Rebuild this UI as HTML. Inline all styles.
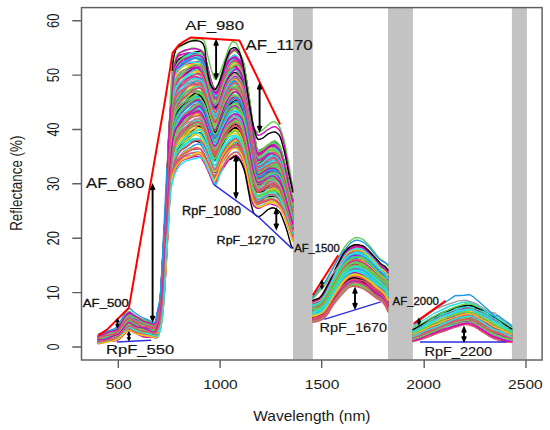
<!DOCTYPE html>
<html><head><meta charset="utf-8"><title>Reflectance spectra</title>
<style>html,body{margin:0;padding:0;background:#fff;width:550px;height:430px;overflow:hidden}svg{display:block}</style>
</head><body><svg width="550" height="430" viewBox="0 0 550 430">
<rect x="0" y="0" width="550" height="430" fill="#fff"/>
<rect x="293.0" y="7.5" width="19.8" height="352" fill="#c3c3c3"/>
<rect x="388.0" y="7.5" width="24.9" height="352" fill="#c3c3c3"/>
<rect x="511.9" y="7.5" width="15.0" height="352" fill="#c3c3c3"/>
<g fill="none" stroke-width="1.4" stroke-linejoin="round" stroke-linecap="round">
<path stroke="#DF536B" d="M98.4 335.6l3.5 -.2l2.5 -.5l6 -2.5l4.5 -1.5l1.5 -.9l1 -1.1l2 -3l6 -9.9l1.5 -1.3l1.5 -.7l.5 -.1l1 .3l3 2.6l2 1l8.5 3.6l5.5 1.7l4 2l1 .2l1 -.4l.5 -.4l.5 -1.2l1 -5.5l2.5 -10.6l1 -7.9l.5 -6.5l5 -86.5l3 -68.3l1 -16.6l2.5 -33.5l1.5 -12.3l1 -5.2l1 -4.1l1 -2.5l1.5 -2.4l1.5 -1.7l1.5 -1.2l2.5 -1.2l4.5 -1.3l4.5 -1.8l2 -.5l1.5 0l1.5 .5l1.5 1l1.5 1.3l2.5 3.9l1.5 4.1l1.5 5.1l4.5 19.3l2 6.4l1 2.3l.5 .7l1 .9l.5 .1l.5 -.3l1 -1.5l1 -2.4l6.5 -21l2 -4.4l2 -3.5l1 -1.2l2.5 -2.1l1.5 -1l1 -.4l1 -.1l1 .3l2 1.1l1 1l1.5 2.3l1.5 3.4l1.5 5.7l4.5 26.7l5 34.9l2.5 13.2l1 3.5l.5 .8l1 .1l1.5 -.4l1.5 -.7l1.5 -1.3l4.5 -5.1l3 -2.3l2 -.9l1.5 -.1l1.5 .6l2 1.6l1.5 1.6l1 2l1 2.9l3 10.8l4.5 21.8l3.9 15.1"/>
<path stroke="#28E2E5" d="M312.8 303.2l6 -2.6l1.5 -1.2l1.5 -1.7l2 -3.2l12 -23.4l8 -14.4l2 -2.6l2.5 -2.4l1.5 -1.1l4.5 -2.2l2.5 -.6l2.5 .1l3 .8l2.5 1.6l6 4.6l3 2.8l2.5 2.8l4.5 6l4.5 3.8l2.7 3.9"/>
<path stroke="#61D04F" d="M413 331l8.5 -6.1l5 -2.6l3 -1.8l1.5 -1.2l4.5 -2.6l4.5 -1.6l.5 .2l.5 -.4l2 -1l1 -.2l.5 -.4l.5 -.1l3 -1.7l.5 -.1l2.5 -1.2l.5 0l.5 -.3l1 -.3l.5 .1l1 -.6l1 .3l.5 -.2l.5 -.4l1.5 -.3l1 -.6l.5 .1l.5 -.2l.5 -.4l2.5 -.5l1.5 -.6l1.5 .4l.5 -.3l.5 .1l.5 .3l1.5 .2l.5 -.1l.5 .4l.5 -.2l1 .4l1 -.3l1 .6l1 0l1.5 .5l.5 -.2l.5 .3l1.5 .3l.5 .4l.5 .1l.5 .9l.5 -.2l1 .5l.5 .7l.5 -.3l2 1.4l.5 .6l.5 -.3l1 1.3l.5 -.2l.5 .3l1 0l1 1.4l1 -.1l.5 .7l1 .8l1 .3l.5 .5l.5 -.2l.5 1.1l.5 .1l1 1l.5 0l.5 .4l1 .3l.5 .9l.5 .4l.5 .1l.5 .8l1 .6l1 0l.5 1l.5 .2l1 .3l1.5 .8l.5 -.1l.5 1l.5 -.3l1.5 1.5l.5 -.2l.5 1.2l.5 .2l1 1l.5 -.2l.3 -.5"/>
<path stroke="#61D04F" d="M98.4 336.7l2.5 -.7l5 -.4l2.5 -.5l2.5 -.9l5.5 -2.6l1.5 -1.5l2 -2.6l6 -9.6l2 -1.8l1 -.5l.5 -.1l1 .6l2.5 2.6l2.5 2l1.5 .9l2 .9l8 2l2 .8l2.5 1.3l1.5 .5l1.5 -.1l1 -.6l.5 -.9l1.5 -6.5l2 -7.5l1 -7.1l.5 -5.8l5 -79.7l3.5 -72l2 -26.1l1.5 -15.4l1.5 -8.9l1 -4.1l1 -3l2 -3l2.5 -2.8l3 -2.9l3.5 -2.5l8 -4.7l2 -1l1.5 -.3l1 0l1 .4l1 1l1 1.3l1 1.9l2 5.6l4.5 17.1l2 6.2l1.5 3.2l.5 .6l1 .5l.5 -.1l.5 -.5l1.5 -2.7l7 -21.3l2.5 -5.5l2 -3.4l1 -1.1l1.5 -1l1.5 -.7l1 0l1 .2l1 .7l3 3l1.5 2.2l1.5 3.2l1 2.8l1 4.3l4 23.5l5.5 35.8l2 9.4l1 3.7l.5 1l.5 .5l2 -.1l2.5 -.6l2.5 -1.4l6 -4.5l1.5 -.8l1 -.3l1 -.1l1.5 .7l1.5 1.1l1.5 1.6l1 1.6l1 2.3l3.5 11.1l4.5 19.7l3.9 14.7"/>
<path stroke="#CD0BBC" d="M312.8 303.7l6 -1.7l1.5 -1.1l2 -2.2l1.5 -2.3l5 -9.1l8.5 -17.2l3.5 -6.4l2 -3.2l2 -2.4l3 -2.5l2 -1.2l4 -1.8l2.5 -.5l2.5 .2l4 .8l2.5 1.5l3 2.3l2 1.8l9.5 10.4l1.5 1.2l3.5 2.2l1.5 1.8l1.7 2.7"/>
<path stroke="#CD0BBC" d="M413 332.4l6.5 -4.5l8 -4.2l3.5 -2.2l3 -1.6l3 -1.1l1 -.5l1.5 -.2l1.5 -.7l.5 -.4l1.5 -.5l1 -1l.5 .2l.5 -.5l.5 -.1l2.5 -1.5l.5 .1l2 -1l.5 .2l2.5 -1l1.5 -.1l1 -.6l.5 0l1 -.2l1 -.6l.5 .1l.5 -.4l.5 0l.5 -.4l.5 .2l.5 -.4l1 .2l1 -.6l1 -.1l.5 .2l1 -.1l1.5 .2l.5 .3l.5 -.2l.5 .1l.5 -.3l1 .4l.5 0l1 .5l.5 -.3l2 .3l3 1.1l.5 .5l.5 -.1l.5 .5l2 .8l.5 .4l1 .5l.5 .6l.5 .1l.5 .5l.5 .1l.5 .4l.5 0l1 1.2l.5 -.1l1 .4l.5 .4l.5 -.2l1.5 1.2l.5 0l1.5 1l1 .4l.5 .6l.5 -.1l1 1l.5 .2l.5 .7l1 .5l.5 .1l1 1l1 .4l.5 .5l1 .4l.5 .7l.5 -.3l1 .7l1 .1l.5 .8l2 1l.5 .1l.5 .7l.5 -.3l.5 .9l.5 -.1l1 1.4l1 .3l.3 .5"/>
<path stroke="#F5C710" d="M98.4 336.4l2.5 -.6l5.5 -2.3l7 -1.2l1.5 -.6l1 -.7l1.5 -1.7l8 -12.6l2 -1.7l1.5 -.8l1 -.1l.5 .1l2.5 1.6l4 2.1l4 2.7l1.5 .6l2 .4l4 .2l1.5 .7l3 1.8l1 .3l1 -.4l.5 -.4l.5 -1.4l1 -5.9l2.5 -10.9l1 -8.1l.5 -6.7l5 -88l3 -68.8l1 -16.4l2.5 -33.5l1.5 -11.9l1.5 -7.1l1 -3.2l.5 -1l1 -1.6l1.5 -1.5l2 -.8l5.5 -.9l5 -2.1l2.5 -.5l1.5 .2l2 .8l2.5 1.4l1.5 1.3l1 1.2l1 1.8l2 5.8l5 21.1l2 6.5l1 2.4l.5 .8l1 .9l.5 .1l1 -1.2l1 -1.9l5 -16.3l2 -5.9l2 -4.1l2 -3.4l1 -1.3l3 -3.1l1 -.8l1 -.5l1 .1l1 .4l2.5 2.3l1.5 2.3l2 4.3l1.5 5.4l4.5 26.5l5 34.7l2.5 13.4l1 3.6l.5 .7l1 -.1l1 -.5l2.5 -1.9l3.5 -3.9l1.5 -1.3l3 -1.7l2 -.9l1.5 -.4l1.5 .1l1.5 .7l2 1.8l1 1.8l1 2.7l3 11.2l1.5 6.7l3.5 17.8l3.9 15.5"/>
<path stroke="#DF536B" d="M312.8 303.3l4 -1.2l2 -.9l1.5 -1.2l2 -2.3l1.5 -2.3l6 -10.5l7.5 -15.4l5.5 -10.1l2 -2.7l3 -3.1l2 -1.5l3 -1.4l2.5 -.6l2 .2l5.5 1.5l2.5 1.5l4.5 3.8l10 10.8l1.5 1.3l3.5 2.4l1.5 1.8l1.7 2.5"/>
<path stroke="#61D04F" d="M413 331l3 -2.3l2.5 -1.6l6 -2.9l5.5 -3.4l2.5 -1.4l.5 0l.5 -.4l1 -.5l1 -.3l1.5 -.8l.5 -.1l1 -.8l.5 -.1l6 -3.7l1 -.1l.5 -.4l1 -.4l4.5 -.9l.5 .1l1.5 -.8l.5 .1l1 -.7l1 -.1l.5 -.4l.5 .1l1 -.7l1 .1l.5 -.5l.5 -.2l1 .1l1 -.4l2 0l.5 -.4l.5 .2l.5 -.3l.5 .1l.5 -.3l1 .2l.5 -.2l.5 .3l.5 -.2l1.5 .1l1 .4l.5 .4l.5 -.6l.5 .4l1 .1l.5 .4l.5 .1l1 .9l.5 -.3l.5 .7l.5 .4l.5 0l.5 .6l1 .5l.5 .6l.5 -.2l.5 .7l1 .2l1.5 1.1l.5 -.3l.5 .5l.5 .1l.5 .7l.5 -.4l.5 .7l.5 -.4l.5 .7l1 .5l1 0l.5 .4l.5 .9l1 .1l.5 .7l.5 -.1l1 .5l1 1.4l.5 -.4l1.5 1.6l.5 -.8l.5 .9l.5 .4l.5 -.3l.5 .8l1 .7l.5 0l.5 .5l.5 .1l.5 .7l1.5 .5l.5 1.2l1 .6l.5 0l.5 .5l.5 .9l1 .1l1 1.1l1 .4l.5 1l1 .3l.3 -.3"/>
<path stroke="#9E9E9E" d="M98.4 337.5l3 -.9l5.5 -.7l2 -.5l2 -.9l5.5 -3l1.5 -1.4l2.5 -2.9l5.5 -7.8l2 -1.9l1.5 -.8l1 .3l4 3.2l3 1.7l2.5 .9l4.5 .8l2 .5l2 1l3 2.1l1.5 .7l1 .1l1 -.6l.5 -.5l.5 -1.2l1 -4.7l2.5 -9.6l1 -7.1l.5 -5.8l5 -79.6l3.5 -71.7l2 -25.9l1.5 -15.1l1.5 -8.5l1 -3.8l1 -2.7l1 -1.3l1.5 -1.5l9 -6.8l2 -1.1l1.5 -.6l3.5 -.8l2 -.2l1.5 .1l1.5 .4l1 .6l1 1.2l1 1.5l1 2.1l2 5.8l4.5 17.3l1.5 4.9l1.5 3.8l.5 .9l1 .7l.5 0l.5 -.2l.5 -.5l1.5 -2.5l2.5 -7.4l4 -10.6l3 -6.1l2 -3.2l1 -1.1l2 -1.6l1 -.6l1 -.3l1 .1l1 .4l2 1.5l1.5 1.5l1.5 2.3l1.5 3.2l1.5 5.4l4 22.1l5 30.6l1 4.9l2.5 9.9l.5 1.1l.5 .5l2 -.8l3.5 -2.1l7.5 -5.8l1.5 -.9l1 -.3l1 0l1.5 .7l1 .8l1.5 1.7l1.5 2.3l1 2.3l3.5 11l4.5 19.4l3.9 14.6"/>
<path stroke="#2297E6" d="M312.8 304.3l4.5 -1.3l2 -.9l1.5 -1.2l2 -2.3l5.5 -9.7l8.5 -17.2l6.5 -12l2 -2.8l2.5 -2.7l2 -1.5l2.5 -1.2l2.5 -.5l2 .1l5 1.7l2 1.1l9 7.6l3.5 3.3l4.5 4.7l4 3.1l1.5 1.8l1.7 2.7"/>
<path stroke="#F5C710" d="M413 331.7l3 -1.9l7 -3.8l5.5 -3.5l10 -4.6l.5 0l3 -1.9l1.5 -.3l.5 -.6l.5 .2l1.5 -.7l2 -.5l2 -.8l1 -.2l1 -.8l1 0l1.5 -.7l.5 -.5l.5 -.1l.5 -.5l1 .1l1 -.7l2 .1l1.5 -.9l1 .3l.5 -.5l3 -.2l.5 -.2l1 .2l.5 -.5l.5 0l1 .5l.5 -.2l.5 .2l.5 -.1l.5 .3l.5 -.2l2 1l1 .1l.5 .5l.5 -.2l1 1.4l.5 -.1l1.5 .9l.5 .1l.5 .5l.5 0l1.5 .8l.5 -.1l.5 1l1 -.3l.5 .8l.5 0l1 .7l1 -.2l.5 .9l1 .9l.5 -.1l1 .9l.5 .2l1 .8l.5 0l.5 .9l.5 -.3l.5 .5l1 .3l1.5 1.3l1 0l.5 .6l.5 -.4l.5 .7l1 .6l.5 -.1l.5 .2l.5 1.1l.5 -.2l.5 0l1.5 1.8l.5 0l.5 .7l.5 .1l1 1l.5 -.1l.5 .6l1 .4l.5 .7l.5 -.2l.5 .6l.5 .1l.5 .4l.5 .2l.5 .7l.3 -.1"/>
<path stroke="#2297E6" d="M98.4 340.2l6 -2.8l7 -1.7l3.5 -1.3l2 -.9l4 -3.5l5 -5.9l2.5 -2.3l1 -.6l1 0l1 .5l9 5.8l2 .8l5 1.5l5 2.6l1 .2l1 -.2l1 -.6l.5 -.9l2.5 -6.9l1 -3.5l1 -5.6l1 -9.6l2.5 -32.9l2 -30.4l4 -74.5l1.5 -16.2l1.5 -11.8l1 -4.9l1 -3.7l1 -2.9l1 -2l2.5 -3.8l8.5 -11.6l2 -2.3l2 -1.7l2 -1.1l2 -.8l2 -.5l2 -.2l.5 0l1 .4l1.5 1.5l1.5 2.4l1.5 3.5l4.5 14.3l2 5.4l1.5 2.8l.5 .4l.5 .1l.5 -.2l1 -1.1l1.5 -2.7l2.5 -7.2l3 -7.1l2 -3.9l3.5 -5.6l3 -3.1l2 -1.3l1 -.2l.5 .1l1 .6l1 .9l2 2.7l1.5 2.6l2 5l1 3.4l1.5 6.9l8 44.6l1 3.9l2.5 7.6l.5 .9l.5 .4l.5 -.1l1.5 -.8l4.5 -3.1l2.5 -1.4l3.5 -1.4l2 -.6l2 0l1.5 .4l1.5 .9l1.5 1.3l1.5 2.1l1 2.1l3 7.9l4.5 16.4l3.9 13.1"/>
<path stroke="#F5C710" d="M312.8 310l6 -1.6l2 -1.3l2 -1.8l2 -2.6l3.5 -5.5l9 -16.2l3.5 -6l2 -3l2 -2.5l3 -2.8l2 -1.3l3 -1.1l2.5 -.2l2.5 .5l5 1.7l3.5 2.1l4.5 3.4l7 6.6l6.5 4.8l1.5 1.8l2.2 3.8"/>
<path stroke="#61D04F" d="M413 334.6l2.5 -1.2l8 -4.7l7.5 -3.6l4.5 -2.4l.5 0l.5 -.5l7 -2.5l.5 -.4l2 -.7l2.5 -1.4l3.5 -1.3l.5 -.4l.5 .2l1.5 -.4l.5 -.4l.5 .4l1.5 -.8l.5 .2l1 -.3l1 0l1 -.5l.5 .2l1 -.5l.5 .2l1 -.6l2.5 -.5l4 .3l1 .4l.5 -.4l1 1l.5 -.8l.5 .8l.5 -.5l1 .9l.5 .1l.5 -.2l1 .3l.5 .6l.5 0l2.5 1.5l.5 -.1l.5 .9l.5 -.5l.5 1.1l.5 -.1l2 1.5l1 .5l.5 .8l.5 0l.5 .7l1 .2l1 1l.5 -.2l1 1.1l.5 -.3l1 .8l1 -.1l1 1.1l.5 .3l1 .5l.5 -.2l1 1.1l.5 -.2l.5 .7l.5 -.1l1 .8l.5 -.3l.5 1.1l.5 -.4l1.5 1.1l1 .3l.5 .7l1 -.1l.5 -.5l.5 1l1.5 .6l1.5 1.6l.5 .1l.5 -.3l.5 .6l.5 -.2l.3 .8"/>
<path stroke="#F5C710" d="M98.4 338.5l3 -.4l1.5 -.4l5.5 -2.8l1.5 -.6l2 -.3l3.5 0l1.5 -.6l1.5 -1.5l1.5 -2l5.5 -8.8l2 -1.9l1.5 -.7l1 .1l3.5 2.4l5.5 2.4l5 3.2l2 .9l1.5 .4l5.5 .5l1.5 -.2l1 -.4l.5 -.5l3.5 -12.6l1 -6.7l.5 -5.3l5 -76l3.5 -70l1 -14l2 -21.8l1.5 -9.7l1 -4l1 -3.1l2 -3.8l2.5 -4l2 -2.5l2 -1.7l5 -2.2l5 -2.8l1.5 -.7l1 -.2l1.5 .2l1.5 .6l1 .8l2 2.7l1.5 2.8l2 5.4l4 14.1l2 5.7l1.5 3.2l1 1l.5 .2l.5 -.1l.5 -.4l1.5 -2.6l6.5 -19.6l2.5 -5.7l2 -3.5l1 -1.2l2.5 -2.3l1.5 -1.1l1 -.5l1 -.2l1 .2l2 1.4l1.5 2l1.5 3.2l1.5 4.3l1 4.1l4 22.4l5 30.9l2 9.1l1.5 5.2l.5 1l.5 .4l1.5 .2l1.5 -.3l2 -1l5 -3.9l2 -.9l1.5 -.2l1.5 .2l2 .9l2 1.2l2.5 2l1 1.4l1 2.3l3 9l4.5 18.9l3.9 14.2"/>
<path stroke="#DF536B" d="M312.8 306.9l3 -.8l3 -1.3l1.5 -1.1l2 -2l2 -2.8l3 -4.9l9 -16.2l7 -11.2l3 -3.9l2.5 -2.7l2.5 -1.7l2 -.9l2 -.3l2.5 .3l4 1.4l2 1.2l14 13.1l6.5 5.1l1.5 1.7l2.2 3.4"/>
<path stroke="#28E2E5" d="M413 333.5l3.5 -1.9l6 -2.6l7.5 -4.2l6 -2.7l5 -2.9l1.5 -.7l1.5 -.4l.5 -.4l1 -.1l1.5 -.8l1 -.1l.5 -.2l.5 .1l1.5 -.8l3.5 -1.1l.5 -.5l1.5 -.2l.5 -.4l1 -.4l3 -.4l.5 -.4l.5 .2l.5 -.2l.5 .2l1.5 -.6l.5 .4l.5 -.3l1 -.3l1 .2l1 -.3l.5 .4l1 -.3l.5 .4l.5 -.1l.5 .3l.5 -.2l.5 .3l.5 -.2l.5 .5l.5 -.2l.5 .6l.5 -.3l1 1.1l1 .6l.5 -.1l.5 .8l.5 .3l.5 -.3l2 1.3l.5 -.4l.5 .9l1 0l.5 .7l.5 -.1l.5 .5l1 .2l.5 .5l1.5 .2l1 1.1l.5 .1l.5 .8l.5 0l2.5 1.4l.5 -.1l.5 .5l.5 .9l.5 0l.5 .3l.5 0l1 1.1l1 .2l.5 .7l.5 -.1l.5 .2l.5 .7l.5 -.5l.5 .8l.5 -.1l3 2.1l1 1l.5 0l.5 .3l1 .1l.5 .7l.5 .1l.5 .5l.5 -.5l.5 1.5l.5 -.9l1 1l.5 -.5l.5 .5l.3 -.3"/>
<path stroke="#61D04F" d="M98.4 342.6l3.5 -.8l5 -.3l2 -.3l9.5 -3.4l3 -1.8l5.5 -5.1l1.5 -1.2l1 -.4l1.5 .4l4.5 2.9l2 .8l2.5 .5l4 .3l2 .3l2 .6l4 1.6l1.5 .3l2 -.3l2.5 -2.7l1.5 -4.2l1 -4.2l.5 -2.9l1.5 -12l1 -10.9l2.5 -35.7l4 -73.1l1 -10.6l1 -7.2l1 -4.4l1 -3.1l1 -2.6l1.5 -2.7l2 -2.1l3 -2.6l3 -2.2l3 -1.9l3 -1.2l6 -1.3l3.5 -.1l1 .4l1.5 2l2.5 4.6l5.5 13.1l2.5 5.5l1 1.4l.5 .2l.5 -.3l.5 -.6l1 -1.9l1.5 -3.3l2.5 -6.6l1 -2l4.5 -7.5l2.5 -3.7l2 -2l1.5 -1l1.5 -.7l2 -.2l1.5 .7l2 2.1l2 2.7l1.5 3l1.5 4.2l1.5 5.4l5 24l2 7.4l1.5 4l2.5 3.1l1 .6l.5 .1l2 -.6l9.5 -5.4l2 -.9l1.5 -.2l1.5 .1l1.5 .6l1.5 1.1l2 2.2l1.5 2.2l1.5 2.8l2 4.5l1.5 4.2l6.9 22"/>
<path stroke="#CD0BBC" d="M312.8 318.2l6.5 -1.5l2 -1l2 -1.6l2.5 -2.9l8 -12.8l6 -8.4l2.5 -3.2l2.5 -2.5l3 -2.4l2 -1.1l3.5 -1.2l2 -.2l2 .1l4.5 1.4l3 1.6l5 3.4l2 1.6l5 4.8l4.5 2.9l2.5 2.2l2 2.9l2.2 4.7"/>
<path stroke="#2297E6" d="M413 338.8l6 -1.3l2 -.7l1.5 -.6l3.5 -1.9l4.5 -1.9l3.5 -1.3l1.5 -.6l.5 -.4l.5 0l3 -1.4l2 -.5l1 -.5l1 -.2l.5 .1l1 -.7l2 -.4l1.5 -.6l.5 0l.5 -.3l.5 0l1 -.7l1.5 -.5l.5 -.6l1 -.1l.5 -.4l1.5 -.8l.5 .1l2 -.6l.5 -.5l.5 .2l2 -.6l.5 .2l1 -.3l1.5 -.2l.5 -.5l2 .6l.5 -.4l.5 .5l.5 -.2l1.5 .2l.5 .4l.5 -.1l.5 .2l1 .6l.5 -.3l2 1.9l.5 -.2l1.5 1.3l.5 .1l.5 .6l1 -.1l1.5 1.6l.5 -.4l1 1l.5 -.5l.5 1.1l.5 .3l.5 -.5l.5 1l.5 .1l.5 .7l1 .3l1 .9l1 .5l.5 0l.5 .8l.5 .2l.5 .8l.5 -.2l1 .4l.5 .6l1 .1l.5 .7l.5 .2l.5 -.3l.5 0l.5 .7l.5 -.4l.5 1.1l.5 -.6l.5 .4l.5 -.4l1 .9l1 -.1l.5 .9l.5 -.2l1 -.1l.5 .3l.5 .6l.5 -.4l.5 .3l.5 -.1l.5 .7l.5 -.2l.5 .4l.5 0l.5 -.3l.5 .5l.5 .1l.5 -.5l1 1.5l.5 -1l.5 .3l.5 -.5l.3 .6"/>
<path stroke="#CD0BBC" d="M98.4 337.7l2.5 -.6l2 -.7l7.5 -3.8l2 -.7l3 -.6l1.5 -.8l3 -3.6l5.5 -8.6l2 -1.9l1.5 -.9l1 0l.5 .2l2.5 1.8l5 2.4l6.5 3.9l7.5 3.3l1.5 .3l1 -.3l1 -.8l.5 -1.1l1.5 -6.9l2 -7.6l1 -7.3l.5 -5.9l5 -81.1l3.5 -73.2l3 -38.3l1.5 -10.9l1 -4.5l1 -3.5l1 -2.1l2.5 -3.7l2.5 -2.8l2.5 -2.2l3 -1.7l3 -1.5l2.5 -.7l2 -.4l1.5 .1l2 .7l2 1.1l1 1l1.5 2.1l1 1.8l2 5.4l4.5 17.1l2 6l1.5 3.2l1 .9l.5 .1l.5 -.1l.5 -.3l1.5 -2.4l6.5 -19.8l2.5 -5.7l2 -3.6l1 -1.3l2.5 -2.6l1.5 -1.2l1 -.5l1 -.1l1 .3l1.5 1l1 1.1l1.5 2.3l1.5 3.5l1 3.1l1 4.5l4 23.7l5.5 36.4l2.5 11.9l1 3.2l.5 .6l.5 .1l2 -.5l2.5 -1.4l5 -4l2.5 -1l1.5 -.3l1.5 .1l2 .8l2 1.4l2 1.9l1 1.6l1 2.4l3 9.2l4.5 19.2l3.9 14"/>
<path stroke="#28E2E5" d="M312.8 306.8l3 -.9l3 -1.2l2 -1.7l2 -2.2l6.5 -10.6l8 -15.6l4 -7.4l2 -3.4l2 -2.6l2.5 -2.6l2 -1.4l2.5 -1.1l2 -.3l2.5 .2l6 1.8l2.5 1.5l5 4.3l9 9.8l5.5 4.5l1.5 1.9l1.7 2.7"/>
<path stroke="#F5C710" d="M413 333l4.5 -2.8l6.5 -2.8l2.5 -1.5l4.5 -3.2l2.5 -1.3l1 -.2l.5 -.4l1 -.4l1.5 -.4l1 -.5l2 -.7l1 -.6l1 -.3l.5 -.5l.5 .1l.5 -.3l.5 -.4l.5 .1l.5 -.4l1 -.1l1 -.6l4.5 -.8l1 -.5l.5 .1l.5 -.5l.5 0l.5 -.4l2 -.7l.5 -.6l.5 .3l1.5 -1.3l.5 .3l1 -.6l1 -.1l1 -.5l1 .1l1 -.4l.5 .3l.5 -.5l1 .6l1.5 -.1l.5 .2l1 -.4l.5 .4l.5 -.6l.5 .3l.5 .7l1 -.3l1.5 .7l.5 -.1l.5 .2l2 1.1l.5 .6l.5 -.1l.5 .5l1 .4l.5 .8l1 .1l.5 .4l.5 0l.5 .6l1 .5l.5 -.2l1 1.1l.5 -.3l1 .8l.5 -.4l.5 .9l1 .4l.5 .5l1 .3l.5 .4l.5 .2l.5 .5l.5 -.2l.5 1.3l.5 -.2l.5 .6l2 1.3l.5 -.1l1 1.3l.5 -.3l.5 .3l.5 1.1l.5 0l.5 .4l.5 -.2l1.5 1l1 0l.5 .5l.5 0l.5 1.2l.5 -.3l2 1.6l1 0l.5 1.3l.5 -.4l1.5 .9l1 1l.3 -.4"/>
<path stroke="#61D04F" d="M98.4 340.8l4.5 -1.4l8 -.8l2.5 -.8l2.5 -1.2l1.5 -1l2.5 -2.3l6.5 -7.6l2 -1.7l1 -.4l1 .3l5.5 3.9l3.5 1.9l2.5 .6l6 .7l5.5 2l1.5 0l.5 -.2l.5 -.4l2 -4.4l1.5 -4.7l1 -5.2l2 -19.6l2 -26.4l1.5 -23l4 -73.2l1 -10.9l1.5 -12.1l1 -5l1 -3.7l1.5 -4.2l1 -1.9l2.5 -3.2l3.5 -3.6l6 -4.9l3 -2l4 -2l2.5 -.6l2 .1l1.5 1.4l1.5 2.4l2 4.4l5 14.9l2.5 6.7l1 1.8l.5 .4l.5 .1l1 -.8l2 -4l2.5 -7.2l3.5 -7.6l3 -5.5l2 -3l1 -1.2l1.5 -1.2l1.5 -1.1l1 -.4l1 -.1l1 .2l1.5 1.2l2 2.4l1.5 2.3l1.5 3.2l1.5 4.1l1.5 6.1l5 26.4l2.5 11.7l1 3.7l2.5 6l1 1.4l.5 .2l1.5 -.1l10.5 -4.2l1.5 -.4l1.5 -.1l1.5 .1l1.5 .5l1 .6l1.5 1.4l1 1.2l1.5 2.5l3.5 8.7l8.4 28.2"/>
<path stroke="#CD0BBC" d="M312.8 315.1l7 -2.5l2.5 -1.7l1.5 -1.4l1.5 -1.9l2.5 -3.7l6.5 -10.8l9 -13.9l2.5 -2.8l2.5 -2.2l1.5 -.8l3 -1l2 -.3l2 .1l2 .4l3 .9l2.5 1.2l5.5 3.7l2.5 2l5.5 5.4l4 3.2l2.5 2.3l1.5 2.1l2.2 4.2"/>
<path stroke="#CD0BBC" d="M413 338.6l7 -3.4l7.5 -2.7l4.5 -2.2l2 -.6l2 -1l.5 0l2 -.7l.5 0l.5 -.4l3.5 -1.3l5 -2.6l1.5 -.3l.5 -.5l.5 .1l2 -.6l1.5 -.1l1 -.5l1.5 0l.5 -.4l3 -.8l1.5 -.7l1 -.3l1 .1l.5 -.2l.5 .1l.5 -.3l1 -.2l.5 .3l.5 -.1l1 .3l1 -.1l2 .7l1 0l.5 .4l1.5 -.2l1.5 .9l.5 .5l.5 -.2l2.5 1.3l.5 .8l.5 .1l.5 .6l.5 0l1 1l.5 -.2l1 1.2l.5 .2l.5 -.1l1.5 1.3l.5 .7l.5 -.1l.5 .8l.5 -.2l.5 .2l.5 .8l.5 .1l1 .7l1 .4l.5 -.5l1 1.1l1 .6l.5 -.1l1 1.2l.5 -.1l1.5 .9l1 .1l1 .5l.5 -.2l.5 .6l1 .3l.5 0l1 .5l.5 -.2l1 .6l.5 .1l.5 -.4l.5 .1l.5 .5l.5 -.2l.5 1.1l.5 -.7l.5 .2l.5 .5l1 -.4l.5 .8l.5 -.1l.5 .3l.3 -.2"/>
<path stroke="#9E9E9E" d="M98.4 340.3l6 -1l7 -2.6l4.5 -.6l1 -.3l2 -1.6l1.5 -1.6l5.5 -7.8l1.5 -1.3l1.5 -.9l.5 -.1l1 .5l3 2.3l2.5 1.4l4 1.5l6 2.7l5 1.2l3 .1l2 -.5l2 -4.5l1.5 -4.5l1 -5.3l2 -19.9l2 -26.4l1.5 -22.8l4 -72.9l2 -19.3l1 -6.1l1 -4.1l1 -2.9l1 -2.2l6 -8.1l2 -2l1.5 -1l6 -2.9l5.5 -3.1l1.5 -.4l1 0l1 .3l.5 .4l1 1.2l1.5 2.3l2 4l1.5 3.6l3.5 9.8l2.5 5.7l1 1.5l.5 .4l.5 0l1 -.7l.5 -.7l1.5 -3l2.5 -7.5l3 -7.5l3 -6.5l2.5 -4.4l1 -1.2l1.5 -1.3l1.5 -1l1.5 -.8l1 -.2l1 .1l1 .5l1 .9l1.5 1.6l1.5 2.6l1.5 3.8l1 3.2l1.5 6.3l5 27l2.5 12.4l1 3.9l2.5 6.5l1 1.4l.5 .2l2.5 0l2.5 -.8l6.5 -3.5l1.5 -.4l1 0l1.5 .4l2.5 1.4l3.5 2.8l1 1.3l1 1.8l3 7.3l8.4 28.8"/>
<path stroke="#2297E6" d="M312.8 315.2l4.5 -1l2 -.7l2 -1.2l2 -1.7l1.5 -1.6l2 -2.8l9 -14l5 -7.3l2.5 -3.3l3 -3.3l2.5 -2.4l3.5 -2.2l2 -.7l2.5 0l2.5 .7l3.5 1.5l3.5 2.4l4.5 3.6l6 5.8l4.5 2.7l2.5 2.1l2 2.6l2.2 4.3"/>
<path stroke="#DF536B" d="M413 337.2l5 -2.2l8.5 -2.6l5.5 -2.7l.5 -.5l.5 -.1l1.5 -.9l1.5 -.4l.5 -.5l4.5 -1.8l2.5 -1.4l.5 .1l1.5 -.8l.5 0l2 -.8l.5 .2l2.5 -1l1.5 -.2l.5 -.2l.5 .1l1 -.4l.5 -.4l1 -.1l1 -.6l.5 .3l1 -.6l.5 .1l1.5 -.8l1 -.1l1 -.6l.5 0l.5 -.6l.5 .3l1.5 -.2l3 .1l.5 .4l.5 -.4l1 .6l.5 -.2l1 .7l1.5 -.3l.5 .8l1 .6l.5 .6l.5 -.1l1 .5l1.5 1.3l1.5 .9l.5 .7l.5 -.2l1 1.1l1 .3l.5 .5l1.5 .5l.5 .6l.5 .1l.5 .5l.5 -.2l1.5 1l.5 0l.5 .6l.5 .2l1 -.3l.5 .6l.5 1l.5 -.1l1 .5l.5 .4l.5 -.3l1 .6l1 1.1l1 .3l.5 -.1l.5 .8l.5 -.1l1 .5l2 .4l.5 .6l.5 0l.5 .5l.5 -.6l.5 1l.5 -.2l2 .2l.5 .9l.5 -.2l1 .6l.5 -.2l1 .3l.5 .5l.8 0"/>
<path stroke="#2297E6" d="M98.4 341.9l3 -1.4l2 -.6l2 -.3l4 -.2l2 -.3l2.5 -.7l3 -1.1l2 -1.1l2 -1.5l5.5 -5.5l2 -1.7l1 -.5l.5 0l1 .4l2 1.3l3 2.3l2.5 1.6l1.5 .7l2 .6l5.5 .7l5 1.5l1.5 .2l1.5 -.3l.5 -.3l2 -2.7l1.5 -4.1l1 -4.4l1.5 -11l1 -10.1l1.5 -18.8l1.5 -23.3l4 -73.6l1 -10.8l1 -7.7l1 -5l1 -3.7l1.5 -4.1l1.5 -2.9l2.5 -3.3l3 -3.2l2.5 -2.2l3.5 -2.4l3 -1.2l5 -.8l3.5 .1l.5 .1l1 .8l1.5 2.2l2 3.9l7.5 19.7l1 2.1l.5 .7l.5 .3l.5 0l1 -1.2l2 -4l2 -5.4l1.5 -3.2l2.5 -4.3l5 -7.7l2.5 -2.5l1.5 -1.1l1 -.5l1.5 -.1l1.5 .9l2 2.4l2 3.1l1.5 3.3l1.5 4.1l1.5 5.5l5.5 26.7l2 7.5l.5 1.5l1 2l2 2.8l1 .7l.5 .1l2 -.9l4.5 -2.6l5.5 -2.5l2 -.7l2 -.4l2 .1l1.5 .6l1.5 1.1l1.5 1.7l1 1.5l3 6.3l8.4 26.2"/>
<path stroke="#DF536B" d="M312.8 316.5l5 -1.5l2 -.8l2.5 -1.5l1.5 -1.3l1.5 -1.8l2.5 -3.7l4 -6.8l3.5 -5.5l7.5 -10.5l3 -3.3l2.5 -2.2l1.5 -.9l3 -1l2.5 -.2l3 .6l3.5 1.2l2.5 1.5l6.5 5.3l5.5 4.8l4.5 2.9l2.5 2.1l1.5 1.7l1 1.5l2.2 4.3"/>
<path stroke="#CD0BBC" d="M413 339.3l4 -1.1l7 -3.2l6.5 -2l2 -1l2 -.8l1 -.7l.5 0l2.5 -1l2.5 -.5l3 -1l.5 .1l1.5 -.8l1 -.1l1.5 -1.1l1.5 -.5l1 -.7l1 -.4l.5 0l3.5 -1.3l.5 .4l1.5 -.4l.5 .1l.5 -.5l.5 .2l.5 -.4l2.5 -.7l1 -.6l1 .1l1 -.4l.5 .1l.5 -.4l1 .5l1 -.1l.5 .4l.5 0l.5 .3l.5 -.2l1 .6l2 .5l1 .6l.5 -.2l2 1.4l.5 -.2l.5 .6l.5 -.2l3.5 2.3l.5 0l2 2.1l.5 .8l.5 -.2l.5 .2l1 1.1l1 .3l1 .9l.5 -.1l.5 .3l.5 .8l.5 -.5l.5 .8l.5 0l.5 .6l1 -.2l.5 .7l.5 -.3l.5 .8l.5 .1l.5 -.2l.5 .4l1 0l.5 .7l.5 0l1.5 .9l1 0l1 .4l1 .1l.5 .7l.5 -.3l.5 .4l.5 -.6l.5 .2l2.5 .2l.5 .7l1 -.6l.5 .2l.5 .5l.5 .1l.5 -.2l.3 .5"/>
<path stroke="#000000" d="M98.4 342.8l2 -.5l4 -1.7l1.5 -.4l2 -.2l4.5 .2l2.5 -.7l3 -1.9l8 -7l2.5 -1.6l1 -.4l1 0l3 1.1l7 4l2.5 .8l6 -.2l1.5 .4l3.5 1.5l1 .3l.5 -.1l.5 -.4l2 -2.4l1 -2.6l1 -3.8l1 -5.4l1.5 -12.4l1 -11.1l2.5 -35.9l4 -73.4l1 -10.7l1 -7.5l1 -4.8l1.5 -4.9l2 -4.7l2 -3.3l1.5 -1.8l1.5 -1.3l5 -3.1l4 -3.2l2 -1.4l2.5 -.9l2 0l3.5 .9l1.5 1.5l2.5 4l1.5 3.2l4.5 12.3l3 7.6l1 1.3l.5 0l1 -1.1l.5 -1.1l1.5 -3.4l2.5 -7l1 -2.1l2.5 -4.3l3 -4.3l2.5 -2.8l4.5 -3.6l1 -.5l1 0l1.5 1l1.5 1.9l2 3.2l1.5 3.4l2 5.4l1.5 5.9l4.5 22l2 7.7l1.5 4.3l1.5 2.4l1.5 1.9l1 .8l.5 0l1 -.3l1 -.5l4.5 -3.4l2 -.9l2 -.5l2.5 -.2l4.5 .4l1.5 .5l1.5 1.1l1.5 2l1 1.9l3 6.9l8.4 26.2"/>
<path stroke="#000000" d="M312.8 320.2l3 -.7l3 -1.2l3.5 -2l2 -1.5l1.5 -1.7l2.5 -3.4l3.5 -5.7l3 -4.3l8 -10.2l4 -4.5l2 -2l2 -1.2l2 -.7l1.5 -.1l1.5 .1l6.5 1.8l2.5 1.2l3 2.1l3 2.3l5.5 4.7l4 2.5l2 1.7l1.5 1.9l1.5 2.3l2.7 5.7"/>
<path stroke="#000000" d="M413 337.1l5.5 -2.9l7 -2.4l8 -3.8l5.5 -2.1l1 -.6l1.5 -.5l.5 -.4l1 -.3l1 -.5l1 -.3l.5 -.3l1 -.1l1 -.6l.5 .3l1.5 -.4l.5 -.3l.5 .2l2.5 -.7l.5 .1l1.5 -.7l.5 0l1.5 -.4l2.5 -1l1.5 -.8l1 0l.5 -.5l.5 .1l1 -.7l1 .3l.5 -.3l.5 0l.5 .2l.5 -.3l1.5 .3l1 0l1 .2l1.5 0l.5 .4l.5 0l.5 .7l1 -.2l3 2l1 1.2l.5 -.1l1.5 1.4l1 .7l1 .3l1.5 1.3l.5 .2l.5 -.4l.5 .8l1 -.1l.5 .8l1.5 .5l1 .8l.5 0l.5 .6l1.5 1l1 .2l.5 .3l1 1.1l1 .2l.5 .4l.5 -.2l1.5 1.2l1 .4l.5 0l1 .8l.5 -.3l1 .8l.5 .7l.5 -.1l.5 .5l.5 .1l.5 -.3l.5 .3l.5 -.2l.5 .9l2.5 .6l1 .5l.5 -.4l.5 .1l1 .8l.3 -.2"/>
<path stroke="#CD0BBC" d="M98.4 339.6l7 -3.4l2 -.4l5 -.6l2 -.6l1.5 -.8l1.5 -1.3l2 -2.3l6 -7.9l2.5 -2.3l1.5 -1l.5 -.1l1 .3l3 1.6l6 4.2l2.5 1.2l6 .8l5 2.5l.5 .1l1 -.3l.5 -.4l.5 -1l3.5 -12.6l1 -6.4l.5 -5.2l1.5 -20.3l3.5 -53.8l3 -59.8l1 -16.2l2 -22.2l1 -8l1.5 -7.4l1.5 -4.8l1 -2l1.5 -2l1.5 -1.6l6 -4.8l3.5 -3.2l2 -1.6l2 -1l2 -.6l4.5 -.2l1.5 .5l2 1.9l1 1.7l1.5 3.4l4.5 14.6l2 5.4l1.5 2.8l.5 .4l.5 .1l.5 -.2l.5 -.4l2 -4.2l2.5 -8.6l4 -12.1l2.5 -5.8l2.5 -4.9l3.5 -5.1l1 -1.1l1 -.6l1 -.1l1 .4l2 1.8l1.5 2.1l1.5 2.9l1.5 3.8l1 3.9l4 22.5l5.5 34.4l2.5 11l1 3l.5 .6l1 -.2l7.5 -4.4l1.5 -.5l4 -.6l2.5 .1l1.5 .5l1.5 1l1.5 1.6l1 1.6l1 2.3l3.5 11.1l4.5 19l3.9 14.1"/>
<path stroke="#28E2E5" d="M312.8 309.7l6.5 -2.6l2 -1.3l2 -2l2 -2.7l3 -4.8l8 -14.5l7 -11.7l2 -2.6l2.5 -2.6l1.5 -1l2 -.8l2.5 -.5l3 .2l5 1.2l2.5 1.2l7 5.3l8 7.4l5 4.2l1.5 1.7l2.2 3.6"/>
<path stroke="#61D04F" d="M413 335.2l11.5 -5.5l8.5 -3.3l3.5 -1.7l1 -.7l1.5 -.6l.5 -.5l3 -1.3l1 -.1l2.5 -1.2l.5 .1l5 -2.1l.5 0l1 -.6l.5 .2l2.5 -1.1l2 -.2l.5 -.3l.5 .1l.5 -.4l.5 .1l1 -.4l1 -.1l.5 -.2l.5 0l.5 -.3l.5 .1l1 -.5l.5 .2l.5 -.5l.5 .2l1 0l.5 -.3l2.5 .6l1.5 .1l1.5 1l.5 -.1l.5 .5l.5 -.2l.5 .7l.5 -.1l.5 .5l1 .3l1 1l.5 -.1l.5 .5l2 1.1l.5 -.1l.5 .5l1 .4l.5 .5l.5 0l.5 .6l.5 0l1.5 1.4l.5 -.1l.5 .3l.5 .7l.5 -.6l.5 1.3l.5 .2l.5 -.2l.5 .8l1 .3l.5 -.4l.5 .7l2 .9l.5 -.4l.5 .9l1.5 .6l1 .7l.5 .6l.5 -.3l.5 .9l.5 -.3l1 .3l.5 .9l.5 -.4l.5 .9l1.5 .3l.5 .5l1 .5l1 .1l.5 .5l.5 -.3l.5 .7l1 -.2l1 .6l.5 -.2l.5 1.1l.3 0"/>
<path stroke="#61D04F" d="M98.4 341.4l6.5 -3l2 -.4l5.5 -.8l2 -.7l2 -1l1.5 -1.1l2.5 -2.3l5 -5.6l1.5 -1.4l2 -1.7l1 -.3l1 .2l2.5 1.3l6 3.9l2.5 1.2l6.5 1.2l5 2.2l1.5 -.2l.5 -.3l.5 -.7l2.5 -6.3l1.5 -5.7l1 -7.3l1 -10.4l2 -26.1l2 -30.1l4 -73.8l1 -11.1l1.5 -12.7l1 -5.4l1 -3.9l1.5 -4.3l1 -2l2.5 -3.5l2.5 -2.9l7 -7.1l2.5 -2l1.5 -.8l2 -.6l3.5 -.4l2 .2l1 .6l1 1l2 3l1.5 3.4l4.5 13.5l2.5 6.3l1 1.6l.5 .4l.5 0l1 -.9l1.5 -3l1 -2.5l2 -6.3l3 -7.6l2 -4.3l3.5 -6.4l3.5 -4.5l2 -1.8l.5 -.2l1 0l1 .5l1 .9l1.5 1.8l1.5 2.4l1.5 3.2l1.5 4.4l1.5 6.5l8 43.6l1 3.8l2.5 7.4l.5 .9l.5 .5l.5 -.1l1.5 -.5l4 -2.3l2 -.9l2 -.5l3.5 -.3l2.5 .2l2 .7l1.5 1l1.5 1.5l1 1.4l1.5 3.1l3 8.1l4.5 16.1l3.9 13"/>
<path stroke="#DF536B" d="M312.8 314.9l7 -1.8l2 -1.2l2 -1.7l1.5 -1.8l3 -4.5l12.5 -20.5l3 -4.3l2.5 -2.8l2 -1.8l1.5 -.9l3.5 -1.3l1.5 -.1l1.5 .1l1.5 .4l2 .7l3.5 1.9l7 4.9l7 6.1l4.5 3l2.5 2.1l1.5 2l2.2 4.2"/>
<path stroke="#CD0BBC" d="M413 336.5l4.5 -2l5.5 -3.4l2.5 -1.4l4 -1.4l4.5 -1.8l3.5 -2.1l1 -.3l1 -.6l5 -1.6l1 -.1l2 -.8l.5 0l.5 -.6l1 -.1l1.5 -1.1l.5 .1l1.5 -.7l2.5 -.4l.5 -.3l.5 .1l.5 -.4l.5 .3l.5 .1l.5 -.2l.5 .3l.5 -.6l2 -.4l.5 -.3l.5 -.1l.5 .3l.5 -.6l.5 0l.5 -.5l1 0l1 -.5l2 .2l.5 -.4l.5 -.1l.5 .4l1.5 .6l.5 -.2l.5 .6l1 -.3l.5 .6l1 .3l.5 -.1l3 1.9l1 .2l.5 .6l.5 0l.5 .4l1.5 .1l.5 .8l.5 .2l1 1l.5 -.1l.5 .3l.5 .8l1.5 1l.5 .1l.5 .7l.5 .1l1 1l.5 0l2 1.4l.5 -.1l1 .4l.5 -.1l2.5 1.8l.5 -.6l.5 .5l.5 -.2l.5 .6l.5 .1l.5 1l.5 .2l.5 -.2l1.5 1.7l1 .1l1.5 .8l1 0l.5 .8l.5 -.3l1 .8l.5 0l.5 .5l.5 -.5l.5 .8l.5 -.4l.5 .1l.8 .8"/>
<path stroke="#F5C710" d="M98.4 341.6l2 -.9l1.5 -.4l5 -.2l2 -.3l9.5 -3.2l1.5 -.9l1.5 -1.3l1.5 -1.7l4 -5.1l1.5 -1.5l1 -.6l.5 0l1 .6l4.5 3.6l2 1.1l2.5 .7l5 .8l7 2.4l2 0l2 -.9l.5 -.6l1.5 -3.1l1.5 -4.2l1 -4.8l1 -7.8l1.5 -15.8l1.5 -19.5l1.5 -23.1l4 -73.3l1 -10.8l1 -8.3l1 -5.6l1 -4.1l1 -3.1l1.5 -3.4l8 -10.8l2.5 -2.7l2.5 -1.8l4.5 -2l3.5 -1.9l1.5 -.6l1.5 -.2l1 .7l2 2.9l2 4.3l5 14.3l2.5 6.1l1 1.6l.5 .3l.5 0l.5 -.3l1 -1.3l1.5 -2.7l2.5 -6.5l2 -4.2l5 -9.1l2 -3.1l1 -1l1.5 -1.2l2 -.9l1 0l1 .3l1.5 1.2l2 2.2l1.5 2l1.5 3.1l1.5 4.2l1.5 5.9l5 25.6l2.5 11.2l1 3.4l2 4.5l1 1.6l.5 .3l.5 0l8 -2.8l5 -2.3l1.5 -.3l1.5 .1l1 .4l1.5 1l1 .9l2 2.4l1.5 2.4l1.5 3.2l2 5.1l8.4 28.7"/>
<path stroke="#F5C710" d="M312.8 313.4l7 -2l2.5 -1.6l1.5 -1.4l1.5 -1.9l2.5 -3.9l8 -14.2l5 -8l2.5 -3.7l2.5 -2.9l2.5 -2.1l1.5 -.9l3.5 -1.2l3 -.4l3 .2l3 .8l2 1.2l6.5 5.4l6.5 6l7 5.3l2 2.6l1.7 3.2"/>
<path stroke="#F5C710" d="M413 339.2l2.5 -1l7 -3.2l5 -1.6l.5 -.4l2 -.7l3.5 -1.7l4.5 -1.5l3.5 -.8l1 -.5l.5 0l2.5 -1.2l2.5 -1.6l1 -.3l1 -.6l.5 -.2l.5 .2l.5 -.4l.5 .2l.5 -.4l.5 0l.5 -.3l2 -.1l1 -.6l.5 .1l1 -.3l1 0l.5 -.4l1 0l.5 -.5l.5 .3l1 -.5l.5 .1l.5 -.3l.5 .1l1 -.4l.5 .2l1.5 -.1l1 .2l.5 .5l.5 -.4l.5 .5l1 0l.5 .4l.5 -.1l.5 .4l.5 -.2l1 .2l1 .5l.5 0l1 .8l.5 -.2l.5 .7l.5 -.2l1 .3l.5 .5l.5 .2l1 1.1l1.5 .7l1.5 .9l.5 1l1 .1l1 1.2l.5 -.1l.5 .4l1 .2l1 1.7l.5 -.7l.5 .1l.5 1l1 .2l.5 .5l.5 -.2l1 .8l.5 0l1.5 .9l.5 .2l.5 -.3l.5 .7l.5 -.1l.5 .3l.5 0l.5 .9l.5 -.1l.5 .1l.5 .6l1 -.1l.5 -.4l.5 .8l1 -.1l.5 .4l.5 -.4l1 .6l1 -.3l.5 .7l.5 0l.5 .4l.5 -.5l1 .6l2.3 .3"/>
<path stroke="#61D04F" d="M98.4 339.9l2 -.3l1.5 -.4l5 -2.8l2 -.8l2 -.4l4 .2l1.5 -.4l1.5 -1.1l1.5 -1.6l6 -7.9l1.5 -1.3l2 -1l1.5 .1l2.5 1.4l4.5 1.6l5.5 3.5l2.5 1.2l8.5 .9l1.5 -.4l.5 -.6l2.5 -7.3l1 -3.7l1 -6l1 -10.3l2.5 -34.4l2 -30.7l4 -74.8l1 -11.3l1.5 -13.9l1.5 -8l2 -5.7l4 -5.8l2 -2.1l1.5 -1.1l4.5 -1.9l5 -2.4l2 -.8l1.5 -.1l1 .1l1.5 .6l1.5 .8l1 1l2 2.9l1.5 2.7l1.5 3.6l4 12.2l2 5l1.5 2.9l1 .7l.5 -.1l.5 -.3l1.5 -2.6l1 -2.5l2 -6.4l3.5 -9.2l2 -4.3l2.5 -4.2l1.5 -1.8l2.5 -2.3l2.5 -1.9l1 -.3l.5 .1l1 .5l1 .8l1.5 2l1.5 2.9l1.5 4l1 3.4l1.5 6.5l8 43.4l2 6.9l1.5 3.9l.5 .9l.5 .4l1 -.1l1 -.3l2.5 -1.7l5 -4.7l1.5 -.9l1.5 -.4l2 -.1l3.5 .9l1.5 .5l2 1.3l1 1.2l1 2l3 8.1l4.5 17.5l3.9 13.6"/>
<path stroke="#CD0BBC" d="M312.8 311l4.5 -1.1l2 -.7l2.5 -1.6l2 -1.9l2 -2.7l2.5 -3.8l8.5 -15.2l4 -6.7l2.5 -3.7l2.5 -2.9l2.5 -2.4l1.5 -1l3 -1.2l2 -.2l2.5 .4l4.5 1.6l2 1.1l4.5 3.7l8 7.5l8 5.6l1.5 1.7l2.2 3.7"/>
<path stroke="#DF536B" d="M413 336.4l5.5 -3l2.5 -1.1l3.5 -1.2l2.5 -1.1l5 -3l3 -1.5l.5 .1l.5 -.4l5.5 -2.1l2.5 -1.2l.5 -.4l1 -.2l2.5 -1l2.5 -.7l3 -.4l2.5 -.9l.5 .1l1 -.7l.5 -.2l.5 .1l.5 -.4l1.5 -.3l.5 -.4l2 -.2l1 -.4l.5 .1l.5 -.3l.5 .2l.5 -.1l1.5 0l.5 .5l1 .1l.5 .3l1.5 -.1l.5 .4l1 .2l.5 -.2l.5 .2l.5 -.1l.5 .7l1.5 .4l1 .5l.5 .5l.5 0l.5 .6l1.5 .5l1 .8l.5 .1l1 1l.5 .1l.5 -.2l.5 .1l.5 .9l.5 .3l.5 -.2l.5 .5l1 .1l.5 .6l.5 -.1l1 1l.5 -.2l.5 .7l.5 -.4l.5 .8l.5 .1l.5 .9l.5 -.3l.5 .1l.5 .9l.5 -.4l.5 .8l.5 0l.5 .9l.5 -.1l.5 .6l1.5 .2l.5 1.3l1 -.2l1 1l.5 -.4l.5 1.3l.5 -.5l.5 .2l.5 .7l1 -.3l.5 .8l.5 .1l.5 .3l.5 -.3l.5 .1l.5 .7l1 -.3l1 1.2l.5 -.1l.5 .7l.5 -.3l.5 .3l.5 -.2l.3 .3"/>
<path stroke="#DF536B" d="M98.4 337.1l7 -2.6l2 -.4l4.5 -.3l2 -.6l1.5 -.8l1 -.8l1 -1.2l5 -7.5l3 -4.1l2 -1.6l1.5 -.8l1 0l.5 .1l9.5 6.2l2 1l2 .3l3 -.2l1.5 .1l1.5 .6l3 1.9l1 .3l1 -.2l.5 -.4l.5 -1.2l1 -5.1l2.5 -10l1 -7.5l.5 -6.1l5 -82.6l3.5 -73.8l3 -38.6l1.5 -11l2 -8.5l.5 -1.4l1 -1.9l1 -1.4l1.5 -1.4l1.5 -.8l5 -2.1l5 -3.8l1.5 -.9l1.5 -.6l2 -.2l2 .2l2 .5l1.5 .9l1 1l1 1.6l2 5.3l5 19.4l2 6.1l1 2.2l.5 .7l1 .6l.5 -.1l.5 -.6l1.5 -3l2.5 -8.3l3.5 -10.6l1.5 -3.6l2 -3.6l1.5 -2.2l1 -1.1l3.5 -2.6l1.5 -.3l1 .4l1 .9l2 2.6l2 3.7l2 5l1 3.4l1 4.8l3 18l6 39.2l2.5 11.6l1 3.2l.5 .7l.5 0l1.5 -.6l2.5 -1.8l5 -4.6l6 -3.4l1.5 -.4l1.5 .2l1 .4l1.5 1.2l1 1.5l1 2.5l3.5 11.9l4.5 20.6l3.9 14.7"/>
<path stroke="#2297E6" d="M312.8 303.5l4 -1.2l2 -.9l1.5 -1.2l2 -2.3l1.5 -2.3l6 -10.6l7.5 -14.7l4 -7.5l2 -3.3l2 -2.7l3 -2.9l1.5 -1l3 -1.5l2.5 -.5l2.5 .2l5 1.4l3 1.7l5 3.8l5 4.9l4.5 5l1.5 1.3l3 2.1l1.5 1.7l1.7 2.6"/>
<path stroke="#CD0BBC" d="M413 333.4l2.5 -1.7l2.5 -1.5l6.5 -2.6l6 -3.6l1 -.3l1.5 -.9l3 -1.1l.5 -.4l1 -.4l1 -.6l.5 0l1 -.7l1.5 -.5l.5 -.6l3 -1.5l3.5 -1l1 -.1l.5 .2l1 -.6l1.5 -.1l.5 -.5l1 0l1.5 -.5l.5 -.4l.5 0l1 -.6l.5 0l.5 -.3l1 -.2l.5 -.4l1 .2l.5 -.5l1 0l.5 -.4l.5 -.1l.5 .1l.5 -.3l.5 .3l2 .1l.5 -.2l.5 .3l1.5 -.2l.5 .2l.5 -.2l1 .4l.5 -.3l.5 .1l1.5 .6l1 .7l2 .5l.5 .7l2 1.2l.5 -.1l.5 .8l.5 .4l1 .3l1.5 1.3l2 .2l.5 .4l.5 0l1 1l1.5 .5l.5 .5l1 -.2l.5 .8l.5 .3l.5 -.2l.5 .6l.5 -.1l1 1.5l.5 -.2l.5 .8l1.5 0l.5 .9l.5 .2l.5 -.3l1 1.2l.5 -.3l.5 .5l.5 -.3l1 1.1l.5 -.2l1 .4l.5 .6l.5 0l1.5 1.7l.5 -.2l.5 .9l1 .2l1 1.1l.5 .4l1 .1l.5 .6l1.3 .4"/>
<path stroke="#28E2E5" d="M98.4 340.9l2.5 -.8l7 -2.9l2.5 -.5l4.5 -.4l2 -.7l3 -2.9l6 -7.7l2 -1.8l1.5 -.8l.5 0l1 .4l6.5 3.4l4.5 2.7l3 1.1l4 .6l3.5 .7l1.5 0l1.5 -.5l.5 -.6l.5 -1.3l2.5 -7.6l1 -4.5l1.5 -13.6l2.5 -34.5l2 -31.2l4 -75.9l2.5 -26.2l1.5 -8.7l1.5 -5.4l1 -2.6l2.5 -4.2l2 -2.8l2 -2.2l2 -1.4l5.5 -2.8l1.5 -.4l2.5 -.4l2 .2l1.5 .6l2 1.2l1 .9l2 3.2l1.5 3.1l2 5.7l4 13.9l2 5.7l1.5 3.4l1 .8l.5 -.1l.5 -.3l2 -3.3l2.5 -7.3l3.5 -8.7l3 -6.2l2.5 -4.3l3.5 -4.2l2 -1.7l1 -.3l1 .2l2 1.4l1.5 1.9l1.5 2.9l1.5 3.9l1 3.5l1.5 7l7.5 40.8l2 7.2l1.5 4.2l.5 .8l.5 .4l1.5 -.1l2.5 -1.1l5 -2.8l2 -.6l2 -.1l2 .4l3 1.3l1.5 1l2 1.9l1 1.5l1 2.1l3 8.2l4.5 16.9l3.9 13.4"/>
<path stroke="#28E2E5" d="M312.8 311.5l4.5 -1.5l2 -.9l2 -1.5l1.5 -1.5l1.5 -2l2.5 -4l9 -16l7.5 -11.8l2.5 -3l2.5 -2.5l1.5 -1l3.5 -1.5l2.5 -.4l2.5 .2l3.5 1.1l2.5 1.4l7 6l7 6.8l5.5 5l2 2.5l2.2 4.1"/>
<path stroke="#9E9E9E" d="M413 335l6.5 -3l6 -3.3l4.5 -1.9l4 -1.4l7 -3.2l1 -.2l2 -.7l2.5 -.7l1.5 -.6l.5 .2l.5 -.6l.5 0l.5 -.5l1 -.2l.5 -.5l1.5 -.6l2.5 -.8l1 -.2l1 -.6l1 .1l1 -.4l.5 -.1l.5 .2l2 -.9l.5 .5l.5 -.6l1 -.3l.5 .1l1 -.7l1.5 .5l.5 -.4l.5 -.1l1.5 .2l1 .3l.5 0l.5 .4l.5 -.1l1 .2l1.5 .9l.5 -.1l.5 .5l.5 0l1.5 1.2l.5 -.2l.5 .1l1 .9l.5 0l.5 .7l.5 -.6l.5 .9l1 .4l.5 -.1l.5 .7l1 .6l.5 0l.5 .3l.5 .7l1.5 .7l.5 .6l.5 0l.5 .8l.5 .3l.5 -.1l1 1.3l1 0l1 1.1l.5 -.3l1 1.1l.5 -.1l.5 .1l1 1.1l1 -.3l.5 .2l.5 .6l.5 -.1l1 1.2l.5 -.7l.5 1l.5 .4l.5 0l1.5 1.2l.5 .7l.5 -.5l.5 -.1l1 .3l.5 .7l1.5 .4l.5 .6l1 .1l.5 -.3l.5 .2l.5 -.1l.3 .3"/>
<path stroke="#CD0BBC" d="M98.4 343.1l2 -1.1l2 -.6l1.5 -.2l4 0l1.5 -.3l5.5 -2.1l4.5 -1.4l1.5 -.8l1.5 -1.1l5.5 -6l1.5 -1.2l1 .1l1 .6l1.5 1l3 2.4l2 1.1l2 .6l5.5 .6l2 .7l3.5 1.6l1.5 .4l1.5 0l2 -.8l1.5 -1.5l1 -1.8l1.5 -4.6l1 -5.1l1.5 -11.6l1 -10.6l1 -12.6l1.5 -23.2l4 -73.6l1 -10.6l1 -7.3l1 -4.4l1 -3.2l1 -2.6l1.5 -2.9l2 -2.4l5.5 -5.6l2.5 -2.3l1.5 -1l1 -.4l1.5 -.3l4.5 0l4.5 -.3l1 .1l1 .8l1.5 2.3l2 4l5.5 14.1l2 4.7l1 1.9l.5 .6l.5 .2l.5 -.2l.5 -.6l1 -1.8l1.5 -2.9l2.5 -6.2l1 -1.8l8 -12.4l2 -2l2 -1.4l1 -.3l1 0l1.5 .7l1.5 1.6l2.5 3.1l1.5 3l1.5 4.1l2 7.4l4.5 21.6l2 7.4l1.5 3.9l2 2.6l1 .9l.5 .1l1.5 -.4l4 -1.9l3.5 -.9l4 -1.5l1.5 -.4l1.5 0l1 .2l1.5 .7l1.5 1.2l3.5 4.3l1.5 2.6l2 4.2l5 14.5l3.4 10.7"/>
<path stroke="#9E9E9E" d="M312.8 318.5l7 -2.1l2.5 -1.4l2 -1.5l1.5 -1.8l2.5 -3.4l6.5 -10.3l5.5 -7.8l2.5 -3.2l3 -3.1l2.5 -2.1l1.5 -.8l3 -1.1l1.5 -.1l2 .1l5.5 1.5l2.5 1.1l3.5 2.3l3.5 2.8l5.5 5.3l4 2.4l2.5 2.2l2 2.5l2.7 5.3"/>
<path stroke="#F5C710" d="M413 338.7l2.5 -.9l6 -2.6l7 -2.3l8.5 -4.2l1 -.2l1 -.6l3.5 -1.2l1.5 -.8l.5 -.4l2 -.6l1 -.8l1.5 -.5l1 -.6l1 -.2l.5 -.4l1.5 0l1 -.4l1.5 -.1l1 -.6l.5 .5l1 -.6l.5 .2l.5 -.6l1.5 -.2l1.5 -.6l.5 .1l1 -.7l.5 .1l.5 -.3l1 .1l.5 .3l1 -.5l.5 .3l.5 -.1l.5 .6l.5 -.1l.5 .3l1 -.2l.5 .4l.5 -.2l1.5 .7l1 0l.5 .8l.5 -.1l1 .7l1 .3l.5 .3l.5 .8l1 .4l.5 .6l.5 -.4l.5 .7l.5 .3l.5 -.1l.5 .8l.5 .4l.5 .3l.5 -.2l.5 .7l2.5 1.9l.5 0l.5 .8l.5 -.3l1 .6l1 .2l.5 .6l.5 -.6l.5 .2l.5 1.1l.5 -.1l1.5 .4l.5 -.1l.5 .3l.5 .1l.5 .7l1.5 .5l1 0l.5 1l1 -.1l1 .8l1.5 .5l.5 -.2l.5 .6l1 .2l.5 -.5l.5 .7l1 .3l.5 -.8l.5 .4l.5 .8l.5 -.2l.5 .6l.5 0l.5 .5l.5 -.3l.5 .1l.5 .6l.3 -.1"/>
<path stroke="#61D04F" d="M98.4 339.2l3 -1.3l2 -.6l5.5 -.4l1.5 -.3l2 -.8l2 -1.2l2 -1.3l1.5 -1.3l3.5 -3.7l4.5 -5.5l2.5 -2.4l1 -.5l.5 -.1l1 .4l6 4.3l2.5 1.3l2 .6l4 .1l2 .4l1.5 .8l3 2.1l1.5 .7l.5 0l1 -.4l.5 -.4l.5 -1.1l3.5 -12.2l1 -6.3l.5 -5l1.5 -19.8l3.5 -53.3l3 -59.5l1 -16.4l2 -22l1 -8l1 -5.4l1 -4.1l1 -3.2l1 -2.1l2 -2.5l5 -4.9l5 -5.6l2.5 -2.2l2 -1.1l2 -.7l2 -.5l2 -.2l1.5 .2l1 .9l1 1.2l1.5 2.9l1.5 4l5 17.6l1.5 4.3l1.5 3.2l.5 .4l.5 .2l.5 -.1l.5 -.4l2 -3.5l2.5 -7.4l3.5 -8.6l3 -5.7l2.5 -3.8l3 -2.9l1 -.7l1 -.3l1 .2l1 .5l2 2.1l2 2.6l1.5 2.8l1.5 3.7l1 3.7l1.5 7.5l7.5 42.6l1 4.3l2.5 8.6l.5 1l.5 .4l.5 -.1l8.5 -5.3l4.5 -2.3l2 -.8l1 -.1l1.5 .5l1 .7l1.5 1.5l1 1.5l1.5 3.2l3.5 10.5l4.5 18.2l3.9 13.9"/>
<path stroke="#DF536B" d="M312.8 317.3l3 -.6l3.5 -1.2l3 -1.8l2 -1.8l1.5 -1.9l2.5 -3.7l3.5 -6.1l3.5 -5.6l7.5 -10.8l2.5 -2.9l2.5 -2.3l1.5 -1l2 -.6l1.5 -.1l2 .3l7.5 2.5l3 1.6l6 3.8l5.5 4.1l3.5 2.1l2.5 2.2l1.5 1.7l1 1.4l2.7 5.3"/>
<path stroke="#2297E6" d="M413 337.3l4 -1.8l5 -1.8l5.5 -2.5l8.5 -3.2l7 -3.6l3 -1l.5 -.4l.5 .1l.5 -.4l.5 0l1.5 -.7l1 -.1l.5 -.3l.5 .2l1 -.7l.5 .2l.5 -.5l.5 .1l.5 -.8l.5 .5l.5 -.4l1 -.3l.5 -.4l.5 .2l2 -.9l1 .1l1.5 -.6l1 .1l1 -.6l.5 .5l.5 -.8l.5 .2l.5 -.1l.5 .2l1 -.6l1 .2l2.5 -.1l1.5 .4l.5 -.1l.5 .7l.5 -.4l.5 .7l1 .7l.5 .3l.5 -.3l.5 .7l1 .8l1 .4l.5 .7l.5 0l1 .7l1 .4l1 1.3l.5 -.2l1 .4l.5 .5l.5 -.1l.5 .7l2 1.2l.5 .5l1.5 .8l.5 .5l.5 .1l.5 .7l.5 -.1l.5 .6l1.5 .2l.5 .6l1.5 .6l1.5 .2l.5 .6l.5 .1l1 .9l.5 -.2l2 .4l.5 -.3l.5 1.1l1 .3l1.5 .9l1 .1l1 .7l.5 .6l.5 -.7l.5 .6l.5 -.3l.5 .3l.5 1l.5 -.7l.8 .2"/>
<path stroke="#F5C710" d="M98.4 337.6l2.5 -.2l2 -.4l1.5 -.7l4 -2.3l2 -.8l2 -.3l2.5 -.1l1.5 -.5l1 -.8l2 -2.5l6 -9.5l2 -1.6l1.5 -.6l1.5 .5l3 2l5 1.8l5.5 3.3l2 .9l7.5 1.5l1 -.1l1 -.6l.5 -.8l3.5 -14.1l1 -7.2l.5 -5.7l5 -80.1l3.5 -72.4l1 -14.2l2 -23.4l1.5 -10.6l1 -4.3l1 -3.3l1 -2.1l2.5 -3.9l2 -2.4l2 -1.8l5.5 -2.6l5 -3.2l1.5 -.7l1 -.3l1.5 .1l1.5 .6l1.5 1l2 2.4l1 1.6l2 5l4.5 16.2l2.5 7l1 2l.5 .6l1 .6l.5 0l1 -1.2l1 -1.8l5 -16.2l2 -5.8l2 -4.3l1.5 -2.5l1 -1.3l1 -.9l3 -2.2l1.5 -.6l1 -.1l1 .4l2 1.5l1.5 2.3l1.5 3.3l1.5 4.5l1 4.4l4 23.5l5.5 35.8l2 9.4l1 3.8l.5 1.2l.5 .6l1 .2l1 -.2l1.5 -.6l2 -1.5l4.5 -4.7l2 -1.2l1.5 -.5l1.5 0l2 .5l2 1.1l2.5 1.9l1 1.6l1 2.4l3 9.7l4.5 20.1l3.9 14.6"/>
<path stroke="#61D04F" d="M312.8 305l6.5 -2l1.5 -1.1l1.5 -1.5l2 -3l4 -7.1l13 -25.2l2.5 -4.3l2 -2.4l2.5 -2.3l1.5 -.8l3.5 -1.5l2.5 -.7l2 .1l3.5 1l2.5 1.2l8 6.2l9 9.4l3.5 2.2l1 .8l1.5 1.9l1.2 1.9"/>
<path stroke="#F5C710" d="M413 331.8l3 -1.9l7 -3.3l9 -5.8l4.5 -1.9l.5 -.4l1 -.2l1 -.5l3 -1.4l.5 -.5l1 -.5l3 -.9l.5 -.3l1 -.2l1.5 -.7l.5 .1l1.5 -.8l1 -.1l1 -.7l1.5 -.3l1 -.6l2 -.8l.5 -.3l1.5 -.2l1 -.4l1 .2l.5 -.4l1 .2l.5 -.2l.5 .2l.5 -.4l1.5 .5l.5 -.1l.5 -.4l2.5 .7l1 -.2l1 .1l.5 .4l.5 -.3l1.5 .9l.5 -.2l.5 .5l.5 -.1l.5 .6l.5 0l1 .4l1.5 .8l.5 .7l.5 -.3l1 .9l1 -.3l.5 .8l.5 -.3l1.5 1l1 .2l.5 .7l.5 0l.5 .7l.5 -.4l1.5 1.3l1 .5l.5 .9l.5 -.2l.5 .5l1 .5l.5 .7l.5 -.3l.5 1l.5 -.3l1 1l1 .4l1 1.3l1.5 0l.5 .3l.5 .8l2 1.1l.5 -.2l1 .5l.5 .6l1 .7l.5 -.1l1 1.3l.5 .1l.5 -.5l.5 1.1l.5 .2l.5 .7l.5 0l.5 .6l.5 -.1l.8 .9"/>
<path stroke="#61D04F" d="M98.4 340.9l3.5 -.3l6 -1.7l2 -.2l4 .1l2 -.6l1.5 -1.1l1.5 -1.6l6.5 -7.8l1.5 -1.1l2 -.8l1 .1l3.5 2l4.5 1.9l4 2l2.5 .7l5.5 -.3l5.5 1.4l.5 -.2l2 -3.6l1 -2.7l1.5 -7.1l1 -8.1l1 -10.5l2 -25.8l1.5 -23.2l4 -73.6l1 -11l1.5 -12l1.5 -6.9l1.5 -4.7l1.5 -3.5l3 -5.1l1.5 -1.9l1.5 -1.4l5 -3l5.5 -4.9l1.5 -1l1 -.5l1 -.1l1 .1l1.5 .6l1.5 1.1l1.5 2.4l2 4l1.5 3.8l7 21.8l1 2.3l.5 .7l.5 .4l.5 0l.5 -.4l.5 -.8l1.5 -2.9l2 -5.7l2 -4.4l3.5 -6.5l2.5 -3.5l2 -1.8l4 -2.5l1.5 -.6l1 0l.5 .2l2 1.7l1.5 1.9l1.5 2.8l1.5 3.6l1.5 4.5l5.5 26.4l2 8.6l1.5 5.2l2 4.1l1 1.5l1 .8l1 .1l1 -.2l2 -1l5.5 -4.4l2 -1l1.5 -.3l2 .2l3.5 .8l1.5 .8l1.5 1.2l1 1.5l1 2.1l3 7.9l5 17.9l3.4 11.3"/>
<path stroke="#2297E6" d="M312.8 315.3l3 -1.1l4 -1.7l2.5 -1.6l1.5 -1.4l1.5 -1.7l2 -2.9l7.5 -12.3l8.5 -12.3l2.5 -2.8l2 -1.9l1.5 -1l2.5 -.9l2.5 -.2l3.5 .7l5 1.6l3 1.7l5.5 3.9l11 8.9l2 2.1l1 1.3l2.7 4.9"/>
<path stroke="#DF536B" d="M413 339.6l8.5 -2.6l5.5 -2.8l2 -.7l3 -.6l.5 -.4l1 0l2 -.9l2 -.7l3 -1.6l.5 0l.5 -.6l1.5 -.4l.5 -.4l3.5 -.8l.5 -.5l.5 .2l1.5 -.7l.5 .1l.5 -.6l.5 .1l.5 -.4l1 -.2l.5 -.4l1 -.2l.5 -.5l.5 .1l1 -.6l1 -.3l1.5 -.1l2 -.5l1 .1l1.5 -.5l.5 .2l1 -.5l.5 .4l2.5 -.6l1 .3l1.5 -.1l1 .4l.5 -.4l.5 .3l1 .1l1 .9l.5 -.2l.5 .7l1 .6l.5 .5l.5 0l.5 .8l.5 0l.5 .5l.5 -.1l.5 .8l1.5 .5l1 .9l1 .2l1 .3l.5 .5l.5 0l1 1.2l.5 .1l1 .6l1.5 1.5l.5 -.1l.5 .2l1 .6l.5 .6l1 .3l1 .9l.5 .2l.5 -.2l1.5 .8l1 -.2l.5 .5l.5 -.2l1 .5l.5 .4l.5 -.2l.5 .3l1 .2l.5 .5l.5 -.1l.5 .4l.5 .1l.5 -.4l.5 .3l.5 -.3l.5 1.1l1 .1l2.5 .7l.5 -.2l.5 .8l.5 -.1l.5 -.4l.5 .8l.3 .1"/>
<path stroke="#F5C710" d="M98.4 340.8l2.5 -.8l5 -2.3l2 -.7l2.5 -.3l4.5 -.1l1 -.2l1 -.4l3 -2.7l6 -7.5l2 -1.8l1.5 -.8l1.5 .4l6 3l5 3l3 1.1l9 .9l1.5 -.5l.5 -.5l.5 -1.2l2.5 -7.3l1 -4.3l1.5 -13.2l2.5 -33.4l2 -30.5l4 -74.3l1 -11.1l1.5 -13.4l1.5 -7.7l2 -5.7l1.5 -2.4l2.5 -3.3l2 -2.1l1.5 -1.1l7.5 -3.4l4 -1.3l1.5 -.1l1.5 .1l2 .5l1 .6l2.5 3.1l1.5 2.7l1.5 3.7l4 11.9l2 5.1l1.5 2.8l.5 .5l.5 .1l1 -.6l1.5 -2.6l1 -2.5l2 -6.3l3 -7.6l2 -4.3l3 -5.4l2 -2.5l3.5 -3.3l1 -.5l1 0l1.5 .8l1.5 1.7l2 3.3l1.5 3.6l1.5 4.7l1.5 6.3l7.5 40.2l1 4.3l2.5 7.2l1 1.6l.5 .3l1 -.2l2 -.9l6.5 -4.5l2 -.7l1.5 -.3l2 .1l3 .7l1.5 .7l2 1.5l1 1.3l1 2l3 8.1l4.5 17l3.9 13.6"/>
<path stroke="#CD0BBC" d="M312.8 312.8l5 -1.6l2 -.9l2.5 -1.7l1.5 -1.5l3.5 -5l7 -11.7l10 -15.3l2.5 -3.1l2 -1.9l2 -1.2l2 -.7l2.5 -.1l2.5 .5l4 1.6l2 1.2l20 16.3l2 2.4l2.2 3.8"/>
<path stroke="#28E2E5" d="M413 338.3l3 -1.1l5.5 -2.9l3 -1.3l3 -.7l2 -.7l6.5 -3.2l2 -.6l1 -.5l.5 .1l5 -1.8l1 -.4l.5 -.5l2 -.8l.5 0l1.5 -1.1l.5 .2l1.5 -.8l1 -.2l.5 .1l.5 -.4l2.5 -.2l2 -.4l3 -1.3l.5 .2l1.5 -.6l.5 0l.5 -.6l.5 .4l.5 -.6l.5 .3l2 .3l.5 -.1l1.5 .5l1 0l.5 .6l.5 -.2l1.5 .5l.5 .4l1 0l.5 .4l1 .2l.5 .8l.5 .3l.5 -.3l.5 .9l.5 .4l.5 -.4l.5 .7l.5 .2l.5 .5l.5 -.4l.5 1l.5 .2l1 .9l.5 -.3l.5 .9l1.5 1.3l.5 .2l.5 0l.5 .7l.5 -.1l.5 .6l.5 .1l1 .5l.5 -.2l.5 .6l.5 -.1l.5 .7l.5 .3l.5 -.5l.5 0l.5 .8l1 .2l.5 1l.5 -.5l.5 .1l1.5 1.5l1 -.3l.5 .5l.5 .8l.5 -.7l1 1.2l1.5 -.1l1 .7l.5 0l.5 .3l.5 -.1l.5 .4l.5 -.2l.5 .3l.5 -.2l.5 .7l1 0l.5 -.4l.5 .5l.5 -.7l.5 .9l.5 .4l.3 -.2"/>
<path stroke="#DF536B" d="M98.4 340.1l3 -.4l7 -3l6 -1.2l2 -.8l1 -.8l2 -2.2l6 -7.2l1.5 -1l2 -.9l1.5 .1l2.5 1.4l4.5 1.9l4.5 2.6l2 .9l5 1.1l5 1.8l1.5 -.3l.5 -.7l2.5 -6.4l1 -3.8l1 -5.6l1 -9.5l1.5 -18.7l2.5 -36.4l4.5 -83.1l1.5 -16.4l1.5 -12l1 -5.1l1.5 -5.4l1 -2.6l3 -5.5l2 -3l2 -2.4l3.5 -3.5l4.5 -4.9l3 -2.4l1 -.5l1.5 -.2l1 .1l1.5 .6l1.5 1l2.5 3.5l1.5 3l1.5 4l4 13.4l2 5.7l1.5 3.3l.5 .6l.5 .2l.5 0l.5 -.4l1.5 -2.5l1 -2.3l2 -6.1l3 -7.3l2 -4l2.5 -3.8l2 -2.1l3 -2.3l1.5 -.8l1 -.3l1 .2l1 .6l1 1l1.5 2l1.5 2.9l1.5 3.9l1 3.3l1.5 6.7l5 28l3 15.6l1 3.8l2.5 7.2l1 1.6l1 .1l1 -.2l2 -1.2l5.5 -4.4l2 -.9l1.5 -.3l2 .1l3 .8l2 1.1l1.5 1.2l1 1.5l1 2l3 7.8l4.5 16.4l3.9 12.7"/>
<path stroke="#2297E6" d="M312.8 316l7 -2.1l2.5 -1.4l1.5 -1.4l1.5 -1.9l2 -3.1l4.5 -8.3l3 -5l7.5 -10.9l2.5 -2.9l2.5 -2.3l2 -1.2l2.5 -.7l3.5 -.4l3.5 .2l3.5 .9l2.5 1.4l7 4.9l11 9.1l1.5 1.5l1 1.4l2.7 5.2"/>
<path stroke="#F5C710" d="M413 337.8l3 -1.3l6 -3.4l9 -3.1l5.5 -2.8l2 -.6l1 -.5l1 -.1l2.5 -1l1.5 -.3l1.5 -1l1 -.3l.5 -.4l1 -.4l.5 0l1 -.7l1 -.2l.5 -.3l.5 .2l.5 -.4l.5 .1l1 -.4l2 -.1l1 -.5l.5 .2l.5 -.3l2 -.2l1 -.6l.5 .1l1 -.7l2 -.8l.5 .3l.5 -.2l.5 -.6l1 .3l1 -.3l.5 .6l.5 -.2l.5 .4l1 .4l.5 -.3l.5 .6l.5 -.5l.5 .6l1.5 0l.5 .7l1.5 -.2l1.5 1.4l1.5 .6l.5 .7l1.5 .2l.5 1l1 .2l1.5 1.6l.5 -.3l1 1.4l1.5 1.3l.5 -.4l1.5 1.5l1.5 0l.5 .7l.5 .1l.5 -.1l1 .4l.5 .6l.5 0l1 .8l.5 0l1.5 1.1l.5 -.2l1 1.1l1 0l1 1.2l.5 -.4l.5 .1l.5 .7l1 -.3l.5 .2l.5 .6l.5 -.1l.5 .8l.5 -.5l.5 -.1l.5 .3l.5 .1l.5 .8l.5 -.4l.5 .8l.5 -.1l.5 .6l.5 -.5l.5 .5l.5 -.7l.5 .7l.3 0"/>
<path stroke="#61D04F" d="M98.4 339.1l2.5 -.6l6 -2.8l6.5 -1.1l2.5 -1.1l2 -1.8l7.5 -9.4l2 -1.4l1.5 -.8l1 -.1l1 .3l5.5 2.7l4.5 2.8l2 1l1.5 .3l4.5 .6l4 2.1l1 .2l1 -.2l.5 -.3l.5 -1l1 -4l1.5 -4.5l1 -4.1l1 -6.5l.5 -5.2l1.5 -20.4l3.5 -54.5l3 -60.6l1 -16.5l2 -23l1 -8.5l1 -5.7l1.5 -5.9l1 -2.8l1.5 -2.6l1.5 -2.1l2 -2l5 -3.8l5 -4.3l1.5 -.8l1.5 -.5l1 -.1l1.5 .2l1.5 .6l2 1.1l1 1l1.5 2l1.5 2.8l1.5 4l4.5 16.1l2 6l1.5 3.4l1 .8l.5 .1l.5 -.3l2 -3.7l2.5 -7.7l3.5 -9.4l1.5 -3.3l3 -5.1l1.5 -1.9l3 -3.1l2 -1.4l1 -.1l1 .3l2 1.8l1.5 2.1l1.5 3l1.5 3.9l1 3.8l3.5 18.8l5.5 32.1l2.5 10.3l1.5 4.6l.5 .6l.5 .1l1.5 -.7l2 -1.6l5 -4.6l1.5 -.9l2.5 -.9l2.5 -.4l2.5 .2l2 1.1l1.5 1.4l1 1.7l1 2.5l3 9.2l4.5 18.5l3.9 13.7"/>
<path stroke="#DF536B" d="M312.8 309.7l6 -2l1.5 -1l2 -1.9l2 -2.7l2 -3.3l10.5 -18.6l6 -9.7l2 -2.5l3 -2.8l2 -1.4l3.5 -1.6l2 -.4l1.5 0l2 .3l3.5 .9l2.5 1.3l4 2.6l3 2.5l7 7.2l5.5 4.8l1.5 1.9l2.2 4"/>
<path stroke="#61D04F" d="M413 335l4 -2.2l12 -5.7l6 -2l2 -1l.5 0l2.5 -1.5l.5 -.1l1.5 -1.1l.5 .1l1.5 -1l.5 0l3.5 -1.5l1.5 -.2l3.5 -1.4l1 -.2l1 -.6l1.5 -.3l1.5 -.8l.5 .3l.5 -.1l3.5 -1l.5 .2l2 -.5l1 0l.5 -.3l1 0l.5 .3l.5 -.4l1.5 .4l.5 -.1l.5 .5l.5 -.1l.5 -.4l.5 .6l.5 .2l.5 -.1l2.5 1.7l1.5 .7l.5 .7l.5 .1l1 1.2l.5 .3l.5 -.1l1.5 1l.5 -.1l1 .7l.5 .1l.5 .6l1.5 .5l1 .8l1 .3l.5 .7l.5 -.1l.5 .1l.5 .3l.5 .7l.5 -.2l.5 .3l.5 .6l1 .6l.5 -.4l.5 .6l.5 -.1l.5 .5l.5 -.3l1 1l.5 0l.5 -.5l.5 1.1l1 0l1 .5l.5 .6l1 -.2l.5 .4l.5 1l1 .3l.5 -.1l1 1.1l.5 0l1.5 1.1l1 .4l.5 -.2l1.5 1.5l.5 -.3l.5 .5l.8 -.3"/>
<path stroke="#DF536B" d="M98.4 338.9l5.5 -2.5l7.5 -1.4l2.5 -.9l2.5 -1.3l1.5 -1.3l2.5 -2.8l5.5 -7.2l2.5 -2.4l1 -.6l.5 -.1l1 .4l7.5 4.8l2 1.1l2 .6l3.5 .5l2 .4l5 2.6l1 .1l1 -.6l.5 -.5l.5 -1.1l1 -4.4l2.5 -9.2l1 -6.9l.5 -5.5l5 -77.9l3.5 -70.7l2 -25.6l1.5 -14.5l1 -6l1 -4.2l1 -3.3l1 -2l1.5 -1.9l1.5 -1.5l9.5 -7.6l1.5 -.8l2 -.6l2.5 -.4l2.5 .1l2 .3l1 .4l1 .8l1 1.2l1.5 2.8l1.5 4.1l4.5 16.4l1.5 4.7l1.5 3.7l.5 .8l1 .7l.5 0l.5 -.3l.5 -.6l1.5 -2.7l2.5 -7.7l4 -10.7l3 -6.1l2 -3.4l3 -3.4l1 -.9l1 -.5l1 0l1 .4l2.5 2.4l2 2.9l1.5 3.2l1 2.6l1 4l4 22.2l5 30.6l1 5l2.5 9.8l.5 1.2l.5 .4l.5 -.1l1.5 -.8l7 -5.1l4.5 -2.1l2 -.6l1.5 0l1 .4l1.5 1.1l1.5 1.6l1 1.6l1 2.3l3.5 11.2l4.5 19.4l3.9 14.6"/>
<path stroke="#CD0BBC" d="M312.8 308.4l7 -3.1l2 -1.6l1.5 -1.7l2 -3l3 -5l8 -15.1l6.5 -11.2l1.5 -2.2l2 -2.2l2 -1.6l1.5 -.7l3.5 -.9l4 -.2l5 .6l2.5 1.2l4.5 3.3l3 2.7l8 8.8l5 4.5l2.7 4"/>
<path stroke="#2297E6" d="M413 332.7l3 -1.5l6.5 -3.9l5.5 -2.5l4 -2.4l2 -1.4l1 -.5l.5 -.6l.5 -.1l2 -1.1l2.5 -.7l.5 .1l.5 -.4l1 -.3l1 0l1.5 -.7l.5 0l1 -.3l2 -1.1l.5 .1l.5 -.5l1.5 -.2l1.5 -.9l1.5 -.2l.5 -.4l1 .2l.5 -.6l.5 -.2l1.5 0l1 -.4l.5 -.4l3 -1.1l1 -.8l.5 .4l1 -.5l.5 .3l1.5 -.6l1.5 .3l.5 .5l1.5 .1l.5 .2l.5 .5l1 0l2.5 1l1 .1l1 .6l.5 -.1l.5 .4l1.5 .1l2 1.7l.5 0l1.5 .7l.5 .8l.5 -.2l.5 .2l1 1.1l.5 -.1l.5 .3l1 1l.5 -.1l.5 .5l.5 -.1l.5 .8l.5 -.4l.5 .5l1 .3l1 .9l.5 -.1l.5 .9l.5 -.1l.5 .3l.5 .1l1 1l.5 -.1l1.5 1l.5 .9l.5 0l.5 1l.5 -.4l1 1.1l1 0l1 1.2l.5 0l.5 .6l.5 -.4l1 1.5l.5 -.1l.5 .3l.5 -.2l.5 .2l.5 .7l.5 -.2l.5 .6l.5 -.2l.5 .7l.5 .2l.5 -.4l.3 .8"/>
<path stroke="#28E2E5" d="M98.4 338l4.5 -.5l2 -.4l2 -.8l5 -2.9l1.5 -.5l3 -.4l1 -.5l1.5 -1.2l1.5 -1.7l5.5 -8.2l2 -1.8l1 -.6l.5 0l1 .3l2.5 2l2 1.1l7 2l6 3.2l3.5 1.5l1.5 .2l1 -.3l1.5 -1.1l.5 -.9l3.5 -13.6l1 -6.9l.5 -5.6l5 -78.3l3.5 -71l2 -25.7l1.5 -14.8l1.5 -8.3l1 -3.5l1 -2.3l6.5 -8.3l1.5 -1.5l2 -1.6l3 -1.6l7 -3l1.5 -.2l1 .1l1 .4l1 .7l1 1.2l1.5 2.3l1.5 3.4l2 5.9l3.5 12.7l2 5.5l1.5 2.8l1 .6l.5 .1l1 -.5l1.5 -2.3l7 -20.3l2.5 -5.4l2 -3.3l1 -1.1l2 -1.7l1.5 -.9l1 -.3l1 -.1l1.5 .4l1.5 .8l1 .9l1 1.3l1.5 3l1 2.9l1 4.3l4 22.3l5.5 34l2 9.1l1 3.6l.5 1.1l.5 .4l1.5 -.4l2.5 -1.2l2 -1.5l3.5 -3.7l2 -1.7l1.5 -1l1.5 -.5l1.5 .2l1.5 .9l1.5 1.5l2.5 2.9l1 1.7l1 2.5l3 9.8l4.5 20.2l3.9 15.2"/>
<path stroke="#2297E6" d="M312.8 304.6l6.5 -2.3l1.5 -1.1l2 -2.1l1.5 -2.2l3.5 -6l9 -18.1l6 -10.4l2 -2.6l3 -2.9l1.5 -1l3 -1.3l3 -.7l2.5 0l3 .6l1.5 .6l1 .6l1.5 1.2l8.5 8.4l5.5 5l2.5 2l3 1.7l1 .9l1.5 1.8l1.2 1.8"/>
<path stroke="#9E9E9E" d="M413 333.7l6 -3.2l7.5 -5.1l4.5 -2l1.5 -.4l6 -3.2l.5 -.5l3 -1.1l1 -.6l1 -.1l.5 -.4l1 -.2l1.5 -.9l.5 .1l1 -.7l1 -.4l.5 -.4l.5 0l1 -.5l1.5 -.9l1 -.3l.5 .1l.5 -.3l1 -.2l.5 -.3l.5 .2l1 -.4l1 .3l1.5 -.4l1 .2l1.5 -.3l.5 -.7l.5 .4l1 -.2l.5 -.4l1 .2l1 -.1l.5 -.2l1 .5l.5 -.2l.5 .3l1 .1l.5 -.1l1 .2l.5 .5l.5 .2l.5 -.3l.5 .2l1 .8l.5 0l3 1.2l.5 .1l.5 .5l.5 -.4l1 .5l.5 .5l.5 .3l.5 -.2l.5 .4l1 .3l1.5 1.3l.5 .1l1.5 1.5l1.5 .4l.5 .7l2 1.1l1 .9l.5 -.1l.5 .9l.5 .1l.5 -.1l1 .9l.5 -.3l1.5 .8l.5 .7l.5 .1l1.5 1l.5 .8l.5 -.1l1 .4l1 1.1l1 .7l.5 .1l1 .8l.5 -.2l.5 .7l1 .3l.5 .7l1 -.1l1 1.3l.5 -.6l.8 1"/>
<path stroke="#2297E6" d="M98.4 343.1l3 0l2 -.2l2 -.6l5.5 -2.3l2 -.3l3.5 -.2l2 -.6l1.5 -.9l1.5 -1.3l5 -5.5l2.5 -1.6l.5 0l1 .2l4.5 1.9l5.5 1l6 2.5l3 .6l3 .3l3 -.1l.5 -.2l.5 -.4l1.5 -2l1.5 -4.1l1 -4.2l.5 -3l1.5 -12.1l1 -10.8l2.5 -35.6l4 -72.9l1 -10.6l1 -7.2l1.5 -6.2l1.5 -3.7l1 -1.8l5.5 -7.3l2 -2.2l1.5 -1.1l6 -3.2l4 -2.5l2 -.8l1.5 -.2l2 .5l1 1.1l3.5 5.8l2 4.2l3.5 8.6l2.5 5.5l1 1.5l.5 .3l.5 0l.5 -.4l1 -1.4l1.5 -2.8l2.5 -6.6l1.5 -3l4 -6.9l2.5 -3.6l1.5 -1.4l3.5 -2.1l2 -1l1.5 0l1 .4l1 .8l1.5 1.6l1.5 2.7l1 2.4l1.5 4.7l1.5 5.8l4.5 21.4l2 7.7l1.5 4.4l2.5 3.8l1 .8l.5 .2l1.5 -.2l1.5 -.5l1.5 -.9l5.5 -3.9l1.5 -.7l1 -.2l1.5 .2l1.5 .8l3 2.4l1.5 1.5l2 2.3l1 1.6l1.5 3l2 5l8.4 27.9"/>
<path stroke="#DF536B" d="M312.8 321.4l8 -1.9l2.5 -1.1l1.5 -1.1l1.5 -1.7l2 -2.7l3.5 -6l3 -4.5l8 -10.6l3 -3.1l2 -1.8l1.5 -.9l2.5 -.7l1.5 -.1l2.5 .5l5.5 1.6l2 .8l2.5 1.5l5 3.4l5.5 4.3l4.5 2.2l2 1.8l2 2.4l1.5 2.7l1.7 3.7"/>
<path stroke="#61D04F" d="M413 339.6l3.5 -1.3l7 -1.8l5 -2l.5 -.3l.5 0l.5 -.3l.5 0l2 -.7l2 -1l3.5 -1.4l2.5 -1.6l2.5 -1.2l.5 .2l1 -.7l1 -.2l.5 -.3l.5 .2l.5 -.3l.5 .1l1 -.4l.5 .4l.5 -.5l.5 -.2l1 -.2l.5 .1l1 -.6l.5 .2l1 -.7l.5 .1l1 -.6l2 -.5l1 -.6l1.5 -.1l.5 -.4l.5 .1l.5 -.3l1.5 -.2l.5 -.3l.5 -.1l.5 .3l1 -.6l.5 .3l.5 -.2l.5 .2l.5 -.5l.5 .2l1.5 0l.5 .6l.5 -.3l1 0l.5 .6l1.5 .2l.5 .6l1 .3l.5 1.1l1 .3l1.5 1.7l1.5 .9l.5 .8l.5 -.1l1 .7l.5 .1l1 .9l.5 -.6l1 1.2l.5 .2l.5 -.1l.5 .4l1.5 .5l.5 .6l1 .7l.5 0l.5 .2l1 1.3l.5 -.6l.5 .3l.5 .7l.5 -.5l.5 -.1l.5 1.1l.5 .3l1.5 .5l.5 -.3l.5 .6l.5 -.4l.5 .1l.5 .5l.5 -.1l2 1l.5 -.1l2.5 1.5l.5 .1l1 .5l1 .2l.5 -.2l1 .8l.5 -.4l.5 .7l.5 -.5l.5 .5l.5 .2l1 -.6l.3 .3"/>
<path stroke="#F5C710" d="M98.4 338.8l4 -.7l5 -1.5l5.5 -1.4l2.5 -1l1 -.7l1.5 -1.5l7.5 -9.7l2 -1.4l1.5 -.6l1.5 .3l2.5 1.8l1.5 .8l7.5 3.5l2 .5l4.5 .7l5.5 2.6l1 -.1l.5 -.2l.5 -.9l1 -3.5l1.5 -4.1l1.5 -6.6l1.5 -14.2l4.5 -66.1l3 -59l1 -16.5l2 -21.9l1 -7.8l1 -5.4l1.5 -5.7l1 -2.7l1.5 -2.6l1.5 -2.2l2 -2.4l5 -4.8l5.5 -6.6l2 -2.1l1.5 -1.2l2 -1l1 -.1l1.5 0l1.5 .8l2 2.3l1.5 2.9l1.5 3.8l4 13.4l2 5.6l1.5 3.1l1 .7l.5 0l.5 -.4l1.5 -2.8l1 -2.6l2 -6.7l3.5 -9.7l1.5 -3.5l2.5 -4.2l2 -2.2l2.5 -1.5l1.5 -.6l1 -.1l1 .3l1 .7l1.5 1.7l1.5 2.2l1.5 3.1l1.5 3.9l1 3.6l2 10.2l7.5 44.9l1 4.5l2.5 8.7l1 1.8l1 .3l1.5 -.3l2 -1.1l5.5 -4.3l2.5 -1.2l2 -.6l2 -.1l1.5 .4l1.5 .9l1.5 1.3l1 1.4l1 2l3.5 10.1l4.5 17.7l3.9 13.4"/>
<path stroke="#CD0BBC" d="M312.8 301.6l6 -2.3l1.5 -1.1l1.5 -1.8l2 -3.2l7.5 -14.1l9.5 -19.2l2.5 -4.6l2 -2.6l2.5 -2.3l2 -1.3l4 -2l2.5 -.6l2 .2l4 1.2l2 1.2l5 3.9l2 1.7l4 4.4l5 6l1.5 1.3l2.5 1.2l1 .8l1 1.1l1.7 2.4"/>
<path stroke="#28E2E5" d="M413 335.1l7 -4.3l8 -2.7l7 -4.4l.5 0l.5 -.4l1.5 -.5l1 -.6l2 -.3l1.5 -.8l.5 .1l.5 -.5l5.5 -2.3l.5 -.1l.5 .2l.5 -.4l.5 .1l2 -.7l1.5 .2l2 -.8l1 0l3.5 -1.7l1.5 -1.1l.5 .2l1 -.5l.5 .2l2 -.6l1.5 .4l.5 -.3l.5 .3l.5 -.2l2 1.2l1.5 -.3l1 .7l.5 -.4l1.5 .6l.5 .5l.5 -.1l1.5 .9l.5 .5l.5 -.2l.5 .2l2 1.8l1 .5l.5 -.1l1 1.1l.5 -.1l1.5 1.1l1 0l1.5 1.2l.5 -.1l1.5 .7l.5 .8l.5 -.9l.5 1l.5 0l.5 .5l.5 -.1l.5 .7l.5 .1l1 1.2l.5 -.3l.5 .3l.5 1.1l.5 .5l1 -.3l1.5 2l1 -.3l.5 1l.5 -.5l1.5 .9l.5 .5l.5 -.2l1 1l1 .5l1 -.5l.5 .8l1 .5l.5 .1l.5 .5l.5 -.2l1 1.3l.3 -.3"/>
<path stroke="#28E2E5" d="M98.4 336l3 -1.3l7.5 -2l6 -2.2l1.5 -.7l1 -.9l2.5 -3.5l6 -10.4l2 -2.1l1.5 -.8l1 .4l4 3.7l4.5 3.2l3 1.4l6.5 2.3l3.5 1.8l1 .3l1 -.1l1.5 -1.2l.5 -1l1.5 -7.8l2 -7.9l1 -7.8l.5 -6.4l5 -85.2l3.5 -75.7l2.5 -34.2l1 -10.5l1.5 -9.7l1 -4.3l1 -3.1l1.5 -2.5l1.5 -1.9l2.5 -2.4l2.5 -2l2 -1.2l2.5 -1.2l8.5 -2.7l3 -.2l1 .4l1 .8l1 1.2l.5 1l2 5.5l4.5 18l2 6.2l1.5 3.2l1 1l1 .4l1 -1l1 -1.8l7 -22.5l2.5 -5.8l2 -3.6l1 -1.3l1.5 -1.3l1.5 -.9l1 -.1l1 .3l1 .7l2.5 2.7l2 3.3l1.5 3.6l1 3l1 4.7l4.5 28.4l5 36.1l2 11l1 4.3l.5 1.3l.5 .5l1.5 -.2l3 -.9l1.5 -.8l3.5 -2.4l4 -2.5l1.5 -.6l1 -.2l1 .2l1.5 .7l1.5 1.3l1.5 1.6l1 1.9l1 2.7l3 10.1l4.5 20.9l3.9 15"/>
<path stroke="#28E2E5" d="M312.8 302.6l6 -2l1.5 -1l2 -2.1l2 -3.1l4.5 -8l3 -6l5.5 -11.7l3.5 -6.7l2 -3.5l2 -2.6l3 -2.8l2 -1.4l4 -2l2.5 -.6l2.5 0l3.5 .8l2 1.1l5 4.6l10 11l2 1.7l3 1.5l1 .8l1.5 1.8l1.2 1.8"/>
<path stroke="#9E9E9E" d="M413 331.5l4 -3l8 -4.3l3 -1.8l1 -.8l2.5 -1.3l3.5 -1.4l.5 0l2 -1.1l.5 -.1l.5 -.5l2.5 -1.3l3.5 -2.2l2.5 -.8l.5 -.5l.5 -.2l1 0l2 -.7l.5 .1l1.5 -.8l.5 .1l2 -.9l.5 .1l.5 -.4l2 -1.1l1 0l1 -.4l.5 .2l.5 -.3l.5 .2l.5 -.3l1.5 -.2l1.5 0l1 -.4l1 .4l.5 -.3l1 0l1 .3l.5 -.4l1 .5l1.5 -.3l1 .8l1 .3l.5 -.1l1 .5l.5 .5l1 .4l2 1.5l.5 .7l1 -.1l.5 .6l.5 -.1l.5 .2l.5 .6l.5 0l1.5 .8l.5 -.1l.5 .8l.5 .4l.5 -.1l.5 .6l1.5 1l.5 -.3l.5 .9l.5 .1l.5 .6l.5 .1l.5 .9l.5 .2l.5 0l2 1.5l.5 -.1l.5 .1l.5 1l2 .4l.5 .6l.5 -.1l.5 .8l.5 .3l.5 0l.5 .8l3 1.2l1 1.5l.5 -.2l.5 .9l.5 .2l1.5 1.4l.5 -.1l.5 .8l.5 -.1l.5 -.3l.5 1.6l.3 -.4"/>
<path stroke="#CD0BBC" d="M98.4 337.1l6.5 -3.2l8 -2.2l2 -.8l1.5 -.9l1 -1l2.5 -3.4l5.5 -8.7l2.5 -2.7l1.5 -.9l.5 -.1l1 .4l10 7l2 .8l5.5 1.6l4 2.6l1 .2l1 -.3l1 -.9l.5 -1.3l1.5 -7.8l2 -8.1l1 -7.7l.5 -6.3l5 -84.8l3.5 -75.5l2.5 -34.1l1 -10.5l1.5 -9.8l1.5 -6.2l1 -2.5l1.5 -2.5l2 -2.4l7.5 -7.2l2.5 -2l1.5 -.9l2 -.7l2 -.4l2 -.1l3 .2l1.5 .8l1 1l1.5 3.3l1.5 4.7l4 16.9l2 6.6l1.5 3.5l1 1.2l1 .4l.5 -.3l1 -1.3l1 -2.1l4.5 -13.9l2 -5.3l2 -3.7l2 -3.2l1 -1.1l2 -1.7l1.5 -.9l1 -.2l1 .3l1 .9l2.5 3.2l2 3.8l1.5 3.8l1 3.1l1 4.6l4.5 28.1l5 35.1l2.5 13l1 3.4l.5 .7l1.5 -.5l3.5 -2.1l4 -2.9l4 -1.8l2 -.6l1.5 -.1l1.5 .5l1.5 1.1l2 2.2l1 1.9l1 2.8l3 10.2l4.5 20.5l3.9 14.6"/>
<path stroke="#61D04F" d="M312.8 303.3l6 -2l1.5 -1.1l2 -2.3l1.5 -2.4l6.5 -12l10 -19.9l3 -5.4l2 -2.7l3 -2.9l3.5 -2.2l2.5 -1.2l2 -.5l2.5 .2l3.5 1l2.5 1.5l4 3.2l2.5 2.5l9 10.4l1 .9l3 1.8l1 .9l2.7 3.8"/>
<path stroke="#61D04F" d="M413 332.1l7 -3.9l5 -3.2l2 -1.1l4.5 -2l4.5 -2.5l.5 -.6l.5 -.1l2.5 -1.6l4.5 -1.6l1 0l2 -.9l2 -.5l2.5 -1.3l.5 .1l.5 -.3l1 -.2l2.5 -1.2l.5 .2l1 -.3l1.5 -.1l1 -.5l.5 .3l1 -.3l1 -.6l.5 .2l1 -.6l1.5 0l1.5 -.7l1.5 -.1l.5 .3l1.5 0l1.5 .6l.5 0l.5 .4l.5 .1l.5 .6l.5 -.3l1 1.1l.5 -.3l.5 .6l.5 .1l.5 -.3l1 .9l1.5 .4l.5 .4l1 -.1l1 .5l.5 .1l2.5 1.3l.5 .6l.5 .2l.5 .4l.5 -.2l.5 .7l1 .2l.5 1.2l.5 -.4l.5 .8l1 .6l1 -.3l.5 1l.5 .1l.5 .4l.5 .1l.5 .6l1 .1l.5 1l.5 -.4l.5 -.1l.5 .9l.5 .5l2 1.1l1 1.2l.5 .1l.5 .8l.5 .1l1 .7l.5 .8l1 .1l1 1.2l1 -.1l1 .5l.5 .9l.5 0l1 .6l.5 -.1l.5 .7l.3 -.2"/>
<path stroke="#2297E6" d="M98.4 338.9l3.5 -1.3l13 -3.2l2 -.8l2 -1.8l1.5 -1.8l5.5 -8.3l2 -2l1.5 -.9l1 .3l3.5 2.8l2.5 1.6l3 1.6l2.5 1l10.5 3.3l1 0l1 -.3l1 -.5l.5 -.7l3.5 -12l1 -6.4l.5 -5l1.5 -20.1l3.5 -53.5l3.5 -68.3l1 -13.7l2 -20.4l1.5 -8.8l1.5 -5.3l1 -2.4l2.5 -3.4l3.5 -4l2 -1.8l2.5 -1.7l3 -1.7l7.5 -2.9l2.5 -.1l.5 .1l1 .7l2 2.7l2 4.5l1.5 4.5l3.5 11.8l2.5 6.6l1 1.7l.5 .5l1 .1l1 -.9l1.5 -2.8l2.5 -7.7l4 -11.2l3 -6.9l2 -3.7l1 -1.4l2 -2.1l1.5 -1.2l1 -.4l1 .1l1 .4l2.5 2.1l1.5 2l1.5 3l1 2.7l1 3.8l4 21.5l5 29.6l2 8.6l1.5 5l.5 .8l.5 .3l2 -.5l3 -1.2l4.5 -2.6l2.5 -1.3l1.5 -.5l1.5 -.2l1.5 .2l1.5 .8l1.5 1.2l2 2.2l1 1.7l1 2.4l3 9.2l4.5 18.7l3.9 14.4"/>
<path stroke="#28E2E5" d="M312.8 311.4l6 -1.5l2 -1.2l2 -1.9l2 -2.6l3.5 -5.6l12.5 -22l2.5 -3.9l2 -2.4l2.5 -2.2l2 -1.2l3 -1.1l2.5 -.2l2.5 .7l5.5 2.5l7 4.2l2 1.6l5.5 5.2l6.5 5.1l1.5 1.9l2.2 4.1"/>
<path stroke="#CD0BBC" d="M413 336.7l2.5 -1.1l6 -3.1l5.5 -2.1l3 -1.3l5.5 -3.2l9 -2.8l1 -.7l1 0l.5 -.5l.5 0l2 -1.1l.5 .2l2 -.9l1 .1l2.5 -.8l.5 .1l.5 -.4l1 .1l1 -.5l2 -.4l1 -.7l.5 .1l.5 -.3l.5 .1l2.5 -.9l1.5 .6l.5 -.3l1.5 .3l.5 .3l.5 -.1l.5 .5l.5 -.2l.5 .7l.5 -.2l.5 .1l.5 -.2l.5 .5l.5 -.2l.5 .7l.5 -.1l2 1.2l2 .5l.5 .7l1 .3l1.5 1.1l1.5 .3l.5 .6l1 .4l1 1.3l.5 -.3l.5 .6l2 .9l.5 .4l1 .2l.5 .4l.5 0l1.5 1l.5 -.3l.5 .8l.5 -.2l1 1l.5 -.2l.5 .4l.5 .7l.5 .2l.5 -.3l.5 1l.5 -.1l.5 .2l.5 .6l.5 0l1 .7l.5 .8l1 -.2l1.5 .6l.5 -.2l.5 .4l.5 -.1l1 .4l.5 .5l.5 .1l.5 -.9l.5 1.3l.5 -.1l.5 .2l.5 .6l.5 -.4l.5 .1l.3 -.2"/>
<path stroke="#F5C710" d="M98.4 337.4l3 -.8l5.5 -.7l2 -.5l2.5 -1.1l5 -2.7l1 -.8l2.5 -2.8l5.5 -7.3l2 -1.8l1.5 -.9l1 -.1l.5 .2l4 3l3 1.6l3 .9l4.5 .5l2 .5l1.5 .7l3 2l1.5 .8l1 .1l1 -.6l.5 -.5l.5 -1.2l1 -4.9l2.5 -9.7l1 -7.3l.5 -5.8l5 -80.8l3.5 -72.7l2.5 -32.5l1 -9.6l1 -6.4l1 -4.8l1 -3.5l1 -2.1l1 -1.3l1.5 -1.6l9.5 -8l2 -1.5l4 -1.9l2 -.6l1.5 -.1l1.5 .2l1 .4l1 .9l1 1.3l1.5 3l1.5 4.3l4.5 17.4l1.5 5l1 2.7l1 2l.5 .5l1 .4l.5 -.1l.5 -.5l1.5 -2.4l4.5 -12.8l2.5 -6.1l2 -3.5l2 -2.7l1 -.9l2 -1l1.5 -.3l1 .2l1 .4l1 .9l2.5 3l1.5 2.4l1.5 3.2l1 2.6l1 3.6l1.5 7.8l2.5 14.9l5.5 34.3l1 5l2.5 9.8l.5 1.2l.5 .5l1 -.2l1 -.5l3 -2l8 -7.5l2.5 -1.5l1 -.2l1.5 .4l1.5 1.1l1.5 1.6l1 1.6l1 2.3l3.5 11.1l4.5 19.6l3.9 14.7"/>
<path stroke="#61D04F" d="M312.8 306.2l6.5 -2.4l1.5 -1.1l1.5 -1.4l1.5 -2.1l2.5 -4.2l10 -19.3l6.5 -10.9l2 -2.5l3 -2.6l1.5 -.9l4 -1.5l3 -.8l3 -.3l3 .4l2 1.1l7 6l9 9.5l5 3.7l1.5 2l1.2 1.9"/>
<path stroke="#61D04F" d="M413 333l7 -4.6l7.5 -3.6l2 -1.2l2 -1.5l4.5 -2.4l.5 .1l2.5 -.8l.5 -.4l.5 .1l1.5 -.5l1 -.6l1.5 -.5l2.5 -1.7l.5 0l3 -1.6l.5 0l.5 -.4l1 .2l2.5 -1l.5 .1l1 -.6l1.5 -.3l1 -.7l1 0l2.5 -1.3l.5 0l.5 -.2l2 -.3l.5 .2l1 -.2l2 .7l.5 -.1l1.5 .5l.5 .4l1 -.4l.5 .3l.5 0l.5 .6l.5 -.4l.5 0l.5 .4l.5 0l2 .7l.5 -.1l1.5 1.6l.5 0l.5 .4l.5 0l1 1.2l.5 -.1l.5 .2l1 1l.5 -.3l.5 .8l.5 -.2l2.5 1.7l.5 -.3l1 .9l.5 .1l.5 .4l1 .2l.5 -.2l.5 .4l.5 .9l.5 -.2l.5 .7l1 .6l.5 .6l.5 -.1l.5 .7l1.5 .4l1 1.6l1 .3l1 .7l.5 0l.5 .7l1 0l.5 1.4l.5 -.6l.5 0l.5 .5l.5 -.3l.5 .3l.5 1.1l1 -.2l.5 .2l.5 .7l.5 .1l.5 1l.5 -.5l.5 1.2l.5 -.3l.5 .3l.3 .6"/>
<path stroke="#28E2E5" d="M98.4 339.4l5 -2l8 -1.7l3 -.9l2 -.9l1.5 -1.1l2.5 -2.7l5.5 -7.2l2 -1.9l1.5 -1l1 .2l7 4.7l2 1l2 .8l6.5 1.4l5 2l1.5 -.2l1 -.6l.5 -.8l3.5 -12.1l1 -6.3l.5 -5l1.5 -19.9l3.5 -53.5l3 -59.3l1 -16.4l2 -21.9l1 -7.8l1 -5.3l1 -3.7l1 -2.9l1 -1.8l2.5 -3l3.5 -3.4l5 -4.1l2.5 -1.8l5 -2.3l3 -.8l2 0l1 .5l1 1l1.5 2.2l2 4.7l4.5 15l2 5.5l1.5 3l1 .7l.5 -.1l.5 -.3l.5 -.6l1.5 -2.7l2.5 -7.4l3.5 -8.5l2 -3.9l2.5 -3.9l2 -2.1l1.5 -.9l1.5 -.7l1.5 .1l1 .6l1 1l2 2.8l2 3.8l2 5.2l1 3.5l1.5 7.1l8 45.5l2 7.3l1.5 4.2l.5 .8l.5 .3l1.5 -.4l8.5 -5l3 -1.5l2 -.7l1.5 -.1l1.5 .4l1.5 .8l1.5 1.3l1 1.3l1.5 3l3 8.3l4.5 17.3l3.9 13.7"/>
<path stroke="#2297E6" d="M312.8 308.6l3 -.9l3 -1.3l1.5 -1l2 -2l1.5 -2.1l2.5 -4.2l10 -18.9l6.5 -10.6l2 -2.5l3.5 -3.3l1.5 -1l3.5 -1.5l3 -.4l3.5 .3l3 .6l2.5 1.4l5.5 4.6l9 9.2l4.5 4.1l1.5 1.9l2.2 3.9"/>
<path stroke="#2297E6" d="M413 334.7l4.5 -2.7l11 -5.7l3.5 -1.2l1 -.6l1 -.2l.5 -.4l2 -.7l.5 -.4l.5 -.1l.5 -.5l3.5 -1.6l1.5 -.9l.5 -.1l.5 -.5l1.5 -.4l.5 0l.5 -.5l1 -.2l2 -.4l.5 -.4l.5 -.2l.5 .2l1 -.6l.5 .1l.5 -.4l.5 .1l.5 -.4l2 -.3l1 -.6l.5 .1l.5 -.4l.5 .3l1.5 -.2l.5 -.3l2.5 -.7l.5 .2l.5 -.6l.5 -.2l.5 0l.5 .3l1 -.5l1.5 -.1l.5 .2l.5 -.2l.5 .2l.5 -.3l1 .8l.5 -.5l1 .4l.5 -.2l1.5 .8l.5 -.1l.5 .8l.5 .1l1.5 .9l.5 -.2l.5 1.1l.5 -.1l.5 .6l1 .4l1 .9l.5 -.1l.5 .1l.5 .5l.5 -.4l.5 .6l1 .6l.5 0l.5 .8l.5 0l2 1.1l.5 .7l1 .7l.5 -.1l2 1.2l.5 -.1l1.5 .8l.5 .7l1.5 .5l.5 .6l1.5 .4l.5 .7l.5 -.4l.5 .1l.5 .4l.5 1l1 .1l.5 -.1l.5 .8l1 .2l.5 1.2l.5 0l.5 .7l.5 -.1l.5 .5l.5 -.1l.5 .7l.5 0l.5 .5l.5 .1l.5 -.1l1 .8l.5 0l.8 .7"/>
<path stroke="#CD0BBC" d="M98.4 337.5l3.5 -1.3l7.5 -3.3l2.5 -.6l3.5 -.4l1.5 -.7l3 -3.4l5.5 -8.6l2.5 -2.3l1.5 -.7l1 .3l2.5 1.9l9.5 5.8l3.5 1.6l5.5 1.7l1.5 .3l1.5 -.4l1 -.7l.5 -.9l1.5 -6.5l2 -7.4l1 -7l.5 -5.8l5 -79.6l3.5 -72.1l1 -14.2l2 -23.2l1.5 -10.5l1.5 -6.2l1 -2.7l2 -3.4l2.5 -3.3l2.5 -2.7l2 -1.6l6 -3.6l3 -1.4l2 -.7l2 -.3l2 .2l1 .6l1 .8l1.5 1.9l2 4.6l4.5 15.7l2 5.5l1.5 2.9l1 .7l.5 .2l.5 -.1l.5 -.4l1.5 -2.7l6.5 -20.8l2.5 -5.8l2 -3.6l1 -1.4l2 -1.9l1.5 -1.1l1 -.4l1 .1l1 .4l2 2l1.5 2.2l1.5 3.2l1.5 4.2l1 4l1.5 8.1l3 18.7l5.5 36.8l2 9.8l1 3.8l.5 1.2l.5 .5l2 -.4l3 -1.7l5 -4.2l2.5 -1.4l2 -.7l2 0l1.5 .4l1.5 .8l2 1.5l1 1.5l1 2.3l3 9.4l4.5 19.8l3.9 14.6"/>
<path stroke="#F5C710" d="M312.8 305.1l5 -1.3l1.5 -.5l1.5 -1.1l1.5 -1.5l1.5 -2.1l3 -5.3l10 -19.6l4.5 -8l2 -3.1l2 -2.5l3 -2.8l4 -2.4l2.5 -1.2l2 -.4l2.5 .2l3 1l1.5 .9l7 6.3l9 8.8l1.5 1.2l3.5 2.3l1.5 1.7l1.7 2.8"/>
<path stroke="#28E2E5" d="M413 332l15.5 -8.8l4 -1.9l.5 -.4l.5 -.1l2 -1.3l1.5 -.6l.5 -.5l.5 -.1l1 -.8l4.5 -1.7l1 -.1l2 -.6l1 -.6l2 -.3l1 -.4l1.5 -.9l.5 .1l1.5 -.9l2 -.4l1.5 -.8l1.5 0l.5 -.5l.5 .1l.5 -.3l.5 0l.5 -.5l.5 .2l.5 -.3l.5 .3l.5 -.4l.5 0l1 -.5l1 .2l.5 -.2l1.5 0l1 -.3l1 .3l1 .6l.5 -.1l.5 .3l.5 -.4l.5 .6l.5 -.1l.5 .6l1.5 .7l1 .6l.5 -.2l.5 .7l1 -.2l.5 .6l.5 .3l1 .1l.5 .5l.5 0l.5 .7l.5 -.2l1 .2l1 .9l.5 -.2l.5 .3l.5 0l1 1.3l.5 -.3l1.5 1.2l1.5 .8l1 1.1l.5 .3l.5 -.3l.5 1.1l1 .5l.5 -.2l1.5 1.6l.5 -.4l1 1l1.5 .8l.5 .8l.5 -.4l.5 .8l.5 .2l.5 .5l.5 .1l.5 -.2l.5 1.6l2.5 1.1l1 1.1l.5 -.3l.5 .2l.5 1l.5 -.4l2 1.3l1.3 .1"/>
<path stroke="#F5C710" d="M98.4 339.2l6.5 -2.4l2.5 -.6l6 -.7l1.5 -.4l1.5 -.8l3 -3.2l6.5 -8.9l2 -1.7l1.5 -.8l1 .2l9 5.8l3 1.4l2 .4l4 .2l4 1.4l1.5 .3l1.5 -.5l.5 -.8l3.5 -12.4l1 -6.4l.5 -5.2l1.5 -20.4l3.5 -54.4l3.5 -69.3l1 -14l2 -21.1l1.5 -9.4l1.5 -5.8l1 -2.7l1.5 -2.5l1.5 -2l2 -2l2.5 -1.8l7 -4l3.5 -1.2l2 -.2l2 .3l2 .8l1 .9l2 3l2 4.9l1 3.2l4 14.7l2.5 7.6l1 2.2l.5 .6l1 .4l.5 -.2l.5 -.6l1.5 -2.7l2.5 -7.4l3.5 -8.8l2.5 -5l2.5 -4l1 -1.2l2 -1.9l1.5 -1.1l1 -.4l.5 -.1l1 .2l1 .7l1 1l2 2.6l1.5 2.8l2 5l1 3.7l1.5 7.4l7.5 42.2l2 7.6l1.5 4.5l.5 .8l.5 .4l1.5 -.3l3 -1.5l5 -3.2l3 -1.2l2.5 -.6l2 .1l1.5 .4l1.5 .9l1.5 1.5l1 1.7l1 2.3l3 8.8l4.5 17.9l3.9 13.8"/>
<path stroke="#28E2E5" d="M312.8 310.4l6 -1.6l1.5 -.9l2 -1.7l1.5 -1.9l1.5 -2.3l10.5 -18.3l7 -11.1l2 -2.4l3 -2.7l2 -1.2l3.5 -1.3l2 -.3l1.5 .1l4 1.2l3 1.4l5.5 3.9l3 2.4l6 5.8l6 4.7l1.5 1.9l2.2 3.9"/>
<path stroke="#61D04F" d="M413 334.5l7.5 -3.5l8 -4.6l11 -4.5l2 -1.1l3 -.9l2.5 -1.2l1.5 -.3l1 -.4l1 -.7l1.5 -.5l.5 -.4l1.5 -.2l2 -.8l.5 .2l.5 -.7l.5 -.2l1 -.1l1 .2l2.5 -.6l.5 .1l2.5 -.2l.5 -.3l.5 .1l1 -.4l1 .4l1.5 .2l.5 -.4l.5 .2l1 .1l.5 .3l1.5 .2l.5 .6l.5 -.3l1.5 .9l.5 -.2l.5 .2l.5 .6l1.5 .4l.5 .5l.5 -.2l.5 .3l.5 .8l.5 -.4l1 .9l1 .1l1 .9l.5 .1l.5 .8l.5 -.1l.5 .8l.5 -.1l.5 .6l1.5 .6l.5 .8l2.5 1.4l1 1l1 .1l1.5 .7l.5 .5l1 .4l.5 .8l.5 0l.5 .4l.5 -.2l.5 .3l1 -.1l.5 .3l1.5 1.7l1 -.6l1 1l.5 -.2l1 .9l2 .8l.5 .6l1 .1l2.3 1"/>
<path stroke="#CD0BBC" d="M98.4 336.9l8 -2.6l7 -1.4l2.5 -1.2l1 -.9l1 -1.4l7.5 -11.8l2 -1.8l1.5 -.8l1 0l.5 .2l2.5 1.9l7 4.3l2.5 1.2l1.5 .3l4.5 .4l1 .4l3 1.6l1.5 .4l.5 -.1l1 -.6l.5 -1.2l1.5 -7.5l2 -8.1l1 -7.7l.5 -6.3l5 -84.9l3.5 -75.7l3 -40.2l1.5 -11.8l2 -9.1l1 -2.6l1 -1.7l1.5 -2l1.5 -1.3l2 -1.1l4.5 -2l4.5 -2.5l3 -1.1l2 -.1l2 .5l1.5 .5l1.5 1.1l1 1.2l1 1.7l2 5.6l5 20.3l2 6.1l1 2.3l.5 .7l1 .8l.5 0l1 -1.3l1 -2l5.5 -18.3l1.5 -4.5l2 -4.4l2 -3.6l1 -1.3l2 -2l1.5 -1.2l1 -.5l1 0l1 .5l2.5 2.4l2 3.1l1.5 3.4l1 2.9l1 4.2l4.5 27.6l5 35.3l2.5 13.2l1 3.4l.5 .7l.5 .1l2 -.4l2.5 -1.4l4.5 -3.5l3.5 -1.7l2.5 -.7l1.5 0l1.5 .6l1.5 1.1l1.5 1.7l1 2.2l1 2.9l3 10.8l4.5 21.2l3.9 15"/>
<path stroke="#61D04F" d="M312.8 303.3l6 -2.1l1.5 -1.1l2 -2.1l2 -3.2l4 -7.3l9 -17.9l6 -10.2l2 -2.6l3.5 -3.7l4 -2.8l2.5 -1.2l2.5 -.5l2.5 .2l2 .5l2 1.2l5 5l11 12l5 3.8l2.7 3.7"/>
<path stroke="#2297E6" d="M413 332.2l3.5 -2.3l2.5 -1.4l4.5 -2.1l10 -5.4l4.5 -2l4.5 -2.4l1 -.2l3 -1.5l.5 .1l1.5 -.3l1.5 -.7l.5 .2l.5 -.6l1.5 -.3l1 -.4l.5 -.5l1 0l1 -.7l2 -.6l.5 -.3l1 -.1l.5 -.3l2 -.4l.5 -.3l1 .1l.5 -.6l.5 .3l.5 0l.5 -.5l.5 0l1 .4l.5 -.3l1.5 .3l.5 .4l1 -.4l1 .6l.5 -.2l.5 .3l1 .1l1 .8l1 0l.5 .7l.5 .1l.5 -.3l.5 .7l.5 0l1 1.5l2 .3l1.5 1.1l.5 -.1l.5 .5l1 -.3l1 1.1l1 .5l.5 -.2l2.5 1.8l1 .2l1 .8l1 .5l.5 .7l1 .7l1.5 .6l1 .8l.5 -.2l.5 .8l.5 -.2l.5 1.3l1 0l1 .7l.5 .8l1.5 .5l.5 .6l1.5 .6l.5 .1l1 .8l.5 .1l.5 .4l.5 1.1l.5 -.2l.5 .5l.5 -.1l.5 .8l.5 -.1l1 .8l.5 0l.3 .6"/>
<path stroke="#28E2E5" d="M98.4 342.5l4.5 -.5l6.5 -1.7l5 -.7l2 -.6l2 -1l1.5 -1.2l6 -6.1l2 -1.3l1 -.3l.5 0l1 .4l3.5 2.2l2 1l7 2.6l2.5 .7l5 .6l5.5 1l1.5 -.9l.5 -.5l.5 -1l2 -6.8l1 -5.7l1 -7.5l1.5 -16.1l2 -29.9l4 -74.2l.5 -6.1l1 -8.5l.5 -3.1l1 -4.2l1 -3.1l1.5 -3.5l2 -3.5l2.5 -3.4l2 -2.1l2 -1.4l10 -3.7l1.5 -.4l1 -.1l1.5 .2l2.5 1.2l1.5 2.1l3 6l8 19.4l1 1.7l.5 .4l.5 0l1 -1.2l2 -4.3l2 -5.7l1 -2.2l5 -8.8l2.5 -3.8l1.5 -1.5l3 -2.3l1.5 -.8l1 -.4l1 -.1l1.5 .7l2 2.1l1.5 2.4l1.5 3.4l1.5 4.3l1.5 5.6l4.5 21.3l2 7.3l1.5 3.7l1.5 1.8l1 .9l1 .6l1.5 .3l1 -.1l1.5 -.5l7 -3.9l1.5 -.5l1 -.1l2 .2l3.5 1.2l1.5 .9l1.5 1.2l2 2.5l3 5.9l2 5.5l6.4 19.1"/>
<path stroke="#28E2E5" d="M312.8 320.7l3.5 -1.1l3.5 -1.3l2.5 -1.3l2 -1.5l1.5 -1.7l2.5 -3.5l3.5 -5.9l2.5 -3.7l8 -10.3l4 -4.2l2 -1.7l1.5 -1l3 -1l2.5 0l3.5 .8l3.5 1.4l3 1.9l5.5 4.5l5.5 4.9l1.5 1l2.5 1.2l2 1.7l1.5 1.7l1.5 2.2l2.7 5.7"/>
<path stroke="#CD0BBC" d="M413 341l3 -1.1l7.5 -3.4l11 -4l3.5 -1l.5 -.4l4 -1.1l3.5 -1.6l1 -.7l1 -.3l.5 -.4l1 -.3l.5 -.3l.5 .1l1 -.6l1.5 -.1l1.5 -.6l.5 .1l.5 -.2l.5 -.4l1 0l1.5 -.3l.5 -.3l.5 .1l2 -.7l.5 .1l1.5 -.5l.5 .2l.5 -.5l.5 .1l1 -.2l.5 .2l.5 -.3l1 .6l1 -.1l1.5 .6l.5 -.2l1.5 .2l1.5 .8l.5 -.2l1 .7l.5 .1l2.5 1.5l2.5 2.3l.5 .2l.5 0l.5 .6l.5 0l.5 .7l1 .5l1.5 1.3l1.5 .4l.5 .6l1.5 1.1l.5 -.2l1 .8l.5 0l.5 .5l2 1.2l.5 0l1.5 .9l.5 -.4l.5 .6l.5 0l1 .9l1.5 .1l.5 .4l.5 .1l.5 -.1l.5 .5l1 -.5l.5 .7l.5 .2l1.5 .2l1 .3l.5 -.5l1 .7l.5 .1l.5 .3l.5 .2l1 -.2l.5 .7l.5 -.6l.3 .2"/>
<path stroke="#61D04F" d="M98.4 339.6l2.5 -1l1.5 -.4l1.5 -.1l3.5 .4l1.5 0l1.5 -.4l1.5 -.7l5 -3.2l3 -2.5l3 -3.1l3.5 -4.2l2 -1.9l1 -.5l.5 0l1 .4l5 3.9l1.5 .9l1.5 .6l2 .3l4 -.4l2 .2l1.5 .7l3.5 2.5l1.5 .7l.5 0l1 -.4l.5 -.4l.5 -.9l3 -9.2l1 -4.4l1.5 -13.6l2.5 -33.9l2 -30.5l4 -74.2l2 -20.8l1 -7.1l2 -8.6l1 -2.9l1 -1.8l1.5 -1.6l4.5 -3.9l6 -6.5l2.5 -2l5 -2.4l3 -1l1 -.1l.5 .2l1.5 1.5l1.5 2.6l2 5.1l5 16.6l1.5 4.1l1.5 3l.5 .4l.5 .1l1 -.8l1.5 -2.7l1 -2.2l2 -5.8l3 -6.7l2 -3.9l3.5 -5.6l2 -2l1.5 -1l1 -.4l1 -.1l1 .3l1 .7l1 1l2.5 2.9l1.5 2.3l1.5 3.1l1 2.9l1.5 6.4l8 41.9l1 3.6l2.5 7l.5 .8l.5 .3l1 -.4l9.5 -5.9l3 -2.1l2 -1l1 -.1l1 .2l1 .6l1 .9l1.5 2l1.5 2.8l1.5 3.9l2.5 7.5l4.5 17.5l3.9 14.1"/>
<path stroke="#F5C710" d="M312.8 319.6l8.5 -3.2l2 -1.1l1.5 -1.1l3.5 -4.4l5 -8l11 -15.1l2.5 -2.9l1.5 -1.4l1.5 -.9l2.5 -.8l2.5 -.1l4 .8l3.5 1.2l2.5 1.6l6.5 5.1l5.5 4.8l3.5 2.1l2 1.7l2 2.2l1 1.4l2.7 5.1"/>
<path stroke="#F5C710" d="M413 340.2l7 -2.2l7 -2.7l6 -1.7l.5 -.3l2.5 -.9l4 -1.7l3.5 -1.8l2 -.4l3.5 -1.5l.5 0l1 -.3l1 -.6l.5 .1l1 -.7l.5 .2l.5 -.4l.5 .1l1 -.5l1 -.2l.5 -.5l.5 .4l.5 -.3l.5 .1l.5 -.6l.5 .4l1 -.5l.5 .3l1 -.6l1.5 0l1 -.5l.5 .3l.5 -.5l.5 .2l1.5 -.4l1 .1l.5 .3l1 -.3l.5 .4l1 0l.5 .3l.5 -.1l.5 .5l.5 -.2l.5 .1l1.5 1l1.5 .7l1 1.3l1 .2l1.5 1.1l.5 .2l.5 .7l.5 -.2l1 1.1l.5 0l.5 .6l.5 0l1 1.1l.5 -.3l.5 .6l.5 0l1.5 1.3l1 .1l.5 .9l.5 .2l.5 .6l2 .3l.5 .5l.5 -.1l.5 .7l1 .2l.5 .3l1 -.2l.5 .9l.5 -.5l.5 .5l.5 -.4l1 .8l.5 -.5l2 1l.5 0l1.5 .3l.5 .6l1 -.2l1 .3l.5 -.1l.5 .6l.5 .2l.5 -.4l1.5 .8l.5 -.3l.5 .2l.3 -.2"/>
<path stroke="#F5C710" d="M98.4 338.6l6.5 -2.4l2 -.4l5 -.4l1.5 -.5l1.5 -.8l1.5 -1.2l1 -1.2l8 -10.7l2 -1.6l1.5 -.9l1 -.1l1 .4l8.5 5.5l2 .9l2 .4l3.5 -.3l1.5 .2l1 .4l3 1.9l1.5 .6l1 -.1l.5 -.4l.5 -1.1l1 -4.4l1.5 -5l1 -4.3l1 -6.9l.5 -5.5l5 -77.8l3.5 -70.6l1 -13.9l2 -22.1l1.5 -9.7l1 -4.3l1 -3.3l.5 -1.3l1 -1.6l1 -1.2l1.5 -1.3l2 -1l4 -1.5l1.5 -.9l4 -3.1l2.5 -1.2l1.5 -.4l1.5 0l2.5 .5l1.5 .7l2 2.1l1.5 2.7l2 5.5l4 14.5l2 6l1.5 3.3l.5 .6l1 .2l.5 -.4l.5 -.8l1.5 -3.4l2.5 -8.5l4 -11.7l1.5 -3.3l2 -3.7l1.5 -2.2l1 -1.1l2 -1.9l1.5 -1.1l1 -.2l.5 .1l1 .5l1 1l2 2.7l1.5 2.8l2 4.9l1 3.3l2 10.3l7.5 46.6l2.5 11.2l1.5 4.8l.5 .7l.5 .1l1.5 -.3l2.5 -1.3l4.5 -3l4 -1.5l2.5 -.7l1.5 -.1l1.5 .3l1 .6l1.5 1.3l1 1.6l1 2.3l3.5 10.8l4.5 18.5l3.9 13.8"/>
<path stroke="#CD0BBC" d="M312.8 307.2l4 -1.5l2.5 -1.2l2 -1.7l2 -2.1l5.5 -8.3l8.5 -16.2l5.5 -9.2l2 -2.6l3 -3l2 -1.4l2.5 -1.1l2.5 -.5l2.5 .1l5 .9l1 .3l1.5 .9l3.5 3.1l6 6.3l3.5 3.4l7 5.3l1.5 1.8l1.7 2.6"/>
<path stroke="#28E2E5" d="M413 334.4l8 -4.1l7.5 -3.3l4.5 -2.5l6.5 -3.1l1.5 -.5l.5 .2l.5 -.6l.5 0l1.5 -.8l.5 0l1.5 -.6l1 -.8l1 -.1l2.5 -1.4l1 -.2l3 -1.2l.5 .1l2 -1.2l.5 .1l.5 -.2l.5 .1l.5 -.5l.5 -.3l.5 .1l.5 -.6l.5 .1l1 -.8l1 .1l1.5 -.5l1.5 0l.5 .2l1 -.3l1 .3l1.5 .8l2 .1l.5 .8l.5 -.2l.5 .1l.5 .6l.5 -.2l1 .6l.5 -.2l.5 .3l.5 1.1l1 -.5l1.5 1.4l1 .2l1 1l.5 0l1 .5l.5 0l.5 1.1l1 .3l1 .9l1 0l.5 .9l.5 -.5l1 1.4l.5 .3l.5 -.1l1.5 .8l1 .9l.5 .1l.5 .5l1 .1l.5 .3l.5 .9l.5 -.4l.5 .7l.5 -.1l.5 .7l.5 0l1.5 .9l1 1.1l1 -.1l.5 .6l.5 -.5l1 1.7l.5 -1l1.5 1.7l.5 0l.5 -.3l.5 .8l.5 .2l.5 -.3l.5 .3l.5 -.1l1 1.1l.5 -.5l.5 .9l.8 .2"/>
<path stroke="#CD0BBC" d="M98.4 335.8l2 -.9l1.5 -.3l5 .1l2 -.3l2 -.8l5.5 -3.3l1.5 -1.5l2.5 -3.2l5.5 -8.8l2 -2.1l1 -.6l.5 -.1l1 .4l2.5 2.7l2.5 2.3l1.5 1l1.5 .7l2 .5l4 .1l2 .4l2 .9l3 2.1l1.5 .7l1 -.1l.5 -.3l1 -.9l.5 -1.2l1.5 -7.8l2 -8.2l1 -7.9l.5 -6.5l5 -86.3l3.5 -76.8l2.5 -34.9l1 -10.9l1.5 -10.2l1 -4.7l1 -3.3l1 -1.8l1.5 -1.7l6 -4.4l2.5 -1.6l2 -.9l8.5 -2l1.5 -.1l1 .1l1 .6l1 1l1 1.6l.5 1.2l2 6.2l4.5 19.3l1.5 5.3l1 2.9l1 2.1l.5 .6l1 .7l.5 .1l.5 -.4l1.5 -2.2l7 -20.6l2.5 -5.2l2 -3.1l1 -1l1.5 -.9l1 -.3l1 0l1 .4l1 .9l3.5 4.1l2 3.3l1.5 3.5l1.5 6l4.5 27.6l5 34.3l2 10.3l1 4.1l.5 1.2l.5 .4l1.5 -.4l3.5 -1.4l2 -1.3l3.5 -3l3.5 -3.5l2 -1.2l1 0l1 .4l1.5 1.3l1.5 1.8l1 1.7l1 2.5l3.5 12.1l4.5 21.1l3.9 15.6"/>
<path stroke="#F5C710" d="M312.8 303.9l4 -1.1l2 -.9l1.5 -1.1l2 -2.2l2 -3.2l6 -10.6l11 -21.9l2.5 -4.4l2 -2.7l2.5 -2.7l1.5 -1.1l2.5 -1.1l2 -.4l2 .1l6 2.6l2 1.2l7 5.3l4.5 4.1l5 5.1l4 2.9l1.5 1.7l1.7 2.6"/>
<path stroke="#61D04F" d="M413 331.7l4 -2.7l8 -3.9l3.5 -2.3l6.5 -3.3l.5 -.4l.5 -.1l.5 -.5l2 -1l.5 -.4l1 -.3l1 -.9l4 -1.5l.5 -.3l.5 .1l.5 -.4l2 -.3l.5 -.4l1.5 .1l.5 -.4l1 -.5l1 0l2.5 -1l.5 .1l1 -.8l1 -.3l.5 -.4l.5 .1l1.5 -.6l1.5 -.1l1 -.5l1 .2l1 -.9l.5 .5l1.5 -.4l.5 .2l1.5 -.2l1 .3l1 -.2l1.5 .5l.5 0l.5 .4l.5 0l1 .9l1 .2l.5 .4l.5 -.3l.5 1l.5 -.2l3 1.8l.5 .5l1 0l1 .4l.5 .5l.5 -.2l1 1l.5 -.2l1 .7l.5 -.3l1 1.2l.5 .1l.5 .4l.5 -.1l1.5 1.2l.5 0l1 1.1l.5 0l1 1.2l.5 0l1 .7l.5 -.1l1 .5l.5 .4l.5 1l.5 -.3l.5 .5l5 3.5l.5 .9l.5 -.4l1 1.2l.5 .3l.5 0l.5 .3l1 1.2l1.5 .4l1 .6l.3 -.2"/>
<path stroke="#F5C710" d="M98.4 342.2l2 -.2l1.5 -.5l5 -2.3l2 -.7l6 -.9l2 -.7l3 -2.1l6 -5.7l3 -1.8l1.5 .1l6.5 2.5l7.5 3.5l9 2.1l1 0l1 -.2l.5 -.5l2 -3.4l1.5 -4.6l1 -4.8l1 -7.7l1.5 -15.8l1.5 -19.7l1.5 -23.4l4 -74.2l1 -11.1l1.5 -11.8l1.5 -6.9l1.5 -4.5l1 -2.2l3 -5.1l2.5 -3.6l2 -2.2l5.5 -4.7l2.5 -1.9l2.5 -1.1l2 -.2l1.5 .4l1.5 .7l1 .7l1 1.2l2.5 4.1l2 4.4l4.5 13.1l2.5 6.4l1 1.8l.5 .4l.5 .1l1 -.8l2 -3.7l2.5 -6.8l3 -6.2l2 -3.5l2.5 -3.6l2 -2.1l4.5 -3.4l1 -.3l1 0l1.5 .9l1.5 1.8l1.5 2.5l1.5 3.5l1.5 4.7l1.5 6l5 26l2.5 11l1 3.3l2.5 5.3l1 1.5l.5 .4l.5 .1l1 -.2l2 -1.2l3.5 -2.8l2.5 -1.7l1.5 -.6l1.5 -.3l2 .1l3.5 1.2l1.5 .8l2 1.5l1 1.2l1 1.6l3 6.8l8.4 26.9"/>
<path stroke="#CD0BBC" d="M312.8 316.4l7.5 -2.3l2 -1.2l1.5 -1.2l1.5 -1.8l2 -2.9l7.5 -12.7l5.5 -8.6l2.5 -3.5l2.5 -2.7l2.5 -1.9l1.5 -.8l3 -.8l3.5 -.3l3 .3l3.5 1l3 1.7l5.5 4.2l6.5 6.5l4 2.8l2.5 2.1l2 2.4l2.2 4.2"/>
<path stroke="#9E9E9E" d="M413 338l3 -1.3l6 -3.1l7.5 -2.6l7 -2.9l3.5 -1l1.5 -.7l1.5 -.3l.5 -.5l1.5 -.4l.5 -.6l2 -.7l2 -1.3l.5 0l1.5 -.7l.5 0l.5 -.3l2 -.3l1 -.5l.5 .1l4 -1.3l1.5 -.2l1 -.8l.5 .1l.5 -.2l1 -.1l1.5 -.5l.5 0l1 .6l.5 -.5l1.5 .7l.5 -.4l1 .8l.5 -.5l1 .7l.5 .2l.5 -.2l1 .7l.5 -.3l2 1.3l1 .2l1 .7l1 1.2l.5 0l1 .7l.5 .6l1.5 .8l2.5 2.2l1 .5l.5 -.1l.5 .6l.5 .2l.5 .7l1.5 .5l.5 .6l.5 -.6l.5 .9l1 0l2 1.4l.5 -.2l.5 .2l.5 .7l.5 .2l.5 -.2l2 1.3l.5 -.2l.5 .3l.5 1.1l.5 -.3l.5 .3l1 -.3l.5 .6l.5 .2l.5 -.3l1 .4l1 -.3l.5 .7l.5 .2l.5 -.5l.5 1.1l.5 -.6l2 1l.5 -.3l.3 .6"/>
<path stroke="#61D04F" d="M98.4 342.5l2.5 -.9l6 -1l5.5 -2l1.5 -.3l3 -.1l2 -.5l2.5 -1.8l5.5 -6.8l1.5 -1.4l1 -.5l1 .4l4.5 3.3l1.5 .9l6 1.7l5 2.2l2.5 .7l2.5 0l4 -1.2l2 -3.6l1.5 -4.8l1 -5.6l1.5 -12.8l1 -11.4l2.5 -36.3l4 -73.8l1 -10.9l1 -7.8l1 -5.2l1 -3.8l2 -4.9l7 -10.2l1.5 -1.8l2 -1.5l1 -.5l1.5 -.4l4.5 -.2l4 -.6l1.5 .1l1 .2l1 .8l1.5 2.4l2.5 5.3l5.5 15.1l2 4.9l1 2l1 1l.5 0l.5 -.3l2 -2.7l1 -2l1.5 -3.7l1.5 -2.9l6 -9.7l2 -2.7l2.5 -1.9l2 -.8l2 .1l1.5 .9l2 2.2l1.5 2.2l1.5 3.4l1 2.9l2 7.2l5 24.6l2 7.7l1.5 4.2l2 2.8l1 .8l.5 0l8 -2.2l5 -2.3l2 -.1l1.5 .5l2.5 1.5l3.5 3l1 1.1l1.5 2.3l2.5 5.2l4.5 13.4l3.4 10.8"/>
<path stroke="#2297E6" d="M312.8 317.7l3.5 -.8l3 -1.1l2.5 -1.5l2 -1.6l2 -2.4l2.5 -3.5l4 -6.8l3.5 -5.3l6 -8l2 -2.2l4.5 -4.2l2.5 -1.5l2.5 -1l3 0l5.5 1.2l2 .7l2.5 1.6l4.5 3.8l5.5 5.4l1.5 1.1l3 1.8l2 1.7l1.5 1.7l1 1.5l2.7 5.4"/>
<path stroke="#DF536B" d="M413 337.7l7.5 -2.1l3 -1.3l3 -1.7l3 -1.5l2 -.7l.5 -.4l1.5 -.3l2 -.9l5.5 -2.5l4 -1.1l.5 -.4l1 .3l.5 -.3l.5 0l1 -.5l2.5 -.6l.5 -.4l.5 .1l1 -.9l.5 .1l1.5 -1.1l.5 .1l.5 -.4l.5 .1l.5 -.5l.5 -.2l.5 .1l.5 -.3l.5 .2l.5 -.4l.5 .1l.5 -.3l1 0l.5 -.2l.5 .1l.5 -.3l.5 .3l.5 -.1l.5 -.5l.5 .5l1 -.5l2.5 .4l.5 -.4l.5 .3l1 -.1l3 1.2l1 .6l.5 .1l2 1.3l1.5 1.5l1.5 .3l1.5 1.4l.5 -.2l1.5 1l1 -.1l1 .9l.5 -.1l.5 .4l1.5 .7l.5 .9l.5 -.1l1 1l1 .3l1 .6l.5 .6l.5 .1l.5 .7l.5 -.1l.5 .4l1 -.1l1 1l1 .4l.5 -.2l1.5 .5l1.5 .9l.5 -.3l.5 .8l.5 -.7l.5 .7l1.5 .6l.5 .5l.5 -.3l.5 .5l.5 -.3l1.5 .9l.5 -.5l.5 -.2l.5 1.2l.5 -.7l1 .4l.5 .5l.3 -.2"/>
<path stroke="#28E2E5" d="M98.4 342.1l3 -.2l5.5 -1.7l6 -.9l2 -.6l3 -2l7.5 -6.7l1.5 -.9l2 -.8l1.5 .1l11.5 4.3l2 .3l5 .2l2 .7l3 1.4l1 .2l.5 -.1l.5 -.6l1 -1.9l1 -1.3l.5 -1.1l1.5 -5.8l1 -6l1.5 -13.8l1 -11.9l2.5 -36.1l4 -73l1.5 -14.9l1.5 -8.9l1 -3.6l1 -2.8l1.5 -3l1 -1.5l2 -2.2l2 -1.5l5 -2.1l5.5 -3.7l2.5 -1.1l1 -.2l1.5 .3l1.5 .6l2 1.2l2 2.9l3 5.6l7.5 19.3l1 1.8l.5 .4l.5 0l1 -1.2l1.5 -3.5l3 -8.7l1 -2.3l3 -5.8l2.5 -3.9l2.5 -3l4.5 -3.5l2 -.9l.5 .1l1 .4l1.5 1.5l2 2.8l1.5 3.2l1.5 4l1.5 5.4l4.5 22.2l2.5 10.5l1.5 4.8l1.5 2.7l2 3l.5 .5l.5 .2l1 -.2l1 -.5l6 -5.1l1.5 -1l2 -.7l2.5 -.2l3 .5l2 .9l1.5 1.2l1.5 2.1l1 1.9l3 7.3l8.4 27.2"/>
<path stroke="#DF536B" d="M312.8 317.8l5.5 -1l1.5 -.4l2.5 -1.3l2 -1.7l1.5 -1.8l2.5 -3.8l7.5 -12.8l4 -6.2l2.5 -3.5l2.5 -2.7l3 -2.4l2 -1l3.5 -1.2l2 -.2l1.5 .2l5 1.4l3 1.5l4.5 2.9l2 1.5l5.5 5.2l4.5 2.7l2.5 2.2l2 2.9l2.2 4.7"/>
<path stroke="#F5C710" d="M413 338.6l4.5 -1.5l5 -2.2l7.5 -3l2.5 -1.4l3.5 -1.4l2 -.6l.5 -.3l.5 .1l1 -.5l3 -.6l.5 -.3l1.5 -.4l1 -.6l1 0l.5 -.5l3 -1.2l1 -.7l.5 .2l3 -1.3l1 .2l1 -.8l1 .1l1 -.7l2.5 -.7l.5 -.4l1 .2l.5 -.7l.5 .2l2 -.3l.5 .3l1 -.2l1.5 .8l1 0l.5 .5l.5 -.1l1 .5l.5 -.2l1 .3l.5 .8l.5 -.3l1 .4l.5 .9l1 .1l.5 .3l.5 .9l.5 -.2l1 .6l.5 1l.5 -.3l.5 .2l1 1l1.5 .5l1 1.5l.5 -.4l1 1.6l1 .2l1 .8l.5 -.3l.5 .8l1 -.1l.5 1l.5 -.2l.5 .5l.5 -.2l.5 .8l1.5 .1l1 .7l1 .1l.5 .6l1 .5l.5 .2l.5 -.4l.5 .6l1 0l.5 .5l.5 .1l.5 .3l.5 -.1l.5 .5l.5 -.1l1.5 .8l1 -.9l.5 .2l.5 .9l.5 .3l.5 -.2l.5 .3l.5 -.4l.5 0l.5 .7l1.5 .2l.5 -.1l.3 -.4"/>
<path stroke="#F5C710" d="M98.4 335.8l3.5 -.1l2 -.5l2 -1l5 -2.9l4 -1.3l1.5 -.7l1 -1l2 -2.9l6 -10.5l1.5 -1.3l1.5 -.8l1 0l1 .5l2 1.8l1 .7l6 2l5.5 2.7l4 1.6l3.5 1.8l1 .2l1 -.2l1 -.8l.5 -1.3l1.5 -8.4l2 -8.5l1 -8.2l.5 -6.8l5 -88.1l3 -68.8l1 -16.3l2.5 -33.2l1.5 -11.7l1.5 -6.7l.5 -1.6l1 -1.9l1.5 -1.9l1.5 -1.3l2 -1.2l1.5 -.6l4 -.9l2 -.6l6 -2.9l1 -.2l1.5 .1l1.5 .5l1.5 1l2.5 2.9l1 2l1.5 4.1l4.5 17.4l2 6l1.5 3.1l1 .9l1 .4l1 -1.2l1 -1.9l6.5 -22.5l1.5 -3.9l2.5 -4.8l1 -1.4l1 -.9l2.5 -1.7l1.5 -.6l1 -.2l1 .2l2 1.2l1 .9l1.5 2.3l1.5 3.4l1 3.1l1 4.8l5 31.8l4.5 33.9l2.5 14.5l1 3.8l.5 1l1 .3l1.5 -.1l1.5 -.5l1.5 -1l4.5 -4.7l2.5 -1.6l2 -.6l1.5 .2l1.5 .8l2 1.8l2 2.3l1 2l1 2.8l3 10.8l4.5 21.6l3.9 15.1"/>
<path stroke="#CD0BBC" d="M312.8 300.9l4.5 -1.4l1.5 -.7l1.5 -1.1l2 -2.4l1.5 -2.4l7 -12.7l7 -14.9l3.5 -7l2 -3.6l2 -2.7l3 -3l1.5 -1.1l3.5 -1.8l2 -.5l2 .1l5 1.5l2 1.1l4 3.3l2 1.9l9.5 10.5l1.5 1.3l3 1.5l1 .8l2.7 3.4"/>
<path stroke="#61D04F" d="M413 330.4l5 -3.8l3 -2l12 -6.7l6 -2.7l1 -.3l2 -1.1l1 -.4l.5 -.4l.5 .1l1.5 -1l.5 -.1l.5 -.3l.5 0l1.5 -1l.5 0l1.5 -.4l1 -.8l3 -.5l.5 -.4l.5 .1l1 -.6l.5 0l1 -.3l.5 -.4l.5 .2l1 -.7l2 -.5l.5 .2l.5 -.5l1.5 -.2l.5 -.4l.5 .5l1 -.4l.5 .2l.5 -.2l.5 .2l1 -.3l1.5 .4l.5 -.2l1 .6l1 0l.5 .5l.5 -.2l.5 .2l1 .2l.5 .3l1.5 .3l1 1l1 .4l1 .8l.5 0l2.5 1.7l.5 .1l.5 .8l.5 -.3l1 .8l1 .2l.5 .6l.5 0l1.5 1.2l1 .3l.5 .9l.5 -.2l.5 .7l.5 -.3l1 1.1l.5 -.2l.5 .2l1 1.3l1.5 .4l1 1l1 .1l.5 1l.5 -.3l.5 .3l1 1.3l.5 -.3l1 1.5l.5 -.1l1.5 .5l.5 1.2l.5 -.4l1 1.3l.5 0l1 1.1l.5 .2l.5 .7l1 .8l.5 -.5l.5 .9l.3 .2"/>
<path stroke="#61D04F" d="M98.4 337.6l2 -.3l4 .2l2 -.4l2 -.9l4.5 -2.7l4 -1.4l2 -1.7l1.5 -1.7l5.5 -8.3l1.5 -1.5l1.5 -.9l.5 0l1 .4l2.5 2.4l2.5 1.6l1.5 .4l4.5 .6l2 .5l2 1l5 2.9l1.5 .6l1 .2l1 -.2l1.5 -1l.5 -.9l3.5 -13.3l1 -6.8l.5 -5.5l5 -77.2l3.5 -70.2l2 -25.4l1.5 -14.4l1.5 -8.3l1 -3.6l1 -2.4l8 -10l2.5 -2.3l2.5 -1.8l6.5 -4.1l1.5 -.7l1.5 -.2l1 .2l.5 .2l1 1l2 3.3l2.5 6.7l4.5 16.7l2 6l1.5 3.1l1 .8l.5 .1l1 -.4l1.5 -2.1l2.5 -6.9l4.5 -11.3l2.5 -4.7l2 -2.7l1 -.8l2 -.9l1.5 -.2l1.5 .1l1 .4l1.5 .9l1.5 1.2l1 1l1.5 2.6l1 2.3l1.5 5.7l4 21.8l5 29.6l2 8.7l1.5 5.1l.5 1l.5 .3l2 -.4l2.5 -1l2 -1.5l5.5 -5.4l1.5 -1.1l1 -.4l1 -.1l1 .4l1.5 1.1l1.5 1.7l2 2.6l1 1.8l1.5 3.9l2 6.4l1.5 5.6l3.5 15.5l3.9 14.8"/>
<path stroke="#9E9E9E" d="M312.8 307.7l3 -.9l3 -1.4l2 -1.5l2 -2l2 -2.8l3.5 -5.6l8.5 -16.1l4 -6.8l2.5 -3.9l2 -2.5l3 -3.1l1.5 -1.1l3 -1.4l2.5 -.4l2.5 .3l4.5 .8l2 1l4 3.5l10 9.9l6.5 5.4l1.5 1.9l1.7 2.7"/>
<path stroke="#F5C710" d="M413 333.8l3.5 -1.8l7 -4.1l5.5 -2.7l4 -2.5l2.5 -1.3l.5 0l.5 -.5l1 -.3l1 -.6l1 -.1l.5 -.4l1.5 -.4l.5 0l1.5 -.7l.5 0l1.5 -.6l.5 -.4l1.5 -.4l1 -.7l1 -.2l1 -.5l1 -.3l2 -1l.5 .3l.5 -.3l1 .2l.5 -.6l.5 0l1.5 -.5l1.5 -.1l1 -.6l.5 0l.5 -.4l.5 .1l1 -.5l1 0l.5 -.2l.5 -.4l.5 -.1l.5 .3l1 -.2l.5 .4l1.5 .2l.5 .3l.5 -.2l1 .5l.5 .1l.5 -.3l1 .7l1 0l2.5 1.1l.5 -.1l.5 .8l.5 -.2l.5 .1l.5 .6l1 -.1l1.5 .8l.5 0l.5 .5l.5 .2l.5 .7l1 .1l.5 .7l1 -.1l1 1.4l1 .1l.5 .4l.5 .1l.5 .6l1 .3l1 1l.5 -.1l.5 .5l1 .2l1 1l.5 0l.5 .4l.5 -.3l.5 .9l.5 -.3l.5 1.3l.5 -.1l.5 .5l.5 0l.5 .4l.5 .1l1 1l1.5 .8l.5 .7l.5 .2l.5 .5l.5 -.4l.5 .2l1 .8l.5 -.3l.5 .8l.5 -.1l.5 .5l1.5 .4l1 1.1l.5 -.5l.5 .8l.3 .1"/>
<path stroke="#F5C710" d="M98.4 341.5l2.5 -.4l5 .1l2 -.3l10 -4.1l2 -1.3l1.5 -1.2l5.5 -5.8l1.5 -1.1l1 -.4l1 .3l4 2.8l1.5 .8l2.5 .6l4.5 .3l2 .3l2.5 .9l4 1.9l2 .5l2 -.3l.5 -.4l2 -3.2l1.5 -4.4l1 -4.6l1 -7.3l1.5 -15l1.5 -19l1.5 -23l4 -73l1 -10.7l1.5 -10.7l2 -7.7l1.5 -3.6l1 -1.6l7 -8.7l3.5 -3.8l3 -2.6l6 -4.5l2 -.9l1.5 -.2l1 .5l1.5 1.9l2 3.7l1.5 3.5l4.5 12.6l2 5.1l1 2.1l.5 .7l.5 .3l.5 0l.5 -.4l1 -1.4l1.5 -2.8l2.5 -6.4l1.5 -3l4 -6.7l3 -4l1 -.9l2 -1l1.5 -.5l1 0l1.5 .1l1 .5l2.5 2.3l1.5 1.9l1 1.8l1 2.2l1 3l1.5 5.7l4.5 22.2l2.5 10.7l1.5 5l2 3.8l1.5 1.9l.5 .2l1.5 -.3l3.5 -1.7l7 -4.7l2 -.8l1.5 -.1l1 .4l2.5 1.8l2.5 3.1l1.5 2.6l3.5 8.4l8.4 28.4"/>
<path stroke="#61D04F" d="M312.8 316.3l7.5 -2.4l2 -1.2l1.5 -1.2l1.5 -1.8l1.5 -2.2l7.5 -12.7l6.5 -9.8l2.5 -3.5l2.5 -2.7l2.5 -2.1l1.5 -.7l3 -1l3.5 -.4l3 .2l3 .9l2.5 1.5l6 4.6l6.5 6l4 2.9l2.5 2.1l2 2.6l2.2 4.2"/>
<path stroke="#61D04F" d="M413 338.8l9 -4.3l6 -1.7l3 -1.1l.5 0l2 -1l.5 -.1l2 -.8l.5 -.5l2.5 -.7l3.5 -1.7l1 -.2l2.5 -1.5l.5 0l.5 -.5l1.5 -.6l.5 0l1 -.6l1.5 -.2l.5 -.5l2 -.1l.5 -.2l.5 .3l.5 -.5l.5 .1l1 -.4l1 0l4 -1l.5 -.6l1 .2l.5 -.4l.5 .1l2.5 -.5l.5 0l.5 .4l1 .2l.5 -.2l1 .6l.5 -.2l1 .3l.5 .6l.5 -.1l1 .7l.5 -.3l.5 .3l.5 -.2l.5 .7l1.5 1l.5 -.1l.5 .8l1 .5l1 1.1l.5 .1l.5 .8l1.5 .6l.5 .3l.5 .8l.5 .1l2 1.5l.5 .1l1.5 .9l.5 -.2l1 1.1l.5 -.4l1 .7l.5 -.2l.5 .5l1 .5l1.5 .2l2.5 1.3l2 .5l1 .8l.5 -.2l.5 .4l1.5 .1l1 .7l1 .3l1 -.6l.5 1l.5 -.1l1 .9l.5 -.1l.5 -.8l.5 .6l.5 .3l.5 .7l.5 -.5l.5 .2l.3 .6"/>
<path stroke="#28E2E5" d="M98.4 338.9l3 -.4l2 -.5l2 -.8l5.5 -3.1l1.5 -.5l3.5 -.5l1 -.4l1.5 -1.3l1.5 -1.7l6 -9l2 -1.8l1 -.5l1 0l.5 .2l3 2l6 2.2l7 3.8l5 2l1.5 .2l1 -.1l1.5 -.9l.5 -.8l3.5 -13l1 -6.7l.5 -5.3l5 -76l3.5 -69.6l2 -25.1l1.5 -14l1.5 -7.8l1 -3.3l1 -2.3l6.5 -8.7l2 -1.9l2.5 -1.8l6.5 -3.8l2.5 -1l1.5 -.1l1 .1l1 .4l1 .7l2.5 3.3l2 4.4l1.5 4.3l3.5 12.1l2 5.4l1.5 2.7l1 .7l.5 0l1 -.7l1.5 -2.5l6.5 -19.7l2.5 -5.8l2 -3.7l1.5 -1.9l2.5 -2.5l1.5 -1.1l1 -.4l1 -.1l1 .3l1.5 .9l1 1l1 1.5l1.5 3.2l1 3l1 4.2l4 22.6l5.5 34.4l2 9l1 3.6l.5 1.1l.5 .6l1 0l1.5 -.3l2.5 -1.1l5 -3.9l2 -.9l2 -.2l1.5 .4l1.5 1l2 1.9l2.5 2.8l1 1.7l1 2.4l3 9.2l4.5 19.1l3.9 14.3"/>
<path stroke="#F5C710" d="M312.8 306.4l3.5 -.8l2.5 -1l1.5 -1l2 -2.1l2 -2.7l4.5 -7.4l8.5 -16.2l3.5 -6.1l2.5 -3.9l2 -2.5l3.5 -3.7l3 -2.1l2 -.9l2 -.3l2.5 .3l4 1.2l2.5 1.4l4.5 3.8l9.5 9.3l5.5 4.2l1.5 1.7l2.2 3.6"/>
<path stroke="#9E9E9E" d="M413 334.4l6 -3.9l3 -1.4l1.5 -.5l3 -1.3l7 -3.9l5.5 -1.9l.5 -.5l2.5 -1l5 -3.1l1 0l1.5 -.7l1 -.1l1 -.4l1.5 0l.5 -.5l.5 .4l1.5 -.7l2 -.5l.5 -.4l1 -.2l1 -.4l1 0l.5 -.5l.5 .2l.5 -.4l1 -.2l.5 .2l1 0l1 -.3l.5 .5l1 -.6l2 1l.5 -.5l.5 .4l2 -.2l1.5 .5l.5 -.2l.5 .7l.5 -.2l.5 .5l.5 -.2l.5 .2l.5 .8l.5 .2l.5 -.2l.5 .8l.5 -.1l1 1.1l2.5 1.2l.5 .6l1 0l1 1.3l1.5 .1l.5 .3l.5 .7l1 -.1l1 1.1l.5 -.1l.5 .3l1 .2l.5 .9l1.5 1.1l.5 0l.5 .2l.5 .5l1 .1l.5 .7l1 .5l1 .9l1 -.2l2.5 1.8l.5 .7l.5 -.6l.5 .8l.5 -.1l1 .5l.5 .6l.5 .2l1 1l.5 -.7l1 1.3l.5 .4l.5 .1l.5 0l.5 1.1l.5 -.6l.3 .7"/>
<path stroke="#000000" d="M98.4 341.4l6 -1.2l5.5 -2.4l1.5 -.5l1.5 -.2l3.5 .1l2 -.7l1.5 -1.1l1.5 -1.6l5 -6.6l2 -1.7l1 -.4l1 .4l4.5 2.8l5.5 2l6 3.4l2.5 .8l3 .2l4 -.7l.5 -.5l1.5 -2.9l1.5 -4l1 -4.6l1 -7.5l1.5 -15.4l1.5 -19.1l1.5 -23l4 -73.1l1 -10.8l1.5 -11.1l1.5 -6.3l1.5 -3.9l8 -13.7l1.5 -1.9l2 -1.9l9.5 -6.7l2 -.8l1.5 -.1l1 .5l1.5 1.9l2 3.3l1.5 3.3l4.5 12.5l2.5 5.9l1 1.7l.5 .4l.5 .1l.5 -.2l1 -.9l1.5 -2.3l2.5 -6.3l2 -4.1l4 -7.2l2.5 -3.6l1 -.9l2 -1.3l1.5 -.8l1.5 -.5l1 -.1l1 .3l2 1.5l1.5 1.8l1 1.8l1.5 3.7l1 3.2l1.5 5.9l5 25l2 8.8l1.5 5.5l2 4.3l1 1.5l.5 .3l2 -.3l3.5 -1.6l6 -3.9l1.5 -.6l1 -.1l1.5 .4l2 1.1l2 1.5l3 2.7l1 1.4l1 1.9l2.5 6l8.4 28.6"/>
<path stroke="#000000" d="M312.8 318.4l3 -.6l3 -1.1l2.5 -1.6l2.5 -2.2l1.5 -1.7l3 -4.2l6.5 -10.1l8 -11.1l4 -4.4l2 -1.9l2 -1.2l2 -.7l1.5 0l2 .4l6.5 2.9l3.5 2l4 2.7l6 5.4l4.5 2.9l2 1.8l1.5 1.9l1 1.6l2.7 5.7"/>
<path stroke="#000000" d="M413 333.2l3.5 -2l7 -2.8l7 -4.4l4 -2l.5 0l2 -.9l.5 -.4l1.5 -.6l2 -1.3l1 -.3l2 -1l.5 .1l2 -.5l.5 -.4l2.5 -.3l.5 -.2l.5 .1l1 -.8l.5 .1l1 -.5l.5 0l1 -.8l1 0l.5 -.5l.5 .1l.5 -.4l.5 -.1l1 -.6l.5 -.6l2 0l1 -.3l.5 -.4l1.5 .2l1.5 -.5l.5 .4l.5 -.3l1.5 .3l1 -.2l1.5 .4l.5 -.2l.5 .3l.5 0l.5 .7l.5 -.6l1 .7l1 .3l1.5 1.4l1 .7l.5 -.1l1 1l1.5 .5l.5 .4l.5 -.1l.5 .4l.5 0l.5 .5l1 .2l.5 -.1l1 1l.5 -.3l.5 .4l.5 -.2l1.5 1.4l.5 .3l.5 0l.5 .9l.5 -.8l1 1.6l1 .9l.5 -.3l.5 .3l1 .7l.5 .7l1 .4l.5 .5l.5 .1l1 1l.5 -.3l.5 .4l.5 .1l.5 .6l.5 -.2l.5 .3l.5 .7l.5 -.4l.5 1.3l1 0l1.5 1.1l.5 -.1l.5 .6l.5 0l1.5 1.1l2 .9l.5 .7l.5 .2l.8 -.8"/>
<path stroke="#61D04F" d="M98.4 337.3l2 -.1l2 -.3l2 -.9l5 -2.7l2 -.7l3.5 -.7l1.5 -.6l1 -.9l2 -2.6l6 -9.1l1.5 -1.2l1.5 -.8l1 -.1l1 .2l2.5 1.6l5.5 1.6l6 3.2l4.5 1.3l4 1.6l1 .1l1 -.4l.5 -.5l.5 -1.2l1 -5.2l2.5 -10.3l1 -7.6l.5 -6.3l5 -83.6l3.5 -74.1l3 -38.5l1.5 -10.8l1 -4.3l1 -3.3l1 -1.8l1.5 -1.9l1.5 -1.5l1.5 -1.1l2 -1.2l4.5 -1.9l5.5 -3.6l2 -1l1 -.1l1.5 .1l1.5 .5l1.5 .9l2 2.1l1 1.4l2 4.8l5 18l2 5.4l1 1.9l.5 .6l1 .6l.5 -.1l.5 -.4l1 -1.6l1 -2.4l4.5 -15l2 -5.8l1.5 -3.1l1.5 -2.5l2 -2.2l3 -1.8l1.5 -.6l1 -.1l1 .3l1 .7l1.5 1.5l1.5 2.4l1 2.2l1.5 4.2l1 3.9l1.5 8.2l3 18.6l5.5 36.9l2.5 12.2l1 3.3l.5 .8l.5 .1l1 -.1l1.5 -.8l2 -1.6l3.5 -4.2l1.5 -1.5l2 -1.3l1.5 -.7l2 -.2l1.5 .4l2 1.2l2.5 2.3l1 1.8l1 2.6l3 10.3l4.5 20.8l3.9 14.9"/>
<path stroke="#61D04F" d="M312.8 313.9l3.5 -.8l2.5 -.9l2 -1.3l2 -1.8l2 -2.5l3.5 -5.3l9 -15.2l4 -6.5l2 -2.8l2.5 -2.7l2.5 -2.2l1.5 -.9l3 -1.1l1.5 -.2l2 .3l6 1.9l3 1.5l3.5 2.3l2.5 2l6 6.1l4.5 3.5l2 1.8l2 2.7l2.2 4.3"/>
<path stroke="#2297E6" d="M413 336.5l6.5 -3.4l5.5 -1.6l3 -1.1l4.5 -2.2l1.5 -.9l.5 -.1l3.5 -1.7l1.5 -.5l1.5 -.8l.5 -.5l2 -.7l2 -1l.5 -.6l.5 0l.5 -.4l3.5 -1l1.5 -.1l1 -.4l2.5 -.4l.5 -.4l.5 .1l1 -.5l1.5 -.4l3 -1.3l.5 .1l1 -.3l.5 -.4l1.5 0l.5 -.1l.5 .1l.5 -.3l.5 .3l.5 -.3l1 .2l.5 .4l.5 -.1l1 .4l.5 -.1l.5 .3l.5 -.2l.5 .5l.5 -.2l.5 .1l1 .9l.5 -.3l.5 .8l.5 .4l1 .2l1 1.1l.5 -.2l.5 1l.5 .6l.5 -.3l1 1.2l.5 0l.5 .6l.5 .1l1.5 1.2l1 .4l1 .8l.5 .1l.5 -.3l2 1.5l.5 -.2l.5 .6l.5 -.3l.5 .5l1 .3l.5 .6l.5 -.1l1 1l1 -.3l2 1.4l.5 -.3l1 .6l1 .9l.5 0l.5 .4l.5 0l.5 .3l.5 .6l1 -.2l.5 .3l.5 .6l1 -.1l.5 .5l.5 -.2l.5 .6l.5 .1l.5 .4l.5 .8l1 -.4l.5 0l.5 .8l1 0l.3 .3"/>
<path stroke="#2297E6" d="M98.4 338.2l2.5 -.8l4.5 -.7l2.5 -.7l9 -3.9l1.5 -1.3l2 -2.3l5.5 -7.8l2 -1.9l1.5 -.7l1 .3l3 2.4l3 1.8l3 1.2l6.5 2l6.5 3.2l1 .2l1 -.3l1 -.8l.5 -.9l3.5 -13l1 -6.7l.5 -5.4l5 -76.2l3.5 -69.9l2 -25.4l1.5 -14.3l1 -5.9l1 -4.4l1 -3.3l1 -2l2 -2.9l6 -7.6l4 -4.1l3 -2.3l4.5 -2.8l2.5 -.8l1 0l1 .4l1 .8l1 1.2l1.5 2.8l1.5 4l4.5 16.2l2 5.8l1.5 2.9l.5 .5l1 .3l1 -.7l1.5 -2.5l2.5 -7.5l4 -11l3 -6.2l2 -3.1l1 -1l2 -1.5l1 -.5l1 -.1l1 .1l1 .5l3 2.8l1.5 2.2l1.5 3.2l1 2.9l1 4.3l4 22.8l5 31.3l2 9.4l1.5 5.7l.5 1.1l.5 .4l2 -.5l3.5 -1.8l4 -3l3 -2.1l1.5 -.7l1 -.2l1 -.1l1.5 .7l1.5 1.2l2 2.3l1 1.5l1 2.2l3.5 10.8l4.5 19.2l3.9 14.5"/>
<path stroke="#F5C710" d="M312.8 307.3l6.5 -2.7l2 -1.4l2 -2.2l2 -3l3 -5.1l8 -15.8l6.5 -11.8l1.5 -2.2l2 -2.2l2 -1.6l1.5 -.6l3.5 -.7l3 -.1l4 .6l2 .5l1 .5l2 1.5l7 5.7l8.5 8.2l4 2.9l1.5 1.7l1.7 2.7"/>
<path stroke="#61D04F" d="M413 333.9l2.5 -1.7l3 -1.7l5 -2l7 -3.9l3 -1.1l2.5 -1.2l1 -.3l3.5 -2.2l4 -2l.5 -.5l.5 0l1 -.4l1 0l1 -.6l.5 .2l1 -.2l.5 .1l2 -.5l3 -1.3l1.5 -.1l.5 -.5l1.5 -.3l.5 -.4l1.5 0l1 -.7l1.5 .2l1.5 -.6l.5 .2l1 -.4l1 .5l.5 -.1l.5 -.1l.5 -.5l.5 .4l.5 -.2l1 .3l1.5 -.1l1 .7l.5 -.2l.5 .2l1 .6l1 1l1.5 .7l1.5 1.4l1 .4l1 .8l1 .1l1 .9l.5 .1l.5 -.2l.5 .5l2.5 .8l.5 .5l1 .4l.5 0l1 1.2l.5 -.4l.5 .6l1.5 1l.5 0l.5 .7l1 .2l1.5 1.2l.5 -.2l.5 .6l1 0l.5 1.1l.5 -.1l1 .2l.5 .4l.5 .1l.5 1l.5 -.4l1 1.1l.5 0l.5 .7l1.5 .8l.5 -.2l.5 1.2l1.5 .8l.5 -.1l.5 .6l.5 0l.5 .3l.5 .1l.8 .9"/>
<path stroke="#DF536B" d="M98.4 340.3l6.5 -2.6l8 -1.4l2 -.6l1.5 -.7l1.5 -1.2l2 -2.1l6 -7.7l2.5 -2.4l1 -.5l.5 0l1 .3l8.5 4.9l3 1.3l6 .9l3.5 1.5l1.5 .4l1.5 -.4l.5 -.3l.5 -.7l3 -9.6l1 -4.5l1.5 -14.2l4.5 -65.4l3 -58l1 -16.3l2.5 -24.8l1.5 -7.9l1.5 -4.6l1 -2.1l2.5 -3l2.5 -2.2l9.5 -6.8l4 -1.9l3.5 -.9l2 -.1l1 .5l1 .9l1.5 2l2 4.3l4.5 13.7l2.5 6.3l1 1.7l.5 .4l.5 .1l1 -.6l1.5 -2.7l1 -2.5l2 -6.3l3 -7.7l2 -4.3l3 -5.2l2 -2.3l2 -1.7l1.5 -.9l1 -.1l.5 .1l1 .5l1 1l2 2.8l1.5 2.7l1.5 3.6l1.5 4.8l1.5 6.8l8 44.5l2 7.2l1.5 4.2l.5 .8l.5 .3l1 -.1l1.5 -.7l6.5 -3.6l3 -1l2 -.4l2 .1l2 .6l1.5 1l1.5 1.5l1 1.4l1.5 3.2l3 8.5l4.5 17.2l3.9 13.7"/>
<path stroke="#9E9E9E" d="M312.8 313l6.5 -2.5l2 -1.3l2 -1.8l1.5 -1.9l2 -3l9 -15.8l7 -10.7l2.5 -2.9l2.5 -2.2l1.5 -1l3 -1l3.5 -.4l4 .4l3 .7l2.5 1.4l6 4.7l6.5 6.2l6 5.2l2 2.5l2.2 4"/>
<path stroke="#CD0BBC" d="M413 336.6l2.5 -1.2l10.5 -4.2l6 -2.9l5.5 -2.3l1 -.6l.5 -.1l4.5 -2l1.5 -.3l.5 -.4l2.5 -.5l.5 -.3l3.5 -1.1l1 -.5l.5 0l1.5 -.7l.5 0l1 -.6l2.5 -.9l.5 .1l1 -1l.5 .4l.5 -.3l1 0l.5 -.6l1 .2l.5 -.3l.5 .3l1 -.2l.5 .2l.5 -.4l1.5 .7l.5 0l.5 .3l1 -.1l.5 .2l.5 .5l.5 .1l.5 -.2l1 .4l.5 -.1l1 .8l1.5 .6l1 1.1l.5 .1l.5 .4l1 .3l.5 .5l.5 -.2l2 1.3l.5 0l.5 .6l2 .4l.5 .6l.5 .1l.5 .9l.5 -.2l.5 .4l.5 -.2l1 .7l.5 -.2l.5 .9l1 .5l2 1.7l.5 -.3l.5 .7l.5 -.1l1 1l1.5 .6l1 .8l1 .1l.5 .6l.5 0l1.5 1l1.5 0l.5 .3l.5 .6l.5 -.1l.5 .6l.5 0l1 .3l.5 .9l.5 -.3l1 .2l.5 -.7l1 1.3l.5 .1l.8 -.8"/>
<path stroke="#CD0BBC" d="M98.4 336.3l3.5 -1.3l7.5 -2l5.5 -2l1.5 -.8l1 -.9l2.5 -3.4l6 -10l2 -1.9l1.5 -.8l1 .4l2.5 2.4l2.5 1.8l3.5 2.2l3 1.3l6.5 2l3.5 1.9l1 .3l1 -.1l1.5 -1.1l.5 -1.1l1.5 -7.7l2 -8l1 -7.8l.5 -6.4l5 -85.1l3 -66.8l1 -16.3l2.5 -32.2l1.5 -11.4l1 -4.8l1 -3.7l.5 -1.3l1.5 -2.3l1.5 -1.5l2 -1.5l3 -1.8l3.5 -1.3l3 -.8l4.5 -.6l2.5 -.1l2 .3l1 .5l1 1l1 1.2l1 1.9l2 5.8l4.5 18.2l2 6.4l1.5 3.4l.5 .6l1 .7l.5 0l.5 -.4l1.5 -2.3l6.5 -19.9l2.5 -5.7l2.5 -4.3l1 -1.1l2 -1.5l1 -.5l1 -.2l1 .3l1 .6l2.5 2.7l2 3.2l1.5 3.5l1 2.9l1 4.5l4 24.2l5.5 37.2l2 10l1 4l.5 1.2l.5 .4l1.5 -.2l2.5 -.9l2 -1.2l3.5 -2.7l3.5 -2.3l1.5 -.8l1 -.3l1.5 .1l1.5 .7l1.5 1.2l1.5 1.6l1 1.8l1 2.6l3 9.9l4.5 20.2l3.9 14.8"/>
<path stroke="#DF536B" d="M312.8 304l2.5 -.9l3.5 -1.7l1.5 -1.2l2 -2.2l2 -3.1l4.5 -7.8l8 -16.3l6.5 -11.6l2 -2.7l3 -3.1l1.5 -1.1l3 -1.4l2.5 -.5l3 .1l4 .8l2 1.1l4.5 4.2l11.5 12.9l5 4l2.7 3.6"/>
<path stroke="#9E9E9E" d="M413 332l6 -4.2l11.5 -6.9l3.5 -1.7l.5 -.1l1.5 -.8l.5 0l1.5 -.9l1 -.2l.5 -.4l1 -.1l1 -.8l1 -.3l.5 -.5l1.5 -.5l.5 -.4l1.5 -.3l2 -1l.5 .2l1.5 -.8l.5 0l2.5 -1.2l1 0l1 -.6l1 -.4l1 -.3l.5 .1l.5 -.4l.5 .1l.5 -.6l.5 0l1 -.5l.5 .2l.5 -.4l.5 .2l.5 -.2l.5 .2l.5 -.1l.5 -.5l.5 .3l1.5 -.3l.5 .3l.5 0l1.5 -.5l.5 .6l1 -.3l.5 .2l.5 .7l.5 -.6l1.5 .9l.5 -.2l.5 .2l.5 -.1l.5 .5l1.5 .3l.5 .8l.5 .2l.5 .6l.5 -.4l.5 0l.5 1.1l.5 -.1l.5 .5l.5 -.2l.5 .3l.5 .6l.5 -.2l2 1.4l.5 -.2l.5 .6l.5 0l1.5 1.1l.5 0l.5 .5l1 .1l1 1.1l1 .6l.5 -.1l1.5 1.5l2 .8l1 1.3l.5 0l.5 .2l.5 .6l.5 .9l.5 -.5l1.5 .6l.5 1l1 .4l1 1l.5 -.1l1 1.2l.5 -.3l1 1.1l.5 -.2l.5 1.6l.5 0l.5 .6l.5 -.7l1 1.5l.5 -.2l.5 1.1l.5 -.7l.3 .5"/>
<path stroke="#DF536B" d="M98.4 337.6l2.5 -.1l2 -.5l5.5 -2.4l6 -1.5l2 -1l1 -1l1.5 -2.1l6.5 -9.6l1.5 -1.1l1.5 -.7l1.5 .1l3 1.9l5 1.9l5 2.5l2 .7l4 .7l4.5 1.9l.5 .1l1 -.2l.5 -.4l.5 -1.1l1 -4.7l1.5 -5.2l1 -4.5l1 -7.2l.5 -5.8l5 -80.5l3.5 -72.5l1 -14.1l2 -23.4l1.5 -10.5l1 -4.4l1 -3.3l1 -2.1l1.5 -2l1.5 -1.6l1.5 -1.1l2 -1l4 -1.3l5.5 -3.2l2 -.8l1 -.2l1.5 .3l1.5 .7l1.5 1l2.5 3.3l1.5 2.9l2 5.7l5 18.1l1.5 4.1l1 2l.5 .6l1 .5l.5 -.2l.5 -.6l1.5 -3l2.5 -8.5l4 -12.4l1.5 -3.7l2.5 -4.6l1.5 -1.9l2.5 -2.2l1.5 -1.1l1 -.5l1 -.1l1 .3l1.5 1l1 1l1.5 2.3l1.5 3.4l1 2.9l1 4.2l4 23.2l5.5 35.4l2 9.4l1.5 5.2l.5 .8l.5 .2l1 -.1l1.5 -.5l2 -1.3l3.5 -3.6l1.5 -1.3l2 -1.2l2 -.6l2 -.1l2 .7l2 1.3l1.5 1.5l1 1.9l1 2.5l3 9.9l4.5 19.8l3.9 14.3"/>
<path stroke="#61D04F" d="M312.8 304.1l6.5 -2.1l1.5 -1.1l1.5 -1.6l2 -3.1l4.5 -8l12 -23.3l3 -5.1l2 -2.4l2.5 -2.3l3.5 -2.1l2.5 -1.2l2 -.5l2.5 .3l3.5 1l2 1.2l6.5 5.6l9.5 10.4l1.5 1.2l2.5 1.3l1 .9l1.5 1.8l1.2 1.9"/>
<path stroke="#2297E6" d="M413 332.3l4 -2.1l7.5 -4.8l4.5 -2.2l7 -4l5 -1.9l1.5 -.2l1.5 -.7l1 -.2l.5 -.3l.5 0l.5 -.4l1 -.4l1 -.5l.5 -.1l.5 -.5l3.5 -1.5l.5 -.4l1 -.2l.5 -.5l1 .1l1.5 -.5l.5 .1l1.5 -.8l.5 0l.5 -.3l1 -.2l.5 .1l.5 -.4l1 0l.5 -.7l.5 .2l.5 -.3l.5 .4l1 -.3l2 .3l1 .3l.5 .4l.5 -.3l1 .6l.5 .1l.5 -.1l.5 .5l1 .4l.5 -.2l.5 .5l.5 -.1l1 .5l.5 -.1l.5 .2l.5 .6l.5 -.4l1.5 1.1l1 0l.5 .7l.5 -.2l.5 .4l1 .3l1 .9l.5 0l.5 1l.5 0l.5 .8l.5 .2l.5 0l3 2.1l1.5 .4l.5 .7l.5 .2l.5 .5l.5 0l.5 .5l.5 0l.5 .6l.5 .2l.5 .5l.5 .9l1 -.1l3 2.1l1.5 1.4l.5 -.1l.5 .3l.5 .8l.5 -.9l.5 .7l1 .6l.5 -.1l.5 .2l.5 0l.5 .5l.5 -.2l.5 1l1 0l.5 1l1 -.1l.3 .6"/>
<path stroke="#61D04F" d="M98.4 341.6l3.5 -1.7l2 -.7l2 -.3l4 -.1l2 -.2l2 -.6l2.5 -1.1l2 -1.3l2.5 -2.2l5.5 -6.2l2 -1.9l1 -.6l1 0l2 1l5.5 3.8l2.5 1.3l2 .6l5.5 .5l5.5 1.9l1.5 -.1l1 -.7l2 -4.1l1.5 -4.4l1 -4.9l1 -8.2l1 -10.4l2 -25.5l1.5 -22.7l4 -72.4l1 -10.6l1.5 -11.2l1 -4.4l1 -3.3l1.5 -3.6l1 -1.7l2 -2.4l2.5 -2.5l7 -5.9l2.5 -1.8l4.5 -2.1l4.5 -1.4l1 .1l1 .6l2 2.5l2 3.9l4.5 12.1l2.5 6l1 1.6l.5 .3l.5 -.1l1 -1l2 -4.2l2.5 -7.3l2.5 -5.6l2 -3.9l3.5 -6l2 -2.5l3 -2.7l1.5 -.5l1 .2l1 .7l2 2.4l2 3.1l1.5 3.3l1.5 4.1l1.5 5.9l5 25.9l2.5 11.4l1 3.5l2.5 5.8l1 1.4l.5 .1l1.5 -.6l5.5 -3.1l3 -1.1l4 -1l2.5 0l1.5 .4l1 .5l1.5 1.3l1.5 2l1 1.8l3.5 8.9l8.4 28.9"/>
<path stroke="#9E9E9E" d="M312.8 316.2l7 -1.9l2.5 -1.3l2 -1.7l2 -2.4l2 -3l7.5 -13.3l4 -6.1l2.5 -3.5l2.5 -2.9l3 -2.7l2 -1.1l3 -1l3 -.1l4 .4l2.5 .6l2.5 1.3l4.5 3.6l7 6.4l5 3.2l2.5 2.1l2 2.6l2.2 4.2"/>
<path stroke="#F5C710" d="M413 337.9l4 -1.8l3.5 -1.1l3 -1.1l4.5 -2.1l7.5 -2.5l2 -.8l1.5 -1.1l2 -1.1l1 -.9l3.5 -1.4l.5 0l2 -.8l.5 .1l1 -.6l.5 .3l1 -.5l2.5 -.6l.5 -.4l1 -.1l.5 -.4l1.5 -.4l.5 -.4l1 -.2l.5 .2l1 -.4l.5 .1l.5 -.5l1.5 .2l.5 -.5l.5 .2l1.5 -.3l.5 -.2l.5 .3l.5 -.4l.5 .1l.5 -.3l1 -.1l.5 .5l.5 .2l.5 -.4l1 .4l.5 -.4l.5 .2l.5 0l2 1.2l.5 -.1l3 2.8l2 1.1l1 1.3l.5 -.1l.5 .7l.5 .2l.5 -.2l1 .5l1 1l1 -.2l1 1.2l1 .3l.5 -.1l.5 .9l.5 0l1 .7l1 .4l1.5 1.4l.5 -.3l.5 0l.5 .9l.5 0l.5 -.3l1 .5l.5 .5l.5 -.2l.5 .5l1 -.3l.5 .4l.5 -.4l1 1l.5 -.2l.5 .4l.5 -.1l.5 .6l.5 -.2l1 1.1l.5 -.1l.5 .7l1 .4l.5 -.1l.5 .4l.5 -.1l1 .6l1 .9l.5 -.8l.5 1l.5 -1l.3 .1"/>
<path stroke="#CD0BBC" d="M98.4 337l2.5 0l2 -.5l6.5 -3.4l2 -.6l3.5 -.7l1.5 -.7l1 -1l2 -2.9l3 -5.1l3 -4.6l1.5 -1.2l1.5 -.6l1.5 .1l3 2.1l5.5 2l6 3.4l1.5 .5l3 .7l3.5 1.5l1 .2l1 0l1 -.6l.5 -1.1l1 -5.1l2 -7.5l.5 -2.5l1 -7.6l.5 -6.1l5 -83.2l3.5 -74.5l3 -39.2l1.5 -11.3l1 -4.7l1 -3.6l1 -2.2l1.5 -2.3l1.5 -1.9l2 -1.7l2 -1l4.5 -1.4l4.5 -2.4l2 -.9l1 -.1l1.5 .4l1.5 .8l1.5 1.1l1.5 1.9l1.5 2.3l1.5 3.5l1.5 4.5l4.5 17.3l2 5.7l1 2.1l.5 .6l1 .6l.5 0l1 -1.3l1 -2l6.5 -21.9l1.5 -3.9l2.5 -5l2 -2.5l3 -2.9l1.5 -.9l1 -.3l1 .1l1.5 .8l1 .9l1.5 2.2l1.5 3.4l1 2.9l1 4.4l4.5 27.2l5 34.6l2.5 12.9l1 3.5l.5 .8l1 .3l1 -.1l1.5 -.5l1.5 -1l3.5 -3.7l1.5 -1.3l2 -1.1l1.5 -.5l2 0l1.5 .6l2 1.2l2.5 2.3l1 1.8l1 2.7l3 10.2l4.5 20.6l3.9 14.6"/>
<path stroke="#CD0BBC" d="M312.8 306.4l3 -1l3.5 -1.6l1.5 -1.1l2 -2.1l2 -3l3.5 -6l8.5 -16.9l5.5 -9.9l2 -2.9l1.5 -1.6l2 -1.8l2 -1.1l3 -.7l3 -.2l6.5 .6l2.5 1l4.5 3.2l3.5 3.1l3 2.9l5 5.5l4 3.3l1.5 1.8l1.7 2.7"/>
<path stroke="#61D04F" d="M413 331.4l14.5 -8.9l2 -1l5 -2l4 -1.9l.5 -.5l1.5 -.4l.5 -.5l1 -.4l2 -.6l1 -.6l1 -.1l2 -.8l1 -.1l1 -.6l2 -.6l.5 -.5l1 -.3l1 -.5l1 0l.5 -.5l.5 .3l1 -.5l1 0l.5 -.5l.5 .2l2 -.7l1 .3l.5 -.7l1 0l.5 -.3l.5 .2l1.5 -.7l.5 -.1l.5 .3l.5 -.4l.5 .5l.5 -.2l.5 .2l2 0l2 .8l.5 0l.5 .5l1 0l1 .6l.5 .6l2 .8l.5 0l.5 1l.5 -.2l1 .6l1.5 .3l1 .7l.5 -.1l.5 .7l.5 0l.5 .5l.5 .9l.5 .2l.5 -.4l2 2.1l.5 -.1l.5 .2l1 .8l.5 -.2l.5 .8l.5 .1l.5 .8l1 .2l.5 .4l.5 0l1 .6l.5 -.3l.5 1l1.5 .9l.5 -.3l.5 .6l1.5 .7l1 .9l.5 .1l.5 .6l.5 .1l1 1.6l.5 -.2l1 .2l1 1.2l1 .3l.5 -.1l1 1.2l.5 -.2l.5 .8l.5 .1l.3 -.2"/>
<path stroke="#DF536B" d="M98.4 336.4l3 -1.7l2 -.7l1.5 -.2l4 -.1l2 -.5l2.5 -1.3l2.5 -1.7l1.5 -1.5l2.5 -3.4l5.5 -8.5l2.5 -2.8l1.5 -1l.5 -.1l1 .5l6 5l2.5 1.6l2 .6l4 0l2 .4l1.5 .8l2.5 2l1.5 .9l1 .1l1 -.8l.5 -.6l.5 -1.5l1.5 -8.6l2 -8.6l1 -8.2l.5 -6.8l5 -89.3l3 -69.7l1 -16.4l2.5 -33.8l1.5 -12l1.5 -7.3l1 -3.1l1 -1.5l1 -.8l1 -.4l4 -.5l5.5 -1.5l2 -.2l1.5 .2l8 1.8l1 .5l1 .9l1 1.5l.5 1.1l2 6l4.5 19.1l1.5 5.2l1 2.8l1 2.1l.5 .5l1 .5l.5 -.1l.5 -.5l1.5 -2.7l6.5 -21l3 -7l2.5 -4.7l2.5 -3l1 -.8l1 -.4l1 .2l1 .7l3 3.2l2 3.1l1.5 3.3l.5 1.4l1 4.3l4.5 27.4l5 35.9l2.5 13.8l1 3.5l.5 .6l1.5 -.6l3.5 -2.1l4 -2.8l2 -1.2l3.5 -2.5l1.5 -.8l1 0l1.5 .6l1 .9l1.5 1.9l1 1.9l1 2.8l3.5 12.9l4.5 21.8l3.9 15.6"/>
<path stroke="#DF536B" d="M312.8 302.7l6.5 -2.8l1.5 -1.3l1.5 -1.8l1.5 -2.4l4.5 -8.6l14.5 -28.2l1.5 -2.3l1.5 -1.8l2 -1.8l2 -1.2l4 -1.4l2.5 -.3l3 .6l4 1.6l7 4.9l2.5 2.1l3 3.1l5 6.2l1 .9l3.5 2.4l2.7 3.7"/>
<path stroke="#28E2E5" d="M413 330.1l3.5 -2.4l6.5 -3.3l5 -3.5l1.5 -1l1.5 -.7l.5 -.4l4 -1.4l.5 -.4l.5 .1l.5 -.4l1.5 -.6l1.5 -.7l.5 -.5l4 -1.9l.5 0l1 -.5l2.5 -.5l1 -.6l.5 0l2 -1l2 -.5l.5 -.3l.5 -.7l.5 .3l.5 -.7l.5 -.1l.5 .2l1.5 -1.1l1 0l.5 -.4l.5 .1l.5 -.3l.5 .4l1 -.5l.5 .3l1 0l.5 -.5l1 .1l.5 -.3l.5 .3l1.5 -.1l.5 -.2l1 .5l.5 -.5l1 .4l.5 -.2l1 .3l1 0l.5 .6l.5 -.2l.5 .6l.5 -.1l.5 .5l1 .1l.5 .7l1 .3l.5 .9l.5 .1l.5 -.3l.5 .5l1 .2l.5 .5l1 .5l.5 -.3l1 .9l.5 -.5l1.5 1.4l.5 -.3l.5 .6l1 .5l.5 .5l.5 0l1 .8l1 1.3l.5 0l1 .4l1.5 1.7l.5 -.1l.5 .2l1.5 1.3l.5 -.1l1 .6l.5 0l1 1l.5 .1l.5 -.2l.5 1.2l.5 .6l.5 -.9l1.5 1.8l.5 -.5l.5 1.4l1.5 .6l.5 -.1l.5 1l.5 .1l.5 .7l1 .2l.5 1.3l.5 .4l.5 -.9l.5 .9l.3 -.3"/>
<path stroke="#28E2E5" d="M98.4 343l2.5 -.5l5 -1.7l6 -1l2.5 -.9l3.5 -2.1l8 -6.3l2.5 -1.5l1 -.3l1 .1l2 .7l9 4l2 .4l5 .4l2 .8l3 1.6l1 .2l1 -.1l1 -1.5l1.5 -1.7l1 -2.7l1.5 -6.3l1.5 -11l1 -10.2l1.5 -18.8l1.5 -23.4l4 -73.8l1 -10.8l1 -7.9l1 -5.1l1.5 -5.2l1.5 -3.8l1.5 -2.7l1.5 -2l2 -2l10.5 -7.9l2.5 -.9l2 .1l1.5 .5l2.5 1.3l1.5 1.5l3.5 6.4l7.5 19.6l1 2.2l.5 .7l.5 .3l.5 -.1l.5 -.5l1 -2l1.5 -3.6l2.5 -7.3l1.5 -3.3l3 -5.6l3 -4.8l2 -2.5l3 -3l1.5 -1.3l1 -.4l1 -.1l1.5 .9l1.5 1.7l1.5 2.1l1.5 3.2l1.5 4.1l1.5 5.6l5 25.2l2 8.5l1.5 4.9l2 3.9l1.5 2.4l.5 .5l.5 .2l1 -.2l1 -.5l3.5 -2.4l1.5 -.8l2 -.9l2 -.4l2.5 -.1l3 .7l2 .8l1.5 1.2l1 1.1l1.5 2.3l3.5 7.7l8.4 25.3"/>
<path stroke="#61D04F" d="M312.8 321.3l3 -.9l4.5 -1.7l2.5 -1.3l1.5 -1.2l1.5 -1.6l2.5 -3.6l3.5 -6l2.5 -3.6l6.5 -7.9l2.5 -2.7l4.5 -4l2 -1.3l3 -.9l2 -.1l2.5 .2l3.5 .6l2 .5l3 1.6l4.5 3.1l6 5l4 2.5l2 1.8l2 2.6l1 1.6l2.7 5.9"/>
<path stroke="#61D04F" d="M413 340.6l4.5 -1.6l4.5 -1l3.5 -1.2l7 -3.1l2 -.6l.5 -.3l.5 -.1l4.5 -1.9l1 -.2l2 -.9l.5 -.4l3 -.9l.5 -.4l.5 .1l2.5 -.7l1 -.1l1 -.4l1.5 -.1l1.5 -.7l.5 -.4l.5 0l.5 -.6l1 0l1 -.7l1 0l1.5 -.6l.5 .1l1 -.5l1 .2l.5 -.4l1.5 -.4l.5 .1l.5 .5l1.5 .1l.5 -.2l1.5 .5l1 -.3l.5 .2l.5 .5l1 -.2l1 .8l.5 -.1l1.5 .8l1 1.2l1.5 .8l1 1.2l.5 .4l1 .3l.5 .7l.5 .1l.5 .6l1 .4l1 .1l.5 .6l.5 .1l.5 .4l.5 .1l.5 .4l.5 0l1.5 1.2l.5 -.3l.5 .6l2.5 1.2l1 1l.5 -.5l.5 .9l.5 -.4l.5 .5l.5 .1l.5 .6l.5 -.1l.5 .4l.5 -.4l1 1l1 -.2l1 1l1 .1l.5 -.4l.5 .4l.5 -.1l.5 .3l.5 -.1l.5 .2l.5 .6l.5 -.5l.5 .6l1 -.1l.5 .5l.5 -.1l1 .8l1 -.6l1 -.3l.3 .5"/>
<path stroke="#F5C710" d="M98.4 343l7 -1.2l7 -2l4.5 -.8l1.5 -.4l1.5 -.8l1.5 -1l5 -5l2 -1.5l1 -.4l1 .3l4.5 2.5l1.5 .6l6.5 1.7l5 1.6l3.5 .7l2 .2l2.5 -.4l1.5 -1.3l1 -1.7l1.5 -4.8l1 -4.9l1.5 -11.4l1 -10.6l1 -12.6l1.5 -23.4l4 -74l1 -10.7l1 -7.3l1 -4.5l1 -3.3l2 -4.5l3 -4.3l3 -3.6l2.5 -2.4l2.5 -1.6l3 -1.1l4 -.9l2 -.2l1.5 .1l1.5 .4l1 .4l1 .8l1.5 2.6l2.5 5.2l8 20.5l1 1.7l.5 .3l.5 0l.5 -.4l1 -1.5l1.5 -2.7l2 -4.8l1.5 -2.7l7 -9.2l1.5 -1.3l2.5 -1.4l1.5 -.6l2 -.3l1.5 .8l2 2.1l1.5 2l1.5 3.2l1 2.7l2 6.5l5 22.9l2 6.7l1 2.5l.5 .8l2.5 2.1l1 .3l1 0l2.5 -1.1l8 -4.8l1.5 -.6l1 -.2l1.5 .1l1.5 .5l2 1l1.5 1.1l2 2l1.5 1.9l3 5.8l2 5.5l6.4 19.6"/>
<path stroke="#F5C710" d="M312.8 320.4l3 -.6l3 -1l3 -1.5l2.5 -1.8l1.5 -1.7l2.5 -3.4l3.5 -5.9l3 -4.7l3.5 -4.9l3 -3.8l2.5 -2.7l4.5 -4.2l2 -1.2l2.5 -.8l1.5 0l2 .3l6 1.8l2 .9l2 1.3l2.5 1.9l7.5 6.4l4.5 2.4l2 1.8l2 2.7l1.5 2.8l1.7 3.9"/>
<path stroke="#DF536B" d="M413 341.1l9.5 -3.2l6.5 -1.9l5 -2.1l8.5 -3.3l1 -.6l1 -.2l3.5 -1.7l.5 .2l.5 -.5l3 -.9l3 -.4l1.5 -.8l.5 .3l1 -.5l.5 .1l.5 -.3l1 -.1l1.5 -.7l.5 .1l.5 -.5l1.5 0l.5 -.5l.5 .3l1 -.2l.5 .2l.5 -.1l.5 -.4l.5 .6l.5 -.2l.5 .4l1 0l1 .4l.5 -.1l.5 .5l.5 -.2l1 .8l.5 -.2l3.5 2.3l1 .4l.5 .8l.5 .3l.5 .9l.5 -.2l.5 .2l2.5 2l.5 .1l1.5 1.1l.5 0l.5 .7l.5 .1l.5 .8l.5 -.2l.5 .3l.5 0l.5 .6l.5 -.1l1 .8l.5 -.3l.5 0l.5 .6l1.5 .9l.5 -.2l1 .2l1 .9l.5 -.1l.5 .4l.5 -.2l.5 .2l.5 .6l.5 .2l1 -.3l.5 .5l.5 -.3l.5 .6l1 -.2l.5 .3l.5 .8l.5 -.4l.5 .1l.5 -.4l.5 .5l.5 -.5l1 .7l.5 .6l.5 -.7l.5 .5l1 -.5l1 1.4l.8 -.8"/>
<path stroke="#28E2E5" d="M98.4 336.3l4 -.4l2 -.4l2 -.9l5 -2.9l1.5 -.5l3 -.5l1 -.5l1 -1.1l2 -2.6l5.5 -9.6l2 -2l1.5 -.7l.5 0l1 .6l2.5 2.4l1.5 .9l6 2.3l6 3.4l4.5 1.9l1.5 .3l1.5 -.1l1.5 -1.1l.5 -1l1.5 -7.4l2 -8l1 -7.7l.5 -6.3l5 -85.2l3.5 -76.6l2.5 -35.1l1 -11l1.5 -10.4l1 -4.5l1 -3.3l2 -3.9l2 -3l2.5 -3.2l2 -1.7l2.5 -1.1l7.5 -2.5l1.5 -.2l1.5 .1l1 .4l1.5 .9l1 1.1l1.5 2.2l1 2l2 6l4.5 18.9l2 6.6l1.5 3.5l1 1.2l1 .7l.5 -.1l.5 -.5l1 -1.4l7 -21.2l2 -4.3l2 -3.3l1 -1.1l2 -1.3l1.5 -.7l1.5 -.2l1 .1l1.5 .8l1.5 1.2l1 1.2l1.5 2.7l1.5 3.9l1.5 6.4l4.5 27.8l5 34.9l2 10.6l1 4.2l.5 1.3l.5 .5l2 .1l2.5 -.8l1.5 -1l3.5 -3.5l1.5 -1.2l2 -1.4l1.5 -.4l1.5 .1l1 .5l2 1.6l2.5 2.5l1 1.7l1 2.5l3 9.8l4.5 20.6l3.9 14.9"/>
<path stroke="#CD0BBC" d="M312.8 304.3l4.5 -1.4l2 -.9l1.5 -1.2l2 -2.2l2 -3.1l4 -7.1l8 -16.3l6 -11.1l2 -2.9l2 -2.1l2 -1.6l2 -.9l3 -.8l2.5 0l5.5 1.1l2 .8l2 1.5l4.5 3.9l10.5 10.5l4 2.7l1.5 1.7l1.7 2.5"/>
<path stroke="#61D04F" d="M413 330.8l2.5 -1.6l6 -3.2l5 -2.9l3 -1.6l2 -.7l4 -2l2.5 -1.7l.5 -.1l1 -1l2 -1.1l.5 .1l1 -.6l.5 .1l.5 -.4l.5 .1l.5 -.4l1.5 -.1l.5 -.3l.5 0l.5 -.3l.5 .1l.5 -.3l2 -.6l1 -.7l.5 .2l.5 -.5l1 -.5l.5 0l1 -.5l.5 0l1.5 -.8l1 0l.5 -.4l1 0l.5 -.2l.5 .2l.5 -.5l1.5 -.2l.5 -.3l1 .1l.5 -.5l1 -.3l.5 .1l.5 -.4l1 .1l.5 -.3l.5 .3l2 -.1l.5 .5l1.5 .3l.5 .4l.5 0l1 .9l.5 -.1l2.5 1.6l.5 -.1l.5 .3l.5 .6l.5 0l.5 .5l1 -.3l1 .7l1.5 .1l.5 .9l.5 -.3l1.5 1.1l.5 -.6l1.5 1.7l1 .2l.5 .8l.5 .3l1 .2l.5 .7l.5 0l1 .8l1 .5l1 .7l.5 .1l.5 -.4l1.5 1.8l.5 -.1l1 1l.5 -.1l.5 .9l.5 0l2 2.1l1 .4l1 1.6l.5 .1l.5 -.2l.5 .3l.5 .6l.5 0l.5 .3l.5 1l1.5 .9l.5 -.8l.5 .9l.5 0l.3 .6"/>
<path stroke="#DF536B" d="M98.4 342.5l3 .2l2 -.3l7 -2.7l5 -1l2 -.7l1.5 -.8l1.5 -1.2l5.5 -5.2l2 -1.1l1 -.4l1.5 .3l2.5 1.2l2 .7l4.5 .8l6.5 2.2l8.5 2.1l1 -.1l.5 -.3l2 -2.3l.5 -1l1.5 -5.2l1 -5.2l1.5 -12l1 -10.8l2.5 -35.6l4 -73l1.5 -14.5l.5 -3.2l1 -4.3l1 -3.2l1.5 -3.2l1 -1.5l3.5 -4.1l2 -2l2 -1.4l5.5 -2.6l4.5 -2.6l1.5 -.6l1 -.2l1.5 .1l2.5 1l1.5 2l3 5.1l2 4.1l3.5 8.3l2.5 5.3l1 1.5l.5 .3l.5 -.2l1 -1.3l2 -4.3l2 -5.7l1.5 -3.5l3.5 -6.4l2.5 -3.9l2 -2.2l4.5 -2.9l2 -.8l1 .1l1 .5l1.5 1.4l1.5 2l1.5 3.2l1.5 4.3l2 7.6l4.5 21.8l2 7.6l1.5 4.3l2.5 3.5l1 1.1l1 .4l1.5 -.3l1.5 -.7l6.5 -5.3l1.5 -.8l1 -.3l1.5 0l2 .7l2.5 1.4l2 1.7l1.5 1.6l1.5 2.3l3 6.7l8.4 26.5"/>
<path stroke="#2297E6" d="M312.8 319.3l7 -1.8l2.5 -1.3l2 -1.5l1.5 -1.6l2.5 -3.4l3.5 -5.7l3 -4.4l5 -6.9l3 -3.8l3 -2.8l2.5 -2l2.5 -1.1l2.5 -.8l1.5 0l2 .2l5 1.6l3 1.4l3.5 2.3l3 2.3l5 4.7l1.5 1.1l3 1.3l2.5 2l2 2.5l2.7 5.4"/>
<path stroke="#F5C710" d="M413 339.9l4 -1.3l6.5 -2.6l7.5 -2.4l1 -.1l3 -1.2l1.5 -1l.5 .1l2.5 -1.4l.5 0l.5 -.6l1 -.2l4 -1.8l1.5 -.4l1 -.6l3.5 -1l1.5 -.8l1.5 -.1l.5 -.6l.5 .5l1 -.6l1 .1l.5 -.6l.5 .3l.5 -.1l1 -.4l1.5 -.2l.5 -.3l.5 .3l.5 -.6l1 0l1.5 -.5l.5 0l.5 .3l.5 -.4l1 -.1l1 .3l.5 -.1l1 .4l1 0l1 .7l1 -.2l.5 .7l.5 -.1l.5 .9l.5 0l3 2.1l.5 .1l.5 .8l.5 .1l1 .9l.5 0l.5 .3l.5 .6l.5 0l1.5 1.3l.5 .1l1 1l2 .9l.5 .1l1.5 1.5l.5 -.3l1.5 .8l.5 0l.5 -.3l.5 .6l2 .5l.5 .4l1 -.1l.5 .6l.5 .1l1 .6l.5 -.4l.5 .5l.5 -.1l.5 .6l1 -.4l.5 1.2l.5 -.5l1.5 1.1l1 -.1l.5 .8l.5 -.5l.5 -.1l.5 .5l.5 -.2l.5 .4l.5 -.2l.5 .4l.5 -.5l.5 .7l.5 .2l.8 -.1"/>
<path stroke="#F5C710" d="M98.4 342.1l6.5 -1.8l7 -1.2l2 -.6l2 -.9l2 -1.3l2 -1.6l6.5 -6.4l2 -1.4l1 -.4l1.5 .4l5 2.9l4.5 2.2l2.5 .6l5.5 .7l5.5 2l1.5 -.1l.5 -.5l2 -3.2l1.5 -4.6l1 -4.6l1 -7.6l1.5 -15.4l1.5 -19.4l1.5 -23.2l4 -73.7l1 -10.9l1.5 -11.4l1 -4.7l1.5 -5.2l1.5 -3.7l2 -3.3l2.5 -3.3l3 -3.2l6 -5.9l1.5 -1.2l2 -1.3l2.5 -1l2.5 -.2l2 .4l1.5 1.5l2 3.3l2 4.5l4.5 13.2l2.5 6.5l1 1.9l.5 .4l.5 0l1 -.9l2 -4l2.5 -6.9l2 -4.2l2.5 -4.6l3 -4.5l2 -2.2l2.5 -1.7l1.5 -.8l1 -.2l1 .2l1.5 1.1l2 2.7l1.5 2.5l1.5 3.4l1.5 4.5l1.5 6l4.5 23.7l2.5 11.5l1.5 5.4l2 4.2l1.5 2.2l.5 .4l.5 .1l2 -.5l4 -2l3 -1.2l3.5 -.9l2.5 .1l2 .5l1.5 .8l1.5 1.2l1.5 1.8l1 1.6l3.5 7.8l8.4 26.3"/>
<path stroke="#CD0BBC" d="M312.8 317.1l3 -1l4 -1.7l2.5 -1.5l2 -1.8l4 -5.4l5.5 -8.9l9.5 -13.7l3 -3.4l2 -1.8l1.5 -.9l2.5 -.8l1.5 -.1l2 .2l6 1.2l2 .8l2.5 1.6l4.5 3.5l6 5.7l4 3l2 1.9l2.5 3l2.7 4.9"/>
<path stroke="#DF536B" d="M413 339.7l6 -1.7l7.5 -3l4.5 -1.4l3 -1.1l5.5 -2.8l.5 -.5l1 -.5l.5 .1l2.5 -1.1l1 -.3l1 0l.5 -.4l1 -.1l1 -.5l2 -.5l.5 -.4l1 -.2l.5 -.3l1 0l.5 -.6l2.5 -.4l.5 -.4l2 -.2l.5 -.4l.5 .2l1 -.2l.5 -.3l1 -.2l1 -.5l1 .2l1.5 -.4l.5 .2l.5 -.4l2.5 .4l1 -.1l1.5 1l.5 -.4l.5 .5l.5 -.2l1 1l1 .4l1 1.3l1 .3l.5 .6l.5 .1l2.5 1.9l.5 -.2l.5 .3l.5 .7l.5 0l2 .9l.5 .5l1 .4l1 1l.5 -.4l.5 1l.5 -.1l1.5 1.1l1 .4l.5 -.3l1.5 .8l1 0l.5 .6l1 -.2l.5 .8l1 .3l.5 -.8l2 1.5l.5 .2l.5 -.1l1 1.2l.5 -.3l.5 .4l.5 0l.5 -.5l.5 .7l1.5 .9l.5 -.2l.5 0l2.5 1.1l.5 -.6l.5 1l.5 -.6l.5 .5l.3 -.3"/>
<path stroke="#CD0BBC" d="M98.4 338.7l4 -1.4l6.5 -1.5l8 -3.8l2.5 -2.1l1.5 -1.5l5 -6.3l2 -1.9l1.5 -.9l.5 0l1 .4l4 2.9l2.5 1.4l2.5 1l4.5 .9l1.5 .5l2 1l4.5 2.9l1 .2l1 -.4l1 -.9l.5 -1.1l3.5 -12.8l1 -6.6l.5 -5.2l1.5 -20.7l3.5 -54.5l3.5 -69.4l1.5 -19.5l1 -10.9l1 -8.4l1.5 -7.9l1 -3.5l1 -2.4l2 -2.5l6.5 -6.5l2.5 -2.4l2 -1.6l1.5 -.8l1.5 -.4l3 -.4l2 -.1l1.5 .1l1.5 .5l1.5 1.5l2 3.4l2 5.3l4.5 16.2l2 5.8l1.5 3l1 .5l.5 -.1l1 -.9l1.5 -2.4l2.5 -6.9l3.5 -8.3l3 -5.5l2.5 -3.7l3 -2.5l1 -.5l1 -.2l1 .2l1 .5l2.5 2.5l1.5 2l1.5 2.9l1 2.4l1 3.5l2 9.7l7.5 42.3l1 4.2l2.5 8.3l.5 .9l.5 .4l1 -.4l4 -2.9l7.5 -5.9l2.5 -1.4l1 -.2l1.5 .3l1 .5l1.5 1.3l1.5 1.7l1.5 2.8l3.5 9.7l4.5 17.8l3.9 13.9"/>
<path stroke="#F5C710" d="M312.8 311.1l4.5 -1.4l2 -.9l1.5 -1l2 -2l1.5 -2l2 -3.2l9 -15.6l8 -12.5l2.5 -3l2.5 -2.5l2 -1.2l3 -1.2l2 -.3l1.5 .1l2 .4l3 1.1l2.5 1.5l6 4.4l3 2.5l11 10.2l1.5 2l2.2 4"/>
<path stroke="#61D04F" d="M413 337l13 -6.1l2.5 -1.5l5 -2.6l1.5 -.6l1 -.1l1.5 -.7l3 -.8l1 -.5l.5 0l2 -1l.5 .1l1 -.6l1.5 -.4l1.5 -.8l1.5 -.5l.5 -.4l.5 .1l.5 -.3l.5 .1l.5 -.5l2.5 -.6l1.5 -.7l.5 0l.5 -.3l1 .1l.5 -.7l.5 .1l1 -.4l2 -.2l1 -.3l.5 .3l1 -.3l1 .2l.5 -.1l.5 .2l.5 -.3l1 .4l.5 -.2l.5 .6l.5 -.2l.5 .2l1 -.1l1 .4l1 -.4l.5 .8l.5 -.2l1 .3l1 0l.5 .6l1 .7l1.5 .7l.5 .7l1.5 .2l1 .9l.5 0l1 .6l3 2.1l.5 -.5l1.5 1.7l.5 -.3l1 1.5l.5 .1l1 .9l.5 .3l.5 0l.5 .5l.5 .2l.5 .6l1 .8l.5 .1l.5 -.4l.5 .9l.5 .1l1 1l1 0l1.5 1l.5 .2l.5 -.2l1 .4l.5 .5l.5 -.6l.5 .1l.5 .9l1.5 .2l.5 .4l1 -.1l.5 .6l.5 -.3l.5 .6l.5 0l.5 .3l.5 .7l.5 -.8l.3 .6"/>
<path stroke="#28E2E5" d="M98.4 342.7l6 -2.1l2 -.3l4.5 -.2l3 -1l4.5 -2.6l3 -2.3l5 -4.3l2 -1.5l1 -.5l1 0l2.5 1l5.5 3.3l2 1l2 .4l4 .1l1.5 .2l1.5 .5l4.5 2.2l1 0l.5 -.2l2.5 -3.2l1 -2.6l1.5 -6.1l1.5 -11l1 -10l1.5 -18.7l1.5 -23.2l4 -73.4l1 -10.7l1 -7.6l1 -4.9l1 -3.6l1.5 -4.2l1.5 -3l1.5 -2.1l2 -2.2l5 -4.4l4 -4l2.5 -1.8l2.5 -1.1l3 -.2l3 .3l1.5 1.3l2 3.1l1.5 3.1l7 18.6l1 2.2l.5 .8l.5 .3l.5 -.1l.5 -.4l1 -1.8l1.5 -3.4l2.5 -6.8l1.5 -3l2.5 -4.2l3.5 -5l2 -2.2l3.5 -2.8l1 -.5l1 -.1l1 .3l.5 .4l1.5 1.7l2.5 3.8l1.5 3.3l1.5 4.1l1.5 5.5l5.5 27.1l2.5 9.5l1.5 3l2 3.1l1 .9l.5 0l1.5 -.6l4.5 -3l3 -1.1l3 -.7l2.5 -.2l2.5 .3l1.5 .6l1.5 1.2l1 1.2l1.5 2.4l3.5 7.8l8.4 25.8"/>
<path stroke="#61D04F" d="M312.8 321.6l3 -.9l5 -2l2.5 -1.3l1.5 -1.1l3.5 -4.5l4.5 -7.1l10.5 -14.3l2.5 -2.8l2 -1.9l1.5 -1l2 -.5l1.5 -.1l2 .3l7.5 2.6l3 1.5l6 3.6l5.5 4.4l4 2.4l1.5 1.4l2 2.5l1 1.6l2.7 5.6"/>
<path stroke="#CD0BBC" d="M413 340.3l11 -3.5l7.5 -3.5l2.5 -.9l2 -.6l.5 0l.5 -.4l2.5 -.6l3 -1.5l1 -.1l.5 -.5l1 -.2l.5 -.4l2 -.6l.5 -.4l.5 .1l.5 -.3l.5 0l1 -.5l.5 .1l2 -1l1 -.3l.5 .1l.5 -.5l.5 .1l.5 -.2l.5 -.5l.5 0l1.5 -.6l.5 .2l1 -.8l1 -.2l.5 .3l.5 -.5l.5 .2l.5 -.5l2.5 .3l1 -.2l.5 .3l1 .3l.5 -.2l.5 .4l1 -.2l.5 .4l.5 -.2l1 .2l.5 .2l.5 .5l.5 -.3l1 .6l1 .2l.5 .6l.5 -.1l.5 .8l.5 0l1 1.3l.5 0l1 1.1l1 0l1 1.1l.5 .1l2 1.6l1 .1l.5 .4l.5 0l1 1.3l.5 -.4l.5 .7l.5 .3l.5 .8l.5 .1l.5 -.2l.5 .6l.5 .2l.5 -.3l.5 .8l.5 .2l.5 .7l.5 -.2l1 .9l.5 .1l.5 -.3l1 .8l.5 .2l.5 0l.5 .5l.5 -.3l.5 .2l.5 .6l1 -.6l.5 .9l.5 -.7l1.5 .9l1 .2l2.5 .1l.5 .9l1 -.3l.5 .4l.5 -.1l1.5 .3l.5 0l.3 -.4"/>
<path stroke="#000000" d="M98.4 341.9l6.5 -1.1l2 -.7l5 -2.2l1.5 -.3l3 -.2l2 -.7l1.5 -1l1.5 -1.6l5 -6.7l2 -1.9l1 -.4l1 .4l3 2.1l2 1.1l5.5 1.6l6.5 3.3l3.5 .9l2 0l3 -.8l.5 -.5l2 -4.1l1 -3l1 -4.6l1 -7.6l1.5 -15.4l1.5 -19.1l1.5 -22.9l4 -72.7l1 -10.6l1 -7.9l1 -5.2l1 -3.7l1 -2.7l1 -1.9l7.5 -10.6l2 -2l2 -1.3l5 -2.2l5 -2.7l2 -.3l1 .2l.5 .4l1.5 2l2.5 4.4l2 4.6l3.5 9.3l2.5 5.4l1 1.4l.5 .3l.5 -.1l.5 -.3l1 -1.2l1.5 -2.8l2.5 -6.8l2.5 -5.6l4 -8.1l2.5 -4.1l3 -2.7l2.5 -1.3l1 -.2l1 .2l2 1.3l1.5 1.6l1 1.6l1.5 3.6l1 3.2l1.5 5.9l5 25.7l2.5 11.3l1 3.5l2 4.7l1 1.6l.5 .4l2 0l3.5 -.8l6.5 -2.8l2 -.2l1.5 .6l1.5 1l2.5 2.3l2.5 2.8l1 1.3l1 1.7l3 7l8.4 27.9"/>
<path stroke="#000000" d="M312.8 318.2l7 -1.4l2.5 -1.1l2 -1.4l1.5 -1.7l2.5 -3.4l7.5 -12.6l4 -6l2.5 -3.2l3 -3.1l3 -2.5l1.5 -.8l3 -1.1l2.5 0l3 .6l4 1.3l2.5 1.5l3.5 2.8l7.5 6.9l2 1.2l3 1.1l2.5 1.8l1.5 1.7l1 1.6l2.2 4.5"/>
<path stroke="#000000" d="M413 334.4l3.5 -1.8l6 -3.6l3 -1.5l7.5 -3.1l2 -1.2l1 -.3l.5 -.5l2 -.8l1.5 -.9l5 -1.8l.5 -.5l.5 .2l1 -.7l.5 0l1 -.5l1.5 -.3l.5 -.4l1.5 -.6l1 0l.5 -.4l.5 -.2l3 -.6l1 .1l.5 -.5l.5 .4l.5 -.3l.5 0l2 -.8l1.5 0l.5 -1l.5 .3l.5 -.4l.5 .6l.5 -.5l.5 -.2l.5 .2l.5 0l.5 -.3l1 .3l.5 .3l.5 -.3l1 .5l1 0l1 .5l.5 0l.5 .3l.5 -.1l1 .5l.5 .5l.5 -.1l.5 .1l1.5 1.6l.5 -.5l.5 .3l.5 .8l1 .2l1 .9l.5 .2l.5 -.2l.5 .7l1.5 1.2l2 .8l.5 .6l1 .1l1 1.2l1 .4l.5 .7l1 0l.5 .6l1 -.2l2.5 1.6l1 .3l1.5 .7l.5 0l1 1.1l.5 -.1l.5 .9l1.5 .1l.5 .7l.5 .3l1 .9l1 .4l1 .8l.5 0l.5 .2l.5 -.1l1 .8l.5 -.4l.5 1.3l.5 -.4l.5 .5l.5 -.6l.3 .8"/>
<path stroke="#61D04F" d="M98.4 336.5l2.5 -.7l5 -2.1l6.5 -1.4l1.5 -.6l1.5 -.9l1 -.9l1 -1.2l5 -7.8l3 -4.2l2 -1.6l1.5 -.8l1 -.1l1 .4l2 1.4l3 1.7l5.5 3.4l2 .6l4 .4l1.5 .5l4.5 3.1l.5 .1l1 -.4l.5 -.6l.5 -1.4l1 -5.7l2.5 -10.6l1 -7.9l.5 -6.5l5 -86.1l3 -67.7l1 -16.4l2.5 -32.9l1.5 -11.7l1.5 -7.1l1 -3.3l.5 -1l1 -1.5l1.5 -1.4l2 -.9l4.5 -1.2l5 -2.5l2.5 -.7l1.5 .1l2 .7l3 1.7l1.5 1.3l1.5 1.8l1 1.9l2 5.8l4.5 18.8l2 6.8l1.5 3.7l.5 .6l1 .7l.5 -.1l.5 -.6l1.5 -2.9l6.5 -21.1l2 -4.6l2.5 -4.6l1 -1.5l3 -3.5l1 -.9l1 -.6l1 0l1 .4l2.5 2l1.5 2.2l2 4.1l1.5 5.5l4.5 26.6l5 34.7l2.5 13.3l1 3.8l.5 .8l.5 .1l1.5 -.7l2.5 -1.9l3.5 -3.6l1.5 -1.3l5.5 -2.9l1.5 -.4l1.5 .3l1.5 .9l1.5 1.5l1 1.7l1 2.7l3.5 12.6l4.5 21.5l3.9 14.9"/>
<path stroke="#F5C710" d="M312.8 301.6l2.5 -1.2l3.5 -2.2l1.5 -1.4l2 -2.3l1.5 -2.4l5 -9.2l8 -16.6l6.5 -12.3l2 -2.9l2.5 -2.9l1.5 -1.2l2.5 -1.3l2.5 -.7l2.5 -.1l5 .8l2 .9l2 1.7l9.5 9.1l5.5 7.4l1.5 1.5l3 2.3l2.7 3.2"/>
<path stroke="#F5C710" d="M413 332.3l9 -5.7l8 -4l7.5 -4.4l.5 0l1 -.7l1.5 -.5l2 -1.2l.5 0l1 -.8l.5 0l1 -.6l2 -.8l1 0l1 -.7l1.5 -.5l1 0l.5 -.3l.5 .1l1 -.5l1 0l2 -.6l2 -.1l1 -.9l.5 .3l.5 -.4l1.5 -.1l1.5 -.4l.5 -.4l1.5 .4l.5 -.4l.5 .3l.5 -.2l.5 .2l.5 -.3l1 .6l.5 -.3l.5 .3l.5 -.1l1 .4l1 0l.5 .3l.5 -.1l1 .3l.5 .4l.5 -.1l1.5 .5l1 .8l1.5 .2l2.5 1.6l.5 -.1l.5 .8l.5 -.3l1 .6l1 .1l1 1.7l1 -.6l.5 .6l.5 .2l.5 .6l1.5 .3l.5 .6l.5 .1l3 1.9l1 .1l1 1.4l1 .4l.5 .5l.5 .1l.5 .4l1.5 1.3l.5 .7l1 -.1l1.5 1.3l.5 .1l.5 .7l.5 .3l.5 0l.5 .8l1 .1l1 .7l.5 .8l.5 -.2l.5 .9l1 .2l.5 .5l.3 0"/>
<path stroke="#28E2E5" d="M98.4 337.5l5.5 -2.2l7 -1.9l5.5 -2.5l1 -.8l2.5 -3l5.5 -8l2.5 -2.5l1.5 -.9l.5 -.1l1 .4l5 3.4l4 2.3l2 .7l5.5 1.4l1.5 .7l3 2l1 .4l1 0l1 -.7l.5 -.6l.5 -1.3l1.5 -7.4l2 -7.9l1 -7.6l.5 -6.1l5 -83.1l3.5 -73.9l2.5 -33l1 -9.9l1.5 -9l1 -3.9l1 -2.8l1.5 -2.1l1.5 -1.4l8.5 -5.8l2 -1.2l1.5 -.6l2.5 -.6l2.5 -.1l4 .4l1 .6l1.5 1.5l1.5 2.8l1.5 4.2l4.5 17.3l1.5 4.8l1 2.6l1 1.9l.5 .5l1 .4l.5 -.1l.5 -.5l1.5 -2.5l6.5 -19.4l2.5 -5.3l2.5 -4.2l3 -3l1 -.6l1 -.4l1 .2l1 .6l2.5 2.5l2 3.2l1.5 3.4l1 2.8l1 4.4l4 23.6l5.5 36.3l2.5 12l1 3.2l.5 .5l1.5 -.6l3.5 -2.4l4.5 -3.7l3.5 -2.1l2 -.9l1.5 -.2l1.5 .5l1.5 1.1l1.5 1.6l1 1.6l1 2.4l3.5 11.7l4.5 20.4l3.9 14.9"/>
<path stroke="#61D04F" d="M312.8 305.8l4.5 -1.5l2 -.8l2 -1.6l2 -2.1l3 -4.5l2.5 -4.2l8.5 -16.8l6 -10.8l2 -2.8l3 -3.2l1.5 -1.1l3 -1.4l2 -.5l2.5 0l4.5 1l2 .9l4.5 4l6 6.1l5 4.7l2 1.7l3.5 2.3l1.5 1.7l1.7 2.5"/>
<path stroke="#28E2E5" d="M413 331.5l6 -3.9l4 -2.2l5.5 -2.6l10 -6l1 -.2l1 -.6l1.5 -.5l1 -.6l2.5 -.8l1 -.6l.5 .3l1 -.7l.5 -.1l.5 -.3l.5 .1l2 -.6l1 0l.5 -.8l.5 .2l.5 -.2l.5 .1l1.5 -.7l.5 0l1 -.4l1 -.1l1.5 -.9l.5 .2l.5 -.6l.5 0l1.5 -.8l.5 .2l1 -.8l1 -.1l1 0l.5 .3l.5 -.3l.5 0l1 .7l.5 -.3l.5 0l.5 .5l.5 -.4l.5 .4l.5 .1l.5 .3l3 .8l1 .5l.5 .5l1 0l.5 .4l.5 .1l.5 .7l1 0l.5 .2l.5 .6l.5 -.1l.5 .2l.5 .4l.5 .1l1 .8l.5 .5l1 .4l.5 -.2l.5 .5l.5 0l1 .5l1 .2l.5 .9l1 .1l.5 .6l.5 .1l.5 .6l.5 0l.5 .5l.5 -.4l.5 1.4l1 0l1 .3l.5 .8l2 1.7l.5 -.1l.5 .3l.5 1.1l.5 .2l.5 .7l.5 -.3l.5 .6l.5 .1l.5 1.4l.5 -.9l1.5 1.7l.5 -.5l.5 .6l.5 -.1l.5 1.2l1.5 .4l.5 .6l1 .7l.5 -.1l.5 1l.3 -.5"/>
<path stroke="#2297E6" d="M98.4 336.8l2 -.2l1.5 -.3l6.5 -3.2l6 -1.6l2 -1.1l1.5 -1.7l7 -10.3l1 -1l2.5 -1.3l1 -.1l1 .1l2.5 1.5l4.5 1.6l5.5 2.9l2 .6l4 .8l4.5 2.4l.5 .1l1 -.5l.5 -.5l.5 -1.4l1 -5.7l2.5 -10.7l1 -8l.5 -6.5l5 -86.7l3 -68.1l1 -16.5l2.5 -33l1.5 -11.7l1.5 -6.8l1 -2.9l.5 -.9l1 -1.4l1.5 -1.5l2.5 -1.1l4 -.8l1.5 -.4l5 -2.6l2 -.6l1.5 .1l1.5 .5l2.5 1.4l1.5 1.2l2 2.3l1.5 3.3l1.5 4.3l5 19.1l2 5.2l1 1.4l1 .6l.5 0l.5 -.6l1.5 -2.9l6.5 -22l1.5 -3.6l2 -3.6l2 -2.6l3 -2.5l1.5 -.8l1 -.2l1 .3l1 .7l1.5 1.5l1.5 2.4l2 4.8l1 3.1l1 4.7l4.5 28.1l5 35.4l2.5 13.3l1 3.8l.5 .9l.5 .2l1 -.3l1 -.5l2.5 -2.2l4.5 -5.5l2.5 -1.8l2 -1l2 -.5l1.5 .2l2 1l2 1.8l1 2l1 2.7l3 10.8l4.5 21.5l3.9 15"/>
<path stroke="#DF536B" d="M312.8 300.5l6.5 -2.3l1.5 -1.2l1.5 -1.6l1.5 -2.4l3.5 -6.8l10 -20.3l4.5 -8.5l2 -3.4l2 -2.5l2.5 -2.2l1.5 -.9l5 -2.4l2 -.5l2 0l2.5 .7l2 1.1l11 10.5l6 6.8l1.5 1.1l2.5 1.1l1 .6l1.5 1.5l1.2 1.6"/>
<path stroke="#61D04F" d="M413 330l6 -3.7l8 -5.7l2 -1l3.5 -1.3l.5 -.4l1 -.4l3 -1.7l1.5 -1l.5 -.1l3 -1.6l1.5 -.7l2 -.4l2.5 -.9l.5 .1l1.5 -.9l1 -.3l2.5 -1.4l2 -.9l1 -.1l.5 .2l.5 -.4l.5 .1l1.5 -.4l.5 .2l.5 -.1l.5 .2l1 -.5l.5 .2l1 -.6l.5 .5l1.5 -.8l2.5 -.7l.5 .4l.5 -.4l.5 .4l.5 -.4l.5 .3l.5 -.1l3 .8l1.5 .9l1 .1l2.5 1.5l.5 -.1l1 .4l.5 0l1.5 .7l.5 -.3l2 1.8l.5 .2l.5 -.1l.5 .8l.5 0l.5 .7l1.5 .7l.5 .8l.5 .3l.5 -.1l.5 1l.5 0l.5 .5l.5 0l1 .7l.5 -.4l.5 1.3l1 .1l.5 .8l1 .3l.5 -.3l.5 1.1l.5 -.1l.5 .6l.5 -.3l.5 .6l.5 .2l1.5 1.1l.5 .9l1 .6l.5 -.1l.5 1l.5 0l.5 1l.5 0l.5 .6l1.5 .5l.5 .9l1 0l1 1.2l.5 .1l.5 .5l.3 -.2"/>
<path stroke="#DF536B" d="M98.4 340.9l4.5 -2.1l2 -.7l2 -.3l5.5 -.3l2 -.5l2 -.9l3.5 -2.9l6 -6.6l2.5 -2.3l1 -.5l1 0l1 .5l2 1.1l6 3.9l2.5 1l1.5 .3l5 .3l5 1.7l1.5 -.2l.5 -.3l.5 -.6l2.5 -6.6l1 -3.5l1 -5.5l1 -9.3l1.5 -18.5l2.5 -35.9l4.5 -81.9l1 -11l1.5 -12.9l1 -5.3l1 -3.8l1.5 -4.2l1 -1.9l2 -2.6l2.5 -2.6l7.5 -6.4l2 -1.5l2 -1l2 -.7l4 -.8l1.5 -.1l.5 .2l1.5 1.3l1.5 2.1l2 4.3l4.5 13.5l2.5 6.5l1 1.7l.5 .5l.5 0l1 -.7l2 -3.8l2.5 -7.3l3.5 -7.8l2 -3.5l2.5 -3.8l2 -2.2l3 -2.2l1.5 -.3l1 .4l1 .9l2 2.8l2 3.6l1.5 3.6l1.5 4.6l1.5 6.3l5 27.2l2.5 12.2l1 3.9l2.5 6.5l1 1.5l.5 .3l.5 -.1l1.5 -.8l4.5 -3.2l2.5 -1.4l3.5 -1.4l2.5 -.6l2 -.1l1.5 .3l1 .5l1.5 1.2l1 1.3l1.5 2.9l3 8l4.5 16.4l3.9 13.4"/>
<path stroke="#28E2E5" d="M312.8 314.3l4 -1l2 -.7l1.5 -.9l2 -1.7l1.5 -1.7l1.5 -2.1l10.5 -17.3l4 -6.1l2.5 -3.4l2.5 -2.6l3 -2.4l2 -1.1l3.5 -1.3l2 -.2l1.5 .1l5.5 1.4l3 1.3l4 2.5l2.5 2l5.5 5.6l4.5 3.5l2 1.8l2 2.8l2.2 4.5"/>
<path stroke="#CD0BBC" d="M413 336.9l5.5 -2.4l6 -3.1l3 -1.1l4.5 -1l.5 -.4l1 -.2l1.5 -.8l.5 0l3 -1.8l5 -2.5l4.5 -1.5l1 -.7l.5 0l2.5 -1.3l1 -.1l.5 -.5l.5 0l1 -.4l.5 .2l.5 -.3l.5 .2l.5 -.5l2 .3l.5 -.3l3.5 -.5l1 -.5l.5 .2l.5 -.3l2 -.5l1 .3l.5 -.4l1.5 .5l1.5 .1l1 .6l.5 -.2l.5 .6l1 .2l.5 .5l3.5 1.9l.5 .8l.5 -.2l.5 .3l.5 .4l.5 .9l.5 -.4l1 .6l.5 .6l.5 0l.5 .7l.5 .1l.5 .6l1.5 .5l3 2.5l1 .3l.5 .6l1 .4l1 .1l.5 .3l1 .3l.5 .5l.5 -.7l.5 .7l1 .5l.5 -.2l.5 .4l1 -.1l.5 .4l.5 .8l.5 -.5l.5 .7l.5 -.2l.5 .8l1.5 .4l1 .8l.5 0l.5 -.3l.5 1l1.5 .2l.5 -.7l.5 1.1l.5 .1l.5 .3l1 -.1l.5 .5l.5 -.1l.3 .2"/>
<path stroke="#61D04F" d="M98.4 341.7l3.5 .3l2 -.3l6.5 -2.4l5.5 -.9l1.5 -.5l1.5 -.9l1.5 -1.3l5.5 -5.7l2 -1.2l1 -.3l1 .1l3 1.6l2 .8l5 .8l7 2.4l7 1.2l1.5 0l.5 -.4l2 -2.8l1 -2.6l1.5 -6.5l1.5 -11.6l1 -10.5l1.5 -19l1.5 -23.1l4 -73.2l1 -10.7l1.5 -10.7l1.5 -6l1.5 -3.9l1 -1.8l4.5 -6.5l3 -3.3l5.5 -4.1l6 -4.8l2 -.7l2 .3l1 .5l1.5 2l2.5 4.6l2 4.5l4 11.2l2.5 6.3l1 1.9l.5 .5l.5 .1l1 -.7l2 -3.4l2.5 -6.3l2 -3.6l3 -4.6l2.5 -3l1 -.8l1 -.4l3.5 -1l2 -.3l1.5 .3l1.5 1.1l2 2.4l1 1.8l1.5 3.7l1 3l1.5 5.5l5 23.7l2 7.6l1.5 4.3l2.5 3.6l1 .8l1 .3l1.5 -.4l1.5 -.8l1.5 -1.3l5 -4.9l1.5 -1.1l1.5 -.6l1.5 0l2 .6l2.5 1.5l2 1.7l1.5 1.7l1 1.8l3 7.1l8.4 28.1"/>
<path stroke="#DF536B" d="M312.8 319l4 -.7l2.5 -.7l2.5 -1.2l2 -1.5l1.5 -1.7l1.5 -2.2l5 -8.3l3 -4.6l7.5 -10.1l3 -3.2l3 -2.6l1.5 -.8l3 -1.1l2 -.1l2 .3l2.5 .9l3.5 1.6l8 5l6 4.5l4 2.3l2 1.7l2 2.5l1.5 2.8l1.7 3.9"/>
<path stroke="#F5C710" d="M413 338.2l6.5 -2.4l7 -3.2l8.5 -2.5l4 -2.3l4 -1.6l2 -.3l1.5 -.8l.5 .2l1 -.2l1.5 -.8l.5 .1l2 -.7l.5 -.4l.5 .1l2.5 -1.2l.5 .1l.5 -.2l.5 .1l1 -.5l1.5 -.3l.5 .1l1 -.7l.5 .2l.5 -.5l.5 .2l.5 0l1 -.7l1 .1l1 -.6l2 0l1 -.6l1 .9l.5 0l.5 -.3l1 .4l.5 .6l1 -.1l1 1.2l1.5 .5l.5 .3l.5 1.2l.5 -.2l.5 .2l1 1.4l1.5 .3l1 1l1 .1l1 .7l1 0l.5 1.2l1 .1l1.5 1.4l.5 0l1.5 1.2l.5 -.3l.5 1.2l.5 -.2l1.5 .6l.5 .5l1.5 .3l.5 .6l.5 -.3l.5 .4l.5 -.2l.5 .6l1 .4l.5 -.2l1.5 1.2l.5 -.1l.5 .3l1.5 .3l.5 .2l.5 .9l.5 -.6l.5 .7l.5 -.1l.5 .5l.5 .1l.5 .6l1 -.4l.5 .6l.5 -.2l.5 .4l1 -.7l.5 .8l.5 -.2l.5 .8l.3 -.6"/>
<path stroke="#CD0BBC" d="M98.4 336.2l6 -1.4l5.5 -2.9l1.5 -.6l1.5 -.3l3 -.1l1 -.4l1.5 -1.7l1.5 -2l5.5 -9.8l2 -2.2l1.5 -.8l.5 0l1 .5l2.5 2.5l1.5 1.1l5.5 2.5l5.5 3.2l2 .9l3.5 1l2 .1l1.5 -.6l1 -.8l.5 -.8l1.5 -7.4l2 -7.9l1 -7.7l.5 -6.3l5 -84.9l3.5 -75.6l3 -39.9l1.5 -11.5l1 -4.7l1 -3.4l1 -2l2 -2.9l2 -2.3l2 -1.8l1 -.6l1.5 -.5l6.5 -.6l5 -1.4l1.5 0l1 .2l1 .4l1 .9l1.5 1.7l1 1.8l2 5.2l4.5 16.8l2 5.7l1.5 3l1 .9l1 .4l.5 -.3l.5 -.6l1 -1.8l7 -23.1l2 -4.9l2 -3.9l1 -1.3l1.5 -1.3l1.5 -1l1.5 -.5l1 .1l1 .5l2.5 2.1l1.5 2.3l1.5 3.5l1.5 4.7l1 4.9l4.5 28.3l5 35.3l2 10.6l1 4l.5 1.1l.5 .5l2 -.1l2.5 -.7l1.5 -.9l3.5 -3.4l2 -1.7l2 -1.2l1.5 -.3l1.5 .1l1.5 .7l3 2.1l1 1.1l1 1.9l1 2.7l2.5 8.2l4.5 20.7l3.9 15.1"/>
<path stroke="#28E2E5" d="M312.8 301.9l6 -1.8l1.5 -1.1l2 -2.2l2 -3.2l6.5 -11.9l9.5 -20.2l3 -5.7l2 -2.8l2.5 -2.6l2 -1.5l2.5 -1.2l2.5 -.6l2 .1l5.5 1.9l1.5 .9l6.5 5.5l10 10.5l1.5 1.1l2.5 1.3l1 .8l1 1.1l1.7 2.4"/>
<path stroke="#61D04F" d="M413 330.4l4 -2.2l7 -4.6l6.5 -3.4l5 -3.4l4 -2.3l.5 0l2.5 -1.1l.5 .1l1 -.5l1 0l2 -1.1l1 -.3l1.5 -1.1l.5 .1l3.5 -1.7l1 -.1l1 -.4l1 -.1l.5 -.3l1 0l.5 -.2l.5 0l2.5 -.8l.5 .1l1 -.5l.5 .2l.5 -.3l1 -.2l.5 -.3l1 -.1l1 .3l1 -.1l1 .9l.5 -.4l.5 .5l.5 -.2l1 .6l.5 -.3l.5 .6l1 .6l1 .2l.5 -.3l.5 .6l.5 .1l.5 .7l1 -.3l.5 .5l.5 -.3l.5 .5l.5 -.2l.5 .7l.5 0l.5 .3l1.5 .2l3 2l.5 -.1l.5 .5l.5 0l.5 .6l.5 .2l.5 .7l.5 -.2l1 .3l.5 .8l.5 -.2l.5 .9l.5 -.4l.5 .4l.5 -.1l.5 .8l1 1l1.5 .3l.5 .5l.5 .9l1 .5l.5 -.2l1 1.4l.5 -.1l.5 .8l.5 .5l1 .4l.5 .9l.5 -.1l1 1l.5 -.1l1 1.2l1 .1l.5 .4l1 .3l.5 .5l2 .8l.5 .9l.3 -.1"/>
<path stroke="#28E2E5" d="M98.4 336.5l4.5 -2.8l1.5 -.7l2 -.5l4 -.2l1.5 -.2l2 -.7l2 -1.3l1 -1l2.5 -3.7l6 -9.7l2.5 -2.7l1.5 -1l.5 -.1l1 .4l4 2.9l4.5 3.9l2.5 1.5l1.5 .3l3.5 .1l1.5 .4l1 .5l2.5 1.8l1.5 .7l.5 0l1 -.6l.5 -.6l.5 -1.3l1.5 -8.5l1.5 -6l1 -5.5l1 -11.6l5 -87.3l3 -68.1l1 -16.1l2.5 -32.8l1.5 -11.6l1.5 -6.9l1 -3.2l.5 -1l1 -1.5l1.5 -1.4l6 -2.9l5 -3.2l2 -.7l2 -.2l6 .2l1 .2l1.5 1l.5 .6l1 2l1.5 4.4l5 20.9l1.5 4.8l1.5 3.6l1 1.2l.5 .3l.5 .1l.5 -.4l1 -1.6l1 -2.3l4.5 -14.6l2 -5.6l4 -7.7l1.5 -2.1l2 -2.2l1 -.9l1 -.5l.5 0l1 .5l2 2l2 2.8l2 4l1.5 3.8l1 4.2l4.5 27.3l5 35.4l2.5 13.7l1 3.5l.5 .6l1 -.4l7.5 -5.7l7.5 -3.3l1 -.1l1.5 .4l1 .7l1.5 1.6l1 1.7l1 2.8l3.5 13l4.5 21.9l3.9 15.3"/>
<path stroke="#DF536B" d="M312.8 303.5l4.5 -1.2l1.5 -.6l1.5 -1.1l2 -2.2l2 -3.2l4.5 -8.2l8.5 -17.5l5.5 -10l2 -2.8l3 -2.8l2 -1.3l3 -1.3l2.5 -.6l2 .1l4.5 1.4l2 1l6.5 5.5l10 9.9l4.5 3l1.5 1.7l1.7 2.6"/>
<path stroke="#DF536B" d="M413 331.9l5.5 -3.9l7 -3.6l4.5 -2.8l2.5 -1.4l1.5 -.5l1 -.6l1 -.2l1 -.4l.5 -.5l.5 -.1l2 -.8l2.5 -1.6l1 -.3l.5 -.5l.5 -.1l2 -1.1l2.5 -.8l1 -.1l1 -.5l2 -.3l1 -.4l.5 -.4l2 -.5l1 -.6l1 -.1l2 -.8l1.5 -.2l.5 -.3l1 .3l2 -.7l1 .4l1 -.5l.5 .1l.5 .3l.5 -.2l.5 0l.5 .4l.5 -.4l1.5 .6l.5 -.3l1 .6l.5 -.4l2 1l.5 .5l1.5 .4l1 1l.5 0l.5 .8l.5 -.1l2 1.1l.5 .8l.5 -.3l1.5 1.2l.5 -.5l.5 .6l.5 0l2.5 1.2l1 1l.5 -.2l.5 .2l.5 .5l.5 1l1 -.7l.5 .8l.5 .2l.5 .6l2 1l.5 1l.5 -.2l1 .7l.5 .1l.5 .7l.5 -.1l.5 .1l.5 .8l1.5 .5l2 1.9l1 0l.5 .9l1 .9l.5 .3l.5 -.2l.5 1l.5 -.5l.5 1.4l.5 .1l.5 .6l.5 -.4l.5 .8l.3 -.4"/>
<path stroke="#000000" d="M98.4 335.8l2 -1l2 -.7l5.5 -.4l2 -.6l6.5 -3.5l1.5 -1.6l2.5 -3.3l5.5 -9.2l2 -2.3l1.5 -1l1 .3l5 4.5l3 2l2.5 .9l4 .5l2 .6l1.5 .7l3 2.2l1 .6l1 .1l1 -.4l1 -1.1l.5 -1.3l1.5 -8.4l2 -8.4l1 -8.1l.5 -6.7l5 -88l3 -68.6l1 -16.3l2.5 -33.2l1.5 -11.8l1.5 -7.1l1 -3.1l1 -1.5l1.5 -1.4l8 -4.7l3 -1.3l10 -2.1l1 0l1.5 .9l1 1.2l.5 1l2 5.7l5 20.6l1.5 4.6l1.5 3.3l1 .9l1 .3l1 -1.1l1 -1.7l7 -22.7l3 -7l2 -3.6l2.5 -2.6l1 -.6l1 -.2l1 .4l1 .7l3 3.2l2 3.3l1.5 3.4l.5 1.6l1 4.5l5 31.8l4.5 33.6l2.5 14.2l1 3.5l.5 .5l.5 -.1l5 -2.1l5.5 -3.8l3 -2.4l2 -1.1l1 .1l1 .4l1.5 1.3l1.5 1.8l1 1.8l1 2.6l3.5 12.5l4.5 22l3.9 16"/>
<path stroke="#CD0BBC" d="M98.4 343.7l2.5 -.6l4.5 -1.6l2 -.4l2 -.2l4.5 .2l2.5 -.5l2 -1l1.5 -1.2l6.5 -6.1l2 -1.4l1 -.4l1 .2l2.5 1.1l8.5 4.4l2.5 .8l2 .2l5 -.1l2.5 .3l2.5 .6l.5 -.1l1 -.6l.5 -.4l.5 -1l2 -6.5l1 -5.4l1 -7.1l1.5 -15.7l2 -29.9l4 -74.2l.5 -6.1l1 -8.3l.5 -3l1 -3.7l1 -2.9l1.5 -3.2l2 -3.5l2 -2.9l1.5 -1.7l2 -1.5l1.5 -.6l10 -3.1l2.5 -.1l3.5 .8l1.5 1.7l3 5.1l3 6.6l5 12.1l1 1.8l.5 .4l.5 0l.5 -.4l1 -1.7l1.5 -3.3l2 -5.5l1.5 -3.1l6 -9.1l2 -2.4l4.5 -3.5l1.5 -.6l1 0l.5 .3l1.5 1.4l2.5 3.7l1.5 3.4l2 5.4l1.5 5.4l4.5 20.8l2 6.8l1 2.5l.5 .8l1.5 1.4l1 .6l1 .4l1.5 0l1.5 -.5l4 -2.3l2.5 -1l2 -.6l1.5 0l6 1.7l1 .5l1.5 1l1.5 1.6l1 1.4l3 6.1l8.4 24.8"/>
<path stroke="#CD0BBC" d="M312.8 319.2l4 -.9l2.5 -.8l3 -1.8l2 -1.5l4 -5l9.5 -14.9l4.5 -6.4l2 -2.1l3.5 -3l2 -1.1l2.5 -.8l1.5 -.1l1.5 .2l8 2.4l2.5 1.1l3 1.8l2.5 2.1l5 5l1.5 1l3 1.5l2.5 2.1l2 2.7l2.7 5.5"/>
<path stroke="#CD0BBC" d="M413 340.5l4.5 -1.4l7 -1.6l11.5 -4.9l2.5 -.7l.5 -.3l1.5 -.2l4 -1.7l.5 0l.5 -.2l.5 0l.5 -.4l1 -.1l1.5 -.8l.5 .1l1.5 -.6l.5 .1l1 -.7l1 -.1l2 -.9l1.5 -.3l.5 -.4l1.5 -.5l.5 -.4l.5 .1l1 -.6l.5 .2l.5 -.1l.5 -.5l1 0l1.5 -.3l1 .1l.5 .4l.5 -.4l1 .5l.5 -.1l.5 .4l.5 0l.5 .4l.5 -.3l.5 .8l.5 -.1l.5 .2l1 -.1l1.5 .5l.5 .7l.5 .2l1 1l.5 -.1l.5 .7l.5 0l1.5 1.4l.5 .2l.5 .6l.5 .1l1.5 1l.5 .6l1.5 .3l.5 .6l.5 -.1l2 1.2l.5 -.1l.5 .3l1 .2l1 1.1l1 -.1l1.5 1.6l1 .2l.5 .5l1 -.2l.5 .2l.5 .9l2 1l1 -.4l2 .4l.5 .2l1 .9l1 -.8l1 .4l1.5 .3l.5 .5l.5 -.3l1.5 .3l.5 -.3l.5 .1l.5 .5l.5 -.8l.5 .2l.3 .7"/>
<path stroke="#000000" d="M98.4 337.5l5.5 -2l6.5 -1.5l3 -1.4l2.5 -1.6l1.5 -1.3l2.5 -3.2l5.5 -7.6l2.5 -2.3l1.5 -.8l.5 -.1l1 .4l5.5 3.8l3.5 2l2 .6l4 .5l2 .7l1.5 .9l2.5 2l1.5 .8l.5 0l1 -.5l.5 -.6l.5 -1.4l1 -5.2l2.5 -9.9l1 -7.4l.5 -6.1l5 -81.9l3.5 -73.4l2.5 -32.7l1 -9.8l1 -6.5l1 -4.8l1 -3.5l1 -2.2l1 -1.3l1.5 -1.5l5.5 -3.8l5 -4.1l1.5 -.8l1.5 -.6l2 -.3l2 0l3.5 .8l1 .6l1.5 1.7l1.5 3l1.5 4.3l4.5 17.7l1.5 5l1 2.7l1 2.1l.5 .5l1 .3l.5 -.2l.5 -.5l1.5 -2.7l5 -15l2 -5.2l2.5 -4.8l2 -3.1l1.5 -1.6l2 -1.7l1 -.5l1 -.1l1 .4l1 .8l2.5 2.8l1.5 2.4l1.5 3.3l1 2.8l1 4.3l4 23.5l5.5 35.8l2.5 11.8l1 3.2l.5 .7l.5 0l1 -.4l3 -1.9l5 -3.9l4 -2.3l2 -.8l1 -.1l1.5 .4l1.5 1.2l1.5 1.7l1 1.7l1 2.4l3.5 11.4l4.5 19.7l3.9 14.4"/>
<path stroke="#000000" d="M312.8 304.3l5 -1.6l1.5 -.7l1.5 -1.2l1.5 -1.6l2 -3.1l3.5 -6.4l9.5 -18.3l4 -7.2l2 -3.2l2 -2.4l2.5 -2.3l2 -1.3l3.5 -1.5l2.5 -.7l2.5 0l3.5 .7l2 1l8 6.5l9 9.3l4 2.7l1.5 1.7l1.7 2.6"/>
<path stroke="#000000" d="M413 335.7l6.5 -2.9l9.5 -4.9l2 -.6l3 -1.5l1 -.3l2.5 -1.3l1.5 -.5l1 -.7l1 -.3l1.5 -.8l2 -.9l.5 .1l1 -.5l.5 0l4 -1.8l1.5 -.1l1 -.8l.5 .1l1 -.6l.5 .1l1 -.3l1 -.5l3 -.3l1 -.4l.5 .1l.5 -.3l.5 -.1l1 -.1l.5 .1l.5 -.5l.5 .3l1 -.4l1.5 .3l1 -.2l.5 .4l.5 -.2l2 .3l.5 -.2l.5 .5l.5 .2l1 .2l.5 -.3l2.5 1.8l1.5 .3l1.5 1.5l.5 0l1.5 .9l1 0l.5 .5l1 .3l.5 .8l.5 .4l1 0l.5 .9l.5 -.3l1 1.3l.5 .1l.5 .6l.5 .2l1 .9l2 .6l.5 .5l.5 -.1l.5 .5l.5 -.1l.5 1l.5 -.1l1 .5l.5 -.2l.5 .5l.5 .1l1 .8l1 0l.5 .5l1.5 .7l.5 .5l2 .4l.5 .5l.5 .1l.5 -.2l.5 .8l.5 .1l1 .5l1 0l.5 .5l1.8 .8"/>
<path stroke="#F5C710" d="M98.4 341.9l3 -.4l6 -1.9l5.5 -.3l2.5 -.7l1.5 -.9l1.5 -1.3l7 -6.6l1.5 -.9l2 -.9l1 0l1 .3l6 2.4l5.5 2.6l2 .3l3.5 -.1l1.5 .1l5.5 2l.5 -.1l.5 -.4l2 -3l1 -2.8l1.5 -6.6l1 -7.4l1.5 -15.2l1.5 -19.2l1.5 -23.2l4 -73.5l1 -10.8l1.5 -11.1l1 -4.5l1.5 -4.8l1.5 -3.5l2.5 -3.9l1.5 -1.8l1.5 -1.4l5 -2.9l5.5 -4l1.5 -.7l1 -.2l2 .3l3 1.7l1.5 1.7l3 5.8l1.5 3.6l7 20.5l1 2.1l.5 .6l.5 .1l.5 -.2l.5 -.6l1.5 -3.1l3 -7.9l1.5 -3l3 -5l2.5 -3.6l2 -2.2l5.5 -4.5l1.5 -.4l1 .3l1 .8l2 2.2l1 1.6l1.5 3.2l1.5 3.9l1 3.4l4.5 21l2.5 10l1.5 4.5l1.5 2.5l2 2.8l.5 .3l.5 .1l1 -.3l1.5 -1l3.5 -3.4l2.5 -2l2.5 -1.3l2.5 -.4l3.5 .4l2 .7l1.5 1.1l1.5 2l1 2l3 7.5l8.4 27.9"/>
<path stroke="#DF536B" d="M312.8 317.8l3 -.5l3 -1l2.5 -1.4l2.5 -2l2 -2.4l2.5 -3.8l3.5 -6.1l3 -4.7l6 -7.8l2.5 -2.8l5.5 -5.3l3 -1.9l2 -.7l3 -.3l5 .8l2 .8l2.5 1.6l4.5 3.7l5 4.6l2 1.5l2.5 1.5l2 1.7l1.5 1.7l1.5 2.2l2.7 5.7"/>
<path stroke="#DF536B" d="M413 339.8l3 -1l6.5 -1.7l2 -.7l17.5 -7.8l5 -1.4l.5 .2l1 -.4l.5 .1l1.5 -.4l.5 .1l1 -.6l.5 .1l.5 -.6l1 .1l.5 -.3l2 -.5l.5 -.5l1.5 -.3l.5 -.5l1 -.4l1 -.1l.5 -.2l1 -.2l.5 -.5l.5 0l.5 -.3l.5 .3l.5 -.2l.5 .1l.5 -.6l3 .7l.5 -.2l1 .3l.5 .4l1.5 .2l1 .6l.5 .6l1 .1l.5 .5l.5 0l.5 1l.5 0l.5 .6l.5 .1l.5 .8l1.5 .9l.5 .9l.5 0l1 .4l2 1.2l.5 0l.5 .4l2 .8l1.5 .9l.5 -.1l.5 .7l.5 .1l.5 .5l1.5 .3l.5 .6l1.5 .5l.5 .5l1.5 .2l1 .7l.5 -.3l1.5 1.2l.5 -.2l1.5 .8l.5 -.1l1 1.4l.5 -.7l.5 .6l.5 -.1l.5 .4l.5 -.1l.5 .4l1 .4l.5 -.6l1 1l.5 0l.5 -.4l.5 0l.5 .8l.5 -.6l1 .3l.3 -.2"/>
<path stroke="#DF536B" d="M98.4 342.8l2 -.5l5.5 -.4l5.5 -1.4l5 -.5l2 -.5l1.5 -.9l1.5 -1.3l5.5 -6.3l1.5 -1.2l1 -.3l1 .4l4 2.9l1.5 .8l12 3.2l3 .3l4 -.3l1.5 .2l1.5 -1.6l.5 -1l1.5 -4.5l1.5 -8l1 -7.7l1.5 -16.2l2 -29.8l4 -73.6l.5 -6.1l1 -8.4l.5 -3.1l1 -4l1 -2.9l1.5 -3.3l2 -2.9l3.5 -4.3l2 -2l1.5 -.9l2.5 -.8l5.5 -.2l5 -1.1l1.5 0l1.5 .4l1.5 1.9l2.5 4.7l8.5 19.4l1 1.5l.5 .4l.5 -.1l.5 -.5l1 -1.6l1.5 -3l2 -5.4l1 -2.2l6 -10.5l2 -3.1l2 -2l3 -1.8l2 -.5l1 .2l1 .6l2.5 2.5l1 1.6l1.5 3.3l1.5 4.3l1.5 5.5l4.5 20.7l2 7l1.5 3.7l2 2.2l1 .5l.5 -.1l2.5 -.4l2 -.6l3.5 -1.5l4 -2.2l1.5 -.4l1 0l1.5 .4l1.5 .7l2 1.2l1.5 1.3l2 2.1l1 1.5l3 6.2l4.5 13.7l3.9 12.7"/>
<path stroke="#61D04F" d="M312.8 321.5l7.5 -2l2 -1l2 -1.6l2.5 -3.2l6 -9.4l10.5 -13.2l3 -3l2 -1.5l1.5 -.8l3.5 -1.1l2 -.1l1.5 .1l3.5 1.1l3 1.4l8 5l5.5 4.7l4 2.4l2 1.8l1.5 1.7l1 1.6l2.7 5.9"/>
<path stroke="#28E2E5" d="M413 339.5l3 -1.1l5.5 -1.6l2.5 -1.1l5 -2.8l.5 0l1 -.5l2 -.5l1 -.5l1 -.2l1.5 -.6l1.5 -.4l.5 -.5l2.5 -1l1 -.7l.5 .1l.5 -.4l2 -.7l.5 .1l.5 -.2l3 -.6l.5 .1l1 -.6l1.5 -.4l1 .1l1 -.9l1 -.5l1 0l1 -.8l.5 .2l1 -.6l.5 0l2 -.8l1 .2l1 -.3l.5 -.4l.5 .7l.5 -.6l1 .2l1 -.7l.5 .4l.5 -.3l2 .5l.5 0l.5 -.3l1 .3l2 .1l.5 .4l.5 0l.5 .6l.5 .2l.5 .8l.5 0l1.5 1.2l1 .3l2 1.8l1.5 .6l.5 -.1l.5 .7l.5 -.3l1 .7l1 .3l1.5 1.1l.5 -.2l.5 .6l.5 .1l1 1.2l.5 .2l.5 -.2l1 1.5l1 0l.5 .7l1 .4l.5 .7l.5 .4l.5 -.5l1 .6l.5 -.2l.5 .5l1.5 .1l.5 1l.5 -.6l.5 .2l.5 .6l.5 -.2l.5 .6l1 .3l1 1l.5 -.3l.5 .1l.5 .3l1.5 .3l1.5 .5l.5 0l.5 .6l1 -.3l.5 .7l.5 0l.3 -.6"/>
<path stroke="#2297E6" d="M98.4 336.4l2.5 -.9l4.5 -.8l2 -.6l2 -1l3.5 -2.3l4 -1.6l2 -2l1.5 -1.9l5.5 -9.1l2 -2.3l1.5 -.9l1 .3l2.5 2.4l3 2.1l2.5 1.1l6 1.9l2 1.2l4.5 3.2l1 .5l1 .2l1 -.3l1.5 -1.6l.5 -1.2l1.5 -8.1l2 -8.1l1 -7.8l.5 -6.6l5 -85.9l2.5 -57l1 -19.1l2.5 -34.1l1 -10.5l1.5 -9.6l1 -4.1l1 -2.7l2 -2.3l7 -6l2 -1.2l2 -.7l4.5 -.4l4 -.6l2.5 .2l1 .7l1 1l1.5 2.5l2 5.7l4.5 17.8l1 3.4l2 4.8l1 1.1l1 .5l1 -.3l1.5 -2.1l7 -21.6l3 -6.9l2 -3.3l2.5 -2.4l1 -.5l1 -.2l1 .1l1 .5l2.5 2l1 1l1.5 2.5l1.5 3.5l1.5 6.4l4.5 27.7l5 35.6l2.5 13.4l1 3.3l.5 .5l5 -1.9l1.5 -1l6.5 -5.1l2 -1l1 0l1.5 .8l1.5 1.5l2 2.6l1 1.6l1 2.3l3.5 11.8l4.5 21l3.9 15.3"/>
<path stroke="#28E2E5" d="M312.8 301.8l5 -1.7l1.5 -.7l1.5 -1.3l1.5 -1.8l1.5 -2.4l4.5 -8.6l9 -18.5l4 -7.6l2 -3.4l2 -2.6l2.5 -2.4l2 -1.3l3.5 -1.6l2.5 -.7l2.5 -.1l3.5 .9l2 1.1l8.5 7.9l3.5 3.6l5 5.6l4.5 3l1.5 1.7l1.2 1.8"/>
<path stroke="#9E9E9E" d="M413 330.1l5 -2.8l6.5 -4.7l2.5 -1.4l2.5 -1.1l9.5 -6l3 -1l2.5 -.6l1.5 -.7l.5 -.1l2 -.9l.5 -.5l1 -.2l1.5 -1.2l.5 0l2 -1l.5 .2l.5 -.3l1.5 .1l3 -.6l.5 .2l.5 -.2l1 .1l.5 -.3l1.5 -.3l.5 .1l.5 -.3l.5 0l.5 -.3l.5 .3l1 -.5l1.5 .3l.5 -.1l.5 .5l.5 -.1l.5 .3l.5 -.2l.5 .4l.5 -.1l.5 .4l1 .1l3.5 1.3l1 -.3l.5 .6l.5 -.2l.5 .3l1 .1l1 -.2l.5 .6l1 .4l2 1.3l1 .4l1 .9l1 .3l.5 .8l1 .9l.5 -.1l1 .9l.5 0l1 1.1l.5 -.3l.5 .6l.5 -.1l.5 .5l.5 -.7l1 1.8l1 .4l.5 1l.5 -.6l.5 .2l.5 -.4l.5 1.1l.5 .3l.5 1.2l1 0l.5 .8l1 .7l.5 .7l.5 0l1 .8l.5 -.1l.5 .6l.5 .1l.5 .7l.5 .2l.5 -.5l.5 1.1l1 .4l.5 -.1l.5 1.3l.5 -.4l.5 .7l.3 -.1"/>
<path stroke="#DF536B" d="M98.4 342.8l2 -.7l4 -1.8l2 -.6l2 0l4.5 .5l1.5 -.1l1.5 -.6l3 -2.2l7 -6.9l2.5 -1.9l1 -.4l1 .1l3 1.3l7.5 4.7l2.5 .9l1.5 .1l4.5 -.5l6 1.5l.5 -.1l.5 -.5l1.5 -1.8l.5 -1.1l1.5 -5l1 -5.3l1.5 -12l1 -11l2.5 -35.8l4 -73.5l1 -10.7l1 -7.5l1 -4.7l1.5 -4.9l2.5 -5.7l2.5 -4.1l1.5 -1.8l1.5 -1.4l4.5 -2.9l4.5 -3.6l2 -1.3l1.5 -.7l1.5 -.4l3.5 .1l1 .4l1.5 1.5l2 3.1l1.5 3l7.5 19.6l1 1.4l.5 .1l.5 -.2l.5 -.6l1.5 -3.2l3 -8.2l1.5 -3.1l3 -5.2l3 -4.4l2 -2.2l3 -2.5l1.5 -1l.5 -.2l1 0l1.5 1l1.5 1.9l2 3.4l1.5 3.4l2 5.5l1.5 5.9l5 24.2l2 7.7l.5 1.6l1 2.1l2 3l1 .9l.5 .2l1 -.1l1 -.4l4 -2.6l1.5 -.8l2 -.8l1.5 -.2l2 -.1l5.5 .7l1 .4l1.5 1l1.5 1.9l1 1.8l3 7.1l8.4 26.8"/>
<path stroke="#CD0BBC" d="M312.8 301.9l6.5 -2.4l1.5 -1.2l1.5 -1.7l2 -3.2l5 -9.4l11.5 -23.4l3 -5.4l2 -2.6l2.5 -2.3l1.5 -1l4 -1.9l2 -.6l2.5 0l3.5 1l2 1.1l5 4.4l2.5 2.5l9 10.4l1.5 1.2l2.5 1.2l1 .7l1.5 1.7l1.2 1.7"/>
<path stroke="#DF536B" d="M413 340.8l2.5 -.7l7 -1.4l9.5 -3.9l2 -.5l2 -1l1 -.2l1 -.8l1.5 -.4l2.5 -1.3l1 -.1l2.5 -1l2.5 -.3l1.5 -.6l2 -.2l1 -.8l1.5 -.3l.5 -.4l.5 .1l2.5 -1.1l1 -.8l.5 .3l.5 -.5l1.5 0l1 -.6l.5 0l.5 -.4l1 .2l.5 -.5l.5 -.2l1 .3l.5 -.3l1 .2l.5 -.4l.5 .8l.5 -.5l.5 .5l.5 -.4l2 .9l1 -.2l.5 .7l1 .4l.5 .7l.5 0l.5 1l1 .4l1 1.1l.5 .1l.5 .6l1 .5l.5 .5l.5 .1l.5 .6l.5 0l1.5 1.1l1 0l.5 .4l.5 .1l.5 .8l.5 -.3l.5 .8l1 .2l2 1.2l.5 0l.5 1l.5 0l.5 .2l.5 .5l.5 -.1l1 .1l1 .8l1 0l.5 .2l.5 -.1l.5 .2l.5 .7l1 0l1 .7l1 .1l.5 -.2l.5 .5l.5 -.2l.5 .5l.5 0l.5 .5l1 -.5l1 .8l1 .5l.5 -.1l.5 .5l.5 -.9l.5 .4l.5 -.3l.5 .2l.5 -.1l.5 .1l.5 .5l.3 -.3"/>
<path stroke="#2297E6" d="M98.4 338.4l5 -1.4l5 -2.5l2 -.8l2 -.5l3.5 -.2l1 -.4l1.5 -1.4l1.5 -1.8l6 -9.4l2 -1.9l1.5 -.7l1 .2l2.5 1.8l5.5 2.4l6 3.4l2.5 1.1l4.5 1.1l1.5 .1l1.5 -.4l1 -.8l.5 -.8l1.5 -6.5l2 -7.5l1 -7.1l.5 -5.7l5 -79.6l3.5 -71.6l1 -14l2 -22.7l1.5 -10l1 -3.9l1 -3l1 -1.7l2.5 -3.2l2 -2.2l2 -1.7l1.5 -.8l2 -.7l9 -2.4l2.5 .2l1.5 .6l1 .6l2.5 3.2l2 4.6l1.5 4.6l3.5 12.7l2.5 6.7l1 1.9l1 .8l.5 .1l.5 0l.5 -.4l1.5 -2.4l6.5 -19.4l2.5 -5.7l2 -3.6l1 -1.3l2.5 -2.4l1.5 -1.2l1 -.4l1 -.1l1 .4l2 1.5l1.5 2.1l1.5 3.1l1.5 4.3l1 4.3l4 22.7l5.5 34.3l2 8.8l1 3.5l.5 1.1l.5 .4l2 -.4l3 -1.6l5 -4.1l2 -.9l1.5 -.4l1.5 .1l2 .7l2 1.4l2.5 2.3l1 1.6l1 2.4l3 9.4l4.5 19.6l3.9 14.7"/>
<path stroke="#28E2E5" d="M312.8 312.2l3 -1.1l3.5 -1.8l2 -1.5l2 -2l2 -2.6l3 -4.7l8 -14l6 -8.6l2.5 -3l3 -3l2 -1.4l2.5 -.9l3 -.4l6 .8l2 .5l2 1.2l5 4.3l7 6.9l6.5 6.1l2 2.5l2.2 3.9"/>
<path stroke="#61D04F" d="M413 334.1l9 -4.7l7 -2.6l2 -1l4 -2.4l1.5 -1.2l4 -1.8l2 -.7l.5 0l.5 -.5l.5 .1l1 -.6l3 -1.1l1 -.8l.5 .1l1 -.6l1 0l1 -.6l.5 .2l1 -.7l.5 .1l1 -.4l1 0l1 -.7l.5 .1l1 -.3l1 0l1.5 -.9l2 -.5l.5 -.5l1 .1l1.5 -.6l.5 .1l.5 .4l.5 -.2l1 .2l.5 -.1l.5 .4l1 .3l.5 .5l.5 .1l.5 -.3l1.5 .8l.5 -.3l.5 .8l1 .2l.5 .7l1 .1l1.5 .6l1 .7l.5 0l.5 .2l.5 .7l.5 -.1l.5 .5l.5 0l.5 .5l2.5 1.6l.5 .6l1 .2l1.5 1.1l1 -.1l1 .4l.5 .9l.5 -.5l.5 .9l.5 0l.5 .3l.5 -.3l1 1.2l.5 -.2l.5 .8l1 .3l.5 .6l.5 0l1 .8l.5 -.1l1 1.3l1 .8l1 -.1l.5 1l.5 -.6l.5 .8l.5 -.5l1 1.6l.5 -.8l.5 1.1l.5 -.4l.5 .1l2 1.3l1.5 .5l.5 .8l.3 0"/>
<path stroke="#DF536B" d="M98.4 339.4l5 -1.8l7 -1l2.5 -1l3 -1.6l1.5 -1.1l2.5 -2.6l6 -7.3l2.5 -2.2l1 -.5l.5 0l1 .5l6 4.2l2 1.1l1.5 .6l1.5 .3l4 .4l1.5 .4l1.5 .6l3 1.9l1.5 .6l.5 0l1 -.3l.5 -.4l.5 -.9l3 -9.6l1 -4.6l1.5 -14.2l4.5 -66.1l3 -58.9l1 -16.5l2 -21.7l1 -7.7l1 -5.2l1 -4l1 -3l1 -2l3 -3.5l9 -8.8l2.5 -1.9l3.5 -1.6l2 -.5l1.5 -.2l2 .2l1 .7l1 1.1l1.5 2.5l2 5.1l4.5 15.2l2 5.8l1.5 3l.5 .4l.5 .1l.5 -.2l.5 -.4l2 -3.7l2.5 -7.6l3.5 -8.8l3 -6.1l2.5 -4l3 -3l1 -.7l1 -.3l1 0l1 .5l2 1.9l2 2.6l1.5 2.8l1.5 3.8l1 3.8l1.5 7.5l7.5 42.4l1 4.2l2.5 8.2l.5 1l.5 .4l1 -.2l1.5 -.7l7 -4l4 -2l2 -.5l1 -.1l1.5 .5l1 .6l1.5 1.5l1 1.3l1.5 3l3.5 10l4.5 17.5l3.9 13.6"/>
<path stroke="#2297E6" d="M312.8 309.9l6.5 -2l2 -1.2l2 -1.9l2 -2.8l3 -5l8 -15.4l6.5 -11.1l2 -2.6l2.5 -2.4l2 -1.4l2 -.7l2.5 -.5l3 .1l4.5 1.2l2.5 1.2l7 5.6l7 6l6.5 4.9l1.5 1.7l2.2 3.8"/>
<path stroke="#DF536B" d="M413 330l8 -5.3l7 -4.1l3.5 -2.4l5.5 -2.9l3 -1.3l2 -.4l2 -1l1 -.1l1 -.7l3 -1.2l.5 -.4l1 -.2l1 -.6l.5 0l.5 -.5l1.5 -.3l.5 -.4l2 -.5l1.5 -.7l1 0l2 -.8l1.5 0l.5 -.4l.5 .2l1 -.4l1 0l.5 .2l.5 -.2l1 .6l.5 -.2l1.5 .3l1 .5l.5 -.1l.5 .4l1 -.1l.5 .6l.5 -.3l2 1l1 0l1.5 .6l.5 0l.5 .4l1 .1l.5 .4l.5 -.3l.5 .7l1.5 .2l1 1.2l.5 -.1l.5 .2l.5 0l.5 .8l1 .2l.5 .6l1 .1l.5 .5l.5 .2l.5 .6l.5 -.1l.5 .5l2.5 1.1l2.5 2.2l.5 0l.5 .5l1 .4l.5 .6l.5 .1l1 1.4l.5 .3l.5 -.2l.5 1.2l1.5 .3l.5 .7l1.5 .8l1.5 1.4l.5 -.4l1 1l.5 .2l.5 -.5l1 2l.5 .1l.5 .5l.5 0l.3 .4"/>
<path stroke="#2297E6" d="M98.4 339.6l6 -.8l6.5 -2.1l4.5 -.6l1.5 -.6l1.5 -1.1l1.5 -1.6l6 -8.5l1.5 -1.3l1.5 -.8l.5 0l1 .4l2.5 2l2.5 1.5l11 4.1l5 .9l2.5 .1l1.5 -.3l.5 -.3l.5 -1.1l2.5 -7.1l1 -4.3l1.5 -12.9l2.5 -32.9l2 -30.4l4 -74.3l1.5 -16.1l1.5 -11.6l1.5 -6.7l1.5 -4.4l1 -1.8l4.5 -6.9l2 -2.5l1.5 -1.4l6.5 -4.4l4.5 -3.4l2 -.8l1 0l1 .2l.5 .2l1 1l1.5 2.2l1.5 3l1.5 3.8l4.5 14.4l2 5.6l1.5 3.2l1 .8l.5 0l.5 -.2l1 -1.4l1 -1.7l2.5 -7.1l3.5 -8.2l2.5 -4.9l2.5 -3.8l1 -1l2 -1.2l1.5 -.7l1.5 -.3l1 0l1 .5l1.5 1.2l1 1l1.5 2.2l1 2.1l1.5 4l1 3.6l1.5 7l7 36.9l1 4.2l2.5 7l1 1.5l.5 .2l1.5 0l1.5 -.4l2.5 -1.2l5.5 -4.1l1.5 -.7l1.5 -.3l1.5 .1l2 .9l2 1.3l2 1.9l1 1.5l1 2l3 8.2l4.5 17.2l3.9 13.8"/>
<path stroke="#DF536B" d="M312.8 312.5l6.5 -1.5l2 -1.2l2 -1.8l1.5 -2l2 -3.1l9 -15.9l7 -11.2l2 -2.4l3 -2.7l2 -1.1l3 -1l2 -.2l1.5 0l2 .4l2.5 .8l3 1.5l6 4.1l2.5 1.9l5.5 4.9l6.5 4.9l1.5 2l2.2 4.1"/>
<path stroke="#2297E6" d="M413 337.5l3 -1.4l7 -2.7l4.5 -2.3l2.5 -1l3.5 -.9l1.5 -.6l1.5 -.4l6.5 -3.7l4 -1.2l1 0l2 -.5l2 -.8l.5 0l2 -1l2 -.6l1.5 -.2l.5 -.4l2.5 -.3l.5 -.2l1 .1l3 -.9l1.5 -.2l1 .4l1 -.7l.5 .3l1 -.2l.5 .3l1 -.1l.5 .2l.5 .4l.5 -.1l1.5 .9l1.5 1.6l.5 0l2.5 2.3l1 .2l.5 1l1 .2l1.5 1l.5 -.2l.5 .9l.5 -.1l.5 .6l1 .2l1 .9l1.5 .6l1 1l.5 .1l.5 -.2l.5 .8l.5 .1l.5 .6l.5 -.3l.5 .1l1 1l1 .1l.5 .6l.5 -.6l1 .1l.5 .5l1 0l.5 .6l.5 0l.5 .6l.5 .1l.5 -.3l.5 .5l1 .1l.5 1.3l.5 -.4l.5 .1l.5 .7l.5 -.2l1 .9l.5 -.2l.5 .5l.5 .1l.5 -.2l.5 .7l1 .2l.5 .3l.5 -.5l.8 .2"/>
<path stroke="#CD0BBC" d="M98.4 336.7l7 -3.5l8.5 -2.5l2.5 -1.2l1 -1l2.5 -3.5l5.5 -8.8l2.5 -2.5l1.5 -.9l.5 0l1 .4l10.5 7.2l2 .9l5 1.3l4 2.2l1 .2l1 -.3l1 -1.1l.5 -1.4l1.5 -8.4l2 -8.5l1 -8.1l.5 -6.8l5 -88.9l3 -69.7l1 -16.5l2.5 -34.1l1.5 -12.2l1.5 -7l1 -3.1l.5 -.9l1 -1.3l1.5 -1.4l1.5 -.7l2.5 -.7l5.5 -1.1l2.5 -.1l2.5 .3l2.5 .7l4 1.5l2 1.4l1 1.2l.5 .9l2 5.3l4.5 18l1.5 4.8l1 2.6l1 1.8l.5 .5l1 .5l.5 0l.5 -.5l1.5 -2.7l6.5 -22.5l2.5 -6.3l2.5 -5l1 -1.5l2 -2.3l1 -.9l1 -.5l1 -.1l1 .6l2.5 2.4l2 3.3l1.5 3.7l1 3.1l1 4.7l4.5 29.1l5 37.5l2.5 14.3l1 3.8l.5 .7l1.5 -.3l3.5 -2l4.5 -3.5l4 -1.8l2 -.7l1.5 0l1.5 .6l1.5 1.1l1.5 1.5l1 1.9l1 2.8l3 10.5l4.5 21.3l3.9 15"/>
<path stroke="#F5C710" d="M312.8 311.7l3.5 -1l3 -1.1l2.5 -1.7l2 -2l2 -2.7l2.5 -3.8l8.5 -15.4l6 -9.7l2 -2.5l3 -3l1.5 -1l2.5 -1l1.5 -.3l2 0l7 1.3l2 .7l2 1.2l4.5 3.4l7 6.4l6 5.1l2 2.4l2.2 3.9"/>
<path stroke="#61D04F" d="M413 329.7l3.5 -2.4l7.5 -4l8 -5.4l10.5 -5.4l1 -.2l1 -.6l1 -.1l1 -.5l1 -.1l1 -.6l1 .1l2 -.9l1 -.1l1.5 -1l.5 .1l.5 -.5l1.5 -.5l1 -.7l1 -.3l1.5 -.3l.5 -.3l1.5 .1l.5 -.5l.5 .2l2 -.5l1 .4l.5 -.5l1.5 .5l.5 -.3l.5 .3l.5 -.3l.5 .7l.5 -.2l.5 .2l1 -.2l.5 .7l1.5 -.2l.5 .8l.5 -.3l1 .9l.5 .3l.5 -.1l1 .7l.5 .2l.5 -.3l.5 .8l.5 .1l.5 .4l.5 -.2l.5 .5l1 .4l.5 -.1l1 .7l.5 .7l.5 -.4l1.5 .9l.5 -.5l.5 .2l.5 .8l1.5 .8l1 1.3l.5 -.6l1 1.2l.5 0l.5 .6l1 .6l.5 .5l.5 .2l1 1.3l.5 -.4l.5 .7l1 .3l.5 .6l1 .5l.5 .5l.5 -.2l1 1.1l.5 -.3l.5 1.4l.5 -.2l1.5 1.4l1 .6l1 .2l.5 .4l1 1.6l.5 -.4l.5 1l.5 -.3l1 1.4l1 -.5l.3 1.4"/>
<path stroke="#61D04F" d="M98.4 339.1l3.5 -2.1l2 -.9l2 -.4l5.5 -.2l2.5 -.8l2 -1l1.5 -1.3l2.5 -2.8l6 -7.9l2.5 -2.4l1 -.6l.5 0l1 .4l3 2.1l5 4.1l2.5 1.4l1.5 .3l5 .3l1.5 .5l3 1.6l1 .3l.5 0l1 -.4l.5 -.4l.5 -.9l3.5 -12.5l1 -6.6l.5 -5.2l1.5 -20.6l3.5 -54.7l3.5 -69.7l1.5 -19.7l1 -11l1 -8.6l1 -5.8l1 -4.2l1 -3.4l1 -2.3l1.5 -2.2l2 -2.1l3 -2.5l6 -4.4l1.5 -.8l2 -.5l3 -.3l3 .1l2 .4l1 .8l1 1.2l1.5 2.8l1.5 4l4.5 16l1.5 4.5l1.5 3.7l.5 .8l.5 .5l.5 .2l.5 -.1l.5 -.4l2 -3.8l2.5 -8l3.5 -9.9l3 -6.8l2.5 -4.8l3 -3.9l1 -.9l1 -.6l.5 -.1l1 .3l1 .7l1 1.1l2 2.8l1.5 2.7l2 5l1 3.9l3.5 19.6l5.5 33.6l2 8.9l1.5 5.4l.5 1l.5 .4l.5 -.1l1.5 -.6l6.5 -3.3l6 -2l2 -.5l1 0l1 .3l1 .6l1.5 1.3l1 1.5l1 2.1l3.5 10.4l4.5 18.2l3.9 13.9"/>
<path stroke="#2297E6" d="M312.8 307.4l4 -1l2 -.8l1.5 -1l2 -2l2 -2.9l4.5 -7.8l8.5 -16.4l3.5 -6.4l2 -3.3l2 -2.5l2.5 -2.2l2 -1.4l3 -1.1l1.5 -.3l1.5 -.1l2.5 .6l5.5 2l5.5 3.4l3 2.4l7.5 7.3l5 3.9l1.5 1.8l2.2 3.8"/>
<path stroke="#F5C710" d="M413 336.2l3 -1.7l3 -1.4l5 -1.5l2.5 -1l7.5 -4l.5 0l2 -1.2l2.5 -.8l1 -.8l4 -2.1l.5 -.1l1.5 -1l1.5 -.2l.5 -.4l1 -.2l.5 .1l.5 -.2l1.5 -.3l.5 .1l1 -.4l.5 .1l1.5 -.7l1 0l1.5 -.7l.5 -.1l2 -.7l.5 0l1 -.4l.5 -.6l.5 .4l1 -.3l.5 .2l.5 -.3l.5 .2l1.5 -.3l2 .6l.5 -.3l.5 -.1l1 .6l1.5 -.1l1.5 .5l.5 .5l1.5 .3l.5 .7l.5 -.2l1 1l.5 .1l1 1.4l1 .4l1.5 1.4l.5 -.1l1.5 1.1l.5 -.3l1 .8l.5 .1l1 .9l.5 -.3l.5 .5l1 .3l.5 .8l.5 0l.5 -.2l.5 .8l.5 0l.5 .6l.5 -.1l1 1l.5 -.5l.5 .6l1 .4l1 .7l1.5 .5l3 1.6l1.5 -.1l1 .7l.5 .9l.5 -.6l.5 -.2l.5 .6l.5 0l.5 .4l.5 .1l1 1.1l1 .2l.5 .7l.5 -.1l.5 .2l.5 -.9l.5 .9l.8 .5"/>
<path stroke="#CD0BBC" d="M98.4 338.8l2 -1l2 -.8l6 -1.4l8.5 -2.7l2 -1.8l1.5 -1.7l6 -9.1l2 -2.1l1 -.6l1 .2l5 4.1l3 1.9l2.5 1.1l5 1.7l5 2.1l1.5 .4l1 -.1l1.5 -.8l1 -1.1l3.5 -12.7l1 -6.7l.5 -5.3l5 -75.8l3.5 -69.6l2 -25.2l1.5 -13.9l1.5 -7.9l1 -3.5l1 -2.5l2.5 -3.5l4.5 -5.4l2 -1.9l2 -1.5l2.5 -1.2l4 -1l4.5 -1.4l2 -.1l1.5 1.1l1 1.2l1 1.8l2 5l4.5 15.8l2 5.6l1.5 2.8l1 .7l.5 0l1 -.6l1.5 -2.5l2.5 -7.4l4 -10.7l3 -6.6l2 -3.5l1 -1.3l1.5 -1.4l1.5 -1l1 -.3l1 .2l1 .6l2 2l1.5 1.9l1.5 2.8l1.5 3.8l1 3.5l2 10.3l7.5 45.3l2 8.8l1.5 5.1l.5 .8l.5 .2l1 -.2l4.5 -1.5l7.5 -3.4l2 -.4l1.5 .2l1.5 .7l1.5 1.2l2 2.2l1 1.6l1 2.2l3 8.7l4 16.2l4.4 16.2"/>
<path stroke="#CD0BBC" d="M312.8 307.9l2.5 -.9l4 -1.9l1.5 -1.1l2 -1.9l1.5 -2l3 -4.8l8.5 -15.7l7.5 -12.1l2.5 -3.1l2.5 -2.4l1.5 -1l2.5 -.9l3 -.6l3 .1l3.5 .7l2 .9l2 1.7l14.5 13.4l4.5 3.6l1.5 1.8l1.7 2.7"/>
<path stroke="#DF536B" d="M413 333.8l6 -4.1l2 -1.2l7 -2.8l2.5 -1.4l1 -.8l4 -2.4l6.5 -2.5l3 -1.5l1 -.8l.5 0l2 -1.1l.5 .1l.5 -.3l1 -.1l.5 -.4l1.5 -.2l.5 .2l.5 -.3l1 .2l1 -.4l1.5 0l.5 -.6l1 -.1l2.5 -1l1 -.1l2.5 -1.4l.5 .5l1.5 -.3l1 .5l1 -.4l.5 .1l1.5 .7l.5 -.4l.5 .6l.5 -.1l.5 .4l.5 -.2l.5 .2l1 -.2l.5 .7l.5 -.3l.5 .1l.5 .4l2 .9l2.5 1.7l.5 -.1l1 1.2l.5 -.2l.5 .8l.5 0l.5 .5l.5 -.2l.5 .3l.5 .7l.5 -.1l1 .6l.5 -.6l.5 1.2l.5 .4l1 -.5l.5 .1l1 1.5l.5 -.2l1 .8l.5 -.1l.5 .7l.5 -.4l.5 .7l1 .7l.5 -.2l1 1.6l.5 0l.5 .9l.5 -.1l.5 .4l.5 -.2l.5 1l.5 .2l.5 .6l.5 -.3l1 1.1l1.5 0l.5 1.1l.5 .1l.5 -.4l.5 .9l.5 .4l1 .2l.5 .3l.5 -.2l.5 .8l.5 .3l.5 0l.5 1l.5 0l.3 .5"/>
<path stroke="#61D04F" d="M98.4 338.8l5 -1.2l6.5 -2.2l5 -1l1.5 -.6l1.5 -1.2l2 -2.4l6 -8.7l2 -1.8l1 -.5l.5 -.1l1 .4l2.5 1.8l2 1.2l7 3.4l2.5 1l8.5 2.2l1.5 -.1l1 -.5l.5 -.7l3.5 -12.3l1 -6.5l.5 -5.1l1.5 -20.4l3.5 -54.1l3.5 -68.9l1 -13.9l2 -20.8l1.5 -9.2l1.5 -5.5l1 -2.5l2 -3l2.5 -3.2l2 -2l2 -1.5l6.5 -3.8l4.5 -2.2l1.5 -.2l1 0l1.5 .4l1 .7l1 1.1l1.5 2.3l2 4.7l1.5 4.6l3.5 12.4l2.5 7l1 2l.5 .5l1 .4l.5 -.2l.5 -.5l1.5 -2.6l2.5 -7.5l4 -10.5l2.5 -5l2 -3.2l1 -1.2l2 -1.6l1.5 -.9l1 -.4l1 0l1 .3l2 1.6l1.5 1.9l1.5 2.8l1.5 3.8l1 3.4l2 9.7l7.5 43.2l2 8l1.5 4.6l.5 .9l.5 .4l1 0l1.5 -.4l2.5 -1.2l5 -3.5l2.5 -1.2l1.5 -.3l2 .1l2 .8l1.5 1l2 1.8l1 1.6l1 2.2l3 8.7l4.5 18.1l3.9 13.9"/>
<path stroke="#DF536B" d="M312.8 309.5l4 -1.1l2 -.7l1.5 -1.1l2 -1.9l2 -2.8l2.5 -4.1l10 -17.8l6 -9.8l2 -2.5l3 -2.8l2 -1.2l2.5 -.9l1.5 -.3l1.5 -.1l3 .7l5 1.9l5 3.3l3.5 2.8l7 6.9l5.5 4.5l1.5 1.8l2.2 3.9"/>
<path stroke="#61D04F" d="M413 335.7l4 -1.9l7 -3l10 -5.3l4 -1.6l.5 0l1 -.7l1.5 -.5l.5 -.4l1 -.1l1 -.7l1 -.2l1.5 -.8l.5 .2l1 -.8l1.5 -.4l.5 .1l1.5 -.5l.5 -.3l1 -.1l2 -.8l1.5 -.8l1 .1l.5 -.4l.5 0l1 -.5l.5 .1l.5 -.3l2 -.7l1 -.1l1.5 .2l1 -.5l.5 0l1 .5l.5 -.3l1.5 .4l.5 0l1.5 .5l.5 -.2l.5 .3l1.5 .3l.5 .3l1 .3l.5 .4l.5 0l.5 .7l.5 -.3l1 1.1l1.5 .6l1 .9l.5 -.2l.5 .2l.5 .7l.5 0l1 .9l.5 -.2l.5 .6l.5 .2l.5 .4l.5 0l.5 .6l.5 .1l.5 -.1l1 1.3l.5 .1l1 .7l1 .2l.5 .7l1 .1l1 1.2l1.5 .2l.5 .8l.5 .5l.5 -.2l.5 .5l.5 -.2l1 .9l1.5 .3l.5 .5l1.5 .6l.5 .5l.5 -.2l.5 .6l.5 0l.5 .2l.5 -.3l1 .7l.5 0l.5 .7l1 .5l1.5 -.4l.5 1.1l1 -.4l.8 1.3"/>
<path stroke="#28E2E5" d="M98.4 337.2l3.5 -1.2l6.5 -3.4l2.5 -.8l4 -.7l1.5 -.7l1 -1l2 -2.8l6 -9.9l2 -1.9l1.5 -.9l1 -.1l.5 .2l2.5 1.7l4.5 2.3l4 2.9l2 1.3l2 .8l3.5 1l3.5 1.6l1 .2l1 -.3l1 -.8l.5 -1.2l1.5 -7.6l2 -8.1l1 -7.8l.5 -6.4l5 -85.6l3.5 -76.6l2.5 -35.1l1 -11l1.5 -10.2l1 -4.6l1 -3.4l1.5 -3.2l1.5 -2.4l2 -2.5l2.5 -2.1l2.5 -1.5l4 -2l2 -.7l2 -.3l2 .2l2 .8l2.5 1.5l1.5 1.5l1.5 2.3l2 5.7l4.5 18.9l2 6.7l1.5 3.6l1 1.3l1 .5l.5 -.2l.5 -.6l1 -1.6l6.5 -20.5l2 -4.6l2.5 -4.6l1 -1.4l2.5 -2.6l1.5 -1.3l1 -.5l1 0l1 .4l1.5 1.2l1 1.1l1.5 2.6l1.5 3.5l1 3.1l1 4.5l4.5 27.7l5 35.9l2.5 13.7l1 3.6l.5 .7l1 0l1 -.3l3 -1.7l4.5 -3.7l2 -.8l2 -.5l2 0l2 .7l2 1.3l2 2l1 1.9l1 2.7l3 10.3l4.5 20.8l3.9 14.7"/>
<path stroke="#2297E6" d="M312.8 302.7l3.5 -.9l2.5 -1.1l1.5 -1.2l2 -2.3l1.5 -2.4l6 -10.8l7.5 -15.5l5.5 -10.3l2 -2.9l3 -3l2 -1.4l2.5 -1.2l2.5 -.6l2 .1l6 1.3l2.5 1.3l3.5 2.6l2 1.7l10 10.5l4 2.7l1.5 1.8l1.7 2.5"/>
<path stroke="#9E9E9E" d="M413 331.8l6 -4.9l3.5 -2.5l4.5 -2.1l3.5 -2l2.5 -1.7l3.5 -1.8l3 -1.2l1.5 -.3l1 -.8l1.5 -.6l.5 -.4l.5 -.1l.5 -.5l2 -1l.5 -.4l1.5 -.5l1 -.7l.5 0l2.5 -.6l1.5 0l.5 -.4l.5 .2l.5 -.3l.5 .2l.5 -.3l1 .1l2 -.7l.5 0l1 -.5l.5 0l.5 -.4l1 -.1l.5 -.3l.5 .2l1 -.4l.5 .1l1 -.5l.5 .4l2.5 .3l1 0l.5 .3l1.5 -.1l.5 .2l1 -.5l1.5 .9l.5 -.3l.5 .5l.5 -.2l1 1l.5 0l1 .6l2.5 1.2l1 .8l.5 .8l.5 -.1l.5 .3l.5 .8l.5 -.1l1.5 .9l1 .4l.5 .6l.5 -.1l.5 .2l3.5 2.4l.5 -.3l.5 1.1l.5 .4l.5 -.2l.5 .6l.5 .1l1 1.4l.5 .3l.5 .1l.5 1l.5 -.1l.5 -.5l1 1.9l.5 0l.5 .6l.5 0l1 1.1l.5 -.2l.5 .3l1.5 1.5l.5 0l.5 .5l.5 -.7l.5 .9l1 1.3l.5 -.4l.5 .9l.5 -.4l1 2l.3 -.5"/>
<path stroke="#DF536B" d="M98.4 343.2l4 -1.3l6 -.8l2 -.5l6.5 -2l1.5 -.6l3 -2l5.5 -6l1.5 -1.4l1 -.5l.5 0l1 .4l5 3.2l2.5 1.2l2.5 .7l5.5 1.1l6 1.8l1.5 .2l2 -.5l1.5 -1.5l1 -1.8l1.5 -4.6l1 -5.1l1.5 -11.6l1 -10.6l1 -12.4l1.5 -23l4 -72.9l.5 -6l1 -8.4l.5 -3.1l1 -4.2l1.5 -4.2l1.5 -2.9l2 -2.6l2.5 -2.5l3 -2.5l2.5 -1.6l2.5 -1.1l2 -.4l8 -.9l1.5 0l1 .4l1.5 1.9l2.5 4.3l7.5 17l1 1.9l.5 .5l.5 .2l.5 -.2l.5 -.6l1 -1.9l1.5 -3.3l2.5 -6.9l1 -2.1l7.5 -13.2l2.5 -2.9l2.5 -1.9l1 -.4l1 -.1l1.5 .8l2 2l1.5 2l1.5 3.1l1.5 4l2 7.5l4.5 22l2 7.7l1.5 4.3l2 3l1 1l.5 .3l2 -.2l5 -1.8l5 -1.1l1.5 -.2l1.5 .2l2 .7l2 1.1l1.5 1.4l3 4l1.5 2.7l2 4.4l5 14.7l3.4 10.7"/>
<path stroke="#DF536B" d="M312.8 320.5l6.5 -1.7l2.5 -1.2l2 -1.6l1.5 -1.6l1.5 -2.1l5 -8.1l2.5 -3.7l4.5 -6l3 -3.7l2 -2l4.5 -3.7l3.5 -1.7l2 -.6l3 -.1l3.5 .8l3 1.3l3.5 2.3l4 3.3l5.5 5.4l1.5 1.1l3 1.5l2 1.7l1.5 1.7l1 1.6l2.7 5.8"/>
<path stroke="#DF536B" d="M413 341.2l8 -2.7l7 -2.7l4 -.8l3.5 -1.2l1 -.1l1 -.6l2 -.6l2 -.9l.5 0l1.5 -.8l3.5 -1.1l.5 -.4l.5 0l1 -.6l1.5 -.2l1.5 -.8l1 -.1l.5 -.4l1 -.2l.5 -.4l1 -.1l1.5 -.6l.5 0l2 -.6l.5 .1l.5 -.5l1.5 -.1l.5 -.3l.5 .2l1 -.3l.5 -.3l2 .2l1 -.1l.5 -.5l.5 .6l2 .2l1.5 .4l.5 -.1l.5 .4l2.5 1.4l.5 1l.5 -.3l2 1.9l.5 .3l.5 -.1l1 1.3l1 .2l.5 .5l.5 0l2 1.7l.5 -.4l.5 1l.5 .3l.5 .2l.5 .5l1 .6l.5 -.2l.5 .9l.5 0l.5 .2l1 1l1.5 .7l1 .9l1 -.2l1 .6l.5 -.2l1 .5l.5 .6l1 -.5l.5 .3l.5 .6l.5 -.6l.5 .1l1.5 .9l.5 -.3l1 .7l.5 .1l.5 -.2l.5 .4l.5 -.1l.5 .5l.5 -.4l1 .6l.5 -.3l1 -.1l.5 .3l.5 -.7l1.3 .7"/>
<path stroke="#28E2E5" d="M98.4 340.8l7 -.4l5.5 -1.5l5 -.7l1.5 -.5l1.5 -.9l2 -1.9l5.5 -6.6l1.5 -1.1l1 -.4l1 .1l4 3l2 1l12 3.1l4 .4l4 -.1l.5 -.5l1.5 -2.7l1.5 -4.3l1 -4.6l1 -7.6l1.5 -15.4l1.5 -19.2l1.5 -23.1l4 -73.2l1 -10.8l1.5 -11.1l1.5 -6.2l1.5 -4.2l1.5 -2.8l4.5 -6.6l2 -2.4l1.5 -1.4l6.5 -4.2l5 -3.8l2 -.7l1.5 0l1 .6l1.5 2.1l2 3.8l1.5 3.5l4.5 12.9l2.5 6.4l1 1.9l.5 .5l.5 .1l1 -.5l1.5 -2.4l3 -7.3l1.5 -3l4 -6.9l2.5 -3.4l1 -.9l1 -.5l2 -.7l1.5 -.3l1.5 0l1 .3l2 1.6l2 2.4l1 1.7l1.5 3.5l1 2.9l1.5 5.5l4.5 21.8l2.5 10.3l1.5 4.7l1.5 2.7l1 1.4l1 .6l1.5 -.1l1.5 -.5l3 -1.7l6 -4.9l1.5 -.9l1 -.3l1.5 0l2 .7l1.5 .8l2 1.6l1.5 1.8l1 1.8l3 7.4l8.4 29.3"/>
<path stroke="#2297E6" d="M312.8 309.2l5 -1.4l1.5 -.5l1.5 -1l2 -1.9l1.5 -2.1l2.5 -4.1l9 -16.1l7.5 -12.7l2 -2.6l2.5 -2.4l2 -1.4l3 -1.3l2 -.4l1.5 0l1.5 .2l2 .7l3.5 1.6l7.5 5.1l3 2.4l6.5 5.9l4 3.1l1.5 1.8l2.2 3.8"/>
<path stroke="#DF536B" d="M413 341.5l5 -1.2l8 -2.5l4.5 -1.7l3 -1.3l.5 -.5l.5 0l1 -.7l.5 .1l1.5 -.7l1.5 -.3l.5 -.4l1.5 0l1.5 -.7l.5 0l2.5 -.8l1.5 -.8l.5 0l.5 -.5l1 -.1l1 -.7l1 0l1 -.6l1.5 -.3l1 -.4l1.5 -.2l.5 -.4l.5 .1l.5 -.3l.5 0l1.5 -.8l.5 0l.5 -.4l.5 .1l.5 -.2l1 -.6l.5 .3l.5 -.5l.5 -.1l2 .1l.5 -.2l.5 .4l.5 -.2l1 .4l.5 -.1l.5 .4l1 .2l.5 .3l1 .2l.5 .5l.5 -.2l1 .2l.5 .7l1 .3l.5 .5l.5 -.1l.5 .5l1 .4l2 1.6l1 .4l1 1.1l.5 -.3l.5 .3l.5 .8l1 .4l.5 .5l.5 0l.5 .7l1.5 .7l1 1l.5 .1l.5 .7l.5 -.5l.5 .5l1.5 .8l.5 0l.5 .6l.5 -.1l1.5 .7l.5 .5l.5 -.4l.5 .6l.5 -.4l.5 .9l.5 -.1l1.5 1.1l.5 0l1 .4l.5 -.3l.5 .6l.5 -.1l.5 .4l.5 -.8l.5 .5l1.5 -.3l.5 .8l.5 -.7l.5 .1l1 -.8l.5 1l.5 .4l1 -.8l.5 .2l.5 .6l.5 -.3l.3 .6"/>
<path stroke="#F5C710" d="M98.4 337.7l5 -2.9l2 -.9l2 -.5l6 -.6l1.5 -.5l1.5 -.9l1 -1.1l2 -2.7l6 -9.5l2.5 -2.6l1.5 -1l.5 -.1l1 .4l3 2l6.5 5.2l2 1.1l2 .6l4 .5l3.5 1.8l1.5 .4l.5 0l1 -.5l.5 -.4l.5 -1.1l1.5 -7.2l2 -7.7l1 -7.4l.5 -6.1l5 -82.4l3.5 -74l2.5 -33.3l1 -10.1l1 -6.8l1 -4.8l1 -3.9l1.5 -3.6l2 -3.1l2 -2.1l2 -1.7l5.5 -4l2 -1.2l1.5 -.6l1.5 -.3l2 -.1l4 .5l1 .3l1.5 1.1l1 1.2l1 2l1.5 4.3l4.5 18.2l2 6.5l1.5 3.6l1 1.1l.5 .3l.5 0l1 -1.1l1 -1.9l5 -15.8l2 -5.7l3 -6.3l2 -3.5l3 -3.8l1 -.9l1 -.5l1 .2l1 .6l2.5 2.7l1.5 2.5l1.5 3.4l1 2.7l1 4l4.5 26.7l5 34.4l2.5 12.9l1 3.3l.5 .5l1 -.2l8 -5l6 -1.4l2 0l1.5 .5l1.5 1.1l1.5 1.7l1 2l1 2.8l3 10.5l4.5 20.7l3.9 14.9"/>
<path stroke="#CD0BBC" d="M312.8 301.7l4.5 -1.6l2 -1l1.5 -1.3l2 -2.4l5.5 -9.9l8 -16.4l7.5 -14l2 -2.9l2.5 -2.9l1.5 -1.1l2.5 -1.2l2.5 -.7l2 .1l3 .7l3 1.3l1.5 1.2l5 4.9l6.5 5.5l5.5 5.8l4 2.8l2.7 3.4"/>
<path stroke="#DF536B" d="M413 331.2l8 -5.4l8.5 -4.4l6 -4.2l3 -1.5l7 -2.4l2 -1l.5 0l1 -.7l1.5 -.2l2 -.8l1 0l1.5 -.5l.5 .3l.5 -.4l.5 -.1l.5 .1l1 -.5l1.5 -.3l.5 -.5l1 -.3l1 -.5l2 -.2l1 -.9l.5 .3l.5 -.3l1.5 0l1 .5l1 .1l1 .5l.5 .1l.5 -.3l.5 .4l.5 -.2l.5 .5l.5 -.3l.5 .5l1.5 .6l1 -.4l1 1l.5 -.2l1.5 1l.5 -.4l1 1l.5 0l.5 .8l1 0l.5 .6l.5 -.1l1.5 .8l.5 0l.5 .3l.5 .5l1 .4l1 1.1l.5 -.1l1 .3l.5 .7l.5 -.6l1 .9l.5 .8l.5 0l1.5 1l.5 .1l.5 .7l.5 -.4l1 1.5l.5 -.1l.5 1.2l.5 .5l1 .2l.5 .9l2.5 1.9l1 .1l.5 .5l.5 0l.5 .3l.5 .9l1 .4l.5 .6l.5 -.1l.5 .6l.5 -.3l.5 1.1l.5 -.3l.5 1l.5 .1l.5 1.1l.3 -.5"/>
<path stroke="#DF536B" d="M98.4 338.5l5 -2.3l7.5 -2.2l6 -2.8l3.5 -3.6l5.5 -7.5l2 -2.1l1.5 -1l.5 -.1l1 .4l5.5 3.7l3 1.8l2 .8l5.5 1.6l1.5 .7l4 2.5l1 .2l1 -.4l1 -1l.5 -1.2l1.5 -6.6l2 -7.4l1 -7l.5 -5.6l5 -78.5l3.5 -70.7l2 -25.3l1.5 -14.5l1.5 -8l1 -3.4l1 -2.4l2.5 -2.6l10.5 -8.5l1.5 -.8l2 -.7l3.5 -.7l3 -.3l1.5 .1l1 .6l1 1l1.5 2.4l1.5 3.7l5.5 18.3l2 4.5l.5 .6l1 .4l.5 -.1l1 -.9l1.5 -2.7l2.5 -7.9l3.5 -9.9l2.5 -5.4l2.5 -4.4l1 -1.3l1.5 -1.4l1.5 -1.1l1 -.3l1 0l.5 .2l1 .8l1 1.1l2 2.9l1.5 2.8l2 5.3l1 3.9l2 11l7.5 47.4l1 5l2.5 10l.5 1.2l.5 .5l1 -.3l8.5 -5.2l4 -2l2 -.6l1 0l1.5 .5l1.5 1.1l1.5 1.5l1 1.4l1 2l3.5 10.1l4.5 18.4l3.9 14"/>
<path stroke="#2297E6" d="M312.8 305.7l2.5 -.9l3.5 -1.7l1.5 -1.2l2 -2.1l2 -3l4 -6.9l8.5 -15.6l6.5 -10.7l2 -2.6l3 -3.1l1.5 -1l3 -1.4l3 -.6l3 .2l4 .7l2.5 1.4l4.5 3.4l4 3.7l7 7.8l4.5 4.1l2.7 3.9"/>
<path stroke="#61D04F" d="M413 331.2l5 -3l6 -4l3.5 -1.8l1 -.2l4.5 -1.8l3 -1.8l.5 -.6l4 -2.5l.5 0l3.5 -1.5l1 0l2 -1.1l.5 .1l.5 -.4l1 -.2l.5 -.5l1 -.2l.5 -.6l.5 .1l1 -.6l1 -.2l.5 -.3l2 -.1l.5 -.4l1 .2l.5 -.3l1 -.2l.5 .3l1 -.4l.5 0l1 -.8l.5 .1l.5 -.3l1 -.2l1 -.1l.5 -.8l1.5 .2l1 -.5l.5 .5l.5 -.2l1 .5l.5 -.4l.5 .9l.5 -.3l.5 .7l.5 -.3l.5 .6l.5 -.2l.5 .8l.5 -.1l.5 1.1l1 -.1l.5 .5l.5 0l.5 .3l.5 -.1l1 1.3l.5 -.2l.5 .3l.5 -.2l.5 .2l1 1l2.5 1.3l.5 .5l1.5 .8l1 1l.5 .1l.5 -.3l.5 1.4l.5 -.3l1.5 .6l.5 .7l.5 -.1l1 .5l1 -.1l.5 .6l.5 .1l.5 .9l.5 -.2l.5 .2l2.5 1.8l.5 .5l.5 -.3l.5 .7l.5 -.3l.5 1l.5 .3l.5 .9l.5 -.5l.5 1l1 .4l1 1.1l.5 .9l.5 -.5l1 .7l.5 0l.5 .9l.5 -.2l.5 .2l.5 .8l.5 -.6l.5 1.1l.3 -.3"/>
<path stroke="#F5C710" d="M98.4 337.5l3 -.7l2 -.7l5.5 -3l2 -.8l1.5 -.4l3.5 -.4l1 -.5l1.5 -1.6l1.5 -2l5.5 -9.4l2 -2.2l1.5 -1l1 -.1l.5 .2l2.5 1.9l6 2.7l7 4.2l5 1.8l1.5 .3l1.5 -.2l1.5 -1.1l.5 -1l1.5 -7.6l2 -7.9l1 -7.7l.5 -6.3l5 -84.5l3.5 -75.1l3 -39.5l1.5 -11.3l1 -4.5l1 -3.4l1 -1.9l2 -2.9l2.5 -2.7l2 -1.6l1.5 -.8l2 -.6l8.5 -1.2l1.5 .1l1.5 .5l2 1.1l1 1l1.5 2l1 1.8l2 5.4l4.5 17.5l2 6l1.5 3.2l1 1l1 .3l.5 -.3l.5 -.6l1 -1.6l7 -22.3l2.5 -6l2 -3.8l3.5 -4.2l2 -1.7l1 -.2l1.5 .2l1.5 .8l1 .9l1.5 2.4l1.5 3.6l1.5 5.9l4.5 26.6l5 34.8l2.5 13.2l1 3.3l.5 .6l1 -.1l3 -1.2l1.5 -.9l4 -3.5l2 -1l2 -.5l1.5 .1l2 1l2 1.8l2.5 2.7l1 1.8l1 2.7l3 10.4l4.5 21.2l3.9 15.3"/>
<path stroke="#CD0BBC" d="M312.8 305.6l6.5 -2.4l1.5 -1.1l2 -2l2 -3l4 -6.9l12.5 -24.3l2.5 -4.3l2 -2.6l2.5 -2.4l1.5 -1l3 -1.3l2.5 -.6l2.5 0l3 .8l2.5 1.2l2 1.7l5 4.9l9.5 10.1l1.5 1.2l3 1.8l1 .8l1.5 1.7l1.2 1.8"/>
<path stroke="#28E2E5" d="M413 333.4l8.5 -4.7l5 -2.4l6.5 -3.7l4 -2l3 -1l1.5 -.7l1.5 -.4l1.5 -1.1l.5 .1l1.5 -.7l.5 0l2 -1.2l1 -.1l.5 -.5l1 .1l1.5 -1l.5 .2l1.5 -.3l.5 -.4l1 -.3l.5 .1l.5 -.4l.5 .1l.5 -.4l2.5 -.4l.5 -.4l1 .1l.5 -.2l.5 -.5l.5 .3l.5 -.2l.5 .1l1.5 -.1l1 .6l1 -.2l2.5 .3l.5 .4l1.5 .2l.5 .5l.5 -.4l.5 .4l1 .1l.5 .6l.5 -.5l1.5 1.4l1 -.2l.5 .7l1 -.1l1 1.1l1 .4l.5 -.1l1.5 1.5l.5 0l1 .7l2 .9l.5 0l.5 .8l.5 0l.5 .4l.5 -.2l.5 .8l.5 -.1l.5 .2l.5 1l.5 -.2l2 1.4l1 .2l.5 .6l1 .4l.5 .9l.5 -.5l1.5 1.3l.5 0l2 1.2l.5 0l.5 .9l.5 -.3l.5 .4l.5 -.3l.5 1l2.5 1.2l.5 0l.5 .9l.5 -.3l.5 -.1l.5 .6l.5 0l.8 1.2"/>
<path stroke="#28E2E5" d="M98.4 340.5l2.5 -.3l1.5 -.4l5 -2.3l2 -.7l1.5 -.2l4 .1l1.5 -.5l1.5 -1.2l1.5 -1.6l6 -8.2l1.5 -1.3l2 -1l.5 0l1 .3l2.5 1.6l5 1.9l5 2.9l2.5 1l4 .1l5 .5l1 -.2l.5 -.4l.5 -1.2l2.5 -7.1l1 -4.5l1.5 -13.1l2.5 -33.5l2 -30.7l4 -74.8l1 -11.3l1.5 -13.7l1.5 -8.1l2 -6.1l1.5 -2.7l2.5 -3.8l2 -2.4l1.5 -1.2l1 -.6l4 -1.4l5.5 -2.8l1.5 -.5l1 -.1l1.5 .3l1.5 .8l1 .8l2 2.9l2.5 5l1.5 3.9l4 12.9l2.5 6.8l1 2l.5 .6l.5 .2l.5 0l.5 -.3l.5 -.7l1.5 -2.9l2.5 -7.5l3 -7.5l2.5 -5.4l2.5 -4.2l2 -2.1l3 -2.5l1.5 -.8l1.5 -.2l1 .4l1 .9l1.5 1.8l1.5 2.8l1.5 3.9l1.5 5.1l1.5 7l7 37.5l1 4.2l2.5 7l1 1.7l.5 .4l1 .2l1 -.1l2.5 -1l5.5 -3.7l1.5 -.5l1.5 -.2l2 .5l3.5 1.5l1.5 .8l1.5 1.2l1 1.3l1 2l3 7.8l4.5 16.4l3.9 13.2"/>
<path stroke="#DF536B" d="M312.8 313.3l6.5 -2.2l2 -1.3l1.5 -1.3l1.5 -1.8l1.5 -2.3l8.5 -14.6l8.5 -12.9l2.5 -2.9l2.5 -2l1.5 -.9l3 -.9l2.5 -.4l2 0l2 .3l3 .8l2.5 1.2l6 3.8l2.5 2l5 4.9l6.5 5.9l1.5 2l2.2 4.1"/>
<path stroke="#CD0BBC" d="M413 335.4l5.5 -1.9l7.5 -4l7 -2.8l3.5 -2l.5 -.5l4.5 -2.2l1 -.2l1 -.4l1 0l2.5 -1l1 0l1 -.6l.5 0l.5 -.4l.5 0l.5 -.5l1 -.3l.5 -.5l2 -.4l.5 -.4l1 -.2l.5 -.3l2.5 -.2l.5 -.4l.5 -.1l.5 .3l.5 -.3l2 -.4l.5 -.4l.5 .1l.5 -.4l.5 0l.5 .4l.5 -.6l.5 .3l1 -.2l1 .4l.5 -.3l.5 .4l1 .1l1 .7l1.5 .5l1 .7l.5 0l1.5 1l.5 .6l.5 0l1 .8l.5 -.2l.5 .5l.5 0l.5 .4l1 -.1l1.5 1.1l.5 -.3l.5 .2l.5 .7l.5 .3l.5 -.1l1 1.2l1 .2l.5 .6l.5 -.3l1 1.2l1.5 .5l.5 .6l.5 0l.5 .4l.5 -.3l.5 .6l1.5 .4l1 .9l1.5 -.1l.5 .8l1 .2l.5 .6l.5 -.2l.5 1.2l.5 -1.1l.5 1.3l.5 .6l1 .2l.5 .7l.5 -.4l1 .8l1.5 .7l.5 -.3l1.5 1.6l.5 -.1l.5 -.4l.5 .6l1 -.6l.5 .9l.5 -.2l.3 .2"/>
<path stroke="#DF536B" d="M98.4 338.3l4.5 -.8l2.5 -.6l11 -4.3l1.5 -1.2l2 -2.3l5.5 -7.7l2 -1.7l1.5 -.8l.5 0l1 .4l2.5 2.1l3 1.8l12.5 4.8l3.5 1.6l1.5 .3l1 -.1l1 -.6l.5 -.8l2.5 -8.3l1 -4l1 -6.4l.5 -5.1l1.5 -20.2l3.5 -54.2l3 -60.5l1 -16.5l2 -22.9l1 -8.4l1 -5.8l1 -4.2l1 -3.2l1.5 -2.8l3 -4.2l3.5 -4.1l5.5 -4.7l4.5 -3.2l1.5 -.9l1.5 -.6l1.5 -.2l1 .2l1.5 .7l2 2.5l1.5 2.9l1.5 3.9l4.5 15.4l1.5 4.3l1.5 3.5l.5 .8l1 .6l.5 0l.5 -.3l.5 -.5l1.5 -2.8l2.5 -7.7l4 -11l2.5 -5.1l2 -3.1l1 -1l2 -1.3l1.5 -.7l1 -.1l1 .2l1 .5l2.5 2.5l1.5 2.3l1 2.1l1.5 4.1l1 3.8l2 10.5l7.5 45.7l2 8.5l1.5 5l.5 1l.5 .6l1.5 .1l1.5 -.4l2.5 -1.2l4 -3.1l2.5 -1.7l1.5 -.7l1.5 -.3l1.5 .1l1.5 .6l1.5 1l2 1.9l1 1.5l1 2.1l3 8.3l4.5 17.5l3.9 13.4"/>
<path stroke="#2297E6" d="M312.8 308l4.5 -1.4l2 -.9l1.5 -1.1l2 -2.1l1.5 -2.2l2.5 -4.3l9.5 -17.6l6.5 -10.7l2 -2.6l2.5 -2.5l2 -1.5l2.5 -1l3 -.6l3.5 .2l4 .9l3 1.6l6 4.1l4.5 3.9l5 5.3l4 3.6l1.5 2l1.7 3"/>
<path stroke="#28E2E5" d="M413 334.5l9.5 -5.6l7 -3l4.5 -2.5l.5 -.1l.5 -.5l1 -.3l1.5 -1l1 -.1l.5 -.5l1 -.1l1 -.6l4 -1.6l1 -.7l1.5 -.5l1.5 -1.1l1.5 -.2l1 -.5l.5 .1l.5 -.4l.5 .1l.5 -.3l.5 .1l1.5 -.4l.5 -.4l.5 .2l.5 -.3l1 .1l1.5 -.7l.5 0l.5 -.3l3 -.5l1 -.5l.5 .2l1 -.1l2.5 .3l.5 -.1l.5 .1l1 .7l1.5 -.1l.5 .4l.5 -.1l.5 .5l.5 -.2l.5 .5l1 .3l.5 .6l.5 -.6l.5 .8l1 .3l2.5 1.2l.5 .8l.5 .3l.5 -.1l.5 .4l.5 -.1l.5 .9l.5 -.2l1 1.2l.5 -.2l.5 .6l.5 -.1l1.5 1.2l1.5 .5l1 .7l.5 -.4l.5 .9l.5 -.4l.5 .8l1 .2l.5 .5l.5 0l1 .7l.5 -.1l1 1.2l.5 0l1.5 1.1l.5 .1l1 1.2l.5 -.3l1 .5l1.5 1.6l.5 -.5l1 .5l1 .9l.5 -.3l.5 .6l1 .2l1.5 1.1l1 .4l.5 -.3l.5 .4l.3 .6"/>
<path stroke="#F5C710" d="M98.4 343.1l3.5 -.1l2.5 -.3l8.5 -1.8l3 -.9l2 -1.1l1.5 -1l6.5 -5.9l2 -1.1l1 -.4l1.5 .4l3.5 1.9l2 .8l7 1.7l7 .9l5 1.5l1 0l1.5 -1l.5 -.4l.5 -.9l2 -7l1 -5.7l1 -7.5l1.5 -15.9l2 -29.8l4 -73.8l.5 -6l1 -8.4l.5 -3l1 -3.9l1.5 -4.2l1 -2.1l1.5 -2.5l2 -2.6l2 -1.9l2 -1.4l6 -2.7l6.5 -3.7l1 -.3l1.5 -.2l2.5 .5l1.5 1.7l3 5.1l3 6.3l5 11.3l1 1.6l.5 .3l.5 -.2l1 -1.4l2 -4.8l2.5 -7.3l1 -2.2l4 -7.4l2 -3.1l2 -2.2l4 -2.3l2.5 -.6l1.5 .8l2 2.2l1.5 2.3l1.5 3.3l1.5 4.3l1.5 5.4l5 24.6l2 7.6l1.5 4l2.5 3l1.5 1.1l1 .3l1 0l1.5 -.4l6.5 -3.3l2.5 -.8l1.5 .1l2 .6l2.5 1.2l2 1.6l1.5 1.7l1.5 2.3l3 6.3l2 5.4l6.4 19.4"/>
<path stroke="#DF536B" d="M312.8 322.4l3 -.6l4 -1.3l3 -1.4l2 -1.5l3.5 -4.5l3.5 -5.9l2.5 -3.6l7.5 -9.2l4.5 -4.6l2 -1.8l1.5 -.8l3 -.9l2 .1l2.5 .5l4.5 1.3l2 .8l2.5 1.6l4.5 3.3l5.5 4.4l4.5 2.3l2 1.9l2 2.7l1.5 2.9l1.7 3.9"/>
<path stroke="#CD0BBC" d="M413 340.5l6 -1.4l3 -1.3l3 -1.7l4 -1.7l3.5 -.7l3 -1l.5 -.5l1 -.2l1 -.7l.5 0l3.5 -1.5l1 -.3l.5 .1l2 -.7l.5 .1l2 -.4l2.5 -1.1l.5 0l1 -.7l1.5 -.4l.5 -.5l.5 .1l2 -.6l.5 -.5l.5 .4l4 -.9l.5 .2l.5 -.5l.5 .2l1 -.6l2 -.1l.5 -.5l.5 -.1l.5 .3l.5 -.2l1.5 .1l.5 .2l.5 -.1l1 .5l.5 -.1l1 .5l.5 -.1l.5 .5l1 .3l1 1.1l.5 .1l1.5 1.3l.5 -.3l.5 .8l1 .7l.5 .3l.5 -.3l.5 .5l.5 0l.5 .8l.5 .4l.5 -.2l.5 .5l1 .1l.5 1.2l.5 -.1l.5 .9l.5 .3l.5 -.2l.5 .6l.5 .2l.5 .7l2 1.2l.5 .6l.5 -.3l.5 .2l.5 .5l.5 -.2l.5 .5l1.5 .7l.5 -.3l1 .4l.5 .4l1.5 0l2 1.1l.5 -.4l1 1.3l1 -.3l.5 .7l.5 -.7l.5 .9l.5 .3l.5 -.4l1 .5l.5 -.4l.5 .6l.5 -.4l.5 .6l.5 -1l.5 .7l1 .3l.8 -.1"/>
<path stroke="#61D04F" d="M98.4 341.1l3.5 -1.1l7 -1.4l8.5 -3.1l2 -1.4l2 -1.9l5.5 -6.5l1.5 -1.3l1 -.5l.5 0l1 .4l4.5 2.9l2.5 1.1l8 2.3l5.5 2.3l1.5 .5l1 0l1.5 -.6l.5 -.6l2 -4.6l1.5 -4.7l1 -5.2l2 -19.9l2 -26.5l1.5 -22.9l4 -73.3l1 -10.9l1.5 -12.2l1 -5.1l1 -3.7l1 -2.8l1 -2.1l2.5 -3.3l5.5 -6.7l3.5 -3.5l3 -2.2l4 -1.8l2.5 -.7l2.5 0l.5 .2l1 .9l2 3.2l2 4.5l5 15.3l2.5 6.7l1 1.8l.5 .4l.5 .1l1 -.8l1.5 -2.3l1 -2l2 -5.3l2 -4l3 -5.3l3.5 -5.1l1 -1l2 -1.5l1.5 -.9l1 -.3l1 -.1l1 .3l2 1.6l2 2.4l1 1.6l1.5 3.4l1 3l1.5 5.9l5 25.5l2.5 11.2l1 3.6l2.5 5.7l1 1.4l.5 .2l1 -.3l9.5 -5.2l2 -.9l1.5 -.4l1.5 .1l1.5 .6l1.5 .9l1.5 1.5l1.5 1.8l1.5 2.4l3.5 8.6l8.4 28.7"/>
<path stroke="#61D04F" d="M312.8 314.4l3 -.9l3.5 -1.6l3 -2l2 -1.9l4 -5.3l7.5 -12.5l7.5 -10.9l3.5 -4l2 -1.9l2 -1.3l2 -.7l1.5 -.2l1.5 0l6 1.1l1.5 .5l2 1.2l3.5 3l7.5 7.6l4.5 3.4l3 2.7l2 2.6l2.2 3.9"/>
<path stroke="#28E2E5" d="M413 332.6l13 -7.5l5.5 -2.6l.5 -.4l1.5 -.5l1.5 -1l.5 0l1 -.8l1.5 -.8l.5 -.1l1 -.8l.5 -.1l1 -.7l3 -1.5l.5 0l1 -.7l1 -.2l2.5 -1.2l1.5 -.3l.5 -.4l.5 0l1 -.7l.5 .2l.5 -.4l.5 -.1l.5 -.4l2 -.3l.5 -.2l.5 .1l.5 -.4l.5 .2l2 -.3l2 -.6l.5 .3l.5 -.5l.5 .2l.5 -.4l2 .1l1 -.5l.5 .3l1.5 .2l1 -.1l.5 .3l1 -.1l1 .8l.5 -.4l.5 -.1l1 .9l.5 -.1l1.5 1.2l1 -.1l.5 .7l.5 -.3l1 .9l1.5 .7l.5 .1l1.5 1l1 .1l.5 .9l1 0l.5 .7l2.5 1.3l.5 .7l.5 -.1l1.5 1.3l.5 0l.5 .6l1 .3l1.5 .7l1 1.4l.5 -.4l.5 .1l.5 .9l1 -.1l1 .7l1 .2l.5 1l.5 -.1l.5 .7l.5 -.6l1 1.8l1.5 .8l.5 -.1l.5 .9l.5 -.3l.5 .7l.5 -.2l.5 0l.5 .8l1 .7l1 .4l.5 -.3l.8 1.7"/>
<path stroke="#28E2E5" d="M98.4 337l3 -1.1l4.5 -.8l2 -.5l2 -.9l3.5 -2l3.5 -1.7l3.5 -3.8l5.5 -8.8l2 -2.3l1.5 -1l1 .2l3 2.5l3 2l3 1.2l4 .9l2 .7l2 1.1l3.5 2.5l1.5 .8l1 .1l1 -.6l1 -1.2l.5 -1.3l1.5 -8l2 -8l1 -7.9l.5 -6.4l5 -85.4l3.5 -75.5l2.5 -33.8l1 -10.3l1.5 -9.4l1 -4l1 -2.7l2 -2.3l6.5 -4.8l2 -1.2l1.5 -.6l1.5 -.4l1.5 -.1l5.5 .1l2 .2l1.5 .5l1.5 1.4l1 1.4l1 2.1l2 6.1l4.5 18.6l1.5 5l1 2.8l1 1.9l1 .9l.5 .1l1 -.2l1.5 -2l7 -19.6l3 -6.1l2 -3.2l1.5 -1.5l1.5 -1.2l1 -.4l1 -.1l1 .3l1.5 .9l2 1.7l1 1.1l1.5 2.6l1 2.2l1.5 5.9l4.5 26l5 33.1l2 10l1 4.1l.5 1.3l.5 .4l1 -.4l4.5 -2.5l7 -5.2l1.5 -.9l1 -.4l1 0l1.5 .7l1 .9l1.5 1.8l1.5 2.2l1 2.1l1.5 4.4l2 7l1.5 6l3.5 16.6l3.9 15.3"/>
<path stroke="#CD0BBC" d="M312.8 306.1l3 -1.1l3.5 -1.5l1.5 -1.2l2 -2l2 -2.9l3.5 -5.9l8.5 -16.9l6.5 -11.3l2 -2.6l2.5 -2.6l2 -1.4l2.5 -1l3 -.5l3 .1l4 .5l2 1l5 4.4l11 11.3l4.5 3.6l1.5 1.7l1.7 2.6"/>
<path stroke="#DF536B" d="M413 330.9l9 -6.1l6.5 -3.3l2.5 -1.5l.5 -.1l4.5 -3l2.5 -1.2l5.5 -1.8l1.5 -.8l1.5 -.1l.5 -.5l1 -.4l1 -.8l.5 .2l1 -.5l1 0l.5 -.5l1.5 -.1l.5 -.4l1 -.2l1 0l.5 -.6l.5 -.1l.5 .4l1 -.7l.5 .1l1 -.6l1 -.2l1.5 -.6l.5 -.5l.5 .2l.5 0l.5 -.4l1 -.1l.5 -.2l.5 .1l.5 -.2l1 .4l.5 -.4l1.5 .6l.5 .5l.5 -.3l1 .7l.5 0l.5 .3l.5 -.1l1.5 .6l.5 -.1l1 .6l1 -.1l1 1l.5 .1l.5 -.2l1.5 .7l1 .9l1.5 .6l.5 -.1l1.5 1.2l2 .9l.5 .6l1 .3l1.5 1.1l1 .2l2 1.7l.5 -.4l.5 .9l.5 .2l.5 .6l.5 -.3l.5 1l.5 0l1 1.6l1 0l.5 .8l.5 0l.5 .7l1.5 1.1l.5 1l1 -.3l.5 1l.5 -.2l.5 .6l1.5 .8l.5 0l1.5 1.1l.5 .7l1.5 .4l.8 .7"/>
<path stroke="#F5C710" d="M98.4 337.2l3.5 -1.4l2 -.6l2 -.3l3.5 0l1.5 -.3l2 -.8l1.5 -.8l2 -1.6l1 -1.1l8 -10.8l2.5 -2.2l1.5 -.8l.5 0l1 .5l6.5 4.8l3 1.6l2 .4l3.5 -.2l2 .3l1.5 .8l3 2.2l1.5 .6l1 -.4l.5 -.5l.5 -1.3l1 -5l2.5 -9.8l1 -7.4l.5 -5.9l5 -81.5l3.5 -73.2l3 -38.2l1.5 -10.8l1 -4.8l1 -3.8l.5 -1.4l1 -1.7l1 -1.2l1.5 -1.3l5 -2.6l5 -3.6l2.5 -1.2l2 -.4l2.5 0l3 .7l1.5 1l1 1.1l1 1.6l2 5.4l1 3.4l4.5 18.5l2 6.4l1 2.3l.5 .6l1 .5l.5 -.1l.5 -.6l1.5 -2.8l2.5 -7.6l4 -10.6l2 -4l2.5 -4l1 -1.2l2 -1.9l2 -1.2l1 0l1 .4l2 1.9l2.5 3.3l1.5 2.7l1.5 3.6l1 3.9l4 22.3l5.5 33.8l2.5 10.9l1 2.9l.5 .6l1 -.3l1 -.6l2.5 -1.9l4.5 -3.9l5.5 -3.9l1.5 -.8l1 -.2l1.5 .3l1 .7l1.5 1.5l1 1.7l1 2.5l3.5 11.8l4.5 20.1l3.9 14.7"/>
<path stroke="#F5C710" d="M312.8 302.5l6.5 -2.9l1.5 -1.2l2 -2.2l6.5 -11.3l12 -24l2.5 -4.6l1.5 -2.2l2.5 -2.7l2 -1.4l2.5 -1.2l2.5 -.7l2.5 -.1l3 .7l2 .8l1 .6l2 1.8l6 6.2l9 10l1.5 1.2l3.5 2l1.5 1.6l1.2 1.6"/>
<path stroke="#28E2E5" d="M413 334.1l6.5 -3.8l8.5 -4.5l5.5 -3.1l8.5 -3.1l1.5 -.8l1.5 -.5l.5 -.6l.5 .2l.5 -.7l2 -.6l.5 -.4l.5 0l.5 -.5l.5 .1l1.5 -.8l.5 .1l1.5 -.7l2 -.3l.5 -.4l1.5 -.4l1 0l2 -1.1l.5 .1l1.5 -.4l1.5 .2l.5 -.3l.5 .1l.5 -.2l2 .4l1.5 0l1 .5l1.5 0l.5 .2l1 .1l1.5 .6l.5 -.1l.5 .4l1.5 .3l1 .9l.5 -.3l2.5 1.8l.5 .2l.5 -.1l.5 .9l.5 -.1l1 1.1l1.5 .7l.5 -.2l.5 .5l2 1.1l.5 .4l.5 .1l.5 .7l.5 -.1l1 1.2l1 -.2l1 .9l.5 0l.5 .7l1 .2l.5 .4l.5 .7l.5 -.7l.5 .9l1 1l1 -.2l.5 .6l1 .6l.5 -.1l.5 .6l.5 -.1l1 1l.5 -.4l1 .5l.5 1.1l.5 -.2l1.5 1l1 -.1l1.5 1.3l1 .5l.3 -.3"/>
<path stroke="#CD0BBC" d="M98.4 339.9l5.5 -.5l6.5 -1.9l4.5 -.3l1.5 -.4l1.5 -1l2 -2.2l6 -8.5l1.5 -1.3l1.5 -.6l1 .2l3 2.5l2.5 1.6l9 3.4l2.5 .6l5 .1l4 -.2l.5 -.9l2 -5.1l1 -3.6l1 -5.5l1 -9.3l1 -11.9l3.5 -51.3l4 -74.9l1 -11.4l1.5 -13.7l1.5 -8.2l1 -3.7l1.5 -4.1l3 -5.4l2 -3.1l2 -2.3l1.5 -1.1l5.5 -2.3l4.5 -2.6l1.5 -.7l1 -.1l1 .1l1 .4l1 .7l1 1.4l1 1.8l2.5 5.8l1.5 4.4l4 13.7l2.5 7.1l1 2.2l.5 .6l.5 .3l.5 .1l.5 -.2l.5 -.6l1.5 -2.7l2.5 -7.1l3.5 -8.3l2.5 -5.3l2.5 -4.2l1 -1.1l2 -1.6l1.5 -1l1.5 -.6l1 -.2l1 .2l1 .6l1.5 1.2l1.5 2l1 1.9l1.5 3.7l1 3.3l1.5 6.6l7 36.3l1 4.1l2.5 6.8l.5 .8l.5 .5l.5 .1l2 .2l1.5 -.2l2 -.8l4 -2.7l2 -1.1l1.5 -.5l1 -.1l1.5 .3l2.5 1.1l1.5 1l2 1.7l1 1.4l1 2l3 8l4.5 16.9l3.9 13.7"/>
<path stroke="#DF536B" d="M312.8 312.7l4 -1.3l2.5 -1l2 -1.4l1.5 -1.4l1.5 -1.9l2 -3.1l6 -10.6l3 -5l7.5 -11l2.5 -3l2.5 -2.3l2 -1.3l2.5 -.8l2 -.4l2 0l2.5 .4l3 .8l2.5 1.2l6.5 4.4l4.5 3.7l8.5 7.8l2 2.7l2.2 4.2"/>
<path stroke="#61D04F" d="M413 336.5l4.5 -2l7 -4.3l3.5 -1.3l3 -.9l4.5 -2.3l1 -.3l.5 -.5l1 -.5l2.5 -.7l.5 -.4l.5 0l.5 -.4l1 0l2 -.6l1.5 -.9l.5 .1l4 -2l.5 0l.5 -.2l.5 0l1 -.6l.5 .2l1 -.2l1 -.5l.5 .2l.5 0l1 -.3l.5 .1l.5 -.3l.5 .3l1 -.6l.5 .1l1 -.3l2.5 -1.1l1 0l.5 -.6l.5 .4l.5 -.4l.5 .3l1 -.4l.5 .4l.5 -.2l2 .8l.5 .1l.5 -.2l.5 .4l.5 -.2l.5 .6l.5 .2l.5 .6l2 .4l2 1.6l.5 .1l2 1.2l.5 0l.5 .7l.5 0l.5 .5l.5 0l1.5 1.7l.5 .1l1 .8l.5 0l.5 .6l1.5 1.2l1.5 .2l1 1.3l1.5 -.4l1.5 .8l.5 0l.5 1l1 -.3l1 .7l1 .2l.5 1.1l.5 -.3l.5 .4l.5 0l.5 .8l.5 -.4l.5 .9l1.5 -.1l.5 .7l.5 .3l.5 -.1l.5 .7l.5 -.4l.5 .5l.5 .2l.5 -.3l.5 .6l.5 0l.5 .3l.5 -.2l.5 .7l.5 -.3l.5 .3l.3 .6"/>
<path stroke="#9E9E9E" d="M98.4 338.9l3.5 -2.1l2 -1l7 -1.7l5.5 -2.8l1 -.8l3 -3.2l2.5 -3.1l2.5 -3.6l2.5 -2.9l1 -.9l1 -.5l1 .2l2.5 1.6l6.5 4.7l2 .9l3.5 .7l2 .7l1.5 .9l3 2.3l1 .4l1 0l1 -.7l.5 -.6l.5 -1.3l1.5 -6.6l2 -7.4l1 -6.9l.5 -5.6l5 -78.1l3.5 -70.7l2 -25.4l1.5 -14.6l1.5 -8.2l1 -3.6l1 -2.6l2 -2.7l4 -3.7l5.5 -5.9l2 -1.8l1.5 -.8l1.5 -.4l7.5 -.7l1.5 .5l1.5 1.5l1.5 2.9l1.5 4.2l5 17.4l2 4.6l.5 .7l1 .4l.5 -.1l1 -1l1.5 -2.8l2.5 -7.9l4 -11.5l3.5 -7.4l2 -3.5l3 -3.7l1 -.8l1 -.3l1.5 .7l2.5 2.7l2 3.2l1.5 3.4l1 2.9l1 4.4l4 23.7l5.5 35.9l2.5 11.7l1 3.2l.5 .5l.5 -.1l3.5 -2.2l4 -2.2l7 -2.2l1.5 -.1l1 .4l1.5 1l1.5 1.7l1.5 2.2l1 2.3l3.5 10.9l4 16.9l4.4 16.1"/>
<path stroke="#28E2E5" d="M312.8 306l5 -1.8l1.5 -.7l1.5 -1.1l2 -2l2 -2.9l4 -6.4l8.5 -16.7l5.5 -9.7l2 -2.6l3 -2.8l2 -1.2l2.5 -1l3 -.5l3 .1l4 .6l1 .4l1.5 .9l4.5 3.8l9.5 10l2.5 2.1l3 1.8l1 .9l2.7 3.6"/>
<path stroke="#F5C710" d="M413 332.6l6 -3.5l4.5 -2.2l8.5 -5.1l4 -1.5l1 -.6l1 0l.5 -.5l1 -.3l.5 -.3l.5 -.1l.5 -.4l.5 -.2l1.5 -.8l.5 -.1l1 -.8l.5 0l1.5 -1.1l.5 .2l1 -.7l.5 -.2l.5 .1l2 -1.1l1 -.2l.5 -.6l.5 .2l1 -.7l1 0l2.5 -1.1l1 -.2l.5 -.4l1.5 0l2.5 -.5l.5 .3l1 -.3l1 .2l1 -.1l.5 .3l.5 -.2l1.5 .1l1.5 .6l2 .1l1.5 .3l.5 .6l1 0l1 .7l.5 -.2l1 .6l.5 .5l.5 .1l.5 .6l.5 -.2l.5 .8l.5 .3l1 .2l1 1.1l.5 -.4l.5 0l1 1.1l1.5 .3l1 .9l.5 -.1l.5 .9l.5 .4l1 -.1l.5 1.3l.5 -.2l1 .7l1 0l1 1.5l1 .3l.5 -.2l.5 .8l.5 -.1l1 1.1l.5 .2l1 -.3l.5 .8l.5 0l1.5 1.2l.5 -.3l.5 .1l.5 .7l.5 -.3l.5 .3l1 1.1l2 .2l.5 1l1 .1l.5 .7l.5 0l.5 .9l.5 -.4l.5 1.2l.5 -.1l.3 .2"/>
<path stroke="#61D04F" d="M98.4 339l9.5 -2.5l9 -3.2l1.5 -1.2l2 -2l5.5 -7.1l2 -1.9l1.5 -.7l1 .3l4 2.9l3 1.7l3 1.2l6.5 2.3l5 2.2l1 .2l1 0l1.5 -.7l.5 -.8l3 -9.1l1 -4.5l1.5 -13.8l2.5 -34.5l2 -30.9l4 -75.5l2 -21.8l1 -7.7l1 -5.4l1 -3.9l1 -3.1l1.5 -2.9l6 -9.1l3.5 -4.4l3.5 -3.6l4.5 -3.4l2.5 -1.3l1.5 -.4l1 0l.5 .1l1 .6l2 2.5l1.5 3.1l1.5 4l4 13.7l1.5 4.3l1.5 3.5l.5 .8l1 .6l1 -.3l.5 -.5l1.5 -2.6l2.5 -7.2l3.5 -8.8l2.5 -5l2.5 -4l1 -1.2l2 -1.5l1.5 -.8l1 -.3l1 .1l1 .4l2.5 2.4l1.5 2l1 1.9l1.5 3.6l1 3.5l2 9.7l7.5 42.8l2 7.9l1.5 4.7l.5 .9l.5 .4l2 -.7l3 -1.7l6.5 -4.8l1.5 -.8l1.5 -.6l1.5 -.1l1.5 .5l1.5 .9l2 1.9l1 1.3l1.5 3.1l3 8.7l4.5 17.9l3.9 14"/>
<path stroke="#2297E6" d="M312.8 312.7l3 -1l4 -1.8l2.5 -1.7l2 -2.1l4 -5.7l7 -12.4l8.5 -13.2l2.5 -3.2l2 -2.1l1.5 -1.1l2 -.8l2 -.3l2.5 .3l5.5 1.5l2.5 1.3l15.5 12.3l3 2.7l2.5 2.7l2.7 4.6"/>
<path stroke="#61D04F" d="M413 337.6l7.5 -3.1l8.5 -2.8l2 -.8l1 -.8l1.5 -.6l1.5 -.7l.5 -.5l2 -1l.5 -.1l2 -.9l1.5 -.9l.5 .1l5 -2.2l.5 0l.5 -.5l.5 .1l1 -.6l2 -.3l1 -.7l.5 .2l1 -.2l.5 -.4l.5 .1l1 -.5l1 .1l.5 -.6l.5 .5l.5 -.3l.5 0l1 -.7l.5 .1l.5 -.5l.5 .4l1.5 -1l.5 .2l.5 -.1l.5 -.4l1 -.2l2 .3l1 .5l1 -.2l1 .8l.5 -.1l.5 .2l.5 -.1l.5 .6l.5 .1l.5 -.1l.5 .3l.5 .1l1.5 1.2l3 1.5l.5 .5l.5 .2l.5 0l1 .9l1.5 .6l1.5 1.1l1 .2l1 1l.5 .1l.5 .6l.5 .3l.5 -.3l.5 .6l1 .2l1 .6l.5 -.1l.5 .9l1 .2l1 .7l1 .2l.5 .5l.5 -.3l.5 1l.5 -.1l.5 .5l.5 -.1l2 1.5l1 -.3l.5 1l.5 -.2l.5 .5l.5 .2l.5 -.3l.5 .2l.5 -.2l.5 .6l.5 -.4l.5 1l1.5 -.1l1 .2l.5 -.6l.5 .8l.5 .1l.5 .5l.5 -.4l.8 .7"/>
<path stroke="#CD0BBC" d="M98.4 336.7l12.5 -3.4l3 -1.1l2 -1.1l1 -.9l1 -1.4l7.5 -11.4l2 -1.6l1.5 -.6l1 .1l.5 .3l2.5 2.1l1.5 1.1l4.5 2.7l2.5 1.2l2 .5l5 .9l4 2.4l1 .4l.5 .1l1 -.3l.5 -.4l.5 -1.1l1 -4.9l1.5 -5.4l1 -4.4l1 -7.3l.5 -6l5 -81.4l3.5 -73.2l2.5 -32.9l1 -9.8l1 -6.6l1 -4.8l1.5 -5.2l1 -1.8l1.5 -2.1l2 -1.8l6 -3.9l5 -3.9l3.5 -1.9l1.5 -.4l1.5 0l1.5 .2l1 .5l1.5 1.3l1 1.3l1.5 3.4l1.5 4.4l4 15.4l1.5 4.8l1 2.6l1 2l.5 .6l1 .5l.5 -.2l.5 -.6l1.5 -3l6.5 -21.4l2 -4.6l2.5 -4.4l1 -1.1l2 -1.6l1.5 -.8l1 -.1l1 .2l1 .7l2.5 2.9l2 3.5l1.5 3.8l1 3.1l1 4.5l4 24.9l5.5 37.6l2 10l1.5 5.4l.5 .8l1 .2l1.5 -.3l1.5 -.6l1.5 -.9l4 -3.2l2.5 -1.5l2 -1.1l2 -.7l1 0l1.5 .5l1.5 1l1.5 1.5l1 1.8l1 2.6l3 9.6l4.5 19.5l3.9 14.1"/>
<path stroke="#28E2E5" d="M312.8 308.7l4.5 -1.5l2 -.8l1.5 -1.1l2 -2.1l2 -3l3.5 -6l8 -14.6l6.5 -11.2l1.5 -2.1l2 -2.1l2 -1.6l1.5 -.7l3.5 -.8l2 .1l1.5 .3l6.5 2.6l7.5 4.3l3.5 2.8l6 5.8l4 3.4l1.5 1.8l2.2 3.8"/>
<path stroke="#CD0BBC" d="M413 330.9l7 -3.5l4 -2.6l2 -1.5l3.5 -2.1l7 -3.3l3 -1.7l2 -.9l1.5 -.3l.5 -.4l.5 .2l.5 -.4l2.5 -.9l.5 .2l.5 -.5l.5 0l2.5 -1.1l.5 -.5l.5 0l2 -1.1l.5 -.5l.5 .2l.5 -.5l.5 .2l.5 -.3l.5 0l.5 -.4l1 -.1l.5 -.3l1.5 .4l.5 -.5l.5 .3l.5 -.3l1 .1l1.5 -.4l3.5 -.5l1.5 .4l.5 -.3l2 .8l1 -.2l.5 .6l2 .3l.5 .4l.5 0l2 1.2l.5 -.2l1.5 .9l.5 -.2l.5 .5l1 .1l.5 .6l.5 -.3l.5 .5l.5 .1l1 .7l.5 .7l.5 -.5l.5 1l.5 -.2l.5 .2l.5 .8l.5 .3l.5 .6l.5 .1l.5 .5l.5 -.1l.5 .6l1 .4l1 1.5l.5 -.4l.5 .6l.5 -.1l.5 .6l.5 -.3l.5 .8l1 -.1l.5 .2l.5 .8l.5 .1l.5 -.1l.5 .3l1 .6l1 1.6l1 -.1l.5 .7l1 .3l.5 .6l.5 -.4l1 2.1l.5 -.8l1 1.1l.5 -.2l.5 .4l.5 1l.5 -.2l1 .2l.5 1l.3 .2"/>
<path stroke="#000000" d="M98.4 339.7l1.5 0l1.5 -.3l1.5 -.7l3.5 -2.1l2 -1l1.5 -.4l4.5 -.8l2 -.9l2 -2.1l6.5 -8.2l2 -1.5l2 -.9l1.5 .1l2.5 1.1l4 1.2l6.5 3.9l2 .7l3.5 .7l4.5 2.2l.5 .1l1 -.1l.5 -.4l.5 -1l1 -3.7l1.5 -4.1l1.5 -6.6l1.5 -14.3l4.5 -66.6l3 -59.4l1 -16.6l2 -22.2l1 -8.1l1 -5.5l1.5 -5.6l1 -2.6l2 -3.6l2 -2.9l2 -2.4l4.5 -4.2l4.5 -4.9l2 -1.6l1.5 -.7l1 -.1l1 .2l1.5 .7l2.5 1.9l2.5 3.6l1.5 3.2l1.5 4.2l4 14.3l2 6.1l1.5 3.5l1 1l.5 0l.5 -.2l1 -1.4l1 -1.9l2.5 -7.3l3.5 -8.5l1.5 -2.9l2.5 -3.6l1.5 -1.6l4 -3.3l1.5 -.9l1 -.3l1 .3l2 1.6l1.5 2.2l1.5 3.1l1.5 4.2l1 3.9l1.5 7.4l7.5 41.9l2.5 9.3l1.5 4.3l.5 .8l.5 .1l1.5 -.5l2 -1.4l5 -4.9l1.5 -.8l1.5 -.5l2.5 0l3 .9l2 1.1l2 1.7l1 1.6l1 2.2l3 8.6l4.5 17.3l3.9 12.9"/>
<path stroke="#000000" d="M312.8 311l7 -2.8l2 -1.4l1.5 -1.6l1.5 -2.1l2 -3.3l8.5 -15.9l7.5 -12.6l1.5 -2l2 -2.1l2 -1.6l1.5 -.6l4 -.9l4 -.2l4 .6l2.5 1.2l6.5 4.5l3.5 3.1l6 6.5l4.5 4.3l1.5 2.1l1.7 3.1"/>
<path stroke="#000000" d="M413 333.5l11.5 -7l8 -3.2l1 -.8l1.5 -.6l2.5 -1.6l1 -.4l1 -.8l6 -2.7l.5 .3l.5 -.8l1.5 -.6l1 -.6l2.5 -.7l.5 -.3l1.5 -.3l.5 -.3l1.5 0l1 -.4l.5 .3l.5 -.6l.5 .5l.5 -.3l1 .1l.5 -.4l.5 .2l.5 0l.5 -.5l.5 -.2l.5 .1l4.5 -1l.5 .3l1 -.4l.5 .3l1 0l.5 .2l.5 -.2l1.5 .8l1.5 .3l.5 .5l.5 -.5l1 .8l.5 0l.5 .5l1 .2l.5 .7l.5 0l1 .7l.5 -.2l.5 .2l.5 1l.5 -.7l.5 .7l1 .3l1 .7l.5 .8l.5 -.3l1 .8l.5 .8l1.5 .3l.5 .7l1 .5l.5 0l1 .3l.5 .4l.5 -.1l1 1.3l.5 -.4l.5 -.1l.5 .7l.5 0l1.5 1.1l.5 .2l.5 -.2l.5 .4l.5 1.1l.5 -.5l1.5 1.1l1 1.3l.5 -.4l.5 1.1l.5 0l.5 .6l.5 -.2l.5 .3l.5 .5l1.5 .8l.5 .5l.5 -.5l1 1.5l.5 -.1l.5 .2l.5 .6l.5 .1l.8 .7"/>
<path stroke="#000000" d="M98.4 341.4l3 -.6l5 -.6l2 -.4l2.5 -.9l6 -2.8l3.5 -2.4l2 -1.9l4 -4.4l2 -1.6l1 -.4l.5 0l1 .4l4 2.5l2 .9l2.5 .8l4.5 .6l2 .5l2.5 1l3.5 2l1.5 .5l1 -.1l1 -.4l.5 -.7l2 -4l1.5 -4.7l1 -5l1 -8.2l1 -10.4l2 -25.9l1.5 -23.1l4 -73.4l1 -10.9l1.5 -11.9l1 -5l1 -3.8l1 -2.9l1 -2.2l2.5 -3.4l8 -9.8l2.5 -2.6l2.5 -1.8l3 -1.6l2.5 -.6l1.5 0l1 .2l.5 .2l1 1l1.5 2.4l2 4.3l2 5.5l4.5 13.9l2 4.9l.5 .7l.5 .4l.5 0l.5 -.4l1 -1.3l1.5 -2.8l2.5 -6.7l2.5 -5.1l4 -7.1l2.5 -3.5l3.5 -3l1 -.6l1.5 -.4l1 .1l1 .4l2.5 2.1l1 1.2l1.5 2.7l1 2.4l1 3.3l1.5 6.4l4.5 22.9l2.5 11.4l1 3.7l2.5 6.1l1 1.6l.5 .4l1 -.2l2 -.9l8 -4.5l1.5 -.7l1.5 -.3l1.5 .1l1 .3l1.5 1l1.5 1.5l2 2.7l1.5 2.7l3.5 8.9l8.4 28.7"/>
<path stroke="#000000" d="M312.8 317l7 -1.9l2 -1.1l2 -1.6l1.5 -1.7l3 -4.1l3.5 -5.7l7.5 -11.4l3.5 -4.8l2.5 -2.6l3 -2.3l1.5 -.7l3.5 -1.2l2 -.1l1.5 .1l5.5 1.4l3 1.4l3.5 2.1l2.5 2l6 6l4 2.5l2.5 2l2 2.6l2.2 4.3"/>
<path stroke="#000000" d="M413 337l6 -2.8l8 -2.8l2.5 -1.4l3.5 -2.4l2 -1.1l.5 0l.5 -.4l6.5 -2.1l2 -.9l2.5 -1.3l3 -.9l.5 -.3l1 -.1l1 -.5l.5 .1l1 -.5l1 0l.5 -.3l1.5 -.4l1.5 -.7l.5 0l.5 -.5l.5 0l.5 -.4l1 0l.5 -.4l.5 .3l1 -.6l1.5 -.3l.5 .3l1.5 0l1.5 1.2l.5 -.5l.5 .6l.5 -.5l1 .7l.5 -.2l.5 .3l1.5 .2l1 .5l.5 0l1 .6l.5 -.1l.5 .5l.5 .1l.5 .7l.5 .3l1.5 .4l.5 .9l1 .2l3 2.3l.5 -.2l2 1.4l1 0l.5 .8l.5 -.3l.5 .7l.5 -.3l.5 1l1 0l.5 .6l.5 .1l2 1.2l.5 .7l2.5 .6l.5 .7l.5 -.2l.5 .8l.5 -.1l.5 .9l.5 -.6l1 .4l.5 .5l1 .2l.5 -.2l.5 .5l.5 -.2l.5 .6l.5 -.3l1 .7l.5 -.3l.5 .1l.5 .5l.5 .1l1 .7l1 .3l.5 .5l.5 -.3l.3 .7"/>
<path stroke="#28E2E5" d="M98.4 342.4l6.5 -1.7l6 -1.3l4 -1.6l3.5 -2l3 -2.3l4.5 -4.1l2.5 -1.8l1 -.4l1.5 .2l5 2.3l4.5 1.9l7.5 1.4l5 2.5l1 .3l1 -.1l.5 -.2l2.5 -4.1l1 -2.8l1.5 -6.5l1 -7.6l1.5 -15.4l1.5 -19.3l1.5 -23.1l4 -73.4l1 -10.7l1.5 -11.2l1 -4.5l1 -3.4l1.5 -3.8l1 -1.7l2 -2.6l2.5 -2.6l7.5 -7l2.5 -1.9l2.5 -1l2.5 -.2l1.5 .3l2 .7l.5 .3l1 1l2 3.4l1.5 3.1l1.5 3.7l4 11.8l2 5.3l1 2.2l.5 .7l.5 .4l.5 -.1l.5 -.4l1 -1.6l2 -4.3l2 -5.5l2 -3.9l3 -4.9l3 -4.1l1 -1l2.5 -2.1l2.5 -1.6l1 -.2l1 .2l1.5 1.1l2 2.3l1 1.6l1.5 3.1l1.5 4.2l1.5 5.7l4.5 22.6l2.5 10.8l1.5 4.9l2 3.8l1.5 2.2l.5 .5l.5 0l2 -.8l3.5 -2.5l2 -1.1l2 -.9l2.5 -.7l2 -.1l2 .4l2 1l1.5 1.2l1.5 1.8l1.5 2.4l3.5 7.8l8.4 26.1"/>
<path stroke="#DF536B" d="M312.8 318.8l3 -.6l3 -1.1l3 -1.8l2 -1.6l1.5 -1.7l2.5 -3.7l4 -7.3l3 -4.8l2.5 -3.4l3 -3.7l3 -3.3l4.5 -4.2l2 -1.2l3 -1l3 .1l6 .9l2 .7l2.5 1.5l9.5 7.5l4.5 3l1.5 1.3l1.5 1.7l1.5 2.1l1.5 2.8l1.7 3.9"/>
<path stroke="#F5C710" d="M413 337.4l4 -1.6l7 -4l2 -.9l3.5 -.9l3.5 -1.3l1.5 -.6l2.5 -1.4l1.5 -.6l1 -.6l1 0l2.5 -1.1l2.5 -.6l2 -1l.5 0l1 -.8l1.5 -.4l1 -.7l1 -.3l1 -.1l.5 -.3l2 -.5l.5 .3l.5 -.4l2 -.1l.5 -.2l.5 .1l1.5 -.7l.5 .4l.5 -.8l.5 -.2l.5 .4l.5 -.7l.5 -.1l1 -.6l.5 -.1l2 .2l.5 -.1l1 .1l2.5 1.2l1 0l.5 .6l.5 0l.5 .2l1.5 1l.5 0l1 .6l.5 .6l1 0l1 1.1l2.5 1l.5 .7l1 0l3 2.7l.5 0l.5 .7l.5 .3l.5 -.2l.5 .3l1 1.2l.5 -.5l.5 .3l.5 -.1l.5 .4l1.5 .8l.5 -.3l.5 .3l.5 -.1l1 .9l.5 -.1l.5 .1l.5 .6l.5 -.3l.5 .9l.5 0l.5 .7l.5 -.2l.5 .1l1.5 1.6l.5 -.7l.5 1.1l.5 .5l.5 -.6l.5 .2l1 1l.5 -.1l1.5 .6l1 .1l.5 -.1l1 .9l.5 -.4l.8 .5"/>
<path stroke="#CD0BBC" d="M98.4 338l5.5 -2.4l7 -1.4l2.5 -1.1l2.5 -1.6l1.5 -1.3l2.5 -3.1l5.5 -7.5l2.5 -2.4l1.5 -.9l.5 -.1l1 .4l7 4.8l2 1.2l2 .7l4 .4l2 .6l1.5 .9l2.5 2l1.5 .7l.5 0l1 -.5l.5 -.5l.5 -1.3l1 -4.9l2.5 -9.6l1 -7.2l.5 -5.8l5 -80l3.5 -71.8l2 -25.9l1.5 -15.1l1 -6.2l1 -4.4l1 -3.4l1 -2l1 -1.3l1.5 -1.3l5.5 -3.7l5 -4l1.5 -.8l2 -.6l2 -.2l2 .1l3 .6l1 .6l1.5 1.7l1.5 2.8l1.5 4.2l4.5 16.9l1.5 4.7l1.5 3.7l.5 .8l1 .7l.5 0l.5 -.3l.5 -.7l1.5 -2.9l2.5 -8l4 -11.4l2.5 -5.4l2.5 -4.4l2 -2.4l1.5 -1.5l1 -.7l1 -.3l1 .2l1 .7l2.5 2.6l1.5 2.3l1.5 3.2l1 2.7l1 4.1l4 23.1l5.5 35.2l2.5 11.5l1 3.1l.5 .7l1 -.3l3.5 -2.2l4.5 -3.1l4.5 -2.2l2 -.7l1 -.1l1.5 .4l1.5 1.1l1.5 1.7l1 1.7l1 2.4l3.5 11.2l4.5 19.4l3.9 14.3"/>
<path stroke="#CD0BBC" d="M312.8 304.7l7 -2.9l2 -1.6l1.5 -1.7l3.5 -5.4l3 -5.2l13.5 -26.5l1.5 -2.2l2 -2.3l1.5 -1.2l1.5 -.8l3 -.7l3 0l5.5 1l2.5 1l5.5 3.8l3 2.4l3.5 3.4l5 5.3l1.5 1.1l2.5 1.4l1 .9l2.2 2.8"/>
<path stroke="#28E2E5" d="M413 333.2l2.5 -1.6l6 -4.4l8 -3.8l5.5 -3.4l.5 0l1 -.6l1.5 -.6l.5 0l.5 -.4l.5 .1l.5 -.5l1 -.1l2.5 -.9l.5 -.5l2 -.9l.5 -.6l.5 0l1.5 -.9l.5 -.1l.5 -.5l.5 .1l3 -1.1l1 .2l2.5 -.4l1 -.6l.5 .2l.5 -.1l.5 -.4l1.5 0l1 -.8l2 -.3l1.5 -.7l.5 .2l.5 -.4l1 .6l1 -.3l.5 0l.5 .8l1 -.1l.5 .3l.5 -.2l.5 0l.5 .3l.5 -.2l1 .6l.5 -.1l.5 .3l.5 0l.5 .3l.5 -.2l.5 .4l.5 -.2l.5 .6l.5 .1l1 .6l1 .2l1 1.3l1 .2l.5 .7l1 .8l.5 .1l.5 .5l.5 0l1 1.2l.5 .1l.5 .5l.5 -.1l1.5 1.1l1 -.1l.5 .7l.5 .1l.5 .5l.5 -.3l1.5 1.2l.5 .1l1 .5l.5 .7l.5 -.2l.5 .6l2 1l1 1.1l.5 -.4l.5 1.1l.5 0l1 1.1l.5 -.3l.5 .4l.5 0l.5 .5l1.5 .8l.5 .6l1 -.1l1 .5l.5 .5l.5 -.1l.5 .5l.5 .2l.5 .9l.5 -.3l.5 1.1l.3 -.3"/>
<path stroke="#28E2E5" d="M98.4 338.7l7 -2.7l8 -2.5l3 -1.4l1 -.9l2.5 -3l5.5 -7.7l2.5 -2.3l1.5 -.9l.5 0l1 .3l10 5.8l2 .8l5.5 1.6l4.5 2.5l1 .1l1 -.5l.5 -.4l.5 -1.2l1 -4.5l2.5 -9.4l1 -6.9l.5 -5.6l5 -78.5l3.5 -71.2l2 -25.9l1.5 -15l1.5 -8.6l1.5 -5.4l1 -2.2l2 -2.9l2.5 -2.7l6.5 -5.8l2.5 -2l1.5 -.8l2 -.6l1.5 -.1l2 .2l3 1.1l1 .9l1.5 1.9l1.5 3.1l1.5 4.3l4.5 17.4l2 6.4l1.5 3.5l.5 .6l1 .4l.5 -.1l.5 -.5l1.5 -2.4l2.5 -7.3l4 -10.4l2.5 -4.7l2.5 -3.9l3.5 -3.4l1 -.7l1 -.3l1 .1l1 .5l2.5 2.5l1.5 2.3l1.5 3.3l1 2.8l1 4l4 22.4l5.5 33.5l2.5 10.6l1 2.8l.5 .6l1.5 -.3l3 -1.9l4.5 -3.1l3 -1.3l2 -.4l2 0l1.5 .5l1.5 1l2 2.1l1 1.5l1 2.2l3.5 10.7l4.5 18.7l3.9 13.9"/>
<path stroke="#2297E6" d="M312.8 305.7l6.5 -2.6l1.5 -1.1l2 -2.2l1.5 -2.3l3.5 -6.1l8.5 -16.5l7 -12.6l2 -2.7l2.5 -2.5l1.5 -1l2.5 -1l3 -.7l3 0l4 1l2 1.1l8.5 7.3l8.5 9.3l4.5 3.4l2.7 3.8"/>
<path stroke="#61D04F" d="M413 333l7.5 -3.9l5.5 -3.4l8 -3.8l3 -1.8l2.5 -1.7l1 -.5l1 -.8l1 -.2l.5 -.4l1 -.1l2 -.8l1 0l1 -.2l3 -1.2l.5 0l3.5 -1.4l2.5 -.3l.5 -.3l1 .3l1 -.4l1 -.1l.5 .2l2 -.9l1.5 .1l1.5 -.7l2 -.1l1 .3l.5 -.3l1 .6l2.5 .5l.5 .7l.5 -.1l.5 .4l.5 0l.5 .5l1 .4l.5 .3l.5 .7l.5 .1l.5 -.2l.5 .3l.5 -.2l.5 .7l1 0l.5 .6l.5 .3l.5 -.2l.5 .1l1 .8l.5 -.1l.5 .7l.5 -.1l.5 .8l.5 -.3l2 1.7l.5 .1l.5 .6l.5 0l1 .4l.5 .9l.5 -.1l1 .5l1.5 1.3l1 0l.5 .6l1 .2l.5 .4l.5 .1l1 .7l.5 .4l1 1.3l.5 -.1l1 .6l.5 1.1l.5 -.3l.5 .7l1 .5l1 1.1l.5 -.1l1 .8l1 -.2l.5 .6l1.5 .6l.5 .4l.5 -.1l.3 .6"/>
<path stroke="#61D04F" d="M98.4 336l5.5 -2.2l6.5 -1.3l2 -.9l2.5 -1.6l1.5 -1.2l1 -1.2l8 -12l2.5 -2.3l1.5 -.8l.5 -.1l1 .4l2 1.7l4.5 3.1l2.5 1.5l2 .6l4 .4l2 .6l1.5 1l2.5 2.3l1.5 .9l.5 0l1 -.7l.5 -.6l.5 -1.7l1 -6.2l2.5 -11.2l1 -8.3l.5 -6.8l5 -89.5l3 -70l1 -16.5l2.5 -34.3l1.5 -12.3l1.5 -7.5l1 -3.3l.5 -.9l1 -1.3l1 -.9l1 -.4l4.5 -1.2l5.5 -2.7l2.5 -.6l2.5 .2l5.5 1.5l1 .5l1 .9l1 1.3l.5 1l2 5.8l4.5 19.2l1.5 5.3l1 2.7l1 2.1l.5 .5l1 .6l.5 -.1l.5 -.5l1.5 -2.7l6.5 -21.5l2.5 -5.7l2.5 -4.5l3 -3.4l1 -.8l1 -.3l1 .1l1 .6l3 3.2l2 3.4l1.5 3.5l.5 1.5l1 4.5l5 31.8l4.5 33.6l2.5 14.5l1 4l.5 .8l.5 0l1 -.4l3.5 -2.4l4 -3.4l5.5 -3.6l1.5 -.7l1 0l1.5 .6l1 .9l1.5 1.8l1 1.8l1 2.8l3.5 12.9l4.5 21.7l3.9 15.2"/>
<path stroke="#F5C710" d="M312.8 302.9l6.5 -2.7l1.5 -1.1l1.5 -1.6l2 -3.1l5 -8.9l12 -23.6l2.5 -4.4l2 -2.6l2.5 -2.4l1.5 -.9l3 -1.3l2.5 -.6l2.5 0l4 1.1l2 1.1l5.5 4.8l2.5 2.4l8.5 9.7l1.5 1.2l3.5 2l1.5 1.6l1.2 1.7"/>
<path stroke="#2297E6" d="M413 334.8l2.5 -1.2l5.5 -2.4l8 -4.5l5.5 -2.2l3 -1.8l2 -1.4l.5 -.1l1 -.7l1 -.3l.5 -.4l2 -.7l.5 0l.5 -.3l1 -.3l1 0l2.5 -.7l1 -.5l1 -.4l.5 0l1 -.6l1 -.2l1 -.6l1.5 -.5l.5 .1l1 -.5l1 .1l1 -.6l.5 0l.5 .3l1 0l.5 -.6l.5 .5l1.5 -.8l1 .2l1 -.3l.5 .2l.5 -.4l2.5 .5l.5 -.3l.5 .4l1 .4l.5 -.4l1.5 1.5l1 .2l.5 .7l1.5 .7l1 .8l.5 -.3l1 1.1l.5 0l1 .6l1.5 -.2l.5 .3l1 0l.5 .7l.5 -.1l.5 .7l2.5 .7l1.5 1.5l.5 -.4l1 1.3l.5 -.5l1 1.2l.5 0l1.5 1.3l.5 -.3l.5 .8l.5 -.1l.5 .2l1 1l1.5 .2l.5 .8l1.5 .9l1 1.1l.5 .1l2.5 2.1l.5 0l1 1.3l.5 -.5l2 1.3l.5 -.4l.5 .1l1 .9l.3 -.6"/>
<path stroke="#CD0BBC" d="M98.4 340.6l2.5 -.9l5 -2.5l2 -.8l2.5 -.4l4 -.3l2 -.6l1 -.7l2 -1.9l6.5 -8.4l2 -1.7l1.5 -.8l1 .1l4.5 2.3l2.5 1.4l4.5 2.9l2.5 1.1l9 1.6l1.5 -.3l.5 -.3l.5 -.6l3 -9.3l1 -4.5l1.5 -14l4.5 -66.4l3 -59.4l1 -16.7l2 -22.1l1 -8l1 -5.4l1.5 -5.5l1 -2.6l1.5 -2.7l2.5 -3.8l2.5 -2.9l1.5 -1.3l4.5 -3l3.5 -1.7l2 -.6l1.5 -.1l2 .4l2 .8l1 .7l1 1.1l2 3.1l2 4.8l4.5 15l2 5.5l1.5 3.1l1 .7l.5 0l.5 -.3l.5 -.6l1.5 -2.9l2.5 -7.7l4 -10.7l3 -6.2l2 -3.4l3.5 -4.1l2 -1.6l1 -.1l1 .3l2 1.8l1.5 2.2l1.5 3.2l1.5 4.2l1 3.9l1.5 7.5l7.5 43.3l2 8l1.5 4.8l.5 .9l.5 .5l1.5 -.2l2.5 -1.1l5 -2.9l2 -.6l2 -.1l2 .3l3 1.1l1.5 .9l2 1.7l1 1.5l1 2.1l3 8.4l4.5 17.3l3.9 13.5"/>
<path stroke="#DF536B" d="M312.8 310.9l6.5 -2l1.5 -1l1.5 -1.4l1.5 -1.9l2 -3.2l7 -13.2l3.5 -6.2l4 -6.4l2.5 -3.5l2.5 -2.7l3 -2.4l4 -1.9l2.5 -.9l2.5 -.3l3 .3l2.5 .8l2.5 1.6l6 4.9l7 7l6 5.2l1.5 1.9l2.2 4.2"/>
<path stroke="#28E2E5" d="M413 336.2l9 -4.5l9 -3.8l1.5 -.8l.5 -.1l1.5 -.9l1 -.3l2.5 -1.2l.5 -.1l.5 -.4l4.5 -1.8l.5 -.4l1 -.3l3.5 -1.8l1 -.3l1 -.5l.5 0l1 -.8l.5 .1l1 -.5l1.5 0l1.5 -.8l.5 .3l1.5 -.7l.5 .2l1 -.3l.5 -.3l.5 0l1.5 -.7l.5 .3l.5 -.7l.5 .2l.5 -.1l.5 .4l1.5 -.7l.5 .4l.5 -.2l1 .2l.5 .4l1 -.1l.5 .4l1.5 .3l.5 .3l.5 -.4l1 .7l1 .2l1 .6l.5 -.2l.5 .6l1 .4l.5 .7l.5 -.1l.5 .5l2 .7l.5 .6l2.5 1.3l1.5 1.4l1.5 .5l.5 .9l.5 -.3l.5 .1l.5 .8l.5 .3l.5 -.1l.5 .8l.5 -.6l.5 .6l1 .7l.5 -.3l1 1.1l.5 -.1l.5 .6l.5 0l.5 .6l.5 -.4l.5 .6l.5 -.6l.5 1l.5 .3l.5 .5l.5 -.4l.5 .7l1 1l.5 -.4l.5 .2l1.5 1.2l.5 -.5l.5 .9l.5 -.6l.5 .6l.5 -.3l.5 .8l2 .5l.5 .6l.5 -.1l1 .6l.5 .5l.3 -.3"/>
<path stroke="#DF536B" d="M98.4 341l4.5 -2.1l2 -.6l2 -.1l5 .2l1.5 -.3l1.5 -.6l1.5 -1l1.5 -1.3l8 -8.9l2.5 -1.9l1 -.5l1 .2l2.5 1.5l7 5.2l2.5 1l1.5 .1l3 -.2l1.5 0l1.5 .5l3.5 1.5l1.5 .3l.5 -.1l.5 -.4l2 -3.8l1.5 -4.5l1 -4.9l1 -8l1 -10.3l2 -25.6l1.5 -23.1l4 -73.4l1 -10.9l1.5 -11.7l1 -4.8l1.5 -5.3l1.5 -4l2 -3.5l1.5 -2l2 -2.1l4 -3.3l4 -3.7l2.5 -1.8l3 -1.2l1.5 -.2l2 -.1l1.5 .2l.5 .3l1.5 1.7l2 3.5l1.5 3.7l4.5 14l2.5 7l1 2l.5 .6l.5 .1l.5 -.2l.5 -.6l1.5 -3.1l3 -8.3l2.5 -5.4l2.5 -4.6l3 -4.8l1.5 -1.9l1.5 -1.5l2.5 -2.1l1 -.3l1 .1l1.5 1.1l2.5 3.4l1.5 2.6l2 4.6l1 3.1l1 3.9l5 25.7l2.5 11.3l1 3.5l2.5 5.6l1 1.3l.5 .3l1 -.1l1.5 -.7l4 -2.2l2 -.8l4 -1l4 -.5l1.5 0l1 .2l2 1.4l1 1.3l1.5 2.9l3 7.5l8.4 27.6"/>
<path stroke="#2297E6" d="M312.8 313.7l6.5 -2l1.5 -.9l2 -1.7l2 -2.3l3.5 -5.2l9.5 -15.5l3.5 -5.5l2 -2.6l2.5 -2.6l2.5 -2.1l3.5 -1.9l2 -.6l2 -.2l1.5 .1l4.5 1.4l2.5 1.2l4 2.8l3 2.6l6 6.5l5.5 4.1l1.5 1.3l1.5 2l2.2 4.1"/>
<path stroke="#9E9E9E" d="M413 338.4l7 -2.4l8.5 -4l4 -1.5l2.5 -.6l.5 -.3l2 -.5l.5 -.4l1 -.1l1 -.6l3 -1.1l.5 -.5l.5 .2l1 -.7l1 0l1.5 -.8l.5 -.1l.5 -.4l2.5 -.8l1 -.6l.5 .1l1.5 -1l1.5 -.3l.5 -.4l1.5 -.2l.5 -.3l.5 .2l2.5 -.9l1 0l.5 -.3l1 0l1 -.4l.5 .3l1 -.3l.5 .2l1 0l.5 .3l.5 -.3l.5 .4l1.5 .1l.5 .3l1 -.1l1.5 .6l2 1.3l.5 0l1 1.1l.5 0l.5 .4l.5 0l.5 .9l1 .3l1 .9l.5 0l1 .9l.5 .1l1 .7l.5 0l1.5 1.3l.5 -.5l1.5 1.2l.5 .8l.5 .2l1 -.1l1 1.1l.5 .1l.5 .8l.5 -.5l1.5 .9l.5 .1l.5 -.4l1 .9l.5 -.1l.5 1l1 -.4l1 .3l.5 -.1l.5 .3l.5 -.2l.5 .5l.5 -.3l.5 .3l.5 .7l.5 .1l.5 -.2l.5 1l1 0l.5 .6l.5 -.5l.5 -.1l1.5 1.2l.5 .2l.5 -.9l1 1.1l.5 -.8l.5 1l.8 .4"/>
<path stroke="#28E2E5" d="M98.4 340.6l3 -.2l2 -.4l2 -.7l5.5 -2.6l6 -1.4l1.5 -1l1.5 -1.3l6 -6.8l2 -1.3l1 -.4l1.5 .3l2.5 1.5l1.5 .7l5.5 1.7l6.5 2.8l5 1.6l2 .4l1.5 -.2l.5 -.2l.5 -.6l2 -4.5l1.5 -4.9l1 -5.3l1 -8.8l1 -11.2l2 -26.8l1.5 -23.1l4 -73.8l1 -11l1.5 -12.4l1 -5.2l1 -3.7l1 -2.7l1 -1.9l4.5 -6l2.5 -2.8l2.5 -1.9l5 -3.3l3.5 -1.9l2 -.6l1 0l1.5 .4l1 .4l1 .9l2.5 3.9l2 4l1.5 3.7l3.5 10.1l2.5 5.8l1 1.5l.5 .3l.5 0l.5 -.4l1 -1.3l1.5 -3.1l2.5 -7.5l3 -7.4l2.5 -5.4l2.5 -4.3l1.5 -1.8l2 -1.7l1.5 -1.2l1.5 -.9l1 -.3l1 .1l2 1.3l1.5 1.7l1 1.8l1.5 3.6l1 3.3l1.5 6.4l5 26.8l2.5 12.4l1.5 5.5l2.5 6.4l1 1.2l1 0l1.5 -.5l2 -1.2l6 -5l1.5 -.9l1.5 -.4l1.5 0l2 .8l2 1.2l2.5 2.2l1 1.3l1 1.8l3 7.6l4.5 16.2l3.9 13.1"/>
<path stroke="#28E2E5" d="M312.8 314.1l4 -1.1l2 -.8l2 -1.4l2 -1.8l2 -2.5l3.5 -5.3l8.5 -13.8l3.5 -5.3l2.5 -3.5l2 -2.2l3.5 -3.2l2.5 -1.6l2.5 -1.1l1.5 -.2l1.5 0l6 1.8l3 1.4l3.5 2.3l2.5 2.1l6 6.1l4.5 3.5l2 1.9l2 2.8l2.2 4.4"/>
<path stroke="#61D04F" d="M413 335.8l10 -4.5l6 -3.1l3.5 -1.5l.5 -.1l.5 -.4l2 -.8l2.5 -1.4l2.5 -1l1 -.8l5.5 -1.6l.5 -.4l1 0l1.5 -.7l.5 .1l1.5 -.6l.5 -.1l1 -.6l.5 0l1 -.5l1.5 -.4l1.5 -.8l.5 .2l.5 -.4l.5 .2l1 -.5l.5 .1l1 -.6l2.5 -.1l1 -.6l.5 .5l.5 -.4l.5 .3l.5 -.2l1.5 .3l1 -.1l1 .7l.5 .1l.5 -.2l.5 .1l1 1l.5 -.2l.5 .4l.5 .1l.5 .4l.5 .1l1 1.2l2.5 1l.5 .9l.5 -.1l.5 .5l.5 -.3l.5 .7l.5 0l1 .4l1 .8l.5 -.1l1.5 .9l1 .3l1 1.2l.5 0l1 .8l.5 0l.5 .6l2 .9l.5 .6l.5 -.5l1 1.2l.5 -.3l.5 .7l.5 .3l.5 -.3l1 1.4l1.5 .3l.5 .5l.5 0l1.5 1.3l1 0l.5 .2l2 1.5l1 .1l1 1l.5 -.9l.5 .9l.5 -.1l1.5 .5l.5 -.1l.8 .3"/>
<path stroke="#61D04F" d="M98.4 337.7l6.5 -1.2l6 -2.2l1.5 -.4l3 -.4l1.5 -.7l1.5 -1.4l1.5 -1.9l6 -9.5l1.5 -1.4l1.5 -.8l.5 0l1 .6l2.5 2.3l2.5 1.7l11 4.6l4.5 1.3l1.5 .2l2 -.3l1 -.4l.5 -.6l3.5 -12.5l1 -6.6l.5 -5.3l5 -75.5l3 -60.8l1 -16.3l2 -23l1.5 -11.6l1 -4.9l1.5 -5l1.5 -2.8l4 -5.8l2 -2.4l1.5 -1.4l7 -4.5l4 -3l1.5 -.8l1 -.3l1 0l1 .2l1.5 1.3l1.5 2.1l1.5 3.3l1.5 4.1l4 14.1l2 5.7l1.5 3.1l.5 .6l1 .5l.5 -.1l.5 -.4l1.5 -2.5l2.5 -7.5l4 -11.1l2.5 -5.3l2 -3.2l1 -1.1l1.5 -.9l1.5 -.6l1.5 -.2l1 .2l1 .5l1.5 1.3l1.5 1.7l1.5 2.6l1.5 3.6l1 3.1l1 4.2l3.5 19.8l5.5 33.3l2 8.7l1.5 4.8l.5 .8l.5 .3l2 0l2.5 -.8l1.5 -.9l5.5 -4.5l1.5 -.9l1.5 -.5l1.5 0l1.5 .6l2 1.2l2 1.7l1 1.5l1 2.3l3 8.8l4.5 18.8l3.9 14.3"/>
<path stroke="#F5C710" d="M312.8 308.6l6.5 -2.7l1.5 -1l2 -1.9l1.5 -2l2.5 -4l9.5 -17.4l7 -11.1l2.5 -2.9l2.5 -2.3l1.5 -1l3.5 -1.5l3 -.6l3 -.1l3 .6l2 1.1l6.5 5.9l8.5 8.3l5.5 4.5l1.5 1.9l1.7 2.8"/>
<path stroke="#CD0BBC" d="M413 332.4l8.5 -4.2l5 -2.9l7 -3.1l4.5 -3.1l2.5 -1.4l.5 -.1l.5 -.4l4.5 -1.1l2.5 -1l.5 .1l.5 -.5l1 0l.5 -.4l1 -.3l2 -1.1l.5 .2l.5 -.4l3.5 -.9l.5 -.4l.5 .4l1 -.5l.5 .1l1 -.2l1 -.4l.5 -.4l1 0l1.5 -.4l2.5 -.2l2 .1l.5 .8l.5 -.4l2 .9l1 .3l1 1.1l.5 -.3l1 .8l.5 -.5l.5 .7l1 .6l.5 -.1l1.5 .7l.5 .1l.5 .5l.5 -.3l1 .6l.5 .6l1 .2l2 1.2l.5 .8l.5 .4l.5 0l.5 .6l.5 -.4l.5 .8l.5 0l.5 1l.5 -.2l1 .9l.5 -.4l.5 .8l1.5 .9l1 0l.5 .4l.5 -.1l.5 .4l.5 -.1l.5 1l.5 .2l.5 -.1l1.5 2l.5 .4l1 .4l.5 .9l.5 .1l1.5 .8l.5 .1l.5 .7l.5 -.4l.5 1.1l.5 .3l.5 0l.5 .4l.5 -.5l.5 .2l.5 .6l.5 .1l.5 .5l.5 -.5l.3 .7"/>
<path stroke="#28E2E5" d="M98.4 340l8.5 -1.6l2 -.8l4 -2l4.5 -1.6l2 -1.4l1.5 -1.4l5.5 -6.6l2 -1.7l1 -.3l1 .2l3.5 2.5l2 1l2 .7l6.5 1.5l7.5 3.5l1 .2l1 -.1l1.5 -.9l.5 -.9l2.5 -7.4l1 -3.7l1 -5.9l1 -10.2l2.5 -34.4l2 -31l4 -75.3l2.5 -25.6l1 -6l1 -4.4l1 -3.1l1 -2.1l7 -7.6l1.5 -1.3l2.5 -1.8l1.5 -.8l2 -.7l5 -.6l1.5 .1l1.5 .4l1 .4l1 1l1.5 2.3l2 4.3l2 5.6l4.5 14.7l2 5l1 1.6l.5 .3l.5 .1l1 -.8l2 -3.3l2.5 -7l3.5 -8.3l3.5 -7l2 -3.1l1.5 -1.6l2 -1.6l1 -.6l1.5 -.3l1 .1l1 .5l2.5 2.1l1 1.3l1 1.8l1 2.4l1 3.3l2 9.1l7.5 39.9l1 3.7l2.5 7l.5 .8l.5 .3l2 -.6l3.5 -1.9l6.5 -4.6l1.5 -.8l1 -.2l1.5 0l1 .4l1.5 1.1l1.5 1.5l2 2.4l1 1.8l1.5 3.5l2 5.5l4.5 16.8l3.9 13.5"/>
<path stroke="#CD0BBC" d="M312.8 311.1l6.5 -1.6l1.5 -.9l2 -1.9l2 -2.6l3.5 -5.8l9.5 -17.3l3 -5.2l2 -2.9l2 -2.3l3 -2.4l1.5 -.9l4 -1.5l2 -.4l1.5 .1l2 .4l3.5 1l2.5 1.2l4 2.5l3 2.5l6.5 6.7l6 4.6l1.5 2l2.2 4.1"/>
<path stroke="#DF536B" d="M413 335.4l8 -3.7l8 -4.1l4.5 -1.8l1 -.6l.5 0l3.5 -2.1l.5 -.5l1 -.4l3 -1.5l1 -.2l.5 -.4l1 -.1l1 -.5l1.5 -.3l.5 -.3l.5 .1l.5 -.4l1 -.2l1 -.6l2.5 -.4l.5 -.4l.5 0l.5 -.3l1 -.3l.5 .3l1 -.5l.5 .1l.5 -.3l2 0l.5 -.4l1 0l1 -.4l.5 .3l.5 -.4l1 0l1.5 -.5l.5 .2l.5 -.1l.5 -.4l1 .6l.5 -.3l1 .5l.5 -.4l.5 .4l.5 -.1l1.5 .9l.5 -.1l.5 .4l.5 .1l1 1.1l.5 -.1l1.5 1.3l1 .4l.5 -.3l1 1.2l1 .3l1 .9l1.5 .2l.5 .3l.5 .8l.5 .3l.5 -.1l.5 .4l.5 0l2 1.9l1 0l.5 .5l.5 .1l1 .8l.5 0l.5 .4l.5 -.2l.5 .7l.5 -.3l.5 .6l.5 .1l.5 -.2l1 .6l2 .7l.5 .2l1 1.1l.5 0l.5 .7l1 0l.5 .6l.5 -.2l1 .5l.5 1.1l.5 .2l.5 -.1l.5 .6l.5 -.3l1.5 1.4l1.5 -.1l1 .2l.3 .9"/>
<path stroke="#CD0BBC" d="M98.4 339.9l3.5 -.8l6.5 -2.1l2 -.3l4 -.2l2 -.5l1.5 -1.2l1.5 -1.5l6.5 -8.7l2 -1.6l1 -.5l.5 0l1 .3l4.5 3l7 3.8l2.5 1l1.5 .4l8.5 1l1 -.1l.5 -.3l.5 -1l2 -4.9l1.5 -5.7l1 -7.2l1 -10.4l2 -26l2 -30.2l4 -74l1.5 -16l1.5 -11.1l1.5 -6.6l1.5 -4.4l2.5 -4.9l2.5 -4.1l2 -2.6l1.5 -1.5l7 -5.5l3 -2.1l1.5 -.8l1 -.2l1 -.1l1.5 .3l1.5 .9l2 2.8l1.5 3l1.5 3.9l4.5 15l2.5 7.3l1 2.2l1 1l.5 0l.5 -.2l1.5 -2.2l1 -2.2l2 -5.5l3 -6.5l3 -5.4l2.5 -3.6l1 -1l2.5 -2l1.5 -1l1 -.4l1 -.1l1 .3l2 1.7l1.5 1.9l1.5 2.8l1.5 3.6l1 3.2l1.5 6.4l4.5 23l2.5 11.8l1 3.9l2.5 6.3l1 1.4l.5 .2l2 -.5l2.5 -1.4l5.5 -4.1l2 -.9l1.5 -.3l2 0l2.5 .6l1.5 .8l2 1.5l1 1.4l1 2l3 8.1l4.5 16.9l3.9 13.4"/>
<path stroke="#DF536B" d="M312.8 317.1l3 -.8l3.5 -1.4l3 -1.7l2 -1.6l1.5 -1.8l2.5 -3.5l7 -11.6l7.5 -10.8l3 -3.5l2.5 -2.4l1.5 -.9l2.5 -.9l2.5 0l3 .8l5 1.6l3 1.8l5 3.8l5.5 4.7l4 2.5l2 1.6l2 2.2l1 1.4l2.7 5.2"/>
<path stroke="#61D04F" d="M413 338.9l4 -1.8l5.5 -2l7.5 -3.1l4 -1.4l.5 -.3l4 -1.7l1.5 -1l.5 0l.5 -.6l.5 -.1l1 -.7l1 -.1l.5 -.4l1 -.4l.5 0l.5 -.4l.5 0l1 -.5l1 .1l.5 -.3l1 -.1l1 -.6l.5 .3l.5 -.1l1.5 -.7l.5 0l.5 -.4l.5 .2l.5 -.3l.5 0l1 -.5l.5 .2l2.5 -.9l.5 0l.5 -.3l.5 .2l.5 -.4l1 -.3l.5 .2l1.5 -.2l1 -.4l1.5 -.1l.5 .4l.5 -.3l.5 .2l1 -.2l.5 .3l.5 -.1l.5 .4l1 -.1l.5 .6l.5 0l1 .4l1.5 .9l.5 .8l.5 -.1l1.5 1.6l.5 0l.5 .3l1.5 1.5l.5 .3l.5 -.2l.5 .8l1.5 .6l.5 .5l.5 .1l.5 .5l.5 0l.5 .6l.5 -.4l.5 .8l.5 -.1l.5 1l.5 -.6l1 1.1l.5 -.1l1 1.1l1 .1l1 1l.5 -.5l.5 1.1l.5 -.6l1 .7l1 .1l.5 .7l.5 -.5l.5 .5l1.5 .5l.5 .6l.5 -.3l1.5 .7l.5 -.1l1.5 1.1l.5 .6l.5 -.6l.5 .5l1 .6l1.5 .2l.5 .5l.5 -.5l.5 .2l.5 -.2l1 .8l.3 -.2"/>
<path stroke="#DF536B" d="M98.4 340.8l2.5 .1l2 -.2l2 -.7l5 -2.1l2 -.4l3.5 -.4l1.5 -.5l1.5 -1.1l1.5 -1.6l6 -7.2l2 -1.2l1 -.4l1.5 .4l3.5 1.9l5 1.2l6.5 2.7l8.5 1.3l1.5 -.1l.5 -.5l2 -4.6l1.5 -5l1 -5.5l1 -9.1l1 -11.7l3.5 -50.7l4 -74.4l1.5 -16.1l1.5 -11.4l1.5 -6.6l1.5 -4.3l2.5 -4.4l2.5 -3.8l1.5 -1.9l1.5 -1.5l10.5 -7.4l2 -.7l1 .1l1 .3l2 1.4l1.5 2.3l2 4l2 5.1l4.5 14.8l2.5 7.2l1 2.1l1 .9l.5 0l.5 -.2l1.5 -2.2l1 -2.2l2 -5.4l3 -6.3l2.5 -4.4l2.5 -3.4l1.5 -1.2l3 -1.6l1.5 -.7l1.5 -.4l1.5 .4l2 1.6l1.5 2.1l1 2l1.5 3.9l1 3.4l1.5 6.5l4.5 23l2.5 11.5l1 3.6l2.5 5.9l1 1.5l.5 .4l1 .1l1.5 -.4l2 -1.2l5.5 -4.9l1.5 -.8l1.5 -.4l2 .2l2 .9l2.5 1.6l2 1.8l1 1.5l1 2l3 7.9l4.5 16.4l3.9 13.3"/>
<path stroke="#61D04F" d="M312.8 315.6l3 -.7l3 -1.3l2.5 -1.7l2.5 -2.3l2 -2.6l2.5 -3.8l3.5 -6.2l3.5 -5.6l7.5 -10.4l3.5 -4.1l2 -2l1.5 -1l2.5 -.9l1.5 -.2l2 .2l7 1.7l2.5 1.3l5 3.4l10 8l2 1.9l2 2.3l1 1.6l2.7 5.3"/>
<path stroke="#9E9E9E" d="M413 339.9l2.5 -1l5.5 -2.5l4.5 -1.5l4.5 -1.7l5.5 -2.8l3.5 -1.1l1.5 -.3l.5 -.4l1.5 -.5l1 -.7l1 -.1l1 -.7l1 -.4l.5 -.5l.5 0l.5 -.4l1.5 -.5l.5 .2l1 -.6l1 0l.5 -.3l.5 .1l1 -.4l1 .2l.5 -.3l1 0l.5 -.1l.5 -.5l.5 .4l.5 -.3l.5 0l1 -.6l.5 0l.5 -.4l1 .2l.5 -.5l.5 .1l.5 -.4l1.5 0l.5 .1l.5 -.3l.5 .4l.5 -.4l2 .4l1 .4l.5 -.3l.5 .1l.5 .5l1 -.1l.5 .4l1 .3l.5 -.2l.5 .3l.5 .7l.5 -.1l1 .5l1 0l.5 .8l1.5 1.4l.5 .4l1 -.1l.5 1l.5 .4l.5 0l.5 .7l1 .5l1 .8l.5 0l1 .5l1 1.1l1 -.1l.5 .6l1.5 .8l.5 0l.5 -.5l1 1.5l.5 -.5l.5 .6l.5 0l.5 .3l.5 .6l.5 -.1l1 .6l.5 -.1l.5 .6l.5 -.2l1 .7l1.5 .1l.5 .6l.5 0l1 .6l.5 -.5l.5 .8l.5 -.5l.5 .5l.5 -.2l.5 .4l.5 -.4l1 1.2l.5 -.9l.5 .6l1 .3l.5 .4l1.8 .4"/>
<path stroke="#61D04F" d="M98.4 338.5l3.5 -1l5 -.5l2.5 -.5l4.5 -1.6l2.5 -1.1l1.5 -1.3l2 -2.2l6 -8.3l2 -1.9l1.5 -.7l1 .4l5 3.8l2 1.1l2 .7l2 .5l6 1.1l5.5 2.2l1.5 -.1l1 -.6l.5 -.7l3.5 -12.5l1 -6.5l.5 -5.1l1.5 -20.5l3.5 -53.8l3 -59.6l1 -16.3l2 -22l1 -7.9l1 -5.3l1 -3.9l1 -2.9l1 -1.8l2.5 -2.7l4.5 -4l6 -4.6l6 -4l2.5 -1.2l2 -.3l1.5 1l1.5 1.9l1.5 3.1l1.5 4l4 13.4l1.5 4.3l1.5 3.4l.5 .8l1 .5l.5 0l.5 -.3l2 -3.6l2.5 -7.8l4 -10.7l2.5 -5.1l2 -3.2l1 -1.1l1.5 -1.1l1.5 -.7l1 -.2l1 .1l1 .6l1 .8l1.5 1.8l1.5 2l1.5 2.8l1.5 3.8l1 3.3l2 10.1l7.5 43.8l2 8.1l1.5 4.7l.5 .9l.5 .3l1.5 -.2l1.5 -.6l2.5 -1.3l7.5 -5.2l1.5 -.7l1 -.2l1 0l1.5 .5l1.5 1.1l1.5 1.6l1 1.5l1 2.1l3.5 10.5l4.5 18.5l3.9 14.5"/>
<path stroke="#CD0BBC" d="M312.8 315.3l4 -1.1l2.5 -1l2 -1.4l2 -1.9l3 -4.1l9.5 -15.9l4.5 -7l2.5 -3.5l2 -2.3l3 -2.6l1.5 -.9l3 -1l2 -.2l2 .2l6.5 1.8l3.5 1.6l4.5 2.7l2 1.6l5 4.8l3.5 2.9l2.5 2.4l2 2.9l2.2 4.6"/>
<path stroke="#61D04F" d="M413 337.5l7 -3.3l5 -1.9l5 -2.4l2 -.7l1 -.6l1 -.3l2.5 -1.1l1.5 -.4l2.5 -1.2l1.5 -.5l2.5 -1.1l1 -.7l.5 0l2 -.9l1 -.2l.5 -.3l.5 .1l1.5 -.7l1.5 -.1l1.5 -.6l.5 .2l1 -.6l.5 -.1l.5 -.6l1 .1l.5 -.3l1 0l.5 -.5l.5 .1l2 -.7l.5 -.1l.5 .2l.5 -.4l.5 .2l.5 -.5l.5 .4l.5 -.2l2.5 .1l.5 .3l1 -.5l1.5 .8l1.5 .1l1.5 1l1.5 .2l.5 .6l3.5 2.2l.5 .6l1 .6l.5 .6l1 .3l.5 .5l2 1l.5 -.3l1 1.4l.5 0l.5 .5l1 -.1l.5 .7l.5 .2l.5 -.2l2 1.6l.5 -.5l.5 1.1l1 .1l.5 .6l.5 -.5l1 .8l1 .4l.5 .9l.5 -.3l.5 .1l1.5 .6l1 .2l1 .8l.5 -.3l.5 .5l.5 0l.5 .2l.5 -.3l.5 .9l1 .6l.5 .6l.5 0l1 .6l.5 -.4l.5 .6l.5 -.4l.5 .7l1 -.7l.3 1.2"/>
<path stroke="#DF536B" d="M98.4 338l5 -2.6l5.5 -1.3l1.5 -.5l6 -3.4l1 -.8l3 -3.4l2.5 -3.2l2.5 -3.7l2.5 -2.7l1.5 -1.1l.5 -.1l1 .3l7 5.1l2 1.1l2 .7l3.5 .7l2 .8l1.5 1l3 2.5l1 .5l.5 .1l.5 -.1l1 -.7l.5 -.7l.5 -1.5l1 -5.1l2.5 -9.9l1 -7.3l.5 -6l5 -81.8l3.5 -73.4l2.5 -33l1 -9.9l1.5 -9.2l1 -4.2l1 -3l1 -1.6l1.5 -1.8l3.5 -3.3l5.5 -6.1l2 -1.8l1.5 -.9l1.5 -.4l7.5 -.8l1.5 .5l1.5 1.4l1.5 3.1l1.5 4.4l5 18.6l2 4.7l.5 .7l.5 .3l1 .1l1 -.8l1.5 -2.7l6.5 -20.5l2.5 -5.6l2.5 -4.7l1 -1.4l2 -2.2l1 -.7l1 -.4l1 .2l1 .7l2.5 2.9l2 3.4l1.5 3.5l1 3l1 4.8l4.5 28.4l5 35.5l2.5 13.2l1 3.6l.5 .7l1 -.3l8 -4.6l5 -2.3l1.5 -.5l1 0l1.5 .6l1 .8l1.5 1.7l1.5 2.4l1 2.4l3.5 11.3l4.5 19.7l3.9 14.4"/>
<path stroke="#2297E6" d="M312.8 307.4l6 -2.4l1.5 -1l2 -2.1l1.5 -2.1l2.5 -4.3l10 -18.8l7 -11.9l2 -2.5l3 -2.8l1.5 -.8l3.5 -1.4l3 -.6l3 .3l3 .8l2.5 1.5l6 5.2l9 9.9l5 4.3l1.5 1.8l1.7 2.9"/>
<path stroke="#2297E6" d="M413 333l6.5 -3.7l5 -2l2.5 -1.2l6.5 -4.3l3 -1.6l2.5 -.9l.5 -.4l.5 .1l.5 -.4l1.5 -.6l1.5 -.9l.5 .1l2.5 -1.4l1.5 -.4l1 -.5l.5 .2l2 -1l1.5 -.1l1 -.7l.5 .1l2.5 -1.1l.5 .1l1 -.8l1 -.5l.5 .1l2 -.9l1 0l1 -.6l.5 .4l.5 -.4l1.5 .5l.5 -.3l1.5 .6l.5 -.2l.5 .6l.5 0l1.5 .5l.5 .1l.5 -.2l.5 .4l1 -.4l.5 .7l3 1.1l.5 .5l2 1l1 .9l.5 0l.5 .4l.5 .8l.5 -.4l.5 .3l.5 .1l.5 .5l1 .4l.5 -.1l.5 .4l.5 -.1l2 1l.5 -.2l.5 .6l.5 .2l.5 0l.5 .7l.5 -.2l1.5 .9l.5 .6l.5 0l.5 .3l.5 .9l2 .8l1.5 1.2l.5 0l1 1.2l.5 -.3l.5 .3l.5 .5l1 .6l.5 .7l1 .2l.5 -.4l.5 1.3l.5 -.2l.5 .7l1 .7l1 .3l1 1.1l1 -.1l.5 .8l.5 -.2l.3 .2"/>
<path stroke="#CD0BBC" d="M98.4 336.3l3 -.7l2 -.7l5.5 -2.9l2 -.9l1.5 -.4l3 -.5l1.5 -.8l3 -3.8l5.5 -9.3l2 -2l1.5 -1l1 0l.5 .2l2.5 1.8l5.5 2.5l6 3.5l7.5 3.4l1.5 .2l1 -.4l1 -1l.5 -1.3l1.5 -8.3l2 -8.4l1 -8.1l.5 -6.7l5 -88.3l3 -69.6l1 -16.6l2.5 -34.4l1.5 -12.6l1 -5.2l1 -4l1 -2.4l1.5 -2.7l1 -1.5l1.5 -1.2l2 -1.2l2.5 -1l5 -.9l4 -.4l2 .1l2 .7l2 .9l1.5 1.3l1.5 1.8l.5 .9l2 5.5l4.5 18.3l2 6.3l1.5 3.2l1 1.1l1 .5l.5 -.2l.5 -.6l1 -1.6l5.5 -16.3l1.5 -3.8l2 -3.6l1.5 -2.1l1 -1.1l1 -.7l2.5 -1.3l1.5 -.3l1 .1l1 .6l2.5 2.5l1.5 2.4l2 4.7l1 3.3l1 4.7l4.5 27.6l5 34.9l2.5 13l1 3.4l.5 .6l.5 0l2.5 -1.3l2 -1.5l5 -5.4l2.5 -1.6l1.5 -.7l1.5 -.2l1 .2l1 .4l2 1.5l2 1.9l1 1.9l1 2.7l3 10.5l4.5 21.6l3.9 15.2"/>
<path stroke="#61D04F" d="M312.8 300.9l6.5 -2.6l1.5 -1.2l1.5 -1.8l1.5 -2.4l7.5 -14.3l10 -21.1l2.5 -4.5l1.5 -2l2.5 -2.3l1.5 -.9l4.5 -2l2.5 -.6l2.5 0l3.5 1l2 1.2l5 4.1l2.5 2.5l4 4.8l4.5 5.8l1.5 1.3l2.5 1.1l1 .6l1.5 1.6l1.2 1.6"/>
<path stroke="#F5C710" d="M413 330.6l4.5 -3.1l7.5 -4.1l4.5 -3l5.5 -3l3 -1.1l.5 -.5l2 -.7l2.5 -1.4l1 -.3l.5 -.5l4 -1.7l.5 0l.5 -.5l.5 0l5 -1.7l1.5 -.8l.5 0l.5 -.4l.5 -.2l.5 .3l.5 -.5l1.5 -.2l1 -.4l1 -.1l1 -.5l.5 .4l1 .1l.5 -.3l1.5 .3l1 -.1l.5 -.3l.5 .4l1.5 .4l1 -.3l.5 .7l1 -.3l.5 .6l1 -.3l.5 .3l1 -.1l.5 .6l1.5 .4l.5 .4l.5 -.1l.5 .5l1 0l.5 .4l.5 0l1 .9l1.5 .5l.5 -.4l.5 .7l.5 .1l.5 -.1l1 1l1.5 .6l.5 1l.5 -.4l1.5 1.1l.5 .6l.5 .3l.5 -.1l.5 .8l1 .8l.5 -.2l1 1.3l1 .2l.5 .7l.5 -.3l1 1.1l.5 .2l.5 .8l1 .3l.5 .6l.5 -.2l.5 .8l.5 0l.5 .7l.5 -.1l1 1.1l.5 -.1l1 1.3l.5 -.2l1 1.4l1 0l.5 .8l2 1.3l.5 -.1l.3 .6"/>
<path stroke="#DF536B" d="M98.4 340.5l3 .3l2 -.2l1.5 -.5l5.5 -2.4l5 -.8l1.5 -.5l1.5 -1.2l1.5 -1.5l5.5 -6.7l1.5 -1.1l1.5 -.7l.5 -.1l1 .3l4 2.3l5.5 1.3l6 2.5l8.5 1.6l1.5 0l.5 -.4l2 -4.1l1 -2.9l1.5 -7.2l1 -8.5l1 -10.9l2 -26.4l1.5 -23l4 -73.3l1 -10.9l1.5 -12l1.5 -6.9l1.5 -4.3l1 -2l3.5 -5l2 -2.5l1.5 -1.4l5.5 -3.5l6.5 -5.2l1.5 -.5l1 -.1l1 .2l1.5 .8l1.5 2l2.5 4.4l1.5 3.4l4.5 12.7l2.5 6.2l1 1.8l.5 .4l.5 .2l1 -.7l1.5 -2.7l1 -2.4l2 -5.9l2.5 -5.9l2.5 -5.1l2.5 -3.9l1 -1.2l1 -.7l3.5 -1.9l2 -.6l1.5 .1l2 1.5l1.5 1.8l1 1.9l1.5 3.7l1 3.2l1.5 6.1l5 26.1l2.5 11.5l1 3.6l2.5 5.9l1 1.4l.5 .4l1 .2l1.5 -.2l1.5 -.8l1 -.7l5.5 -5l1.5 -.8l1.5 -.3l2 .3l2 1l2 1.2l2 1.8l1 1.3l1 1.9l3 7.6l5 17.8l3.4 11.4"/>
<path stroke="#F5C710" d="M312.8 316.3l7 -2.3l2 -1.2l1.5 -1.3l1.5 -1.7l1.5 -2.2l7.5 -12.3l10 -14.1l2.5 -2.8l2 -1.8l1.5 -.9l3.5 -1.2l2 -.2l2 .2l2 .5l2 .8l2 1.1l8 5.4l6.5 5.6l3 2.3l3 2.8l2 2.7l2.2 4.4"/>
<path stroke="#CD0BBC" d="M413 338.9l4 -1.5l6 -1.6l7.5 -3.3l.5 0l3 -1.1l3 -1.3l2.5 -1.6l1.5 -.7l2 -1.4l1 -.4l2.5 -.8l1 -.1l.5 -.3l3 -.6l.5 -.2l1 -.2l.5 .2l.5 -.5l2 -.5l.5 -.4l1 -.2l.5 .1l.5 -.5l.5 .2l2 -.5l.5 -.3l.5 .3l1.5 -.6l1 .2l2.5 -.6l1 .3l.5 -.4l.5 .4l1.5 -.5l1.5 .4l.5 -.2l.5 .7l1 .2l1.5 .8l.5 .1l.5 .6l.5 0l.5 .8l.5 .4l.5 0l.5 .9l.5 .3l.5 -.3l.5 .8l1.5 .6l1.5 1.3l.5 -.1l1 .2l1 1l1.5 1l.5 -.1l.5 .2l1 .7l1 .4l1 .8l2 1l1 -.2l.5 .9l.5 0l1 .8l.5 -.4l.5 .2l.5 -.2l1 .7l.5 -.4l.5 .1l.5 .9l.5 -.2l.5 .3l.5 -.4l1 1l.5 -.1l.5 .4l.5 0l1 1.1l.5 -.8l.5 .2l1 1.5l1 0l.5 -.3l.5 .5l1 -.2l.5 .4l1 0l.3 .4"/>
<path stroke="#61D04F" d="M98.4 339.5l2.5 -.6l5.5 -1.9l1.5 -.2l4.5 0l1.5 -.3l1 -.4l1.5 -1.1l1 -1l5 -6.6l3 -3.5l1.5 -1.1l2 -.9l1.5 .2l10 6.1l2 .9l2 .2l3 -.3l1.5 .1l1.5 .5l4 1.7l1 -.1l.5 -.6l2.5 -6.9l1 -3.9l1 -5.9l1 -10l2.5 -34l2 -30.9l4 -75.5l2 -21.7l1 -7.6l1.5 -7.5l1.5 -5.3l1 -2.5l2 -3.5l1.5 -2l1.5 -1.6l4.5 -3.2l5 -4.8l2 -1.6l1.5 -.7l1 -.2l1 0l1.5 .3l1.5 .7l1 .7l2 2.8l1.5 3l1.5 4.1l4.5 15.9l2.5 7.7l1 2.4l.5 .6l.5 .4l.5 0l.5 -.3l1.5 -2.9l3 -8.9l3 -7.6l2 -4.3l3 -5l1.5 -1.8l2.5 -2.4l1.5 -1.2l1 -.5l1 -.1l1 .4l2 1.9l1.5 2l1.5 2.9l1.5 3.6l1 3.3l1.5 7l7.5 40.6l1 4l2.5 7.5l1 1.5l1 .1l1 -.3l2 -1.2l5 -3.8l2.5 -1.1l2.5 -.6l2.5 -.3l1.5 .1l1.5 .5l1.5 1.1l1 1.4l1 2.1l3.5 10.1l4.5 17.6l3.9 13.4"/>
<path stroke="#2297E6" d="M312.8 313.7l6.5 -2.2l2 -1.2l2 -1.7l2 -2.5l3 -4.5l13 -21.5l2.5 -3.8l2.5 -2.8l2 -1.8l1.5 -.8l3 -1l2 -.3l2 .1l2 .4l3 1l2.5 1.1l5.5 3.6l2.5 2l5.5 5.6l6.5 5.3l1.5 1.9l2.2 3.9"/>
<path stroke="#2297E6" d="M413 335l4.5 -2l6 -3.1l7.5 -2.9l2.5 -1.3l3 -2l1 -.4l1.5 -1l4.5 -1.7l2.5 -.7l.5 0l2 -.7l.5 0l.5 -.5l3 -.9l.5 -.3l1 -.1l1 -.5l.5 .2l2.5 -.8l.5 0l.5 -.4l.5 0l.5 .3l.5 -.6l1.5 0l1 -.8l1 -.2l1.5 -1l.5 .2l.5 -.3l.5 .5l.5 -.3l.5 .2l2.5 0l.5 .6l1 .5l1 .1l.5 .7l.5 -.4l1 1l1 0l1 .8l.5 .1l1 1l.5 .3l.5 0l.5 .7l.5 -.1l.5 .2l1.5 .9l.5 0l1.5 1.4l1.5 .8l.5 .6l1.5 .6l1 1.1l.5 -.4l.5 .5l1 .2l1.5 .9l.5 -.1l.5 .4l.5 .1l.5 .6l.5 -.2l1 .3l1.5 .8l.5 .6l.5 -.1l.5 .6l.5 .2l.5 .6l1 .4l.5 0l.5 .7l.5 -.3l.5 .8l.5 .1l.5 .7l.5 -.4l1.5 1.7l.5 -.4l1 .5l.5 -.4l.5 .6l2 .4l1 .6l.3 .5"/>
<path stroke="#28E2E5" d="M98.4 337.1l5.5 -.9l2.5 -.7l2 -.9l4 -2.1l4.5 -2l1.5 -1.5l2 -2.5l5 -7.7l2 -2l1.5 -.9l1 0l.5 .3l2.5 2.1l2.5 1.5l9 3.2l3 1.5l5 3l1 .2l1 -.4l1 -.8l.5 -1.2l1.5 -6.8l2 -7.5l1 -7.2l.5 -5.8l5 -80.1l3.5 -72.2l2.5 -32.3l1 -9.6l1.5 -8.9l1 -4l1 -2.8l2.5 -3.7l5 -6.1l3.5 -3.5l3 -2.3l4.5 -2.6l1.5 -.5l1.5 -.2l1.5 .2l1 .4l1 .9l1 1.3l1.5 2.6l2 5.7l4.5 17.7l2 6.4l1.5 3.3l1 1l.5 .2l.5 -.1l.5 -.2l1.5 -2.1l6.5 -17.7l2.5 -4.9l1.5 -2.4l1 -1.2l1 -.9l2 -1.2l1.5 -.5l1 0l1 .2l1 .6l2 1.6l1 1l1.5 2.5l1.5 3.4l1.5 5.9l4 22.7l5.5 34.5l2 9.1l1 3.7l.5 1.2l.5 .6l1 -.2l1.5 -.6l3 -1.9l4 -3.9l2.5 -2l1.5 -1l1.5 -.5l1 0l1.5 .7l1.5 1.3l2 2.3l1 1.5l1 2.2l3.5 11.1l4.5 19.8l3.9 14.6"/>
<path stroke="#28E2E5" d="M312.8 304.9l4 -1l2 -.8l1.5 -1.1l2 -2.1l2 -3.2l4 -7.2l9 -18l5.5 -9.9l2 -2.7l2.5 -2.4l2 -1.4l2.5 -1.1l2.5 -.6l2.5 0l5.5 1.4l3 1.6l5.5 4.1l5 4.9l4.5 4.8l4.5 3.5l1.5 1.9l1.7 2.8"/>
<path stroke="#28E2E5" d="M413 332.9l8.5 -4.2l8 -4.7l4 -1.8l5.5 -2.9l.5 -.4l1 -.3l1 -.7l1.5 -.6l1 -.6l1 -.2l1 -.5l.5 0l2 -.7l2 -.9l.5 -.1l.5 -.4l1.5 -.4l.5 -.5l6 -1.8l.5 .1l.5 -.4l1 .2l1 -.1l1 -.4l.5 .2l.5 -.3l1 .1l1 -.4l1.5 .4l1 -.3l2 .2l1.5 .8l.5 -.3l.5 .6l.5 0l3 1.6l.5 0l.5 .3l1.5 1.2l.5 -.4l1 1.1l1 .6l.5 0l1 .8l.5 .2l1 -.2l1 1l.5 .8l.5 -.4l3.5 2.6l1.5 .5l.5 -.1l.5 .9l1 .1l.5 .9l1 0l.5 .7l1 .8l1 .2l.5 -.1l.5 .6l1.5 1.1l.5 -.2l1 .5l1 1.3l.5 -.7l1 1.4l.5 .1l1 .7l1.5 .8l.5 0l.5 .8l.5 0l.5 -.5l1.5 1.8l.5 -.4l.3 .8"/>
<path stroke="#DF536B" d="M98.4 340.9l3 -.4l6 -2.1l5.5 -.4l1.5 -.3l1 -.4l1 -.7l1.5 -1.4l5 -5.9l2.5 -2.7l1.5 -1l2 -.8l1.5 .2l6.5 3.1l5.5 2.9l2 .4l3.5 -.1l1.5 .1l5 2l1 0l.5 -.5l1 -2.3l1 -1.7l1 -2.9l1.5 -7.2l1 -8.5l1 -10.9l2 -26.3l1.5 -23.2l4 -73.7l1 -11l1.5 -12.3l1.5 -7.2l1.5 -4.8l1.5 -3.5l2 -3.4l1.5 -2l1.5 -1.6l5 -3.8l5 -5.2l2.5 -2.1l1 -.5l1.5 -.3l1 .1l1.5 .4l1.5 .9l2 2.7l1.5 2.7l1.5 3.5l4.5 13.9l2.5 6.9l1 2.1l.5 .6l.5 .2l.5 -.1l.5 -.5l1.5 -3l3 -8.7l3.5 -8l1.5 -2.9l2.5 -3.8l2 -2.1l3.5 -2.7l1.5 -.8l1 -.1l.5 .1l1 .6l1 1l1.5 2l1.5 2.7l2 5l1 3.3l1.5 6.6l4.5 23.9l2.5 11.9l1.5 5.2l2.5 5.9l1 1.3l1 .2l1 -.3l2 -1.1l3 -2.4l2 -1.3l1.5 -.7l2 -.5l2 0l3.5 .6l1.5 .6l1.5 1.2l1 1.3l1.5 2.9l3 8l4.5 16l3.9 12.7"/>
<path stroke="#F5C710" d="M312.8 315.3l6.5 -1.7l2.5 -1.4l2 -1.7l1.5 -1.8l2 -2.9l8.5 -14.3l4 -6l2.5 -3.3l2.5 -2.6l3 -2.5l2 -1.1l3 -1l3 -.2l3 .5l4 1.3l3 1.7l5 3.9l6 5.5l4.5 2.8l2.5 2l2 2.6l2.2 4.3"/>
<path stroke="#9E9E9E" d="M413 335.8l10 -5l4.5 -1.7l2.5 -1.2l2 -1l3.5 -2.2l2.5 -1.4l2.5 -1.1l.5 0l2 -1.3l.5 .1l.5 -.4l1 -.2l.5 -.5l.5 -.1l2 -.8l.5 0l2 -.9l1 -.1l1 -.3l1 0l1 -.5l1 0l1 -.4l.5 .2l.5 -.5l.5 .2l1.5 -.5l.5 .2l.5 -.5l1 -.1l1 -.6l.5 .2l.5 -.5l1 .3l.5 -.8l.5 .4l.5 0l.5 -.3l1.5 .1l.5 .3l.5 -.1l.5 .4l.5 -.1l.5 .5l.5 -.2l.5 .2l1.5 .6l2 .6l1 .8l1 .4l1.5 1.1l.5 0l.5 .6l1 .2l.5 .5l1.5 .6l1.5 1.3l.5 -.2l3 2.3l1.5 .3l.5 .5l1 0l.5 .6l1 0l.5 .7l.5 .3l2 .4l.5 .6l.5 .3l.5 .5l.5 -.3l.5 .6l.5 -.1l.5 .6l1.5 1.2l1 -.3l.5 1.1l1 .2l.5 .2l.5 .7l1 -.3l.5 .7l.5 .3l.5 -.3l1 1l1 .6l.5 -.3l.5 .6l.5 0l.5 .9l.5 -.5l1.3 .8"/>
<path stroke="#9E9E9E" d="M98.4 340.2l2 -1l1.5 -.3l5 -.2l2 -.3l4.5 -1.8l3.5 -1l1 -.5l1.5 -1l1.5 -1.3l2 -2.3l3.5 -4.7l2 -2l1 -.5l.5 .1l1 .6l5 4.3l1.5 .8l1.5 .6l6 .9l6 2.3l1.5 .3l1.5 -.2l1.5 -.7l.5 -.4l.5 -.9l2.5 -6.8l1 -4l1 -7.2l1 -10.4l2 -25.9l2 -30.3l4 -73.8l1 -11l1.5 -12.6l1 -5.2l1 -3.9l1 -2.9l1 -2.1l7.5 -8.9l2 -1.9l2 -1.5l2 -1l4 -1.2l5 -2.4l1.5 -.2l1 .7l2 2.8l2 4.4l5 14.5l2 4.9l1 2l.5 .6l.5 .3l.5 -.1l.5 -.3l1 -1.2l1.5 -2.8l2.5 -7l2.5 -5.7l3.5 -7l2.5 -4.2l1 -1.2l1 -.9l1.5 -.8l1 -.3l1.5 .2l1 .6l1 .8l2.5 3.2l1.5 2.4l1.5 3.4l1 2.9l2 8.3l5 27.3l2.5 12.1l1 3.8l2.5 6.2l1 1.2l.5 0l2 -.7l5.5 -2.1l5.5 -3.5l1.5 -.7l1 -.2l1 0l1.5 .5l1 .6l1.5 1.4l1.5 1.7l1 1.6l1.5 3.2l2 5l8.4 29.4"/>
<path stroke="#61D04F" d="M312.8 312.2l6.5 -2.7l2 -1.5l1.5 -1.5l1.5 -1.9l2 -3.2l9 -16.2l7.5 -12.1l2 -2.5l2.5 -2.3l2 -1.3l2.5 -.8l4 -.6l3.5 .1l3.5 .8l2.5 1.5l6.5 5.2l7 7.4l5.5 5.2l1.5 2l2.2 4"/>
<path stroke="#DF536B" d="M413 336.8l6.5 -2.9l7 -2.2l2.5 -1l6 -3l1 -.7l1 -.2l2 -1.1l3.5 -1.3l1.5 -.8l1 -.1l.5 -.4l1 -.2l1 -.7l1 0l1 -.6l.5 .1l.5 -.3l1 -.1l1 -.6l1 0l1 -.5l2.5 -.7l.5 -.5l.5 .2l.5 -.4l.5 .1l1 -1l.5 .2l1.5 -.9l2 -.5l.5 -.5l.5 .5l1 -.4l.5 .1l.5 -.2l1 .4l1.5 .3l1 .5l.5 -.5l1 .8l.5 -.3l.5 .6l1 .2l1 .6l.5 .5l.5 -.1l1.5 1.2l1 .4l.5 .5l.5 .1l.5 .6l1 .5l.5 .6l.5 .1l.5 .4l.5 -.2l.5 .5l.5 .1l1.5 1.4l1 .5l1 0l.5 .4l.5 .7l.5 .3l.5 -.2l1 1l.5 -.3l2 1.2l.5 0l1.5 1.4l.5 -.6l.5 1.1l.5 -.1l1 .4l.5 .5l.5 -.1l.5 .2l.5 .5l.5 .9l.5 .1l.5 .4l.5 -.3l.5 .3l.5 -.3l.5 .2l1 .9l.5 -.2l.5 .4l.5 -.2l1 .2l.5 1.1l.5 -.6l.5 .6l.5 -.3l1 .5l.5 .6l1.5 -.2l.3 .7"/>
<path stroke="#61D04F" d="M98.4 341.2l6 -1.7l2 -.3l5 -.1l2 -.5l1.5 -.6l1.5 -1l2 -1.8l7.5 -7.9l2.5 -1.7l1 -.3l1.5 .4l7 4.4l3 1.5l2.5 .4l5 -.1l1.5 .4l3 1.4l1.5 .4l1 0l.5 -.5l2 -3.8l1.5 -4.7l1 -4.9l1 -8.1l1 -10.4l2 -25.9l1.5 -23.1l4 -73.6l1 -10.9l1.5 -11.9l1 -5l1.5 -5.3l1.5 -4l2 -3.4l1.5 -2l2 -2l4.5 -3.7l4.5 -4.1l2.5 -1.8l2.5 -1l1.5 -.2l1.5 .1l1 .2l1 .6l1.5 2l2 3.8l1.5 3.8l4.5 14.3l2.5 7.2l1 2.2l.5 .6l.5 .1l.5 -.1l.5 -.5l1.5 -2.9l3 -7.9l2 -4l2.5 -4.3l2.5 -3.5l1.5 -1.7l1 -.8l3.5 -2l1 -.3l1 .1l1.5 1l2 2.6l2 3.3l1.5 3.3l1.5 4.2l1.5 5.6l4.5 23.2l2.5 11.1l1.5 5.1l2 4l1.5 2l1 .4l2 -.6l4 -2.3l2.5 -1.2l4 -1.3l3 -.3l2 .1l1.5 .7l1.5 1.2l1.5 2.1l1 1.9l3 7.3l8.4 27"/>
<path stroke="#F5C710" d="M312.8 308.3l3 -.6l3 -1l2 -1.4l2 -2l2 -2.8l3.5 -5.8l8.5 -16.8l3 -5.3l2.5 -4l2 -2.6l3 -2.8l2 -1.3l2.5 -1l2.5 -.4l2.5 .2l6 1.1l1.5 .7l1.5 .9l4 3l8.5 7.8l6 4.8l1.5 1.8l2.2 3.8"/>
<path stroke="#61D04F" d="M413 338.9l9 -2.6l4.5 -1.9l1 -.6l4 -1.4l1.5 -.7l.5 0l1.5 -.7l.5 -.5l1.5 -.4l.5 -.5l1 -.6l.5 -.1l.5 -.5l1.5 -.8l3.5 -1.5l3 -.6l2.5 -.9l.5 .1l1 -.7l1 -.1l1.5 -.6l.5 -.5l1 .1l1 -.6l1.5 -.2l.5 -.6l.5 .3l1 -.3l.5 -.3l1.5 -.2l.5 .2l.5 -.4l1 0l2 -.5l1 .1l.5 -.2l.5 .5l.5 -.4l1 -.2l.5 .4l1.5 .3l1 .5l.5 -.2l.5 .5l.5 .2l.5 .6l.5 -.1l.5 .9l.5 .1l1 .7l1.5 1.4l.5 -.1l1 1.1l2 .5l.5 .5l.5 0l.5 .7l1.5 .3l.5 .8l1 .5l.5 -.1l.5 .7l.5 .2l.5 .5l.5 0l1 .6l.5 1.2l.5 -.3l1 .6l.5 -.3l.5 1.4l.5 -.4l1 .6l1 0l1 .8l.5 -.1l1.5 .7l1 -.4l.5 .8l.5 -.1l.5 .9l1 0l.5 .6l1.5 0l1.5 .8l.5 -.3l.5 .8l.5 -.2l.5 .1l.5 -.5l.5 .6l.5 -.1l.5 .9l1 -.4l.5 .1l.5 .6l.3 -.4"/>
<path stroke="#CD0BBC" d="M98.4 337.9l2.5 -.2l2 -.5l2 -1l3.5 -2.4l2 -1l2 -.6l3.5 -.4l1 -.5l1 -1l2 -2.6l5.5 -9l2 -1.8l1.5 -.7l1 0l.5 .3l3 2l5.5 1.9l7 4.3l5 1.7l1.5 .4l1.5 -.1l1.5 -1l.5 -1l1.5 -7.1l2 -7.8l1 -7.5l.5 -6.1l5 -82.8l3.5 -74.5l3 -39.2l1.5 -11.3l1 -4.6l1 -3.5l1.5 -2.8l2 -3l2 -2.3l2 -1.7l1.5 -.7l1.5 -.4l7 -1.7l2 -.2l1 .2l1.5 .6l1.5 1.1l1.5 1.5l2.5 3.9l1.5 3.6l1.5 4.7l4.5 17.4l2 5.5l1 2l.5 .6l1 .6l.5 0l1 -1l1 -1.7l7 -22.1l2 -4.7l2 -3.8l1 -1.4l3 -3.3l1.5 -1.3l1 -.6l1 -.2l1.5 .3l1 .6l1 1l1 1.5l1.5 3.2l1 3l1 4.5l4.5 26.6l5 34l2.5 12.5l1 3.3l.5 .8l.5 .1l1.5 -.1l1.5 -.6l2 -1.2l3 -2.9l1.5 -1.2l2 -.9l1.5 -.2l1.5 .2l2 1.1l2 1.7l2.5 2.5l1 1.7l1 2.5l3 9.9l4.5 20.1l3.9 14.6"/>
<path stroke="#CD0BBC" d="M312.8 308.8l6.5 -2.4l1.5 -1l2 -1.9l2 -2.7l3.5 -5.6l8.5 -15.8l6.5 -10.9l2 -2.5l2.5 -2.5l1.5 -1l3 -1.1l3 -.6l3 .2l4 .9l2 1.1l6.5 5.5l8.5 8.5l5.5 4.3l1.5 1.8l1.7 2.7"/>
<path stroke="#CD0BBC" d="M413 334.9l6.5 -2.7l9 -4.4l4 -1.6l6 -3.3l.5 0l1.5 -.9l1 -.2l.5 -.4l2 -.4l.5 -.5l1 0l2.5 -.8l.5 .1l1 -.5l.5 0l2 -1.2l1.5 -.4l1 -.7l.5 0l2 -.6l.5 -.4l.5 .3l1 -.6l.5 .1l.5 -.3l.5 .1l.5 -.5l.5 .2l.5 -.4l.5 .2l1 -.2l1.5 -.8l1 .2l.5 -.3l1 .4l1.5 0l1 .3l.5 .4l.5 .1l.5 -.3l.5 .1l.5 .4l.5 0l.5 .3l.5 .6l.5 0l.5 .5l.5 0l.5 .6l2 .6l1 1l.5 .1l3.5 1.7l1 .2l.5 1l.5 -.4l1 1.1l.5 -.2l1 1.1l1.5 .7l1 .7l1.5 1.7l1.5 .5l1.5 1.1l.5 0l.5 .4l.5 0l.5 .5l.5 -.1l1 1.2l1 0l.5 .7l.5 -.3l.5 .8l.5 0l.5 .4l1 -.1l.5 .7l.5 -.1l1.5 .9l1 -.1l1.5 .9l1.5 -.2l.5 1.2l.5 -.4l1.5 .5l.3 -.3"/>
<path stroke="#61D04F" d="M98.4 339.8l4 -.7l6 -1.4l5 -.9l2.5 -.8l1.5 -1.2l2 -2.2l6.5 -8.6l2 -1.5l1 -.4l.5 0l1 .3l2.5 1.8l2.5 1.5l5 2.4l2.5 1l2 .4l4 .5l4 1.4l1.5 .3l1 -.1l.5 -.5l.5 -1.2l2 -4.9l1.5 -6l1 -7.3l1 -10.7l2 -26.3l2 -30.1l4 -73.8l1.5 -16l1.5 -11.3l1.5 -6.7l1.5 -4.6l1 -2.3l2.5 -4.4l2 -3l2 -2.7l4 -4.4l6.5 -7.9l1.5 -1.5l1.5 -1.2l2 -.7l1.5 0l1.5 1.1l2 2.9l2.5 5.9l4 13.3l2 5.7l1.5 3.5l1 .9l.5 0l.5 -.2l1.5 -2.5l1 -2.3l2 -5.9l3.5 -8.2l2 -3.8l2.5 -3.6l1 -.9l1 -.7l2.5 -1.2l1.5 -.3l1 .1l1 .4l2 2l1.5 2.1l1.5 2.8l2 5.2l1 3.6l1.5 7.2l7 37.9l1 4.4l2.5 7.4l1 1.8l.5 .4l1 .1l1 -.1l2.5 -1l5.5 -3.5l2 -.9l2 -.3l2 .2l2 .7l1.5 1l1.5 1.4l1 1.4l1.5 3.1l3 8.4l4.5 16.9l3.9 13.4"/>
<path stroke="#28E2E5" d="M312.8 313l7 -2.7l2 -1.2l1.5 -1.4l1.5 -1.8l2 -3l8.5 -14.5l7.5 -11.2l2.5 -2.8l2.5 -2.1l1.5 -.8l2.5 -.7l3.5 -.5l3.5 .2l3.5 .8l2.5 1.2l6 4.5l7 6.7l6.5 5.5l1.5 1.8l2.2 3.9"/>
<path stroke="#F5C710" d="M413 334.9l5 -2.8l7.5 -3.4l4.5 -2.3l2.5 -1.1l2 -.6l.5 -.4l.5 0l2.5 -1l3.5 -2l1 -.4l.5 -.5l1.5 -.4l1.5 -.9l1 -.3l1 -.1l1 -.3l.5 -.3l1 -.2l.5 -.4l1.5 -.2l.5 -.4l1 -.2l.5 -.3l1 0l1.5 -1.2l.5 .3l.5 -.3l.5 .1l2 -.6l.5 .1l.5 -.8l.5 .6l.5 -.3l1 0l.5 -.5l.5 .2l.5 -.2l.5 .2l.5 -.2l1 .1l1 -.2l.5 .2l.5 -.4l1 0l.5 .6l.5 -.3l1 .2l.5 .3l.5 -.2l.5 .6l1 -.3l1 1.2l1 .3l.5 .5l.5 .2l.5 .7l1 .2l.5 .8l.5 -.3l.5 .8l.5 -.1l.5 .7l.5 -.1l.5 .6l.5 -.1l.5 .6l.5 -.1l1 .9l1 .1l1 .6l.5 -.1l1 1.2l.5 0l.5 .3l.5 .6l1 .4l.5 .6l.5 .1l1 .6l.5 .7l.5 -.3l.5 .9l.5 -.4l.5 .5l.5 -.2l.5 .5l.5 -.3l.5 1.2l.5 -.5l.5 .8l.5 .2l.5 .5l.5 -.6l.5 .6l.5 .1l1.5 1l.5 .6l1 -.1l1.5 1l.5 .1l.5 1.1l1.5 -.2l.5 .8l1.5 .8l.5 -.1l1 .6l.3 -.4"/>
<path stroke="#CD0BBC" d="M98.4 339.4l2 -.3l4.5 .3l2 -.3l2 -.9l4.5 -2.8l4 -1.4l1.5 -1.1l1.5 -1.4l2 -2.4l3.5 -5l2 -1.9l1 -.6l.5 0l1 .4l3 2.6l2 1.2l2 .5l4.5 .3l2 .5l2 1l4.5 2.7l1.5 .6l1 .3l1 -.1l1.5 -.8l.5 -.7l2.5 -7l1 -3.6l1 -5.7l1 -9.8l2.5 -33.2l2 -30.1l4 -73.8l1.5 -15.9l1.5 -11.4l1.5 -6.6l1 -2.9l1 -2l4 -4.8l4 -5.4l2.5 -2.8l2.5 -2.3l8 -6.2l1.5 -.6l1.5 .1l1 .9l1.5 2.2l1.5 3l2 5.1l4 12.6l1.5 4l1.5 3.1l.5 .7l.5 .3l.5 0l.5 -.2l1 -1.1l1.5 -2.5l2.5 -7.1l4 -9.6l3 -6l2 -3l1 -.9l2 -1.2l1.5 -.5l1.5 0l1 .2l1 .4l2 1.4l1 .9l1.5 2.4l1 2.2l1.5 5.3l1.5 7.2l7.5 40.4l2 7.2l1.5 4.2l.5 .7l.5 .3l2 -.3l2.5 -.8l3 -1.8l4.5 -3.7l2 -1l1 0l1 .2l1.5 1.1l1.5 1.7l2.5 3.5l1 1.8l1.5 3.6l2 5.7l1.5 5.1l3.5 14l3.9 14.1"/>
<path stroke="#61D04F" d="M312.8 312.3l6.5 -2.2l1.5 -1l2 -1.7l2 -2.5l3.5 -5.3l12 -20.5l3 -4.5l2 -2.2l3 -2.6l3.5 -1.9l2.5 -.9l1.5 -.2l1.5 0l5 1.2l2.5 1.3l3 2.1l3.5 3.1l6.5 7.4l6.5 5.1l1.5 1.8l2.2 4"/>
<path stroke="#DF536B" d="M413 338l5 -1.8l3.5 -1.7l4.5 -1.9l6 -2l7.5 -3.5l.5 0l2 -.8l.5 -.3l1 -.3l.5 -.5l1 -.1l2.5 -1.3l.5 .1l2 -1.1l.5 0l.5 -.4l1 -.2l1.5 -.7l.5 .2l1 -.5l2 -.4l.5 -.1l.5 .2l1.5 -.5l1.5 0l1.5 -.6l1 0l.5 -.3l1 0l1 -.4l1 .1l.5 -.4l1.5 .8l.5 -.3l1.5 .7l.5 -.3l.5 .7l.5 -.4l1.5 .4l.5 .5l1 .2l.5 .7l.5 -.1l2 1.3l.5 .8l.5 -.4l.5 .5l.5 .1l.5 .6l.5 -.1l.5 .6l1.5 .8l1 1.1l.5 -.1l1 .6l.5 1l2 .7l.5 .6l.5 0l.5 .9l.5 -.6l.5 .6l.5 0l.5 .7l.5 0l.5 -.4l1 1.2l1 0l1.5 .5l.5 -.1l1 1l.5 -.4l2.5 1.2l.5 -.2l1 1.2l1.5 -.3l1 .7l.5 -.5l.5 .9l1 -.2l.5 .8l1 -.3l.5 .1l.5 .4l.5 -.2l1 1.3l.5 -.4l.3 0"/>
<path stroke="#2297E6" d="M98.4 340l2 -.1l2 -.4l7 -3.2l5.5 -1.3l1.5 -.6l1 -.8l2 -2.1l6 -7.6l2 -1.5l1.5 -.7l1.5 .1l2.5 1.4l5.5 1.9l6 3l4.5 1.2l4 1.5l1 .2l1 -.2l.5 -.3l.5 -.9l1 -3.4l1.5 -4.2l1.5 -6.5l1.5 -14.1l4.5 -66.4l3 -59.3l1 -16.7l2 -22l1 -8l1 -5.4l1.5 -5.5l1 -2.4l2 -3.3l2.5 -3.4l2 -2.1l8.5 -6.2l3 -1.4l2 -.1l1.5 .6l1.5 .9l1 .9l1 1.4l2.5 4.5l2 5.2l4.5 15.5l2 5.8l1.5 3.2l1 .8l.5 -.1l.5 -.3l2 -3.5l2.5 -7.5l4 -10.3l2.5 -5.1l2 -3.3l4.5 -5l2 -1.5l1 -.3l1 .2l1.5 .8l1 1l1 1.3l1.5 3l1 2.7l1 3.7l1.5 7.2l7.5 41.7l2.5 9.7l1.5 4.1l.5 .7l.5 .1l2 -.5l2 -1.2l5 -4.1l2 -.8l1.5 -.3l2 .3l2 .9l2 1.3l2.5 2.6l1 1.6l1 2.3l3 8.7l4.5 17.7l3.9 13.4"/>
<path stroke="#28E2E5" d="M312.8 311.9l4.5 -1.1l2 -.8l1.5 -.9l2 -1.8l1.5 -1.9l2 -3.1l10 -17.8l4 -6.4l2.5 -3.6l2 -2.3l3 -2.7l2 -1.2l3 -1.2l2.5 -.3l3 .4l4 1.3l3 1.7l5.5 4l7 6.2l6 4.7l2 2.5l2.2 4.2"/>
<path stroke="#61D04F" d="M413 331.2l3.5 -2.1l5 -2.7l8.5 -5.6l3.5 -1.6l.5 -.5l.5 -.1l1.5 -.8l.5 -.1l.5 -.4l4.5 -1.8l.5 -.5l2 -.5l.5 -.4l.5 .2l.5 -.4l2.5 -.7l.5 -.4l1.5 -.3l1 -.7l.5 .2l1 -.6l.5 -.5l1 -.1l.5 -.5l.5 .1l.5 -.6l.5 .1l3 -1.5l1.5 .1l.5 -.4l1 -.1l1 -.3l1 .4l1 -.4l2 .1l1 -.4l1.5 .5l2 .1l.5 .6l.5 -.6l.5 .4l1 .2l1.5 .9l.5 0l.5 .3l.5 -.2l.5 .7l.5 .3l1 .1l.5 .4l1 .1l1.5 1.1l.5 -.3l1 .5l.5 0l.5 .2l.5 .9l1 .4l.5 -.2l1 1l.5 -.1l.5 .7l.5 .1l.5 .6l1.5 .8l.5 0l.5 .8l.5 .3l.5 .7l1 .1l.5 1l.5 0l1 .9l.5 -.1l.5 .6l.5 .1l.5 1l1 -.1l.5 1.2l.5 -.2l.5 .3l.5 .7l.5 -.5l1 1.1l.5 0l.5 1l.5 .2l.5 -.1l.5 .5l.5 .3l.5 .7l.5 0l1 .9l1 .6l1 -.1l.5 1l.5 -.2l.5 .6l.5 -.2l.3 .2"/>
<path stroke="#61D04F" d="M98.4 340.7l3 -.2l3 -.6l9.5 -2.8l2.5 -1l1.5 -1l2 -1.9l6 -6.7l2 -1.3l1 -.4l1.5 .2l3 1.7l2.5 1l6.5 2.2l6 1.4l4 1.6l1.5 .4l1.5 -.2l.5 -.7l2 -4.5l1.5 -4.9l1 -5.4l1 -8.9l1 -11.3l2 -27l1.5 -23.3l4 -74.4l1.5 -16l1.5 -11.3l1 -4.8l1.5 -5.3l1 -2.5l2.5 -4.3l3 -4.4l2.5 -3l6.5 -6.8l3.5 -2.6l2 -.7l1 0l1.5 .4l1.5 .9l1 1.2l1 1.7l2 4.2l1.5 4.1l4.5 15.5l2.5 7.4l1 2.2l.5 .6l.5 .3l.5 -.1l.5 -.3l1.5 -2.3l1 -2.1l2 -5.4l3 -6.1l2.5 -4.2l3 -4l4 -2.9l2.5 -1.1l1 0l1 .4l2.5 2.1l1 1.3l1.5 2.8l1 2.5l1 3.3l1.5 6.4l4.5 22.9l2.5 11.6l1.5 5.3l2.5 5.9l1 1.2l1 0l1 -.4l2.5 -1.5l5.5 -4.4l2 -1l1.5 -.3l2 .1l1.5 .6l2 1.2l1.5 1.5l1.5 2l1 2l3.5 9.3l4.5 16.5l3.9 13.2"/>
<path stroke="#CD0BBC" d="M312.8 301.1l5 -1.6l1.5 -.6l1.5 -1.2l1.5 -1.8l2 -3.2l5 -9.5l8 -16.9l4 -8l2 -3.5l2 -2.8l2.5 -2.4l2 -1.5l3.5 -1.7l2.5 -.7l2 .1l3 .9l2.5 1.3l8.5 7.6l4 4l4.5 4.9l1.5 1.1l2.5 1.2l1 .7l1.5 1.8l1.2 1.7"/>
<path stroke="#28E2E5" d="M413 330.6l4.5 -2.8l6.5 -5l3 -1.7l5 -2.4l4 -2.5l.5 0l3.5 -1.9l.5 0l1.5 -.7l1 -.1l2 -1.1l2.5 -.8l.5 -.5l2 -1l.5 -.4l1.5 -.5l1.5 -1l.5 .1l.5 -.3l.5 .1l2 -.8l.5 .3l.5 -.3l.5 -.1l.5 .2l3 -.8l.5 .2l1 -.7l.5 .3l.5 -.3l.5 .1l1 -.5l1 -.3l2 .8l.5 -.3l.5 .1l1 .6l1 .3l.5 0l.5 -.2l1 .8l.5 0l1 .8l.5 -.4l.5 .4l1 .1l.5 .3l.5 .6l1 -.1l.5 .3l1 .1l.5 .3l.5 .6l.5 0l1 .7l.5 .1l.5 .4l.5 .2l.5 .3l.5 .6l.5 .2l.5 .6l1.5 .6l.5 .6l.5 0l1 .8l.5 .2l1.5 .8l1 .4l.5 0l1 .7l.5 .8l.5 -.3l1 .6l1.5 1.5l1.5 .7l1 1.5l.5 -.3l.5 .1l.5 1l.5 .4l.5 .1l.5 1.1l.5 -.2l.5 .2l.5 .8l1 .2l.5 .7l.5 0l.5 .6l.5 -.4l.5 1.1l1 .7l1 .1l.8 .8"/>
<path stroke="#28E2E5" d="M98.4 338l11.5 -3.3l3.5 -1.6l3 -1.7l1 -.9l2.5 -2.9l5.5 -7.3l2.5 -2.2l1.5 -.7l1 .1l5 3.3l4 2.1l2 .6l4.5 .9l2 .8l5 3.2l1 .1l1 -.6l.5 -.5l.5 -1.3l1 -4.8l2.5 -9.7l1 -7.2l.5 -5.8l5 -80.6l3.5 -72.9l2.5 -32.7l1 -9.7l1 -6.5l1 -4.8l1 -3.6l1 -2.1l1 -1.4l1.5 -1.6l9 -6.8l2 -1.2l1.5 -.5l2 -.2l2 .1l2 .5l2 .9l1 .8l1.5 1.9l1.5 2.8l2 5.7l5.5 21.1l2 5.3l.5 .8l1 .7l.5 0l.5 -.2l.5 -.6l1.5 -2.7l2.5 -7.7l4 -11.3l2.5 -5.4l2.5 -4.3l3.5 -3.8l1 -.7l1 -.4l1 .1l1 .5l2 1.5l1 1.2l1.5 2.3l1.5 3.3l1.5 5.6l4 22.9l5.5 35l2.5 11.5l1 3.2l.5 .7l.5 0l1.5 -.7l3 -1.9l4.5 -3.6l3.5 -2.1l2 -.9l1.5 -.1l1.5 .6l1.5 1.3l1.5 1.7l1 1.6l1 2.4l3.5 11.1l4.5 19.5l3.9 14.3"/>
<path stroke="#28E2E5" d="M312.8 302.1l6.5 -2.9l1.5 -1.2l2 -2.3l5 -8.8l8.5 -17l7 -12.8l1.5 -2.2l2.5 -2.9l1.5 -1.2l2 -1l3 -.9l3 -.3l3.5 .4l2 .5l1 .5l1.5 1.1l9.5 8.4l2 2l4.5 5.3l1.5 1.3l3 1.9l2.7 3.2"/>
<path stroke="#CD0BBC" d="M413 331l6.5 -3.8l7.5 -5.1l3.5 -1.8l1.5 -.6l1.5 -.9l2 -.7l1.5 -1l.5 -.1l.5 -.6l.5 0l3 -1.5l1 0l1 -.7l1 -.2l1.5 -.6l1 -.1l.5 -.5l.5 .2l2 -1l1 -.1l1 -.8l1 0l.5 -.3l.5 -.7l.5 .3l.5 -.5l.5 .1l.5 -.6l1 .2l1 -.7l.5 .2l.5 -.5l1 .2l1 -.3l.5 -.4l.5 .3l1 -.2l1 -.6l1.5 0l.5 -.3l.5 -.1l.5 .3l1 -.1l.5 -.3l1 .5l.5 0l.5 -.4l.5 .5l1 -.2l.5 .6l1.5 .2l.5 .2l.5 .6l.5 -.3l.5 .3l.5 -.1l.5 .5l.5 .1l.5 .7l.5 0l1.5 .7l.5 -.2l.5 .6l.5 -.3l.5 .1l.5 .7l1.5 .4l.5 .6l1 .3l2 1.2l1.5 .7l.5 .9l1 .3l2 2.2l.5 0l.5 .3l.5 -.4l.5 1.1l1.5 .4l.5 .4l.5 .7l.5 -.2l.5 .7l.5 .1l.5 -.3l.5 1l.5 .4l.5 -.1l.5 .9l1 .6l.5 -.1l.5 .9l.5 .5l.5 -.2l1 1.1l.5 0l.5 .8l.5 -.4l.5 1.1l.5 -.2l.5 .3l.5 .7l.5 0l1 .7l.5 -.1l.5 .7l.8 .5"/>
<path stroke="#CD0BBC" d="M98.4 340l5.5 -1.8l6.5 -1.6l3 -1.3l3 -1.5l1.5 -1.1l2.5 -2.5l5.5 -6.5l2.5 -2.1l1 -.5l.5 0l1 .3l5 3l3.5 1.7l2 .7l6 1.4l1.5 .7l4 2.3l1 .2l1 -.4l.5 -.4l.5 -1l3 -9.4l1 -4.6l1.5 -13.9l4.5 -65.5l4 -75l2 -21.4l1 -7.5l1 -5.1l1 -3.8l1 -2.8l1 -1.9l2.5 -3.1l9.5 -10.4l2 -1.9l1.5 -1.1l3.5 -1.8l1.5 -.4l2 -.2l1.5 .3l1 .8l1 1.1l1.5 2.5l1.5 3.4l4.5 14.2l2 5.2l1.5 2.6l.5 .3l.5 0l.5 -.3l1 -1.3l1.5 -3.2l2.5 -8l3.5 -9.8l2.5 -5.5l2.5 -4.6l1 -1.4l2 -2.3l1.5 -1.3l1 -.6l1 -.1l1 .3l1 .6l1.5 1.5l1.5 1.9l1.5 2.9l1.5 3.9l1 4l3.5 19.4l5.5 32.8l2.5 10.5l1.5 4.5l.5 .6l.5 0l1 -.3l8 -4.7l3 -1.2l2 -.4l1.5 0l1.5 .6l1.5 1.1l1.5 1.7l1.5 2.2l1 2.2l3.5 10.3l4.5 17.9l3.9 13.7"/>
<path stroke="#CD0BBC" d="M312.8 309.8l4 -.9l2 -.7l2 -1.4l2 -1.9l2 -2.8l4 -6.4l8.5 -15.8l3.5 -6.1l2 -3.1l2 -2.5l3 -2.8l2 -1.4l3 -1.2l1.5 -.3l2 .2l6 1.9l2.5 1.2l3 2.1l3 2.4l7 6.9l6.5 5.2l1.5 1.9l2.2 3.9"/>
<path stroke="#2297E6" d="M413 334.9l3.5 -1.7l7 -4.2l4.5 -1.8l2 -1.1l.5 -.1l2 -1.4l1.5 -.7l.5 -.5l2 -.9l2 -.7l3 -.6l1 -.4l.5 .1l1 -.7l.5 .2l.5 -.4l.5 0l.5 -.3l1 -.4l1 -.8l.5 0l.5 -.5l1 -.1l.5 -.5l1 -.1l.5 -.5l1 -.1l3 -.8l1 0l.5 -.5l.5 .1l1.5 -.4l.5 -.5l2.5 -.6l.5 -.5l1.5 -.5l.5 .2l1 -.4l1 .2l.5 -.4l.5 .7l.5 -.1l.5 .4l.5 0l.5 .2l.5 -.1l.5 .5l.5 .2l.5 -.1l.5 .3l.5 0l2.5 1.1l.5 0l.5 -.6l.5 .9l.5 .4l1 .2l.5 .4l.5 -.1l1 .8l.5 .2l.5 -.1l1.5 1.2l.5 -.1l.5 .7l1 .5l1 1.2l.5 -.4l1 .9l.5 .2l.5 .7l1 0l.5 .7l.5 .3l.5 -.2l1 .5l.5 .6l.5 -.2l1 .9l1 .1l.5 .3l.5 .8l1 .6l.5 .9l.5 -.2l1 .6l.5 .7l.5 -.1l1 1.2l1 0l.5 .8l1 -.3l1 1l1 0l.5 .3l1 0l.5 .2l.5 .7l1 -.1l.5 .4l.5 -.1l.5 1.3l.5 -.5l.5 .7l.3 -.4"/>
<path stroke="#61D04F" d="M98.4 337.7l2 -.3l1.5 -.5l5 -2.8l2 -.9l2 -.5l3.5 -.4l2 -.8l1 -1l2 -2.8l6 -9.6l2 -1.7l1.5 -.8l1.5 .1l2.5 1.4l4 1.5l1.5 .9l4 2.8l2.5 1.2l4 .9l3.5 1.5l1 .3l.5 0l1 -.4l.5 -.4l.5 -1.1l1 -5.2l2.5 -10l1 -7.5l.5 -6.2l5 -82.8l3.5 -73.9l3 -38.9l1.5 -11.1l2 -8.1l1 -2.2l2 -3.3l2 -2.3l2 -1.7l4.5 -2.4l5 -3.2l2.5 -.9l1.5 0l1.5 .5l2.5 1.3l1 .9l1.5 1.7l1 1.6l2 5.2l4.5 17.5l2.5 7.7l1 2.1l.5 .6l1 .8l.5 0l1 -1.1l1 -1.8l6.5 -20.9l1.5 -3.6l2.5 -4.8l1.5 -2.2l2.5 -2.8l1.5 -1.6l1 -.7l1 -.3l1 .2l1.5 .8l1 .9l1.5 2.3l1.5 3.3l1 2.8l1 4.2l4.5 26.5l5 34.3l2.5 12.9l1 3.6l.5 .7l1 .1l1 -.4l2.5 -1.6l3.5 -3.4l1.5 -1.2l1.5 -.7l2 -.4l2 .1l2.5 .9l2 1.5l2 2l1 2l1 2.8l3 10.7l4.5 21.1l3.9 14.8"/>
<path stroke="#28E2E5" d="M312.8 305.2l5 -1.9l1.5 -.7l1.5 -1.2l1.5 -1.7l1.5 -2.2l3.5 -6.2l9.5 -18.1l5 -9.1l2 -3.2l2 -2.5l2.5 -2.5l1.5 -1l4 -2l2.5 -.6l3 .2l3 .8l2.5 1.4l6.5 5.4l4.5 4.6l5 5.8l4 3.1l1.5 1.8l1.7 2.7"/>
<path stroke="#28E2E5" d="M413 332.2l2.5 -1.4l4 -1.8l2.5 -1.4l6.5 -4.3l8 -3.5l5.5 -3.2l.5 -.1l1 -.6l2.5 -.6l1.5 -.7l1.5 -.2l.5 -.5l.5 0l.5 -.4l.5 .2l1 -.8l.5 .1l.5 -.3l.5 -.6l.5 .1l.5 -.5l.5 0l1 -.7l1 -.1l.5 -.4l.5 .2l1 -.4l1.5 .1l.5 -.3l1.5 0l2 -.3l.5 .1l.5 -.3l1 0l.5 -.4l.5 .4l3 -.3l2 .4l.5 -.1l1 1l2.5 1l.5 .8l.5 -.3l1.5 .9l.5 -.2l1.5 .9l1.5 .3l1 .5l.5 0l.5 .5l2.5 .8l.5 .9l.5 .2l1 1.1l.5 -.2l.5 .8l.5 -.3l1.5 1.6l1 .3l.5 .5l.5 1.1l1 -.1l1 .2l2 1.8l.5 -.3l.5 0l.5 .8l.5 .1l1 .6l1.5 1.3l.5 -.1l1 1.2l.5 -.1l.5 .7l1 .4l.5 -.2l.5 .9l.5 .3l.5 .8l.5 -.5l.5 .8l.5 .1l.5 .4l1.5 .3l.3 .6"/>
<path stroke="#DF536B" d="M98.4 338l3.5 -.3l3 -.7l10 -3.9l1.5 -.7l1 -.9l2 -2.4l6 -8.6l2 -1.6l1.5 -.7l1.5 .3l2.5 1.7l2 1l13.5 4.4l4.5 2.2l1 .2l1 -.4l.5 -.4l.5 -1.1l1 -4.6l1.5 -5.1l1 -4.4l1 -7l.5 -5.8l5 -79.1l3.5 -71.6l2.5 -31.9l1.5 -12.6l1 -5.3l1 -3.9l1 -2.7l1.5 -2.4l2 -2.4l3 -3l8.5 -7.1l2.5 -1.8l1.5 -.8l1 -.4l1.5 0l1.5 .3l1 .5l1 .9l2 2.7l1.5 3.4l1.5 4.4l4 15.2l1.5 4.7l1 2.7l1 2l.5 .6l1 .4l.5 -.1l.5 -.5l1.5 -2.6l2.5 -7.8l4 -11.5l2 -4.2l2.5 -3.9l1 -1l2.5 -1.6l1.5 -.7l1 -.1l1 .1l1 .4l2 1.7l1 1.3l1.5 2.6l1.5 3.6l1.5 5.9l4 23.1l5.5 34.8l2.5 11.2l1 3l.5 .7l.5 .1l1.5 -.2l1.5 -.7l2 -1.4l4.5 -4.2l2.5 -1.5l1.5 -.5l1.5 -.1l1.5 .5l2 1.5l2 2.2l1 1.6l1 2.3l3.5 11.4l4.5 19.7l3.9 14.6"/>
<path stroke="#CD0BBC" d="M312.8 308.9l4.5 -1.5l2 -.8l1.5 -1.1l2 -1.9l2 -2.6l3.5 -5.6l8.5 -15.7l4 -6.7l2.5 -3.8l2.5 -2.9l2.5 -2.4l1.5 -.9l3 -1.2l2.5 -.4l3 .2l4 .9l2.5 1.3l5 4l8.5 7.9l6 4.9l1.5 1.7l2.2 3.6"/>
<path stroke="#F5C710" d="M413 333.5l9 -3.8l5 -3.1l3.5 -1.8l1 -.2l.5 -.5l3.5 -1.7l1.5 -1.1l4.5 -2.4l.5 -.1l.5 -.3l1 -.2l.5 -.3l1.5 0l1 -.5l1 .1l.5 -.4l.5 .1l1 -.6l.5 .1l.5 -.7l.5 .2l1.5 -.8l1.5 -.5l1.5 -1l1 -.1l.5 -.3l.5 .1l1 -.6l1.5 0l2 -.7l1 -.2l.5 .1l1.5 -.6l1 .1l1.5 -.7l1 .5l.5 -.3l1 0l1 .5l1 0l.5 .7l.5 -.2l3 1.7l1 1.1l.5 -.2l.5 .6l.5 -.2l.5 .6l.5 -.4l.5 .5l1 .3l1 .9l.5 -.1l.5 .1l.5 .5l1.5 .2l.5 .7l.5 .1l.5 .6l.5 -.1l1.5 1.1l.5 .6l.5 0l.5 .9l.5 .2l.5 -.1l1 1.2l.5 -.3l.5 1l.5 -.3l.5 .4l1.5 .5l.5 .6l1.5 .4l1 1l.5 0l1.5 .7l.5 1l.5 0l2 1.1l1.5 1.5l.5 -.5l.5 0l.5 .3l.5 1.2l1 .4l.5 -.2l1 .8l1 .2l.5 .5l.5 -.1l.3 .3"/>
<path stroke="#61D04F" d="M98.4 335.2l2 -.6l3.5 -.4l2 -.5l6 -2.8l4 -1.1l1 -.5l1 -1.2l2 -2.8l5.5 -10.5l2 -2.4l1.5 -.9l.5 0l1 .6l2.5 2.8l2.5 1.8l7 2.9l8.5 4.2l1.5 .4l1.5 -.3l1.5 -1.1l.5 -.9l1.5 -8.1l2 -8.1l1 -8l.5 -6.7l5 -87.1l3 -68.1l1 -16.3l2.5 -32.9l1.5 -11.6l1 -4.9l1 -3.6l1 -2l1.5 -1.9l2 -1.9l2.5 -2l1.5 -.8l1.5 -.5l4.5 -.5l2 -.4l4 -1.8l1.5 -.4l1.5 -.2l1 .2l1.5 1.1l1 1.1l1 1.7l2 5.3l4.5 17.1l1.5 4.4l1 2.4l1 1.7l1 .7l1 .3l.5 -.3l.5 -.7l1.5 -3.2l6.5 -22.1l2.5 -6.1l2 -3.7l1 -1.2l1.5 -1.1l1.5 -.8l1 -.1l1 .2l1.5 .8l2 1.6l1 1.1l1.5 2.6l1.5 3.7l1.5 6.4l5 31.8l4.5 33.6l2 11.5l1 4.5l.5 1.3l.5 .4l2 -.1l2.5 -.5l1.5 -.9l3.5 -3l3 -2.2l1.5 -.8l1 -.2l1 0l1.5 .8l1.5 1.3l2.5 2.7l1 1.9l1 2.7l3 10.6l4.5 21.7l3.9 15.5"/>
<path stroke="#DF536B" d="M312.8 301l4 -1.2l2 -.9l1.5 -1.3l2 -2.5l9 -16.6l6.5 -14l3.5 -7.1l2 -3.6l2 -2.6l3 -3l1.5 -1.1l3.5 -1.8l2 -.5l2 .3l5.5 1.6l2.5 1.6l3 2.3l2 1.9l5.5 6.2l4 4.9l1.5 1.4l3 1.8l1 .9l2.7 3.5"/>
<path stroke="#61D04F" d="M413 330.9l8.5 -5.5l7 -4l5.5 -3.8l4.5 -2.3l2 -.5l.5 -.4l1 0l1 -.5l2 -.6l2.5 -1.2l1.5 -.4l1.5 -.6l.5 0l1 -.7l.5 .2l1.5 -.8l1.5 -.2l1.5 -.6l.5 -.5l1.5 .1l1 -.5l1 -.1l1.5 -1l1 0l.5 -.4l1.5 .1l1.5 -.3l.5 0l1 .5l.5 -.3l1 .3l1 .7l.5 -.1l1.5 .5l1.5 .2l.5 .4l1.5 .1l.5 .4l.5 0l1 .6l2 .6l.5 .7l1 -.2l.5 .1l.5 .8l1 0l.5 .8l.5 -.1l.5 .6l.5 -.3l.5 .5l.5 .2l.5 .7l.5 -.1l.5 .1l.5 .8l.5 -.2l.5 .6l1 .2l1 .9l.5 1l.5 -.4l.5 .6l.5 0l1.5 1.2l.5 .7l.5 -.2l.5 .7l.5 .3l.5 .6l1 .2l.5 .9l1 .6l.5 .8l.5 .2l.5 .6l1 .4l.5 -.1l.5 .8l.5 -.3l1 1.2l2 1.2l.5 0l.5 .2l.5 1l.5 -.8l.5 1l.5 .3l1.3 1.4"/>
<path stroke="#CD0BBC" d="M98.4 336.2l4 -1.4l6.5 -2.8l2.5 -.7l3.5 -.5l1.5 -.6l1 -1l2 -2.9l6 -10.6l2 -2.2l1.5 -1l.5 -.1l1 .3l2.5 2.1l4.5 2.6l5 3.2l2.5 1.2l4 1.1l2.5 1.1l1.5 .3l1 0l.5 -.3l1 -.8l.5 -1l1.5 -8.1l2 -8.2l1 -7.9l.5 -6.6l5 -86.6l3 -67.8l1 -16.2l2.5 -32.6l1.5 -11.6l1 -4.7l1 -3.6l1 -2.2l1.5 -2.2l1.5 -1.7l2 -1.6l3 -1.6l9 -3.1l2 -.5l2 0l2 .4l1 .3l1.5 1.2l1 1.2l.5 .9l2 5.3l4.5 17.9l2 6.3l1.5 3.5l1 1.1l1 .6l.5 -.2l.5 -.6l1 -1.7l6.5 -21l2 -4.7l2.5 -4.5l1 -1.3l2 -1.8l1.5 -1l1 -.4l1 0l1 .5l2.5 2.3l1.5 2.4l2 4.6l1 3.1l1 4.5l4.5 27.7l5 35.5l2.5 13.3l1 3.2l.5 .6l.5 -.1l1 -.2l1.5 -.6l2 -1.2l3.5 -3.3l1.5 -1.1l2.5 -1.4l2 -.7l2 .1l1.5 .5l1.5 1l2 1.8l1 1.9l1 2.7l3 10.6l4.5 21.6l3.9 15.3"/>
<path stroke="#CD0BBC" d="M312.8 302.1l6 -2.7l1.5 -1.2l2 -2.2l1.5 -2.4l4.5 -8.3l3 -6.1l5.5 -12.1l4 -7.7l2 -3.4l2 -2.7l3 -2.9l2 -1.3l3 -1.3l3 -.9l3.5 -.3l3 .2l2 .9l2 1.6l3.5 3.6l6 7l4.5 5.6l1.5 1.4l3.5 2.5l2.7 3.5"/>
<path stroke="#28E2E5" d="M413 330.4l7 -4l6.5 -4.2l4 -2.1l.5 -.4l2 -.7l.5 -.6l3.5 -1.7l1.5 -.9l1.5 -.6l1 -.6l1 -.3l1.5 -.7l.5 .1l5 -1.8l.5 -.4l1 -.2l.5 -.5l1.5 -.4l1 -.6l.5 .1l1.5 -.9l1.5 -.1l1 -.4l.5 .1l.5 -.5l1.5 0l.5 -.2l.5 .1l.5 -.6l1 -.1l1 -.5l.5 .2l.5 -.3l1.5 .2l2 -.6l1.5 .4l.5 .3l.5 -.3l.5 .3l1 0l2 1l.5 -.2l.5 .2l.5 .5l.5 .2l.5 -.1l1 .8l3 .9l.5 .6l.5 -.1l2.5 1.3l.5 .6l1.5 .5l1 1.2l1 .6l.5 -.3l.5 .7l.5 .1l1 1.2l1 .7l.5 -.1l.5 .3l1 1l.5 -.2l1 1.2l.5 -.2l1 .3l.5 .7l.5 -.2l2 1.5l.5 -.2l.5 1.1l.5 .4l.5 .4l1 -.1l.5 1.6l.5 -.6l.5 .9l.5 -.3l.5 -.1l.5 1.2l.5 .6l.5 0l.5 .6l.5 .1l.5 -.1l1 1l.5 .1l.5 .6l.5 -.1l.5 .3l.3 .5"/>
<path stroke="#2297E6" d="M98.4 339.7l4 -.7l6.5 -2.6l6 -1.5l1.5 -.6l1 -.8l2 -2l6 -7.5l2 -1.6l1.5 -.7l1.5 .2l3 1.8l9.5 4.2l2 .7l4 1.1l3.5 1.4l1 .2l1 0l1 -.4l.5 -.8l2.5 -7.3l1 -3.8l1 -6l1 -10.3l2.5 -34.4l2 -30.9l4 -75.4l2 -21.7l1 -7.6l1 -5.2l1.5 -5.3l1 -2.5l1.5 -2.4l2.5 -3.5l3 -3.3l7 -5.6l2 -1.5l2.5 -1.3l1.5 -.3l1 0l1.5 .4l1.5 .7l1.5 1.7l2 3.2l2 4.7l4.5 14.5l2 5.3l1.5 3l.5 .4l.5 .1l.5 -.1l.5 -.5l2 -3.8l2.5 -7.9l4 -10.9l2.5 -5.4l2 -3.4l1 -1.3l2.5 -2.6l1.5 -1.3l1 -.6l1 -.3l1 .2l1.5 1l1 .9l1.5 2.1l1.5 3.3l1 2.7l1 3.9l1.5 7.5l7.5 42.9l1 4.4l2.5 8.5l.5 1.1l.5 .6l1 .1l1 -.3l2.5 -1.3l5.5 -4.3l2 -.8l2 -.4l2 .2l2 .9l1.5 1l2 2l1 1.6l1 2.2l3 8.6l4.5 17.7l3.9 13.5"/>
<path stroke="#61D04F" d="M312.8 310.1l4 -1l2 -.8l1.5 -1l2 -1.9l2 -2.6l4 -6.4l11.5 -20.1l3.5 -5.5l2 -2.3l3 -2.8l1.5 -1l3 -1.3l1.5 -.3l1.5 0l3 .7l4.5 1.7l5 3.2l3 2.5l7 7l6 4.7l1.5 1.9l2.2 3.9"/>
<path stroke="#CD0BBC" d="M413 334.6l5 -2.9l8 -2.9l7.5 -4.4l2.5 -1.1l1 -.6l.5 0l.5 -.5l2 -.6l1 -.7l.5 0l3.5 -1.6l.5 0l1 -.5l.5 -.3l.5 .3l.5 -.3l1 -.2l.5 -.3l1 -.2l1 .1l.5 -.3l.5 .2l.5 -.5l1 -.1l.5 -.5l1 0l.5 -.6l.5 0l1 -.3l.5 -.5l.5 .1l2 -.9l2 -.5l.5 -.2l1 0l.5 -.3l1 .2l1 -.5l1.5 .6l1 -.2l1.5 .5l.5 .4l.5 -.4l.5 .5l1.5 -.1l.5 .5l.5 0l1 .5l.5 0l2.5 1.7l.5 0l1.5 1.3l1 .4l.5 .7l.5 -.5l.5 .6l2.5 1l.5 .4l.5 -.1l1 1.2l.5 -.3l.5 .6l.5 -.1l1.5 .9l.5 -.1l1.5 1.8l.5 0l1 .6l.5 .8l.5 -.2l.5 .6l1.5 .8l.5 .7l1 -.4l1 1.2l1 .5l.5 -.1l.5 .9l.5 -.1l2 .7l.5 .6l.5 -.1l.5 .4l.5 -.3l1 1.3l.5 -.4l.5 .8l.5 -.2l.5 .2l.5 1l.5 -.7l1.5 1.2l.3 -.9"/>
<path stroke="#61D04F" d="M98.4 339.2l4.5 -1.1l6.5 -2.3l2 -.4l3.5 -.3l1.5 -.4l1.5 -1.2l2 -2.1l6 -8.4l2 -1.6l1 -.5l.5 0l1 .3l2.5 1.8l2 1.2l7.5 3.8l2.5 1.1l8 1.5l1.5 -.1l1 -.4l.5 -.5l2.5 -7.3l1 -3.7l1 -6l1 -10.3l2.5 -34.8l2 -31l4 -75.6l2 -21.8l1 -7.8l1.5 -7.4l1.5 -4.8l1 -2.1l3 -5l2.5 -3.5l2 -2.1l5.5 -4.1l4 -2.6l1.5 -.9l1.5 -.5l1 0l1.5 .2l1.5 .8l2 2.6l1.5 2.9l1.5 3.9l4.5 15.3l2.5 7.1l1 2.1l.5 .6l1 .4l.5 -.1l.5 -.5l1.5 -2.5l2.5 -7.1l3.5 -8.4l2.5 -4.9l2.5 -3.6l1 -1l2.5 -1.7l1.5 -.7l1 -.2l1 .2l1 .5l2 2.1l1.5 2.2l1.5 3.3l1.5 4.2l1 3.8l1.5 7.3l7.5 41.1l2 7l1.5 4l.5 .7l.5 .3l1 -.1l1.5 -.4l2.5 -1.5l5 -3.9l2 -1.1l1.5 -.4l2 -.1l2 .5l2 .9l2 1.5l1 1.4l1 2l3 8.3l4.5 17.4l3.9 13.7"/>
<path stroke="#DF536B" d="M312.8 308.3l6.5 -2l2 -1.4l1.5 -1.6l2.5 -3.7l9 -16l9.5 -15.7l2.5 -3.2l2 -2l1.5 -1l3.5 -1.6l2.5 -.5l2 .2l2.5 1l2.5 1.5l4.5 4l6.5 5.1l6.5 5.8l4 2.9l1.5 1.6l2.2 3.6"/>
<path stroke="#F5C710" d="M413 334.8l4 -2.2l7.5 -3.1l5 -2.6l5 -1.8l.5 -.4l1 -.2l2 -1.1l.5 0l1 -.6l3 -1.4l2.5 -.9l.5 0l.5 -.6l1 0l3 -1.1l.5 .3l.5 -.6l1 0l1 -.6l1 -.2l1.5 -.9l2 -.6l.5 -.5l2 -.1l.5 -.8l1.5 .1l1.5 -.9l.5 .3l1.5 -.5l1 0l1 -.3l.5 .2l1.5 -.1l1 .8l1 -.6l1.5 .5l.5 .4l.5 -.2l.5 .8l1 .2l.5 .8l.5 -.4l.5 .5l.5 0l1 1.3l1 .4l.5 0l.5 .8l.5 -.2l.5 0l.5 .7l1 .8l.5 .1l.5 -.1l.5 .2l3 2l.5 -.1l.5 .6l.5 .1l.5 .7l.5 0l1.5 1.2l1.5 .9l1 .3l.5 .6l1 .5l.5 -.2l1 .9l.5 0l.5 .4l1 -.1l1.5 1.3l.5 -.2l1 1l.5 0l.5 .4l.5 0l1 1.4l1 -.5l.5 .2l.5 .8l1 -.2l1 .9l1 -.1l.5 1.3l.5 0l.5 -.7l.5 .1l.3 .6"/>
<path stroke="#DF536B" d="M98.4 338.3l3.5 -1.8l2 -.7l2 -.4l5.5 -.4l2.5 -.6l2 -1l1.5 -1.3l2 -2.4l6.5 -8.8l2 -1.8l1.5 -.9l.5 0l1 .5l7.5 5.9l1.5 .9l1.5 .7l2 .3l3.5 .1l1.5 .2l3.5 1.5l1.5 .4l.5 0l1 -.4l.5 -.4l.5 -.8l3.5 -13.4l1 -6.8l.5 -5.6l5 -78l3.5 -71.3l1 -14.1l2 -22.6l1.5 -10.1l2 -7.9l1 -2.3l1.5 -2.1l1.5 -1.5l2 -1.5l7 -3.7l3 -1.1l3.5 -.4l2.5 0l2.5 .4l1 .7l1 1l1 1.5l2 4.8l1 3.1l4.5 16.5l2 5.6l1 1.9l.5 .5l1 .3l.5 -.3l.5 -.7l1.5 -3l2.5 -8.1l3.5 -10.2l1.5 -3.7l3 -6l2 -3l1.5 -1.6l1.5 -1.2l1.5 -.4l1 .4l1 .9l2 2.5l2 3.5l2 4.8l1 3.3l2 10.3l7.5 46.1l2 9.1l1.5 5.4l.5 1l.5 .4l1.5 -.4l3 -1.5l5 -2.9l5 -2.5l2 -.7l1.5 0l1 .4l1.5 1l1 1l1 1.8l1 2.4l3 9.2l4.5 18.9l3.9 14.2"/>
<path stroke="#61D04F" d="M312.8 309l5 -1l1.5 -.5l2 -1.4l1.5 -1.4l1.5 -2.1l2.5 -4.2l9.5 -17.3l6.5 -10.3l2.5 -3l3 -2.8l1.5 -1l3.5 -1.5l2.5 -.5l2 .2l3.5 1.2l2.5 1.3l8 6.3l7 5.9l5.5 4.1l1.5 1.8l2.2 3.9"/>
<path stroke="#61D04F" d="M413 333.9l6.5 -3.6l7.5 -3.2l5 -2.8l2.5 -1l1 -.6l2 -.6l4 -1.7l.5 -.1l1.5 -.8l1 -.3l2 -1.3l2 -.5l.5 -.5l.5 .1l1 -.6l.5 0l.5 -.4l.5 .1l.5 -.5l1 0l.5 -.5l1 .1l.5 -.4l1 -.2l1 -.9l.5 .4l.5 -.5l1 0l.5 -.6l.5 .1l.5 -.3l.5 -.1l.5 -.4l1 0l.5 .2l.5 -.2l.5 -.5l1 .2l1 -.1l.5 .3l1 -.4l1 .8l.5 -.4l.5 .4l1 .2l2 -.2l3 1l1 .9l.5 0l.5 .6l.5 -.1l2 1.2l.5 .1l.5 .8l1 .3l1.5 1.2l.5 -.1l1 1l.5 -.3l.5 .6l1 .5l.5 .9l1.5 .4l1.5 .9l1 .3l.5 .9l1.5 .6l.5 .7l.5 -.3l.5 .6l1.5 .8l.5 .5l.5 -.3l1 .8l1 .3l1.5 1l.5 -.2l2 1.1l.5 .1l.5 -.4l.5 .6l1.5 .7l1 1l.5 -.4l.5 .5l.5 0l.5 .8l1 .7l.8 .3"/>
<path stroke="#CD0BBC" d="M98.4 339.9l2 -.3l4 -.1l2 -.4l2 -.7l4.5 -2.2l3.5 -1l1 -.5l2 -1.5l1.5 -1.5l5.5 -7.3l1.5 -1.4l1 -.6l.5 0l1 .3l3 2.4l2.5 1.4l7.5 1.6l8 3.5l1.5 .3l1 -.1l1.5 -.7l.5 -.6l2.5 -6.9l1 -3.5l1 -5.7l1 -9.8l2.5 -33.1l2 -30.4l4 -74.1l1 -11.2l1.5 -13.4l1 -5.6l1 -4.1l1 -2.9l1 -2.1l7.5 -9l2 -1.8l2.5 -1.8l7 -3.3l1.5 -.5l1.5 -.2l1 .2l1 .5l.5 .5l2 3.3l2 4.5l2 5.8l3.5 11.4l2 5.4l1.5 2.9l.5 .4l.5 .1l.5 -.2l1 -1l1.5 -2.6l2.5 -6.8l3.5 -8.1l3.5 -6.9l2 -3l1.5 -1.4l2 -1.4l1 -.5l1.5 -.3l1 0l1 .4l1.5 .9l1.5 1.4l1 1.4l1.5 3.2l1.5 5l1.5 6.8l7 36.4l1 4.2l2.5 7.2l1 1.7l.5 .2l2.5 -.5l3 -1.3l6.5 -4.4l2 -.7l1.5 .1l1 .4l1.5 1.2l1.5 1.5l2 2.6l1 1.6l1.5 3.4l2 5.4l1.5 4.9l3 11.7l4.4 15.6"/>
<path stroke="#28E2E5" d="M312.8 314l4.5 -.7l2 -.6l2 -1.1l2 -1.8l2 -2.5l2.5 -3.9l5.5 -10l3.5 -5.9l5.5 -8.1l2.5 -2.7l3.5 -3l2.5 -1.4l2.5 -.9l2.5 -.1l2.5 .5l4 1.6l3 1.8l5.5 4.2l5.5 4.8l4.5 2.8l2.5 1.9l2 2.4l2.7 5.3"/>
<path stroke="#DF536B" d="M413 336.6l4 -1.6l8.5 -4.4l8 -3.1l3.5 -1.7l.5 0l1 -.6l.5 0l.5 -.4l1 -.1l.5 -.3l1.5 -.4l.5 -.4l.5 .3l.5 -.5l2 -1l1.5 -.5l2.5 -1.6l3 -1.2l.5 -.4l1 -.2l.5 -.5l.5 .2l1 -.4l1 .1l1 -.5l1 .2l1.5 -.6l.5 .1l1 -.6l.5 .2l1 -.5l1.5 -.2l1 .2l.5 -.3l1.5 .3l.5 -.1l1 .5l1 .2l.5 .5l.5 -.4l.5 .2l.5 -.2l.5 .7l.5 -.3l.5 .5l.5 .1l1 .7l.5 -.5l.5 .8l1.5 .3l1 .7l.5 -.1l.5 .5l2.5 1.1l.5 .4l.5 0l.5 1l.5 .1l1 .5l.5 -.1l.5 1l1.5 1l.5 .8l.5 -.2l.5 .5l.5 -.1l1 1.3l1 0l1 .8l1.5 .2l.5 .7l2 1.1l.5 .7l.5 -.1l.5 .4l.5 -.2l.5 .2l.5 .5l.5 -.1l1 .8l1 .3l.5 .5l.5 -.4l1 1.1l.5 -.4l1.5 1.3l.5 -.2l.5 -.8l1.5 1.2l.5 -.2l1 .8l.5 -.1l.3 .4"/>
<path stroke="#DF536B" d="M98.4 341.9l2.5 -.4l6 -1.7l6 -1l3 -1.1l1.5 -.9l2 -1.7l6.5 -6.8l2.5 -1.8l1 -.4l1.5 .3l10.5 4.4l2.5 .5l4.5 .4l5.5 2l1.5 -.2l.5 -.6l2 -4.3l1.5 -4.9l1 -5.1l1 -8.5l1 -10.9l2 -26.3l1.5 -23l4 -73.2l1 -10.9l1.5 -12l1 -5l1.5 -5.1l1.5 -3.6l1.5 -2.3l2 -2.6l2.5 -2.6l4 -3.3l4.5 -4.3l3 -2.1l1.5 -.6l1 -.3l2.5 .2l1 .3l1 .7l1.5 1.9l2 3.6l1.5 3.6l4.5 13.8l2.5 6.8l1 2l.5 .5l.5 .1l.5 -.1l.5 -.5l1.5 -2.8l3 -7.9l3 -6.1l2 -3.5l3 -4.1l1.5 -1.5l2.5 -1.9l1.5 -1l1 -.4l1.5 .1l1 .6l1 .9l2 2.5l1 1.8l1.5 3.3l1.5 4.6l1 3.9l5 25.2l2.5 11.2l1 3.5l2.5 5.7l1 1.6l.5 .4l1 -.1l2 -1l3.5 -2.6l2.5 -1.5l2 -.8l2 -.4l2 .2l2 .7l2 1.2l1.5 1.5l1.5 2.1l1 2l3.5 9.2l8.4 29.2"/>
<path stroke="#61D04F" d="M312.8 306.6l6 -2.1l1.5 -1l2 -2.1l2 -2.9l4 -6.9l9 -16.6l5.5 -9l2 -2.4l3.5 -3l3.5 -2l2.5 -1.1l1.5 -.3l1.5 -.1l4.5 .6l2 .7l2.5 1.6l2.5 1.9l2 1.9l8.5 9.8l2 1.7l3.5 2.5l1.5 1.9l1.7 2.7"/>
<path stroke="#28E2E5" d="M413 336.7l7 -3.2l5.5 -3l4.5 -1.7l2 -.4l1.5 -.6l1 -.1l1 -.5l1 -.2l.5 -.4l1 -.2l4 -2.2l1 -.2l3.5 -1.5l.5 0l.5 -.5l.5 0l1 -.6l1 -.3l2.5 -1.4l.5 .1l.5 -.3l.5 0l.5 -.5l.5 .1l1.5 -.8l.5 .2l.5 -.6l.5 .3l1.5 -.6l1 -.1l.5 .2l1.5 -.7l.5 .3l1.5 -.7l2.5 -.2l.5 -.3l.5 .6l.5 -.4l.5 -.1l1 .2l.5 -.3l.5 .3l1 -.1l.5 .4l.5 0l1 .6l1 .2l.5 .7l.5 0l1 .9l.5 .1l1 .6l.5 -.1l.5 .9l.5 -.1l1 1.3l1 -.3l.5 .7l1.5 .6l.5 1l.5 -.2l.5 .6l.5 0l1 1l.5 .2l.5 .7l1 .4l.5 .6l.5 -.4l.5 1.2l.5 -.3l.5 .6l.5 -.1l.5 .7l.5 .2l.5 -.1l.5 .6l1.5 .1l.5 .6l1 -.1l.5 .6l1 .4l.5 .1l.5 -.2l.5 .1l1 1.2l1.5 -.3l.5 .8l.5 .1l.5 .3l.5 .7l.5 -.4l1 .9l1 .1l.5 .9l.5 .3l.5 -.4l.5 .1l.5 -.3l.5 1.1l1 .2l.5 .3l.3 0"/>
<path stroke="#000000" d="M312.8 300.4l4 -1.2l2 -.9l1.5 -1.3l2 -2.4l1.5 -2.5l6 -11.1l7.5 -16.1l5.5 -10.3l2 -2.9l3 -3.1l2 -1.6l3 -1.6l2.5 -.7l2 0l5 .9l2 1l5 4.6l11 12.1l1.5 1.2l2.5 1.4l1 .8l2.7 3.3"/>
<path stroke="#000000" d="M413 329.6l7.5 -4.3l6.5 -4.5l3 -1.8l4 -2.1l.5 0l1.5 -1l1 -.4l1.5 -1.1l3.5 -1.7l1.5 -.6l3.5 -.8l.5 -.3l.5 0l1 -.7l.5 .3l.5 -.5l.5 -.1l1 -.6l.5 -.1l2.5 -1.4l3 -1.1l.5 0l.5 -.1l.5 -.5l1 .5l.5 -.4l3 -.4l.5 -.3l1 .1l.5 -.3l1 .1l.5 -.2l.5 .1l.5 -.3l1 0l.5 .4l.5 -.1l.5 .2l.5 -.2l.5 .5l.5 -.1l2 .6l.5 .4l.5 0l.5 .8l.5 .1l.5 .4l.5 -.4l.5 .3l.5 0l.5 .5l1 .5l.5 .1l.5 -.4l1 1.1l.5 -.3l.5 .3l.5 0l.5 .4l1 .2l.5 .4l.5 0l1.5 1.1l.5 .1l.5 -.1l.5 .8l1 .5l.5 .8l.5 -.3l.5 .9l1.5 1.2l1 .3l.5 .8l.5 0l1.5 .9l.5 .5l1 .3l.5 .7l1.5 .7l.5 .6l.5 -.2l1 1.4l.5 .1l.5 .3l.5 .9l2.5 1.6l1 1l.5 .1l.5 .4l.5 -.1l.5 .5l.5 .2l.5 .9l.5 .3l.5 -.3l1 1.2l.3 0"/>
<path stroke="#28E2E5" d="M158.4 336.7l2 -6.5l1 -5.4l1 -7.1l1.5 -15.7l.5 -8.1l2 -49.6l.5 -6.5l.5 -3.1l.5 -.7l1.5 -26.1l1 -12.8l1 -7.6l1 -5.3l1 -3.7l1.5 -4.5l1.5 -3.4l2 -3.2l2.5 -3l2.5 -2.1l2.5 -1.2l3.5 -1.1l8.5 -2.3l1.5 -.2l1 .1l1.5 .8l1.5 1.1l1.5 2.1l9 20.1l1.5 3.1l.5 .1l.5 -.4l1 -2.1l1.5 -5.1l1.5 -3.8l1.5 -2.7l2 -2.9"/>
<path stroke="#000000" d="M230.4 159.3l3.5 -2.4l1.5 -.4l1 .2l1.5 1.2l2 2.5l1.5 2.5l1 2.2l2 5.6l1 3.7l5 26.9l2 8l1 3.1l.5 1l2.5 2.4l1.5 .7l1 .1l1 -.4l2.5 -1.7l5 -4.6l4 -1.9l1.5 -.2l1.5 .3l2 1l2 1.7l1 .9l1 1.4l2 4.6l3 8.1l2 6.2l3.5 12.9l1 2.1l.9 1"/>
<path stroke="#2297E6" d="M98.4 334.1l14.5 -4.8l2 -.9l1.5 -1l1 -1.2l2.5 -4.2l5.5 -9.7l2.5 -3l1 -.7l.5 -.2l1 .3l3 3.1l6 4.2l3 1.7l6 2.3l4 2.7l1 .2l.5 -.1l.5 -.3l1 -1.3l.5 -1.5l1.5 -8.6l2 -8.6l1 -8.4l1.5 -25.5l5 -100.9"/>
<path stroke="#61D04F" d="M170 103.8l1.5 -27.1l1 -13.3l.5 -4.4l.5 -3.2l1 -4.1l1 -2l1 -.9l7.5 -4.2l4.5 -2.9l2 -.9l3.5 -1.1l5 -1l2.5 -.2l1 .5l1 .9l.5 .8l1.5 4.3l3 14.3l3 11.1l2.5 7.3l1 1.5l.5 .1l.5 -.3l1 -1.1l1.5 -2.2l1 -2l4 -10.2l5.5 -15.9l1.5 -3.2l1 -1.7l1 -1l1.5 .1l1.5 .8l1 1l.5 .8l2 4.9l2 6.6l2 8.3l2 10.8l2.5 16.2l1 7.1l2 17.2l1 4.9l1.5 4.9l1 2.3l2 3.2l1 1.1l1 .4l1.5 -.4l3 -1.7l5 -4.8l3.5 -2.7l1.5 -.8l1.5 -.2l1.5 .7l2.5 2.1l1 1.4l1.5 3.2l1.5 4.3l2 6.6l1 4.2l5 26.6l2.8 16.2"/>
<path stroke="#CD0BBC" d="M225 62.7l2 -4.5l2 -3.8l1.5 -1.9l2 -1.9l1 -.6l1.5 -.4l1 .3l1 1.1l2 3.3l1 1.2l2.5 9.7l2 9.3l3.5 21.5l2.5 17.2l2 9.8l1.5 5l2.5 5.6l1 1.3l.5 .3l.5 .1l1.5 -.4l2.5 -1.2l5 -3.9l4 -2.3l2 -.7l1.5 -.1l1 .4l2 1.4l1.5 1.6l1 2.1l1 2.8l3 11.1l4.5 24.9l3.8 19"/>
<path stroke="#000000" d="M172.2 70.2l1 -9.7l1 -5.1l1.5 -5.4l.5 -1.2l1 -1.4l2 -1.4l4.5 -1.8l3.5 -1.9l4 -1.2l2.5 -.4l2 -.1l2.5 .3l2.5 .7l1.5 1.1l1 1.3l1 2.4l.5 1.8l.5 2.8l1 11l1 7.7l1 6.1l1.5 6.3l1 2.8l1.5 2.6l1.5 1.7l1 .3l.5 -.2l1 -1.1l2 -3.6l1 -2.2l3 -9l3.5 -12.5l2.5 -6.9l1.5 -3.4l1 -1.4l1.5 -.9l1.5 -.6l1.5 0l1 .6l1 .9l1.5 1.8l1 2.1l1.5 4.2l1.5 5.5l1.5 8.1l5.5 35.3l2.5 14.6l1.5 7.1l2.5 8.3l1 2.3l.5 .7l.5 .3l1.5 -.2l3 -1.1l5 -4l4 -1.8l2.5 -.5l1 .1l1 .5l1.5 1.1l1.5 1.6l1 1.9l1 2.8l3 10.9l1.5 6.9l3 15.9l4.1 18.4"/>
<path stroke="#9E9E9E" d="M312.8 299l5.5 -6.3l6.5 -7.1l7 -10.7l13.2 -16.9"/>
<path stroke="#61D04F" d="M312.8 298.5l5 -6.7l5.5 -6.2l2.5 -3.5l15.5 -29.9l3 -4.8l2.5 -3.2l2.5 -2.6l2 -1.6l3.5 -2.2l1.5 -.3l2.5 .4l3.5 1.2l2 1.3l5 5l9.5 12.5l1.5 1.3l2.5 1.3l1.5 1.2l2 2.1l1.7 2.2"/>
<path stroke="#2297E6" d="M312.8 297l5 -6.8l5.5 -6l2 -2.6l11 -19.4l5.5 -8.9l2 -2.5l6.5 -7.4l1.5 -1.3l2.5 -1.3l2 -.5l2 0l3.5 1.1l2 1.1l2.5 2l3 2.8l6 7.3l4.5 4.9l1.5 1.2l3 1.5l3.7 2.3"/>
<polyline stroke="#61D04F" points="413.8,327.5 425,321.5 440,313.5 455,307 465,303.8 472,304.2 482,308.5 492,314.5 500,320 511.8,327.5"/>
<polyline stroke="#28E2E5" points="413.8,326.5 422,321 435,313 450,306 462,302.5 468,302 476,304.5 488,312.5 497,317.5 505,322.5 511.8,326.8"/>
<polyline stroke="#9E9E9E" points="413.8,325.2 420,320.5 427,315 435.6,309.2 446,305 458.6,300.9 466.5,300.3 476,303.5 483,308 490,312.5 495,313 500,318 505,321 511.8,326.5"/>
<polyline stroke="#2297E6" points="413.8,323.9 420,319.7 430,312.5 440,305.6 448,300.5 454.8,295.8 464.4,295.2 469.3,294.5 473.5,296.9 481.8,304.3 490,311.5 495.8,316.5 497.6,315.3 504.8,320.5 509,323.3 511.8,326"/>
</g>
<g fill="none" stroke-width="2" stroke-linejoin="round">
<polyline stroke="#ff0000" points="98.4,335.1 106.8,329.9 128.9,307.8 165.1,100 172.6,52.8 178.9,44.9 184.5,41.2 191,37.4 239.5,40.6 280.1,124.4"/>
<polyline stroke="#ff0000" points="312.8,295.2 338.2,255.2"/>
<polyline stroke="#ff0000" points="414,323.4 445.6,300.9"/>
</g><g fill="none" stroke-width="1.45" stroke-linejoin="round">
<polyline stroke="#2e2ee0" points="117,342 151.2,340.3"/>
<polyline stroke="#2e2ee0" points="214.3,184.8 258.5,217 291.8,248.4"/>
<polyline stroke="#2e2ee0" points="324.3,319.4 380.8,301.9"/>
<polyline stroke="#2e2ee0" points="420,341.9 506,341.9"/>
</g>
<path fill="none" stroke="#000" stroke-width="1.9" stroke-linejoin="miter" stroke-miterlimit="10" d="M152.6 185.4V320.4M150.6 189.9L152.6 185.3L154.6 189.9M150.6 315.9L152.6 320.5L154.6 315.9M216.1 41.2V77.9M214.1 45.7L216.1 41.1L218.1 45.7M214.1 73.4L216.1 78L218.1 73.4M259.6 84.8V130.4M257.6 89.3L259.6 84.7L261.6 89.3M257.6 125.9L259.6 130.5L261.6 125.9M236 156.8V196.9M234 161.3L236 156.7L238 161.3M234 192.4L236 197L238 192.4M276.3 209.6V228.2M274.3 214.1L276.3 209.5L278.3 214.1M274.3 223.7L276.3 228.3L278.3 223.7M355 289.1V307.5M353 293.6L355 289L357 293.6M353 303L355 307.6L357 303M464 328V340.8M462 332.5L464 327.9L466 332.5M462 336.3L464 340.9L466 336.3M117.4 319.7V326.5M116 322.1L117.4 319.6L118.9 322.1M116 324.1L117.4 326.6L118.9 324.1M128.9 333V339.5M127.5 335.4L128.9 332.9L130.3 335.4M127.5 337.1L128.9 339.6L130.3 337.1M321.9 281.4V287.8M320.4 283.8L321.9 281.3L323.3 283.8M320.4 285.4L321.9 287.9L323.3 285.4M418.8 319.5V323.6M417.4 321.9L418.8 319.4L420.2 321.9M417.4 321.2L418.8 323.7L420.2 321.2"/>
<rect x="81.5" y="7.6" width="460.6" height="352.4" fill="none" stroke="#5e5e5e" stroke-width="1.45"/>
<path d="M118.3 360V368M220.1 360V368M321.7 360V368M424.2 360V368M526.0 360V368M72.3 20.7H81.5M72.3 75.1H81.5M72.3 129.5H81.5M72.3 183.8H81.5M72.3 238.2H81.5M72.3 292.6H81.5M72.3 347.0H81.5" stroke="#5e5e5e" stroke-width="1.4" fill="none"/>
<g font-family="Liberation Sans, sans-serif" fill="#1a1a1a"><text x="105.68" y="388.6" font-size="13.7" textLength="25.94" lengthAdjust="spacingAndGlyphs">500</text><text x="203.15" y="388.6" font-size="13.7" textLength="34.59" lengthAdjust="spacingAndGlyphs">1000</text><text x="304.75" y="388.6" font-size="13.7" textLength="34.59" lengthAdjust="spacingAndGlyphs">1500</text><text x="406.30" y="388.6" font-size="13.7" textLength="34.59" lengthAdjust="spacingAndGlyphs">2000</text><text x="508.10" y="388.6" font-size="13.7" textLength="34.59" lengthAdjust="spacingAndGlyphs">2500</text><text transform="translate(59.10 27.30) rotate(-90)" x="-0.66" y="0" font-size="16.00" textLength="14.36" lengthAdjust="spacingAndGlyphs">60</text><text transform="translate(59.10 81.70) rotate(-90)" x="-0.51" y="0" font-size="16.00" textLength="14.21" lengthAdjust="spacingAndGlyphs">50</text><text transform="translate(59.10 136.10) rotate(-90)" x="-0.29" y="0" font-size="16.00" textLength="13.98" lengthAdjust="spacingAndGlyphs">40</text><text transform="translate(59.10 190.45) rotate(-90)" x="-0.49" y="0" font-size="16.00" textLength="14.18" lengthAdjust="spacingAndGlyphs">30</text><text transform="translate(59.10 244.80) rotate(-90)" x="-0.65" y="0" font-size="16.00" textLength="14.35" lengthAdjust="spacingAndGlyphs">20</text><text transform="translate(59.10 299.20) rotate(-90)" x="-1.01" y="0" font-size="16.00" textLength="14.73" lengthAdjust="spacingAndGlyphs">10</text><text transform="translate(59.10 349.90) rotate(-90)" x="-0.47" y="0" font-size="16.00" textLength="6.75" lengthAdjust="spacingAndGlyphs">0</text><text x="253.33" y="420.70" font-size="14.50" textLength="117.12" lengthAdjust="spacingAndGlyphs">Wavelength (nm)</text><text transform="translate(21.90 229.70) rotate(-90)" x="-1.10" y="0" font-size="16.60" textLength="95.23" lengthAdjust="spacingAndGlyphs">Reflectance (%)</text></g>
<g font-family="Liberation Sans, sans-serif" fill="#141414" stroke="#141414" stroke-width="0.15"><text x="185.27" y="29.80" font-size="13.30" textLength="58.69" lengthAdjust="spacingAndGlyphs">AF_980</text><text x="245.47" y="49.60" font-size="13.95" textLength="67.18" lengthAdjust="spacingAndGlyphs">AF_1170</text><text x="86.07" y="187.50" font-size="14.10" textLength="58.59" lengthAdjust="spacingAndGlyphs">AF_680</text><text x="105.94" y="354.40" font-size="13.70" textLength="68.21" lengthAdjust="spacingAndGlyphs">RpF_550</text><text x="319.41" y="332.10" font-size="13.10" textLength="67.76" lengthAdjust="spacingAndGlyphs">RpF_1670</text><text x="424.41" y="355.70" font-size="12.60" textLength="67.76" lengthAdjust="spacingAndGlyphs">RpF_2200</text></g>
<g font-family="Liberation Sans, sans-serif" fill="#101010" stroke="#101010" stroke-width="0.3"><text x="182.06" y="214.50" font-size="11.90" textLength="59.03" lengthAdjust="spacingAndGlyphs">RpF_1080</text><text x="216.57" y="243.70" font-size="11.20" textLength="58.62" lengthAdjust="spacingAndGlyphs">RpF_1270</text><text x="294.28" y="252.40" font-size="10.30" textLength="45.36" lengthAdjust="spacingAndGlyphs">AF_1500</text><text x="82.87" y="306.90" font-size="11.00" textLength="46.04" lengthAdjust="spacingAndGlyphs">AF_500</text><text x="392.58" y="304.70" font-size="10.30" textLength="46.27" lengthAdjust="spacingAndGlyphs">AF_2000</text></g>
</svg></body></html>
